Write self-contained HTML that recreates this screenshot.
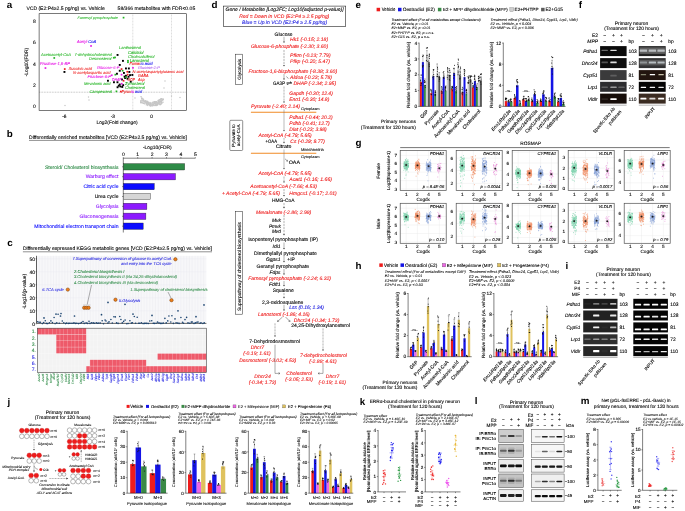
<!DOCTYPE html>
<html><head><meta charset="utf-8"><title>Figure</title>
<style>
html,body{margin:0;padding:0;background:#fff;}
body{width:685px;height:511px;overflow:hidden;}
svg{display:block;font-family:"Liberation Sans",sans-serif;}
text{white-space:pre;text-rendering:geometricPrecision;fill:currentColor;stroke:currentColor;stroke-width:.1px;}
.s{stroke-width:.06px;}
</style></head><body>
<svg width="685" height="511" viewBox="0 0 685 511">
<defs><filter id="bl" x="-10%" y="-100%" width="120%" height="300%"><feGaussianBlur stdDeviation="0.45"/></filter><filter id="bw" x="-10%" y="-100%" width="120%" height="300%"><feGaussianBlur stdDeviation="0.55 0.45"/></filter></defs>
<rect width="685" height="511" fill="#fff"/>
<text x="6.8" y="7.9" font-size="9.8" font-weight="bold" style="stroke:none">a</text>
<text x="26.4" y="10.1" font-size="5.04" textLength="78.4" lengthAdjust="spacingAndGlyphs">VCD (E2:P4≥2.5 pg/ng) vs. Vehicle</text>
<text x="117.6" y="10.1" font-size="5.05" textLength="77.6" lengthAdjust="spacingAndGlyphs">58/366 metabolites with FDR&lt;0.05</text>
<rect x="39.1" y="13.7" width="147.2" height="96.7" fill="#fff" stroke="#222" stroke-width="0.6"/>
<line x1="132.8" y1="13.7" x2="132.8" y2="110.4" stroke="#777" stroke-width="0.4" stroke-dasharray="0.6 0.9"/>
<line x1="171.5" y1="13.7" x2="171.5" y2="110.4" stroke="#777" stroke-width="0.4" stroke-dasharray="0.6 0.9"/>
<line x1="39.1" y1="92.2" x2="186.3" y2="92.2" stroke="#555" stroke-width="0.4" stroke-dasharray="0.8 0.8"/>
<text x="34.5" y="108.2" font-size="5.01" text-anchor="middle">0</text>
<text x="34.5" y="86.9" font-size="5.01" text-anchor="middle">2</text>
<text x="34.5" y="65.6" font-size="5.01" text-anchor="middle">4</text>
<text x="34.5" y="44.3" font-size="5.01" text-anchor="middle">6</text>
<text x="34.5" y="23" font-size="5.01" text-anchor="middle">8</text>
<text x="64.3" y="117.7" font-size="4.8" text-anchor="middle">-6</text>
<text x="112.8" y="117.7" font-size="4.8" text-anchor="middle">-3</text>
<text x="151.5" y="117.7" font-size="4.8" text-anchor="middle">0</text>
<text x="117" y="123.9" font-size="4.91" text-anchor="middle">Log2(Fold change)</text>
<text x="26.2" y="63.8" font-size="4.91" text-anchor="middle" transform="rotate(-90 26.2 62.1)">-Log10(FDR)</text>
<rect x="145.3" y="102.5" width="1.3" height="1.3" fill="#c6c6c6"/>
<rect x="148.4" y="103.6" width="1.3" height="1.3" fill="#c6c6c6"/>
<rect x="154.2" y="101.4" width="1.3" height="1.3" fill="#c6c6c6"/>
<rect x="140.2" y="101.3" width="1.3" height="1.3" fill="#c6c6c6"/>
<rect x="145.8" y="101.3" width="1.3" height="1.3" fill="#c6c6c6"/>
<rect x="162.7" y="98.5" width="1.3" height="1.3" fill="#c6c6c6"/>
<rect x="159.1" y="101.3" width="1.3" height="1.3" fill="#c6c6c6"/>
<rect x="154.5" y="101.7" width="1.3" height="1.3" fill="#c6c6c6"/>
<rect x="154.5" y="104.6" width="1.3" height="1.3" fill="#c6c6c6"/>
<rect x="151.9" y="104.3" width="1.3" height="1.3" fill="#c6c6c6"/>
<rect x="155.3" y="101.1" width="1.3" height="1.3" fill="#c6c6c6"/>
<rect x="157.3" y="102.8" width="1.3" height="1.3" fill="#c6c6c6"/>
<rect x="146.8" y="100.8" width="1.3" height="1.3" fill="#c6c6c6"/>
<rect x="159.8" y="100.9" width="1.3" height="1.3" fill="#c6c6c6"/>
<rect x="156.4" y="104.3" width="1.3" height="1.3" fill="#c6c6c6"/>
<rect x="156.3" y="104.5" width="1.3" height="1.3" fill="#c6c6c6"/>
<rect x="148.9" y="104.4" width="1.3" height="1.3" fill="#c6c6c6"/>
<rect x="150.1" y="105.1" width="1.3" height="1.3" fill="#c6c6c6"/>
<rect x="160.1" y="98.6" width="1.3" height="1.3" fill="#c6c6c6"/>
<rect x="143" y="99.5" width="1.3" height="1.3" fill="#c6c6c6"/>
<rect x="162.1" y="98.9" width="1.3" height="1.3" fill="#c6c6c6"/>
<rect x="154.3" y="102.3" width="1.3" height="1.3" fill="#c6c6c6"/>
<rect x="151.5" y="102.9" width="1.3" height="1.3" fill="#c6c6c6"/>
<rect x="147.9" y="103.4" width="1.3" height="1.3" fill="#c6c6c6"/>
<rect x="153.3" y="104.9" width="1.3" height="1.3" fill="#c6c6c6"/>
<rect x="155.5" y="104.7" width="1.3" height="1.3" fill="#c6c6c6"/>
<rect x="159.5" y="103.9" width="1.3" height="1.3" fill="#c6c6c6"/>
<rect x="155.3" y="101.5" width="1.3" height="1.3" fill="#c6c6c6"/>
<rect x="159.6" y="103.7" width="1.3" height="1.3" fill="#c6c6c6"/>
<rect x="160.7" y="100.9" width="1.3" height="1.3" fill="#c6c6c6"/>
<rect x="156.3" y="101.4" width="1.3" height="1.3" fill="#c6c6c6"/>
<rect x="159" y="101.9" width="1.3" height="1.3" fill="#c6c6c6"/>
<rect x="146.4" y="100.8" width="1.3" height="1.3" fill="#c6c6c6"/>
<rect x="159.5" y="103.9" width="1.3" height="1.3" fill="#c6c6c6"/>
<rect x="141.9" y="102.2" width="1.3" height="1.3" fill="#c6c6c6"/>
<rect x="149.3" y="101.9" width="1.3" height="1.3" fill="#c6c6c6"/>
<rect x="146.6" y="103.9" width="1.3" height="1.3" fill="#c6c6c6"/>
<rect x="159.9" y="98.4" width="1.3" height="1.3" fill="#c6c6c6"/>
<rect x="154" y="101.3" width="1.3" height="1.3" fill="#c6c6c6"/>
<rect x="156.4" y="101.9" width="1.3" height="1.3" fill="#c6c6c6"/>
<rect x="160.1" y="103.6" width="1.3" height="1.3" fill="#c6c6c6"/>
<rect x="151.5" y="105.3" width="1.3" height="1.3" fill="#c6c6c6"/>
<rect x="147" y="101" width="1.3" height="1.3" fill="#c6c6c6"/>
<rect x="153.6" y="101.3" width="1.3" height="1.3" fill="#c6c6c6"/>
<rect x="144.4" y="101.4" width="1.3" height="1.3" fill="#c6c6c6"/>
<rect x="153.9" y="101.8" width="1.3" height="1.3" fill="#c6c6c6"/>
<rect x="140.8" y="102" width="1.3" height="1.3" fill="#c6c6c6"/>
<rect x="147.1" y="104.8" width="1.3" height="1.3" fill="#c6c6c6"/>
<rect x="160.5" y="99.9" width="1.3" height="1.3" fill="#c6c6c6"/>
<rect x="150.4" y="103.4" width="1.3" height="1.3" fill="#c6c6c6"/>
<rect x="154.7" y="103.5" width="1.3" height="1.3" fill="#c6c6c6"/>
<rect x="152.7" y="103.8" width="1.3" height="1.3" fill="#c6c6c6"/>
<rect x="161.5" y="99.9" width="1.3" height="1.3" fill="#c6c6c6"/>
<rect x="149.8" y="104.2" width="1.3" height="1.3" fill="#c6c6c6"/>
<rect x="145.3" y="101.4" width="1.3" height="1.3" fill="#c6c6c6"/>
<rect x="162.3" y="99.2" width="1.3" height="1.3" fill="#c6c6c6"/>
<rect x="152.5" y="101.4" width="1.3" height="1.3" fill="#c6c6c6"/>
<rect x="149.4" y="103.6" width="1.3" height="1.3" fill="#c6c6c6"/>
<rect x="140.3" y="99.9" width="1.3" height="1.3" fill="#c6c6c6"/>
<rect x="154.4" y="101.3" width="1.3" height="1.3" fill="#c6c6c6"/>
<rect x="154.3" y="103" width="1.3" height="1.3" fill="#c6c6c6"/>
<rect x="155.5" y="102.3" width="1.3" height="1.3" fill="#c6c6c6"/>
<rect x="156.1" y="103.8" width="1.3" height="1.3" fill="#c6c6c6"/>
<rect x="140.4" y="96" width="1.3" height="1.3" fill="#c6c6c6"/>
<rect x="155.4" y="104.9" width="1.3" height="1.3" fill="#c6c6c6"/>
<rect x="145.6" y="102.2" width="1.3" height="1.3" fill="#c6c6c6"/>
<rect x="153.5" y="102.5" width="1.3" height="1.3" fill="#c6c6c6"/>
<rect x="148.2" y="102.4" width="1.3" height="1.3" fill="#c6c6c6"/>
<rect x="148.3" y="103.5" width="1.3" height="1.3" fill="#c6c6c6"/>
<rect x="146.8" y="102.3" width="1.3" height="1.3" fill="#c6c6c6"/>
<rect x="157.6" y="100" width="1.3" height="1.3" fill="#c6c6c6"/>
<rect x="152.9" y="104.2" width="1.3" height="1.3" fill="#c6c6c6"/>
<rect x="147" y="101.7" width="1.3" height="1.3" fill="#c6c6c6"/>
<rect x="158.3" y="100.6" width="1.3" height="1.3" fill="#c6c6c6"/>
<rect x="144.2" y="101.4" width="1.3" height="1.3" fill="#c6c6c6"/>
<rect x="155.9" y="101.1" width="1.3" height="1.3" fill="#c6c6c6"/>
<rect x="147.3" y="102.2" width="1.3" height="1.3" fill="#c6c6c6"/>
<rect x="159" y="101.2" width="1.3" height="1.3" fill="#c6c6c6"/>
<rect x="159.5" y="99.4" width="1.3" height="1.3" fill="#c6c6c6"/>
<rect x="147.6" y="103.6" width="1.3" height="1.3" fill="#c6c6c6"/>
<rect x="160.2" y="100.5" width="1.3" height="1.3" fill="#c6c6c6"/>
<rect x="145" y="100.4" width="1.3" height="1.3" fill="#c6c6c6"/>
<rect x="152" y="102.1" width="1.3" height="1.3" fill="#c6c6c6"/>
<rect x="158.4" y="103.5" width="1.3" height="1.3" fill="#c6c6c6"/>
<rect x="144.1" y="100.6" width="1.3" height="1.3" fill="#c6c6c6"/>
<rect x="158.4" y="102.5" width="1.3" height="1.3" fill="#c6c6c6"/>
<rect x="158.4" y="101.1" width="1.3" height="1.3" fill="#c6c6c6"/>
<rect x="142.8" y="99.8" width="1.3" height="1.3" fill="#c6c6c6"/>
<rect x="158.1" y="100.9" width="1.3" height="1.3" fill="#c6c6c6"/>
<rect x="147.8" y="102.7" width="1.3" height="1.3" fill="#c6c6c6"/>
<rect x="149.5" y="102.9" width="1.3" height="1.3" fill="#c6c6c6"/>
<rect x="161" y="98" width="1.3" height="1.3" fill="#c6c6c6"/>
<rect x="140" y="102" width="1.3" height="1.3" fill="#c6c6c6"/>
<rect x="160.1" y="103.6" width="1.3" height="1.3" fill="#c6c6c6"/>
<rect x="149.8" y="105.1" width="1.3" height="1.3" fill="#c6c6c6"/>
<rect x="161.2" y="98.3" width="1.3" height="1.3" fill="#c6c6c6"/>
<rect x="157" y="104" width="1.3" height="1.3" fill="#c6c6c6"/>
<rect x="155.1" y="103.1" width="1.3" height="1.3" fill="#c6c6c6"/>
<rect x="146.5" y="102" width="1.3" height="1.3" fill="#c6c6c6"/>
<rect x="145.1" y="100.2" width="1.3" height="1.3" fill="#c6c6c6"/>
<rect x="153.4" y="102.4" width="1.3" height="1.3" fill="#c6c6c6"/>
<rect x="158.5" y="99.5" width="1.3" height="1.3" fill="#c6c6c6"/>
<rect x="160.6" y="101.6" width="1.3" height="1.3" fill="#c6c6c6"/>
<rect x="161.1" y="102.6" width="1.3" height="1.3" fill="#c6c6c6"/>
<rect x="160.5" y="101" width="1.3" height="1.3" fill="#c6c6c6"/>
<rect x="140.2" y="100.7" width="1.3" height="1.3" fill="#c6c6c6"/>
<rect x="143.8" y="100.5" width="1.3" height="1.3" fill="#c6c6c6"/>
<rect x="155.1" y="103.1" width="1.3" height="1.3" fill="#c6c6c6"/>
<rect x="149.4" y="105" width="1.3" height="1.3" fill="#c6c6c6"/>
<rect x="153.9" y="102.6" width="1.3" height="1.3" fill="#c6c6c6"/>
<rect x="145.7" y="104.1" width="1.3" height="1.3" fill="#c6c6c6"/>
<rect x="150.8" y="104.5" width="1.3" height="1.3" fill="#c6c6c6"/>
<rect x="147.9" y="101.8" width="1.3" height="1.3" fill="#c6c6c6"/>
<rect x="152.1" y="104.6" width="1.3" height="1.3" fill="#c6c6c6"/>
<rect x="143.8" y="103.1" width="1.3" height="1.3" fill="#c6c6c6"/>
<rect x="161.1" y="102.1" width="1.3" height="1.3" fill="#c6c6c6"/>
<rect x="158.8" y="99.1" width="1.3" height="1.3" fill="#c6c6c6"/>
<rect x="154.3" y="104.6" width="1.3" height="1.3" fill="#c6c6c6"/>
<rect x="141" y="98.1" width="1.3" height="1.3" fill="#c6c6c6"/>
<rect x="146" y="102.7" width="1.3" height="1.3" fill="#c6c6c6"/>
<rect x="149.6" y="103.2" width="1.3" height="1.3" fill="#c6c6c6"/>
<rect x="157.7" y="99.8" width="1.3" height="1.3" fill="#c6c6c6"/>
<rect x="141.1" y="97.3" width="1.3" height="1.3" fill="#c6c6c6"/>
<rect x="142.7" y="98.5" width="1.3" height="1.3" fill="#c6c6c6"/>
<rect x="162.3" y="101.6" width="1.3" height="1.3" fill="#c6c6c6"/>
<rect x="141.8" y="100.3" width="1.3" height="1.3" fill="#c6c6c6"/>
<rect x="147.1" y="102.1" width="1.3" height="1.3" fill="#c6c6c6"/>
<rect x="147.9" y="103.7" width="1.3" height="1.3" fill="#c6c6c6"/>
<rect x="153.3" y="102.7" width="1.3" height="1.3" fill="#c6c6c6"/>
<rect x="144.2" y="100.9" width="1.3" height="1.3" fill="#c6c6c6"/>
<rect x="142.7" y="101.2" width="1.3" height="1.3" fill="#c6c6c6"/>
<rect x="156.3" y="102.2" width="1.3" height="1.3" fill="#c6c6c6"/>
<rect x="141.7" y="98.2" width="1.3" height="1.3" fill="#c6c6c6"/>
<rect x="148.4" y="103.6" width="1.3" height="1.3" fill="#c6c6c6"/>
<rect x="157.9" y="101.5" width="1.3" height="1.3" fill="#c6c6c6"/>
<rect x="158.3" y="102.5" width="1.3" height="1.3" fill="#c6c6c6"/>
<rect x="149.8" y="102.8" width="1.3" height="1.3" fill="#c6c6c6"/>
<rect x="151.3" y="104.2" width="1.3" height="1.3" fill="#c6c6c6"/>
<rect x="149.5" y="104.1" width="1.3" height="1.3" fill="#c6c6c6"/>
<rect x="150.4" y="102.3" width="1.3" height="1.3" fill="#c6c6c6"/>
<rect x="152.2" y="104.1" width="1.3" height="1.3" fill="#c6c6c6"/>
<rect x="141.5" y="99.6" width="1.3" height="1.3" fill="#c6c6c6"/>
<rect x="149.6" y="104.8" width="1.3" height="1.3" fill="#c6c6c6"/>
<rect x="161.4" y="99.1" width="1.3" height="1.3" fill="#c6c6c6"/>
<rect x="160.5" y="102.3" width="1.3" height="1.3" fill="#c6c6c6"/>
<rect x="145.9" y="102.3" width="1.3" height="1.3" fill="#c6c6c6"/>
<rect x="142.7" y="102.7" width="1.3" height="1.3" fill="#c6c6c6"/>
<rect x="155.1" y="104.6" width="1.3" height="1.3" fill="#c6c6c6"/>
<rect x="158.1" y="102.8" width="1.3" height="1.3" fill="#c6c6c6"/>
<rect x="156.7" y="102.8" width="1.3" height="1.3" fill="#c6c6c6"/>
<rect x="64.4" y="104.9" width="1.2" height="1.2" fill="#c2c2c2"/>
<rect x="87.9" y="96.4" width="1.2" height="1.2" fill="#c2c2c2"/>
<rect x="88.4" y="99.4" width="1.2" height="1.2" fill="#c2c2c2"/>
<rect x="164.4" y="80.4" width="1.2" height="1.2" fill="#c2c2c2"/>
<rect x="163.4" y="87.4" width="1.2" height="1.2" fill="#c2c2c2"/>
<rect x="170.9" y="95.4" width="1.2" height="1.2" fill="#c2c2c2"/>
<rect x="179.4" y="96.9" width="1.2" height="1.2" fill="#c2c2c2"/>
<rect x="134.4" y="97.4" width="1.2" height="1.2" fill="#c2c2c2"/>
<rect x="116.6" y="54" width="1.9" height="1.9" fill="#000"/>
<rect x="122" y="59.9" width="1.9" height="1.9" fill="#000"/>
<rect x="118.8" y="64" width="1.9" height="1.9" fill="#000"/>
<rect x="125" y="67.5" width="1.9" height="1.9" fill="#000"/>
<rect x="127.9" y="67.5" width="1.9" height="1.9" fill="#000"/>
<rect x="118.8" y="69.8" width="1.9" height="1.9" fill="#000"/>
<rect x="128.4" y="71" width="1.9" height="1.9" fill="#000"/>
<rect x="116" y="72.8" width="1.9" height="1.9" fill="#000"/>
<rect x="129.1" y="74.2" width="1.9" height="1.9" fill="#000"/>
<rect x="131.4" y="74" width="1.9" height="1.9" fill="#000"/>
<rect x="123.6" y="75.6" width="1.9" height="1.9" fill="#000"/>
<rect x="125" y="74.8" width="1.9" height="1.9" fill="#000"/>
<rect x="124.2" y="77.1" width="1.9" height="1.9" fill="#000"/>
<rect x="126.6" y="77.8" width="1.9" height="1.9" fill="#000"/>
<rect x="107" y="79.8" width="1.9" height="1.9" fill="#000"/>
<rect x="113" y="81.3" width="1.9" height="1.9" fill="#000"/>
<rect x="116.5" y="81.3" width="1.9" height="1.9" fill="#000"/>
<rect x="129.8" y="80.8" width="1.9" height="1.9" fill="#000"/>
<rect x="118.8" y="83.6" width="1.9" height="1.9" fill="#000"/>
<rect x="117.8" y="84.8" width="1.9" height="1.9" fill="#000"/>
<rect x="116.6" y="86.3" width="1.9" height="1.9" fill="#000"/>
<rect x="119.5" y="85.5" width="1.9" height="1.9" fill="#000"/>
<rect x="121.3" y="86" width="1.9" height="1.9" fill="#000"/>
<rect x="122.2" y="84.2" width="1.9" height="1.9" fill="#000"/>
<rect x="63.5" y="71" width="1.9" height="1.9" fill="#000"/>
<rect x="123" y="72" width="1.9" height="1.9" fill="#000"/>
<rect x="121" y="78.5" width="1.9" height="1.9" fill="#000"/>
<rect x="127.6" y="75.8" width="1.9" height="1.9" fill="#000"/>
<rect x="122.7" y="16.8" width="1.7" height="1.7" fill="#22b422"/>
<rect x="90.2" y="45.1" width="1.7" height="1.7" fill="#e619e6"/>
<rect x="53.4" y="57.1" width="1.7" height="1.7" fill="#22b422"/>
<rect x="44.6" y="67.2" width="1.7" height="1.7" fill="#e619e6"/>
<rect x="63.9" y="68.2" width="1.7" height="1.7" fill="#ee1c1c"/>
<rect x="112.9" y="56.9" width="1.7" height="1.7" fill="#22b422"/>
<rect x="114.2" y="56.6" width="1.7" height="1.7" fill="#22b422"/>
<rect x="127.1" y="59.9" width="1.7" height="1.7" fill="#22b422"/>
<rect x="127.1" y="61.4" width="1.7" height="1.7" fill="#22b422"/>
<rect x="120.7" y="68.2" width="1.7" height="1.7" fill="#ee1c1c"/>
<rect x="132.1" y="67" width="1.7" height="1.7" fill="#e619e6"/>
<rect x="110.9" y="74.4" width="1.7" height="1.7" fill="#e619e6"/>
<rect x="114.5" y="73.8" width="1.7" height="1.7" fill="#22b422"/>
<rect x="121.8" y="69.9" width="1.7" height="1.7" fill="#22b422"/>
<rect x="126.4" y="70.9" width="1.7" height="1.7" fill="#ee1c1c"/>
<rect x="126.8" y="73.8" width="1.7" height="1.7" fill="#ee1c1c"/>
<rect x="122.7" y="79.9" width="1.7" height="1.7" fill="#ee1c1c"/>
<rect x="120.9" y="82.9" width="1.7" height="1.7" fill="#e619e6"/>
<rect x="115.6" y="90.5" width="1.7" height="1.7" fill="#22b422"/>
<rect x="120" y="90.7" width="1.7" height="1.7" fill="#ee1c1c"/>
<rect x="125.2" y="76.5" width="1.7" height="1.7" fill="#22b422"/>
<rect x="120.7" y="73.8" width="1.7" height="1.7" fill="#e619e6"/>
<text x="77.5" y="18.9" font-size="3.77" color="#22b422" class="s" font-style="italic" textLength="40.5" lengthAdjust="spacingAndGlyphs">Farnesyl pyrophosphate</text>
<text x="77" y="43" font-size="4.25" color="#e619e6" font-style="italic" textLength="11.2" lengthAdjust="spacingAndGlyphs">Acetyl-</text>
<text x="88.2" y="43" font-size="4.25" color="#2222ee" font-style="italic" textLength="8" lengthAdjust="spacingAndGlyphs">CoA</text>
<text x="41" y="55.6" font-size="4.03" color="#22b422" class="s" font-style="italic" textLength="30" lengthAdjust="spacingAndGlyphs">Acetoacetyl-CoA</text>
<text x="40" y="65" font-size="4.12" color="#e619e6" font-style="italic" textLength="30" lengthAdjust="spacingAndGlyphs">Fructose-1,6-BP</text>
<text x="68.5" y="70.2" font-size="4.03" color="#ee1c1c" class="s" font-style="italic" textLength="23.5" lengthAdjust="spacingAndGlyphs">Succinic acid</text>
<text x="73" y="74" font-size="4.04" color="#ee1c1c" class="s" font-style="italic" textLength="37.5" lengthAdjust="spacingAndGlyphs">N-acetylaspartic acid</text>
<text x="74.5" y="55.9" font-size="4.02" color="#22b422" class="s" font-style="italic" textLength="37.5" lengthAdjust="spacingAndGlyphs">7-dehydrocholesterol</text>
<text x="89" y="59.8" font-size="4.01" color="#22b422" class="s" font-style="italic" textLength="22.5" lengthAdjust="spacingAndGlyphs">Desmosterol</text>
<text x="97" y="69.2" font-size="4.05" color="#e619e6" class="s" font-style="italic" textLength="22.5" lengthAdjust="spacingAndGlyphs">Glucose-6-P</text>
<text x="87.5" y="78.4" font-size="4.07" color="#e619e6" font-style="italic" textLength="23.5" lengthAdjust="spacingAndGlyphs">Fructose-6-P</text>
<text x="84" y="85" font-size="4.01" color="#22b422" class="s" font-style="italic" textLength="26.5" lengthAdjust="spacingAndGlyphs">Mevalonic acid</text>
<text x="89.5" y="92.6" font-size="3.97" color="#22b422" class="s" font-style="italic" textLength="22.5" lengthAdjust="spacingAndGlyphs">Campesterol</text>
<text x="112" y="81.1" font-size="4.25" color="#e619e6" font-style="italic" textLength="9.5" lengthAdjust="spacingAndGlyphs">DHAP</text>
<text x="119" y="49" font-size="4.0" color="#22b422" class="s" font-style="italic" textLength="22" lengthAdjust="spacingAndGlyphs">Lanthosterol</text>
<text x="128" y="53.5" font-size="4.25" color="#22b422" font-style="italic" textLength="15.5" lengthAdjust="spacingAndGlyphs">Calcitriol</text>
<text x="128" y="57.6" font-size="4.04" color="#22b422" class="s" font-style="italic" textLength="26.5" lengthAdjust="spacingAndGlyphs">Cholecalciferol</text>
<text x="130" y="61.5" font-size="4.25" color="#22b422" font-style="italic" textLength="19" lengthAdjust="spacingAndGlyphs">Lanosterol</text>
<text x="129.5" y="65.1" font-size="4.25" color="#ee1c1c" font-style="italic" textLength="11" lengthAdjust="spacingAndGlyphs">Fumar</text>
<text x="140.5" y="65.1" font-size="4.25" color="#2222ee" font-style="italic" textLength="12" lengthAdjust="spacingAndGlyphs">ic acid</text>
<text x="138" y="69" font-size="3.96" color="#b060f0" class="s" font-style="italic" textLength="22" lengthAdjust="spacingAndGlyphs">Glucose-1-P</text>
<text x="132.5" y="72.8" font-size="3.92" color="#ee1c1c" class="s" font-style="italic" textLength="51" lengthAdjust="spacingAndGlyphs">N-acetylaspartylglutamic acid</text>
<text x="138" y="76.9" font-size="4.25" color="#ee1c1c" font-style="italic" textLength="10.5" lengthAdjust="spacingAndGlyphs">GABA</text>
<text x="127.5" y="81.1" font-size="4.25" color="#ee1c1c" font-style="italic" textLength="7.5" lengthAdjust="spacingAndGlyphs">GDP</text>
<text x="138" y="81.1" font-size="4.25" color="#ee1c1c" font-style="italic" textLength="6.5" lengthAdjust="spacingAndGlyphs">Asp</text>
<text x="125" y="85.1" font-size="4.25" color="#22b422" font-style="italic" textLength="19.5" lengthAdjust="spacingAndGlyphs">Zymosterol</text>
<text x="125" y="88.8" font-size="3.95" color="#22b422" class="s" font-style="italic" textLength="20" lengthAdjust="spacingAndGlyphs">Cholesterol</text>
<text x="121.5" y="92.7" font-size="4.25" color="#ee1c1c" font-style="italic" textLength="9.5" lengthAdjust="spacingAndGlyphs">Pyruv</text>
<text x="131" y="92.7" font-size="4.25" color="#e619e6" font-style="italic" textLength="3" lengthAdjust="spacingAndGlyphs">ic</text>
<text x="135" y="92.7" font-size="4.25" color="#2222ee" font-style="italic" textLength="7" lengthAdjust="spacingAndGlyphs">acid</text>
<text x="6.8" y="137" font-size="9.8" font-weight="bold" style="stroke:none">b</text>
<text x="29" y="139" font-size="5.03" textLength="157.9" lengthAdjust="spacingAndGlyphs">Differentially enriched metabolites [VCD (E2:P4≥2.5 pg/ng) vs. Vehicle]</text>
<line x1="29" y1="140.4" x2="186.9" y2="140.4" stroke="#444" stroke-width="0.6"/>
<text x="157.3" y="149" font-size="4.91" text-anchor="middle">-Log10(FDR)</text>
<text x="123.3" y="156.1" font-size="5.07" text-anchor="middle">0</text>
<line x1="123.3" y1="157" x2="123.3" y2="158.4" stroke="#000" stroke-width="0.4"/>
<text x="137.7" y="156.1" font-size="5.07" text-anchor="middle">1</text>
<line x1="137.7" y1="157" x2="137.7" y2="158.4" stroke="#000" stroke-width="0.4"/>
<text x="152.1" y="156.1" font-size="5.07" text-anchor="middle">2</text>
<line x1="152.1" y1="157" x2="152.1" y2="158.4" stroke="#000" stroke-width="0.4"/>
<text x="166.5" y="156.1" font-size="5.07" text-anchor="middle">3</text>
<line x1="166.5" y1="157" x2="166.5" y2="158.4" stroke="#000" stroke-width="0.4"/>
<text x="180.9" y="156.1" font-size="5.07" text-anchor="middle">4</text>
<line x1="180.9" y1="157" x2="180.9" y2="158.4" stroke="#000" stroke-width="0.4"/>
<text x="195.3" y="156.1" font-size="5.07" text-anchor="middle">5</text>
<line x1="195.3" y1="157" x2="195.3" y2="158.4" stroke="#000" stroke-width="0.4"/>
<line x1="123.3" y1="158.2" x2="195.3" y2="158.2" stroke="#000" stroke-width="0.5"/>
<line x1="123.3" y1="158.2" x2="123.3" y2="232.5" stroke="#000" stroke-width="0.5"/>
<rect x="123.3" y="163.6" width="61.4" height="6.4" fill="#2e8b47" stroke="#222" stroke-width="0.35"/>
<line x1="122" y1="166.8" x2="123.3" y2="166.8" stroke="#000" stroke-width="0.4"/>
<text x="118.5" y="168.5" font-size="5.05" text-anchor="end" color="#2e8b47">Steroid/ Cholesterol biosynthesis</text>
<rect x="123.3" y="173.5" width="52.2" height="6.4" fill="#8c1aff" stroke="#222" stroke-width="0.35"/>
<line x1="122" y1="176.7" x2="123.3" y2="176.7" stroke="#000" stroke-width="0.4"/>
<text x="118.5" y="178.4" font-size="5.05" text-anchor="end" color="#8c1aff">Warburg effect</text>
<rect x="123.3" y="183.4" width="31" height="6.4" fill="#0b0bff" stroke="#222" stroke-width="0.35"/>
<line x1="122" y1="186.6" x2="123.3" y2="186.6" stroke="#000" stroke-width="0.4"/>
<text x="118.5" y="188.3" font-size="5.05" text-anchor="end" color="#0b0bff">Citric acid cycle</text>
<rect x="123.3" y="193.3" width="27.3" height="6.4" fill="#d6d6d6" stroke="#222" stroke-width="0.35"/>
<line x1="122" y1="196.5" x2="123.3" y2="196.5" stroke="#000" stroke-width="0.4"/>
<text x="118.5" y="198.2" font-size="5.05" text-anchor="end">Urea cycle</text>
<rect x="123.3" y="203.2" width="23.6" height="6.4" fill="#8c1aff" stroke="#222" stroke-width="0.35"/>
<line x1="122" y1="206.4" x2="123.3" y2="206.4" stroke="#000" stroke-width="0.4"/>
<text x="118.5" y="208.1" font-size="5.05" text-anchor="end" color="#8c1aff">Glycolysis</text>
<rect x="123.3" y="213.1" width="22.6" height="6.4" fill="#8c1aff" stroke="#222" stroke-width="0.35"/>
<line x1="122" y1="216.3" x2="123.3" y2="216.3" stroke="#000" stroke-width="0.4"/>
<text x="118.5" y="218" font-size="5.05" text-anchor="end" color="#8c1aff">Gluconeogenesis</text>
<rect x="123.3" y="223" width="19.9" height="6.4" fill="#0b0bff" stroke="#222" stroke-width="0.35"/>
<line x1="122" y1="226.2" x2="123.3" y2="226.2" stroke="#000" stroke-width="0.4"/>
<text x="118.5" y="227.9" font-size="5.05" text-anchor="end" color="#0b0bff">Mitochondrial electron transport chain</text>
<text x="7.2" y="245.8" font-size="9.8" font-weight="bold" style="stroke:none">c</text>
<text x="22.9" y="250.4" font-size="5.04" textLength="189" lengthAdjust="spacingAndGlyphs">Differentially expressed KEGG metabolic genes [VCD (E2:P4≥2.5 pg/ng) vs. Vehicle]</text>
<line x1="22.9" y1="251.8" x2="212" y2="251.8" stroke="#444" stroke-width="0.6"/>
<rect x="36.5" y="255.8" width="169.9" height="67.6" fill="#f7f7f9"/>
<line x1="39.3" y1="255.8" x2="39.3" y2="323.4" stroke="#e3e3ea" stroke-width="0.3"/>
<line x1="42.2" y1="255.8" x2="42.2" y2="323.4" stroke="#e3e3ea" stroke-width="0.3"/>
<line x1="45" y1="255.8" x2="45" y2="323.4" stroke="#e3e3ea" stroke-width="0.3"/>
<line x1="47.8" y1="255.8" x2="47.8" y2="323.4" stroke="#e3e3ea" stroke-width="0.3"/>
<line x1="50.7" y1="255.8" x2="50.7" y2="323.4" stroke="#e3e3ea" stroke-width="0.3"/>
<line x1="53.5" y1="255.8" x2="53.5" y2="323.4" stroke="#e3e3ea" stroke-width="0.3"/>
<line x1="56.3" y1="255.8" x2="56.3" y2="323.4" stroke="#e3e3ea" stroke-width="0.3"/>
<line x1="59.2" y1="255.8" x2="59.2" y2="323.4" stroke="#e3e3ea" stroke-width="0.3"/>
<line x1="62" y1="255.8" x2="62" y2="323.4" stroke="#e3e3ea" stroke-width="0.3"/>
<line x1="64.8" y1="255.8" x2="64.8" y2="323.4" stroke="#e3e3ea" stroke-width="0.3"/>
<line x1="67.6" y1="255.8" x2="67.6" y2="323.4" stroke="#e3e3ea" stroke-width="0.3"/>
<line x1="70.5" y1="255.8" x2="70.5" y2="323.4" stroke="#e3e3ea" stroke-width="0.3"/>
<line x1="73.3" y1="255.8" x2="73.3" y2="323.4" stroke="#e3e3ea" stroke-width="0.3"/>
<line x1="76.1" y1="255.8" x2="76.1" y2="323.4" stroke="#e3e3ea" stroke-width="0.3"/>
<line x1="79" y1="255.8" x2="79" y2="323.4" stroke="#e3e3ea" stroke-width="0.3"/>
<line x1="81.8" y1="255.8" x2="81.8" y2="323.4" stroke="#e3e3ea" stroke-width="0.3"/>
<line x1="84.6" y1="255.8" x2="84.6" y2="323.4" stroke="#e3e3ea" stroke-width="0.3"/>
<line x1="87.5" y1="255.8" x2="87.5" y2="323.4" stroke="#e3e3ea" stroke-width="0.3"/>
<line x1="90.3" y1="255.8" x2="90.3" y2="323.4" stroke="#e3e3ea" stroke-width="0.3"/>
<line x1="93.1" y1="255.8" x2="93.1" y2="323.4" stroke="#e3e3ea" stroke-width="0.3"/>
<line x1="96" y1="255.8" x2="96" y2="323.4" stroke="#e3e3ea" stroke-width="0.3"/>
<line x1="98.8" y1="255.8" x2="98.8" y2="323.4" stroke="#e3e3ea" stroke-width="0.3"/>
<line x1="101.6" y1="255.8" x2="101.6" y2="323.4" stroke="#e3e3ea" stroke-width="0.3"/>
<line x1="104.5" y1="255.8" x2="104.5" y2="323.4" stroke="#e3e3ea" stroke-width="0.3"/>
<line x1="107.3" y1="255.8" x2="107.3" y2="323.4" stroke="#e3e3ea" stroke-width="0.3"/>
<line x1="110.1" y1="255.8" x2="110.1" y2="323.4" stroke="#e3e3ea" stroke-width="0.3"/>
<line x1="113" y1="255.8" x2="113" y2="323.4" stroke="#e3e3ea" stroke-width="0.3"/>
<line x1="115.8" y1="255.8" x2="115.8" y2="323.4" stroke="#e3e3ea" stroke-width="0.3"/>
<line x1="118.6" y1="255.8" x2="118.6" y2="323.4" stroke="#e3e3ea" stroke-width="0.3"/>
<line x1="121.5" y1="255.8" x2="121.5" y2="323.4" stroke="#e3e3ea" stroke-width="0.3"/>
<line x1="124.3" y1="255.8" x2="124.3" y2="323.4" stroke="#e3e3ea" stroke-width="0.3"/>
<line x1="127.1" y1="255.8" x2="127.1" y2="323.4" stroke="#e3e3ea" stroke-width="0.3"/>
<line x1="129.9" y1="255.8" x2="129.9" y2="323.4" stroke="#e3e3ea" stroke-width="0.3"/>
<line x1="132.8" y1="255.8" x2="132.8" y2="323.4" stroke="#e3e3ea" stroke-width="0.3"/>
<line x1="135.6" y1="255.8" x2="135.6" y2="323.4" stroke="#e3e3ea" stroke-width="0.3"/>
<line x1="138.4" y1="255.8" x2="138.4" y2="323.4" stroke="#e3e3ea" stroke-width="0.3"/>
<line x1="141.3" y1="255.8" x2="141.3" y2="323.4" stroke="#e3e3ea" stroke-width="0.3"/>
<line x1="144.1" y1="255.8" x2="144.1" y2="323.4" stroke="#e3e3ea" stroke-width="0.3"/>
<line x1="146.9" y1="255.8" x2="146.9" y2="323.4" stroke="#e3e3ea" stroke-width="0.3"/>
<line x1="149.8" y1="255.8" x2="149.8" y2="323.4" stroke="#e3e3ea" stroke-width="0.3"/>
<line x1="152.6" y1="255.8" x2="152.6" y2="323.4" stroke="#e3e3ea" stroke-width="0.3"/>
<line x1="155.4" y1="255.8" x2="155.4" y2="323.4" stroke="#e3e3ea" stroke-width="0.3"/>
<line x1="158.3" y1="255.8" x2="158.3" y2="323.4" stroke="#e3e3ea" stroke-width="0.3"/>
<line x1="161.1" y1="255.8" x2="161.1" y2="323.4" stroke="#e3e3ea" stroke-width="0.3"/>
<line x1="163.9" y1="255.8" x2="163.9" y2="323.4" stroke="#e3e3ea" stroke-width="0.3"/>
<line x1="166.8" y1="255.8" x2="166.8" y2="323.4" stroke="#e3e3ea" stroke-width="0.3"/>
<line x1="169.6" y1="255.8" x2="169.6" y2="323.4" stroke="#e3e3ea" stroke-width="0.3"/>
<line x1="172.4" y1="255.8" x2="172.4" y2="323.4" stroke="#e3e3ea" stroke-width="0.3"/>
<line x1="175.3" y1="255.8" x2="175.3" y2="323.4" stroke="#e3e3ea" stroke-width="0.3"/>
<line x1="178.1" y1="255.8" x2="178.1" y2="323.4" stroke="#e3e3ea" stroke-width="0.3"/>
<line x1="180.9" y1="255.8" x2="180.9" y2="323.4" stroke="#e3e3ea" stroke-width="0.3"/>
<line x1="183.7" y1="255.8" x2="183.7" y2="323.4" stroke="#e3e3ea" stroke-width="0.3"/>
<line x1="186.6" y1="255.8" x2="186.6" y2="323.4" stroke="#e3e3ea" stroke-width="0.3"/>
<line x1="189.4" y1="255.8" x2="189.4" y2="323.4" stroke="#e3e3ea" stroke-width="0.3"/>
<line x1="192.2" y1="255.8" x2="192.2" y2="323.4" stroke="#e3e3ea" stroke-width="0.3"/>
<line x1="195.1" y1="255.8" x2="195.1" y2="323.4" stroke="#e3e3ea" stroke-width="0.3"/>
<line x1="197.9" y1="255.8" x2="197.9" y2="323.4" stroke="#e3e3ea" stroke-width="0.3"/>
<line x1="200.7" y1="255.8" x2="200.7" y2="323.4" stroke="#e3e3ea" stroke-width="0.3"/>
<line x1="203.6" y1="255.8" x2="203.6" y2="323.4" stroke="#e3e3ea" stroke-width="0.3"/>
<line x1="36.5" y1="310.8" x2="206.4" y2="310.8" stroke="#e6e6ee" stroke-width="0.3"/>
<line x1="36.5" y1="297.8" x2="206.4" y2="297.8" stroke="#e6e6ee" stroke-width="0.3"/>
<line x1="36.5" y1="284.8" x2="206.4" y2="284.8" stroke="#e6e6ee" stroke-width="0.3"/>
<line x1="36.5" y1="271.8" x2="206.4" y2="271.8" stroke="#e6e6ee" stroke-width="0.3"/>
<line x1="36.5" y1="258.8" x2="206.4" y2="258.8" stroke="#e6e6ee" stroke-width="0.3"/>
<line x1="36.5" y1="255.8" x2="36.5" y2="323.4" stroke="#000" stroke-width="0.6"/>
<line x1="36.5" y1="323.4" x2="206.4" y2="323.4" stroke="#000" stroke-width="0.6"/>
<text x="35" y="325.5" font-size="4.91" text-anchor="end">0</text>
<line x1="35.5" y1="323.8" x2="36.5" y2="323.8" stroke="#000" stroke-width="0.4"/>
<text x="35" y="312.5" font-size="4.91" text-anchor="end">10</text>
<line x1="35.5" y1="310.8" x2="36.5" y2="310.8" stroke="#000" stroke-width="0.4"/>
<text x="35" y="299.5" font-size="4.91" text-anchor="end">20</text>
<line x1="35.5" y1="297.8" x2="36.5" y2="297.8" stroke="#000" stroke-width="0.4"/>
<text x="35" y="286.5" font-size="4.91" text-anchor="end">30</text>
<line x1="35.5" y1="284.8" x2="36.5" y2="284.8" stroke="#000" stroke-width="0.4"/>
<text x="35" y="273.5" font-size="4.91" text-anchor="end">40</text>
<line x1="35.5" y1="271.8" x2="36.5" y2="271.8" stroke="#000" stroke-width="0.4"/>
<text x="35" y="260.5" font-size="4.91" text-anchor="end">50</text>
<line x1="35.5" y1="258.8" x2="36.5" y2="258.8" stroke="#000" stroke-width="0.4"/>
<line x1="36" y1="323.8" x2="36.5" y2="323.8" stroke="#000" stroke-width="0.2"/>
<line x1="36" y1="322.5" x2="36.5" y2="322.5" stroke="#000" stroke-width="0.2"/>
<line x1="36" y1="321.2" x2="36.5" y2="321.2" stroke="#000" stroke-width="0.2"/>
<line x1="36" y1="319.9" x2="36.5" y2="319.9" stroke="#000" stroke-width="0.2"/>
<line x1="36" y1="318.6" x2="36.5" y2="318.6" stroke="#000" stroke-width="0.2"/>
<line x1="36" y1="317.3" x2="36.5" y2="317.3" stroke="#000" stroke-width="0.2"/>
<line x1="36" y1="316" x2="36.5" y2="316" stroke="#000" stroke-width="0.2"/>
<line x1="36" y1="314.7" x2="36.5" y2="314.7" stroke="#000" stroke-width="0.2"/>
<line x1="36" y1="313.4" x2="36.5" y2="313.4" stroke="#000" stroke-width="0.2"/>
<line x1="36" y1="312.1" x2="36.5" y2="312.1" stroke="#000" stroke-width="0.2"/>
<line x1="36" y1="310.8" x2="36.5" y2="310.8" stroke="#000" stroke-width="0.2"/>
<line x1="36" y1="309.5" x2="36.5" y2="309.5" stroke="#000" stroke-width="0.2"/>
<line x1="36" y1="308.2" x2="36.5" y2="308.2" stroke="#000" stroke-width="0.2"/>
<line x1="36" y1="306.9" x2="36.5" y2="306.9" stroke="#000" stroke-width="0.2"/>
<line x1="36" y1="305.6" x2="36.5" y2="305.6" stroke="#000" stroke-width="0.2"/>
<line x1="36" y1="304.3" x2="36.5" y2="304.3" stroke="#000" stroke-width="0.2"/>
<line x1="36" y1="303" x2="36.5" y2="303" stroke="#000" stroke-width="0.2"/>
<line x1="36" y1="301.7" x2="36.5" y2="301.7" stroke="#000" stroke-width="0.2"/>
<line x1="36" y1="300.4" x2="36.5" y2="300.4" stroke="#000" stroke-width="0.2"/>
<line x1="36" y1="299.1" x2="36.5" y2="299.1" stroke="#000" stroke-width="0.2"/>
<line x1="36" y1="297.8" x2="36.5" y2="297.8" stroke="#000" stroke-width="0.2"/>
<line x1="36" y1="296.5" x2="36.5" y2="296.5" stroke="#000" stroke-width="0.2"/>
<line x1="36" y1="295.2" x2="36.5" y2="295.2" stroke="#000" stroke-width="0.2"/>
<line x1="36" y1="293.9" x2="36.5" y2="293.9" stroke="#000" stroke-width="0.2"/>
<line x1="36" y1="292.6" x2="36.5" y2="292.6" stroke="#000" stroke-width="0.2"/>
<line x1="36" y1="291.3" x2="36.5" y2="291.3" stroke="#000" stroke-width="0.2"/>
<line x1="36" y1="290" x2="36.5" y2="290" stroke="#000" stroke-width="0.2"/>
<line x1="36" y1="288.7" x2="36.5" y2="288.7" stroke="#000" stroke-width="0.2"/>
<line x1="36" y1="287.4" x2="36.5" y2="287.4" stroke="#000" stroke-width="0.2"/>
<line x1="36" y1="286.1" x2="36.5" y2="286.1" stroke="#000" stroke-width="0.2"/>
<line x1="36" y1="284.8" x2="36.5" y2="284.8" stroke="#000" stroke-width="0.2"/>
<line x1="36" y1="283.5" x2="36.5" y2="283.5" stroke="#000" stroke-width="0.2"/>
<line x1="36" y1="282.2" x2="36.5" y2="282.2" stroke="#000" stroke-width="0.2"/>
<line x1="36" y1="280.9" x2="36.5" y2="280.9" stroke="#000" stroke-width="0.2"/>
<line x1="36" y1="279.6" x2="36.5" y2="279.6" stroke="#000" stroke-width="0.2"/>
<line x1="36" y1="278.3" x2="36.5" y2="278.3" stroke="#000" stroke-width="0.2"/>
<line x1="36" y1="277" x2="36.5" y2="277" stroke="#000" stroke-width="0.2"/>
<line x1="36" y1="275.7" x2="36.5" y2="275.7" stroke="#000" stroke-width="0.2"/>
<line x1="36" y1="274.4" x2="36.5" y2="274.4" stroke="#000" stroke-width="0.2"/>
<line x1="36" y1="273.1" x2="36.5" y2="273.1" stroke="#000" stroke-width="0.2"/>
<line x1="36" y1="271.8" x2="36.5" y2="271.8" stroke="#000" stroke-width="0.2"/>
<line x1="36" y1="270.5" x2="36.5" y2="270.5" stroke="#000" stroke-width="0.2"/>
<line x1="36" y1="269.2" x2="36.5" y2="269.2" stroke="#000" stroke-width="0.2"/>
<line x1="36" y1="267.9" x2="36.5" y2="267.9" stroke="#000" stroke-width="0.2"/>
<line x1="36" y1="266.6" x2="36.5" y2="266.6" stroke="#000" stroke-width="0.2"/>
<line x1="36" y1="265.3" x2="36.5" y2="265.3" stroke="#000" stroke-width="0.2"/>
<line x1="36" y1="264" x2="36.5" y2="264" stroke="#000" stroke-width="0.2"/>
<line x1="36" y1="262.7" x2="36.5" y2="262.7" stroke="#000" stroke-width="0.2"/>
<line x1="36" y1="261.4" x2="36.5" y2="261.4" stroke="#000" stroke-width="0.2"/>
<line x1="36" y1="260.1" x2="36.5" y2="260.1" stroke="#000" stroke-width="0.2"/>
<line x1="36" y1="258.8" x2="36.5" y2="258.8" stroke="#000" stroke-width="0.2"/>
<text x="24.1" y="293.2" font-size="5.01" text-anchor="middle" transform="rotate(-90 24.1 291.4)">-Log10(p-value)</text>
<circle cx="37.7" cy="321.8" r="0.8" fill="#1b4470"/>
<circle cx="39.1" cy="322.2" r="0.8" fill="#1b4470"/>
<circle cx="40.4" cy="322.2" r="0.8" fill="#1b4470"/>
<circle cx="42.3" cy="323.6" r="0.8" fill="#1b4470"/>
<circle cx="43.7" cy="322.6" r="0.8" fill="#1b4470"/>
<circle cx="45.3" cy="320.7" r="0.8" fill="#1b4470"/>
<circle cx="46.3" cy="323.4" r="0.8" fill="#1b4470"/>
<circle cx="47.7" cy="323.6" r="0.8" fill="#1b4470"/>
<circle cx="49.4" cy="322.7" r="0.8" fill="#1b4470"/>
<circle cx="50.9" cy="320.9" r="0.8" fill="#1b4470"/>
<circle cx="52.4" cy="322.6" r="0.8" fill="#1b4470"/>
<circle cx="54.1" cy="317.5" r="0.8" fill="#1b4470"/>
<circle cx="55.1" cy="323.6" r="0.8" fill="#1b4470"/>
<circle cx="56.8" cy="322.9" r="0.8" fill="#1b4470"/>
<circle cx="58.1" cy="314.3" r="0.8" fill="#1b4470"/>
<circle cx="59.3" cy="323.3" r="0.8" fill="#1b4470"/>
<circle cx="61" cy="313.6" r="0.8" fill="#1b4470"/>
<circle cx="62.3" cy="321" r="0.8" fill="#1b4470"/>
<circle cx="63.8" cy="322.7" r="0.8" fill="#1b4470"/>
<circle cx="65.6" cy="323.6" r="0.8" fill="#1b4470"/>
<circle cx="66.6" cy="323.1" r="0.8" fill="#1b4470"/>
<circle cx="68.3" cy="323.4" r="0.8" fill="#1b4470"/>
<circle cx="69.6" cy="323.2" r="0.8" fill="#1b4470"/>
<circle cx="71.1" cy="323.3" r="0.8" fill="#1b4470"/>
<circle cx="72.9" cy="323.2" r="0.8" fill="#1b4470"/>
<circle cx="74" cy="322.9" r="0.8" fill="#1b4470"/>
<circle cx="75.7" cy="323.4" r="0.8" fill="#1b4470"/>
<circle cx="76.9" cy="323.3" r="0.8" fill="#1b4470"/>
<circle cx="78.5" cy="323.6" r="0.8" fill="#1b4470"/>
<circle cx="80.1" cy="323.3" r="0.8" fill="#1b4470"/>
<circle cx="81.4" cy="322.6" r="0.8" fill="#1b4470"/>
<circle cx="83" cy="321.6" r="0.8" fill="#1b4470"/>
<circle cx="84.2" cy="323.4" r="0.8" fill="#1b4470"/>
<circle cx="86.1" cy="322.9" r="0.8" fill="#1b4470"/>
<circle cx="87.6" cy="323.4" r="0.8" fill="#1b4470"/>
<circle cx="89" cy="321.3" r="0.8" fill="#1b4470"/>
<circle cx="90" cy="323.4" r="0.8" fill="#1b4470"/>
<circle cx="91.6" cy="322.8" r="0.8" fill="#1b4470"/>
<circle cx="93.2" cy="322.9" r="0.8" fill="#1b4470"/>
<circle cx="94.4" cy="323.3" r="0.8" fill="#1b4470"/>
<circle cx="96.3" cy="322.7" r="0.8" fill="#1b4470"/>
<circle cx="97.4" cy="323.2" r="0.8" fill="#1b4470"/>
<circle cx="98.8" cy="323.1" r="0.8" fill="#1b4470"/>
<circle cx="100.3" cy="323" r="0.8" fill="#1b4470"/>
<circle cx="102.2" cy="320.7" r="0.8" fill="#1b4470"/>
<circle cx="103.5" cy="323.7" r="0.8" fill="#1b4470"/>
<circle cx="105.1" cy="320.1" r="0.8" fill="#1b4470"/>
<circle cx="106" cy="321" r="0.8" fill="#1b4470"/>
<circle cx="107.9" cy="323.1" r="0.8" fill="#1b4470"/>
<circle cx="109" cy="321.9" r="0.8" fill="#1b4470"/>
<circle cx="110.9" cy="319.5" r="0.8" fill="#1b4470"/>
<circle cx="112.3" cy="323" r="0.8" fill="#1b4470"/>
<circle cx="113.9" cy="316.7" r="0.8" fill="#1b4470"/>
<circle cx="115.3" cy="316.9" r="0.8" fill="#1b4470"/>
<circle cx="116.6" cy="322.9" r="0.8" fill="#1b4470"/>
<circle cx="118.1" cy="323.4" r="0.8" fill="#1b4470"/>
<circle cx="119.8" cy="316.5" r="0.8" fill="#1b4470"/>
<circle cx="120.9" cy="319.5" r="0.8" fill="#1b4470"/>
<circle cx="122.3" cy="322.9" r="0.8" fill="#1b4470"/>
<circle cx="123.6" cy="321.4" r="0.8" fill="#1b4470"/>
<circle cx="125.1" cy="320.1" r="0.8" fill="#1b4470"/>
<circle cx="126.8" cy="323.7" r="0.8" fill="#1b4470"/>
<circle cx="128.1" cy="323.5" r="0.8" fill="#1b4470"/>
<circle cx="129.9" cy="320.7" r="0.8" fill="#1b4470"/>
<circle cx="131.4" cy="323.1" r="0.8" fill="#1b4470"/>
<circle cx="132.4" cy="322.7" r="0.8" fill="#1b4470"/>
<circle cx="134.3" cy="316.5" r="0.8" fill="#1b4470"/>
<circle cx="135.6" cy="323.2" r="0.8" fill="#1b4470"/>
<circle cx="137.2" cy="317.3" r="0.8" fill="#1b4470"/>
<circle cx="138.7" cy="323.2" r="0.8" fill="#1b4470"/>
<circle cx="139.8" cy="323.3" r="0.8" fill="#1b4470"/>
<circle cx="141.4" cy="322.8" r="0.8" fill="#1b4470"/>
<circle cx="143.1" cy="323.6" r="0.8" fill="#1b4470"/>
<circle cx="144.5" cy="323.4" r="0.8" fill="#1b4470"/>
<circle cx="145.8" cy="323.2" r="0.8" fill="#1b4470"/>
<circle cx="146.9" cy="323.4" r="0.8" fill="#1b4470"/>
<circle cx="148.4" cy="323.5" r="0.8" fill="#1b4470"/>
<circle cx="149.8" cy="321" r="0.8" fill="#1b4470"/>
<circle cx="151.7" cy="320.7" r="0.8" fill="#1b4470"/>
<circle cx="153.3" cy="323.2" r="0.8" fill="#1b4470"/>
<circle cx="154.3" cy="323.4" r="0.8" fill="#1b4470"/>
<circle cx="156.1" cy="323.3" r="0.8" fill="#1b4470"/>
<circle cx="157.5" cy="322.1" r="0.8" fill="#1b4470"/>
<circle cx="159" cy="322.9" r="0.8" fill="#1b4470"/>
<circle cx="160.6" cy="323.4" r="0.8" fill="#1b4470"/>
<circle cx="161.9" cy="323.4" r="0.8" fill="#1b4470"/>
<circle cx="163.3" cy="323.1" r="0.8" fill="#1b4470"/>
<circle cx="164.9" cy="318.4" r="0.8" fill="#1b4470"/>
<circle cx="166.2" cy="322.9" r="0.8" fill="#1b4470"/>
<circle cx="167.8" cy="320.9" r="0.8" fill="#1b4470"/>
<circle cx="168.9" cy="316" r="0.8" fill="#1b4470"/>
<circle cx="170.8" cy="322" r="0.8" fill="#1b4470"/>
<circle cx="171.9" cy="315.7" r="0.8" fill="#1b4470"/>
<circle cx="173.4" cy="323.4" r="0.8" fill="#1b4470"/>
<circle cx="175" cy="318.9" r="0.8" fill="#1b4470"/>
<circle cx="176.1" cy="322.8" r="0.8" fill="#1b4470"/>
<circle cx="177.7" cy="323.1" r="0.8" fill="#1b4470"/>
<circle cx="179.1" cy="323.4" r="0.8" fill="#1b4470"/>
<circle cx="180.9" cy="317.5" r="0.8" fill="#1b4470"/>
<circle cx="182.5" cy="322.3" r="0.8" fill="#1b4470"/>
<circle cx="183.5" cy="323.3" r="0.8" fill="#1b4470"/>
<circle cx="185" cy="319.6" r="0.8" fill="#1b4470"/>
<circle cx="186.6" cy="317.4" r="0.8" fill="#1b4470"/>
<circle cx="188" cy="322.9" r="0.8" fill="#1b4470"/>
<circle cx="189.8" cy="323.3" r="0.8" fill="#1b4470"/>
<circle cx="191.3" cy="322.1" r="0.8" fill="#1b4470"/>
<circle cx="192.3" cy="322" r="0.8" fill="#1b4470"/>
<circle cx="194" cy="323.4" r="0.8" fill="#1b4470"/>
<circle cx="195.4" cy="322.9" r="0.8" fill="#1b4470"/>
<circle cx="196.9" cy="322.3" r="0.8" fill="#1b4470"/>
<circle cx="198" cy="322" r="0.8" fill="#1b4470"/>
<circle cx="200" cy="323.2" r="0.8" fill="#1b4470"/>
<circle cx="201" cy="322.7" r="0.8" fill="#1b4470"/>
<circle cx="202.9" cy="323.5" r="0.8" fill="#1b4470"/>
<circle cx="204.2" cy="322.9" r="0.8" fill="#1b4470"/>
<circle cx="108" cy="302.4" r="0.85" fill="#1b4470"/>
<circle cx="125" cy="304.3" r="0.85" fill="#1b4470"/>
<circle cx="204" cy="304.9" r="0.85" fill="#1b4470"/>
<circle cx="178" cy="310.8" r="0.85" fill="#1b4470"/>
<circle cx="133" cy="314.1" r="0.85" fill="#1b4470"/>
<circle cx="56" cy="314.1" r="0.85" fill="#1b4470"/>
<circle cx="60.5" cy="316" r="0.85" fill="#1b4470"/>
<circle cx="101.5" cy="314.7" r="0.85" fill="#1b4470"/>
<circle cx="74.5" cy="316" r="0.85" fill="#1b4470"/>
<circle cx="44" cy="317.9" r="0.85" fill="#1b4470"/>
<circle cx="152" cy="315.4" r="0.85" fill="#1b4470"/>
<circle cx="196" cy="316.7" r="0.85" fill="#1b4470"/>
<circle cx="67.8" cy="289.6" r="1.7" fill="#ee7f1a" stroke="#6a3508" stroke-width="0.45"/>
<circle cx="84.2" cy="307.8" r="1.7" fill="#ee7f1a" stroke="#6a3508" stroke-width="0.45"/>
<circle cx="86.4" cy="307.8" r="1.7" fill="#ee7f1a" stroke="#6a3508" stroke-width="0.45"/>
<circle cx="88.6" cy="307.8" r="1.7" fill="#ee7f1a" stroke="#6a3508" stroke-width="0.45"/>
<circle cx="115.5" cy="299.7" r="1.7" fill="#ee7f1a" stroke="#6a3508" stroke-width="0.45"/>
<circle cx="171.5" cy="300.2" r="1.7" fill="#ee7f1a" stroke="#6a3508" stroke-width="0.45"/>
<circle cx="175.4" cy="259.3" r="1.7" fill="#ee7f1a" stroke="#6a3508" stroke-width="0.45"/>
<line x1="91.5" y1="285" x2="87.2" y2="304.5" stroke="#333" stroke-width="0.4"/>
<line x1="83" y1="305" x2="90.5" y2="305" stroke="#999" stroke-width="0.4"/>
<line x1="168" y1="292" x2="171" y2="298" stroke="#333" stroke-width="0.4"/>
<text x="171.4" y="259.8" font-size="4.04" text-anchor="end" color="#2020e0" class="s" font-style="italic" textLength="99" lengthAdjust="spacingAndGlyphs">7.Superpathway of conversion of glucose to acetyl CoA</text>
<text x="171.4" y="265.4" font-size="4.03" text-anchor="end" color="#2020e0" class="s" font-style="italic" textLength="50.5" lengthAdjust="spacingAndGlyphs">and entry into the TCA cycle</text>
<text x="74" y="272.9" font-size="4.13" color="#2e8b47" font-style="italic" textLength="50.5" lengthAdjust="spacingAndGlyphs">2.Cholesterol biosynthesis I</text>
<text x="74" y="278.3" font-size="4.05" color="#2e8b47" class="s" font-style="italic" textLength="103" lengthAdjust="spacingAndGlyphs">3.Cholesterol biosynthesis II (via 24,25-dihydrolanosterol)</text>
<text x="74" y="283.7" font-size="4.05" color="#2e8b47" class="s" font-style="italic" textLength="84" lengthAdjust="spacingAndGlyphs">4.Cholesterol biosynthesis III (via desmosterol)</text>
<text x="130.3" y="291.2" font-size="4.01" color="#2e8b47" class="s" font-style="italic" textLength="77.2" lengthAdjust="spacingAndGlyphs">1.Superpathway of cholesterol biosynthesis</text>
<text x="118.9" y="301.8" font-size="4.03" color="#2020e0" class="s" font-style="italic" textLength="21.5" lengthAdjust="spacingAndGlyphs">5.Glycolysis</text>
<text x="42.3" y="291" font-size="4.02" color="#2020e0" class="s" font-style="italic" textLength="21.5" lengthAdjust="spacingAndGlyphs">6.TCA cycle</text>
<rect x="37.4" y="328.2" width="168.9" height="44.2" fill="#f3f3f3"/>
<rect x="37.4" y="328.2" width="48.79" height="6.31" fill="#ee5a6a"/>
<rect x="56.2" y="334.5" width="30.03" height="6.31" fill="#ee5a6a"/>
<rect x="56.2" y="340.8" width="30.03" height="6.31" fill="#ee5a6a"/>
<rect x="56.2" y="347.1" width="30.03" height="6.31" fill="#ee5a6a"/>
<rect x="157.5" y="353.5" width="48.79" height="6.31" fill="#ee5a6a"/>
<rect x="89.9" y="359.8" width="56.3" height="6.31" fill="#ee5a6a"/>
<rect x="86.2" y="366.1" width="120.11" height="6.31" fill="#ee5a6a"/>
<line x1="41.2" y1="328.2" x2="41.2" y2="372.4" stroke="#fff" stroke-width="0.3" opacity="0.75"/>
<line x1="44.9" y1="328.2" x2="44.9" y2="372.4" stroke="#fff" stroke-width="0.3" opacity="0.75"/>
<line x1="48.7" y1="328.2" x2="48.7" y2="372.4" stroke="#fff" stroke-width="0.3" opacity="0.75"/>
<line x1="52.4" y1="328.2" x2="52.4" y2="372.4" stroke="#fff" stroke-width="0.3" opacity="0.75"/>
<line x1="56.2" y1="328.2" x2="56.2" y2="372.4" stroke="#fff" stroke-width="0.3" opacity="0.75"/>
<line x1="59.9" y1="328.2" x2="59.9" y2="372.4" stroke="#fff" stroke-width="0.3" opacity="0.75"/>
<line x1="63.7" y1="328.2" x2="63.7" y2="372.4" stroke="#fff" stroke-width="0.3" opacity="0.75"/>
<line x1="67.4" y1="328.2" x2="67.4" y2="372.4" stroke="#fff" stroke-width="0.3" opacity="0.75"/>
<line x1="71.2" y1="328.2" x2="71.2" y2="372.4" stroke="#fff" stroke-width="0.3" opacity="0.75"/>
<line x1="74.9" y1="328.2" x2="74.9" y2="372.4" stroke="#fff" stroke-width="0.3" opacity="0.75"/>
<line x1="78.7" y1="328.2" x2="78.7" y2="372.4" stroke="#fff" stroke-width="0.3" opacity="0.75"/>
<line x1="82.4" y1="328.2" x2="82.4" y2="372.4" stroke="#fff" stroke-width="0.3" opacity="0.75"/>
<line x1="86.2" y1="328.2" x2="86.2" y2="372.4" stroke="#fff" stroke-width="0.3" opacity="0.75"/>
<line x1="89.9" y1="328.2" x2="89.9" y2="372.4" stroke="#fff" stroke-width="0.3" opacity="0.75"/>
<line x1="93.7" y1="328.2" x2="93.7" y2="372.4" stroke="#fff" stroke-width="0.3" opacity="0.75"/>
<line x1="97.5" y1="328.2" x2="97.5" y2="372.4" stroke="#fff" stroke-width="0.3" opacity="0.75"/>
<line x1="101.2" y1="328.2" x2="101.2" y2="372.4" stroke="#fff" stroke-width="0.3" opacity="0.75"/>
<line x1="105" y1="328.2" x2="105" y2="372.4" stroke="#fff" stroke-width="0.3" opacity="0.75"/>
<line x1="108.7" y1="328.2" x2="108.7" y2="372.4" stroke="#fff" stroke-width="0.3" opacity="0.75"/>
<line x1="112.5" y1="328.2" x2="112.5" y2="372.4" stroke="#fff" stroke-width="0.3" opacity="0.75"/>
<line x1="116.2" y1="328.2" x2="116.2" y2="372.4" stroke="#fff" stroke-width="0.3" opacity="0.75"/>
<line x1="120" y1="328.2" x2="120" y2="372.4" stroke="#fff" stroke-width="0.3" opacity="0.75"/>
<line x1="123.7" y1="328.2" x2="123.7" y2="372.4" stroke="#fff" stroke-width="0.3" opacity="0.75"/>
<line x1="127.5" y1="328.2" x2="127.5" y2="372.4" stroke="#fff" stroke-width="0.3" opacity="0.75"/>
<line x1="131.2" y1="328.2" x2="131.2" y2="372.4" stroke="#fff" stroke-width="0.3" opacity="0.75"/>
<line x1="135" y1="328.2" x2="135" y2="372.4" stroke="#fff" stroke-width="0.3" opacity="0.75"/>
<line x1="138.7" y1="328.2" x2="138.7" y2="372.4" stroke="#fff" stroke-width="0.3" opacity="0.75"/>
<line x1="142.5" y1="328.2" x2="142.5" y2="372.4" stroke="#fff" stroke-width="0.3" opacity="0.75"/>
<line x1="146.2" y1="328.2" x2="146.2" y2="372.4" stroke="#fff" stroke-width="0.3" opacity="0.75"/>
<line x1="150" y1="328.2" x2="150" y2="372.4" stroke="#fff" stroke-width="0.3" opacity="0.75"/>
<line x1="153.8" y1="328.2" x2="153.8" y2="372.4" stroke="#fff" stroke-width="0.3" opacity="0.75"/>
<line x1="157.5" y1="328.2" x2="157.5" y2="372.4" stroke="#fff" stroke-width="0.3" opacity="0.75"/>
<line x1="161.3" y1="328.2" x2="161.3" y2="372.4" stroke="#fff" stroke-width="0.3" opacity="0.75"/>
<line x1="165" y1="328.2" x2="165" y2="372.4" stroke="#fff" stroke-width="0.3" opacity="0.75"/>
<line x1="168.8" y1="328.2" x2="168.8" y2="372.4" stroke="#fff" stroke-width="0.3" opacity="0.75"/>
<line x1="172.5" y1="328.2" x2="172.5" y2="372.4" stroke="#fff" stroke-width="0.3" opacity="0.75"/>
<line x1="176.3" y1="328.2" x2="176.3" y2="372.4" stroke="#fff" stroke-width="0.3" opacity="0.75"/>
<line x1="180" y1="328.2" x2="180" y2="372.4" stroke="#fff" stroke-width="0.3" opacity="0.75"/>
<line x1="183.8" y1="328.2" x2="183.8" y2="372.4" stroke="#fff" stroke-width="0.3" opacity="0.75"/>
<line x1="187.5" y1="328.2" x2="187.5" y2="372.4" stroke="#fff" stroke-width="0.3" opacity="0.75"/>
<line x1="191.3" y1="328.2" x2="191.3" y2="372.4" stroke="#fff" stroke-width="0.3" opacity="0.75"/>
<line x1="195" y1="328.2" x2="195" y2="372.4" stroke="#fff" stroke-width="0.3" opacity="0.75"/>
<line x1="198.8" y1="328.2" x2="198.8" y2="372.4" stroke="#fff" stroke-width="0.3" opacity="0.75"/>
<line x1="202.5" y1="328.2" x2="202.5" y2="372.4" stroke="#fff" stroke-width="0.3" opacity="0.75"/>
<line x1="37.4" y1="334.5" x2="206.3" y2="334.5" stroke="#fff" stroke-width="0.3" opacity="0.75"/>
<line x1="37.4" y1="340.8" x2="206.3" y2="340.8" stroke="#fff" stroke-width="0.3" opacity="0.75"/>
<line x1="37.4" y1="347.1" x2="206.3" y2="347.1" stroke="#fff" stroke-width="0.3" opacity="0.75"/>
<line x1="37.4" y1="353.5" x2="206.3" y2="353.5" stroke="#fff" stroke-width="0.3" opacity="0.75"/>
<line x1="37.4" y1="359.8" x2="206.3" y2="359.8" stroke="#fff" stroke-width="0.3" opacity="0.75"/>
<line x1="37.4" y1="366.1" x2="206.3" y2="366.1" stroke="#fff" stroke-width="0.3" opacity="0.75"/>
<rect x="37.4" y="328.2" width="168.9" height="44.2" fill="none" stroke="#444" stroke-width="0.6"/>
<text x="36" y="333.3" font-size="5.01" text-anchor="end" color="#2e8b47">1.</text>
<text x="36" y="339.6" font-size="5.01" text-anchor="end" color="#2e8b47">2.</text>
<text x="36" y="345.9" font-size="5.01" text-anchor="end" color="#2e8b47">3.</text>
<text x="36" y="352.3" font-size="5.01" text-anchor="end" color="#2e8b47">4.</text>
<text x="36" y="358.6" font-size="5.01" text-anchor="end" color="#2020e0">5.</text>
<text x="36" y="364.9" font-size="5.01" text-anchor="end" color="#2020e0">6.</text>
<text x="36" y="371.2" font-size="5.01" text-anchor="end" color="#2020e0">7.</text>
<text x="39.3" y="374.7" font-size="3.16" text-anchor="end" color="#2e8b47" class="s" font-style="italic" transform="rotate(-90 39.3 373.6)">Acat2</text>
<text x="43" y="374.7" font-size="3.16" text-anchor="end" color="#2e8b47" class="s" font-style="italic" transform="rotate(-90 43 373.6)">Acat1</text>
<text x="46.8" y="374.7" font-size="3.16" text-anchor="end" color="#2e8b47" class="s" font-style="italic" transform="rotate(-90 46.8 373.6)">Hmgcs1</text>
<text x="50.5" y="374.7" font-size="3.16" text-anchor="end" color="#2e8b47" class="s" font-style="italic" transform="rotate(-90 50.5 373.6)">Hmgcr</text>
<text x="54.3" y="374.7" font-size="3.16" text-anchor="end" color="#2e8b47" class="s" font-style="italic" transform="rotate(-90 54.3 373.6)">Mvd</text>
<text x="58" y="374.7" font-size="3.16" text-anchor="end" color="#2e8b47" class="s" font-style="italic" transform="rotate(-90 58 373.6)">Hsd17b7</text>
<text x="61.8" y="374.7" font-size="3.16" text-anchor="end" color="#2e8b47" class="s" font-style="italic" transform="rotate(-90 61.8 373.6)">Cyp51</text>
<text x="65.5" y="374.7" font-size="3.16" text-anchor="end" color="#2e8b47" class="s" font-style="italic" transform="rotate(-90 65.5 373.6)">Nsdhl</text>
<text x="69.3" y="374.7" font-size="3.16" text-anchor="end" color="#2e8b47" class="s" font-style="italic" transform="rotate(-90 69.3 373.6)">Msmo1</text>
<text x="73.1" y="374.7" font-size="3.16" text-anchor="end" color="#2e8b47" class="s" font-style="italic" transform="rotate(-90 73.1 373.6)">Tm7sf2</text>
<text x="76.8" y="374.7" font-size="3.16" text-anchor="end" color="#2e8b47" class="s" font-style="italic" transform="rotate(-90 76.8 373.6)">Idi1</text>
<text x="80.6" y="374.7" font-size="3.16" text-anchor="end" color="#2e8b47" class="s" font-style="italic" transform="rotate(-90 80.6 373.6)">Dhcr24</text>
<text x="84.3" y="374.7" font-size="3.16" text-anchor="end" color="#2e8b47" class="s" font-style="italic" transform="rotate(-90 84.3 373.6)">Fdft1</text>
<text x="88.1" y="374.7" font-size="3.16" text-anchor="end" color="#2020e0" class="s" font-style="italic" transform="rotate(-90 88.1 373.6)">Hk1</text>
<text x="91.8" y="374.7" font-size="3.16" text-anchor="end" color="#2020e0" class="s" font-style="italic" transform="rotate(-90 91.8 373.6)">Gpi1</text>
<text x="95.6" y="374.7" font-size="3.16" text-anchor="end" color="#2020e0" class="s" font-style="italic" transform="rotate(-90 95.6 373.6)">Pfkm</text>
<text x="99.3" y="374.7" font-size="3.16" text-anchor="end" color="#2020e0" class="s" font-style="italic" transform="rotate(-90 99.3 373.6)">Pfkp</text>
<text x="103.1" y="374.7" font-size="3.16" text-anchor="end" color="#2020e0" class="s" font-style="italic" transform="rotate(-90 103.1 373.6)">Aldoa</text>
<text x="106.8" y="374.7" font-size="3.16" text-anchor="end" color="#2020e0" class="s" font-style="italic" transform="rotate(-90 106.8 373.6)">Tpi1</text>
<text x="110.6" y="374.7" font-size="3.16" text-anchor="end" color="#2020e0" class="s" font-style="italic" transform="rotate(-90 110.6 373.6)">Gapdh</text>
<text x="114.3" y="374.7" font-size="3.16" text-anchor="end" color="#2020e0" class="s" font-style="italic" transform="rotate(-90 114.3 373.6)">Pgk1</text>
<text x="118.1" y="374.7" font-size="3.16" text-anchor="end" color="#2020e0" class="s" font-style="italic" transform="rotate(-90 118.1 373.6)">Pgam1</text>
<text x="121.8" y="374.7" font-size="3.16" text-anchor="end" color="#2020e0" class="s" font-style="italic" transform="rotate(-90 121.8 373.6)">Eno1</text>
<text x="125.6" y="374.7" font-size="3.16" text-anchor="end" color="#2020e0" class="s" font-style="italic" transform="rotate(-90 125.6 373.6)">Eno2</text>
<text x="129.4" y="374.7" font-size="3.16" text-anchor="end" color="#2020e0" class="s" font-style="italic" transform="rotate(-90 129.4 373.6)">Pkm</text>
<text x="133.1" y="374.7" font-size="3.16" text-anchor="end" color="#2020e0" class="s" font-style="italic" transform="rotate(-90 133.1 373.6)">Pdha1</text>
<text x="136.9" y="374.7" font-size="3.16" text-anchor="end" color="#2020e0" class="s" font-style="italic" transform="rotate(-90 136.9 373.6)">Pdhb</text>
<text x="140.6" y="374.7" font-size="3.16" text-anchor="end" color="#2020e0" class="s" font-style="italic" transform="rotate(-90 140.6 373.6)">Dlat</text>
<text x="144.4" y="374.7" font-size="3.16" text-anchor="end" color="#2020e0" class="s" font-style="italic" transform="rotate(-90 144.4 373.6)">Dld</text>
<text x="148.1" y="374.7" font-size="3.16" text-anchor="end" color="#2020e0" class="s" font-style="italic" transform="rotate(-90 148.1 373.6)">Cs</text>
<text x="151.9" y="374.7" font-size="3.16" text-anchor="end" color="#2020e0" class="s" font-style="italic" transform="rotate(-90 151.9 373.6)">Aco2</text>
<text x="155.6" y="374.7" font-size="3.16" text-anchor="end" color="#2020e0" class="s" font-style="italic" transform="rotate(-90 155.6 373.6)">Idh3a</text>
<text x="159.4" y="374.7" font-size="3.16" text-anchor="end" color="#2020e0" class="s" font-style="italic" transform="rotate(-90 159.4 373.6)">Idh3b</text>
<text x="163.1" y="374.7" font-size="3.16" text-anchor="end" color="#2020e0" class="s" font-style="italic" transform="rotate(-90 163.1 373.6)">Idh3g</text>
<text x="166.9" y="374.7" font-size="3.16" text-anchor="end" color="#2020e0" class="s" font-style="italic" transform="rotate(-90 166.9 373.6)">Ogdh</text>
<text x="170.6" y="374.7" font-size="3.16" text-anchor="end" color="#2020e0" class="s" font-style="italic" transform="rotate(-90 170.6 373.6)">Dlst</text>
<text x="174.4" y="374.7" font-size="3.16" text-anchor="end" color="#2020e0" class="s" font-style="italic" transform="rotate(-90 174.4 373.6)">Sucla2</text>
<text x="178.2" y="374.7" font-size="3.16" text-anchor="end" color="#2020e0" class="s" font-style="italic" transform="rotate(-90 178.2 373.6)">Suclg1</text>
<text x="181.9" y="374.7" font-size="3.16" text-anchor="end" color="#2020e0" class="s" font-style="italic" transform="rotate(-90 181.9 373.6)">Sdha</text>
<text x="185.7" y="374.7" font-size="3.16" text-anchor="end" color="#2020e0" class="s" font-style="italic" transform="rotate(-90 185.7 373.6)">Sdhb</text>
<text x="189.4" y="374.7" font-size="3.16" text-anchor="end" color="#2020e0" class="s" font-style="italic" transform="rotate(-90 189.4 373.6)">Sdhc</text>
<text x="193.2" y="374.7" font-size="3.16" text-anchor="end" color="#2020e0" class="s" font-style="italic" transform="rotate(-90 193.2 373.6)">Sdhd</text>
<text x="196.9" y="374.7" font-size="3.16" text-anchor="end" color="#2020e0" class="s" font-style="italic" transform="rotate(-90 196.9 373.6)">Fh1</text>
<text x="200.7" y="374.7" font-size="3.16" text-anchor="end" color="#2020e0" class="s" font-style="italic" transform="rotate(-90 200.7 373.6)">Mdh2</text>
<text x="204.4" y="374.7" font-size="3.16" text-anchor="end" color="#2020e0" class="s" font-style="italic" transform="rotate(-90 204.4 373.6)">Mdh1</text>
<text x="211.6" y="8.2" font-size="9.8" font-weight="bold" style="stroke:none">d</text>
<rect x="223.3" y="6.1" width="122.4" height="20.5" fill="#fff" stroke="#222" stroke-width="0.6"/>
<text x="284.6" y="11.4" font-size="4.99" text-anchor="middle" font-style="italic" textLength="118" lengthAdjust="spacingAndGlyphs">Gene / Metabolite [Log2FC; Log10(adjusted p-value)]</text>
<text x="284.2" y="17.6" font-size="5.02" text-anchor="middle" color="#ee1c1c" font-style="italic" textLength="90" lengthAdjust="spacingAndGlyphs">Red = Down in VCD (E2:P4 ≥ 2.5 pg/ng)</text>
<text x="284.6" y="23.6" font-size="5.06" text-anchor="middle" color="#2020e0" font-style="italic" textLength="85" lengthAdjust="spacingAndGlyphs">Blue = Up in VCD (E2:P4 ≥ 2.5 pg/ng)</text>
<text x="283.6" y="35.5" font-size="5.01" text-anchor="middle" textLength="18" lengthAdjust="spacingAndGlyphs">Glucose</text>
<line x1="284" y1="36.8" x2="284" y2="42.4" stroke="#555" stroke-width="0.45"/>
<path d="M283 41.4 L284 43 L285 41.4 Z" fill="#555" stroke="none" stroke-width="0"/>
<text x="290.1" y="41.2" font-size="5.06" color="#ee1c1c" font-style="italic" textLength="38" lengthAdjust="spacingAndGlyphs">Hk1 (-0.15; 2.18)</text>
<text x="250.9" y="48.2" font-size="5.05" color="#ee1c1c" font-style="italic" textLength="77.2" lengthAdjust="spacingAndGlyphs">Glucose-6-phosphate (-2.30; 3.60)</text>
<line x1="284" y1="50" x2="284" y2="65.9" stroke="#555" stroke-width="0.45" stroke-dasharray="2.2 0.8"/>
<path d="M283 64.9 L284 66.5 L285 64.9 Z" fill="#555" stroke="none" stroke-width="0"/>
<text x="290.1" y="57.4" font-size="5.06" color="#ee1c1c" font-style="italic" textLength="40.5" lengthAdjust="spacingAndGlyphs">Pfkm (-0.23; 7.79)</text>
<text x="290.1" y="63.3" font-size="5.18" color="#ee1c1c" font-style="italic" textLength="40" lengthAdjust="spacingAndGlyphs">Pfkp (-0.20; 5.47)</text>
<text x="248.4" y="72.7" font-size="5.03" color="#ee1c1c" font-style="italic" textLength="88.7" lengthAdjust="spacingAndGlyphs">Fructose-1,6-bisphosphate (-8.38; 3.60)</text>
<line x1="284" y1="74" x2="284" y2="79.4" stroke="#555" stroke-width="0.45"/>
<path d="M283 78.4 L284 80 L285 78.4 Z" fill="#555" stroke="none" stroke-width="0"/>
<path d="M286.5 76.5 L288.3 78.6" fill="none" stroke="#333" stroke-width="0.5"/>
<text x="290.1" y="78.8" font-size="5.06" color="#ee1c1c" font-style="italic" textLength="41.9" lengthAdjust="spacingAndGlyphs">Aldoa (-0.23; 5.78)</text>
<text x="273" y="85" font-size="5.01" textLength="12" lengthAdjust="spacingAndGlyphs">GA3P</text>
<text x="286.3" y="84.9" font-size="5.45" textLength="6" lengthAdjust="spacingAndGlyphs">⇌</text>
<text x="293.4" y="85" font-size="5.04" color="#ee1c1c" font-style="italic" textLength="42.7" lengthAdjust="spacingAndGlyphs">DHAP (-2.34; 2.95)</text>
<line x1="284" y1="86.5" x2="284" y2="102.4" stroke="#555" stroke-width="0.45" stroke-dasharray="2.2 0.8"/>
<path d="M283 101.4 L284 103 L285 101.4 Z" fill="#555" stroke="none" stroke-width="0"/>
<text x="289.3" y="95" font-size="4.98" color="#ee1c1c" font-style="italic" textLength="43.5" lengthAdjust="spacingAndGlyphs">Gapdh (-0.30; 12.4)</text>
<text x="289.3" y="101.1" font-size="4.96" color="#ee1c1c" font-style="italic" textLength="40" lengthAdjust="spacingAndGlyphs">Eno1 (-0.30; 14.8)</text>
<text x="250.9" y="108" font-size="5.07" color="#ee1c1c" font-style="italic" textLength="49" lengthAdjust="spacingAndGlyphs">Pyruvate (-2.40; 2.14)</text>
<text x="300.9" y="110.3" font-size="3.6" class="s" textLength="18.8" lengthAdjust="spacingAndGlyphs">Cytoplasm</text>
<line x1="250.9" y1="112.3" x2="316.3" y2="112.3" stroke="#f08a24" stroke-width="1.1"/>
<line x1="284" y1="109.5" x2="284" y2="130.9" stroke="#666" stroke-width="0.45"/>
<path d="M283 129.9 L284 131.5 L285 129.9 Z" fill="#666" stroke="none" stroke-width="0"/>
<text x="289.3" y="118.8" font-size="5.05" color="#ee1c1c" font-style="italic" textLength="43.5" lengthAdjust="spacingAndGlyphs">Pdha1 (-0.44; 20.2)</text>
<text x="289.3" y="124.7" font-size="5.02" color="#ee1c1c" font-style="italic" textLength="40.5" lengthAdjust="spacingAndGlyphs">Pdhb (-0.41; 12.7)</text>
<text x="289.3" y="130.8" font-size="5.0" color="#ee1c1c" font-style="italic" textLength="37.5" lengthAdjust="spacingAndGlyphs">Dlat (-0.23; 3.98)</text>
<text x="258.4" y="136.7" font-size="4.98" color="#ee1c1c" font-style="italic" textLength="53.2" lengthAdjust="spacingAndGlyphs">Acetyl-CoA (-4.79; 5.65)</text>
<text x="265.6" y="142.7" font-size="5.01" textLength="11.4" lengthAdjust="spacingAndGlyphs">+OAA</text>
<line x1="284" y1="138" x2="284" y2="142.9" stroke="#555" stroke-width="0.45" stroke-dasharray="1.8 0.7"/>
<path d="M283 141.9 L284 143.5 L285 141.9 Z" fill="#555" stroke="none" stroke-width="0"/>
<text x="290.3" y="142.6" font-size="4.98" color="#ee1c1c" font-style="italic" textLength="34.6" lengthAdjust="spacingAndGlyphs">Cs (-0.29; 9.77)</text>
<text x="283.6" y="148.2" font-size="5.01" text-anchor="middle" textLength="15.8" lengthAdjust="spacingAndGlyphs">Citrate</text>
<text x="301" y="150.9" font-size="3.98" class="s" textLength="22.8" lengthAdjust="spacingAndGlyphs">Mitochondria</text>
<line x1="250.9" y1="153.2" x2="316.3" y2="153.2" stroke="#f08a24" stroke-width="1.1"/>
<text x="300.9" y="157.9" font-size="3.6" class="s" textLength="18.8" lengthAdjust="spacingAndGlyphs">Cytoplasm</text>
<line x1="284" y1="149.5" x2="284" y2="168.9" stroke="#666" stroke-width="0.45"/>
<path d="M283 167.9 L284 169.5 L285 167.9 Z" fill="#666" stroke="none" stroke-width="0"/>
<path d="M285 158.8 L287.6 161.2 M287.6 161.2 l-1.4 -0.2 M287.6 161.2 l-0.2 -1.4" fill="none" stroke="#333" stroke-width="0.45"/>
<text x="288.7" y="164.2" font-size="5.01" textLength="11.3" lengthAdjust="spacingAndGlyphs">OAA</text>
<text x="258.4" y="175.2" font-size="4.98" color="#ee1c1c" font-style="italic" textLength="53.2" lengthAdjust="spacingAndGlyphs">Acetyl-CoA (-4.79; 5.65)</text>
<line x1="284" y1="176.5" x2="284" y2="182.4" stroke="#555" stroke-width="0.45" stroke-dasharray="2.2 0.8"/>
<path d="M283 181.4 L284 183 L285 181.4 Z" fill="#555" stroke="none" stroke-width="0"/>
<text x="289.3" y="181.4" font-size="5.16" color="#ee1c1c" font-style="italic" textLength="42.7" lengthAdjust="spacingAndGlyphs">Acat1 (-0.16; 1.66)</text>
<text x="250.3" y="187.8" font-size="5.07" color="#ee1c1c" font-style="italic" textLength="66.6" lengthAdjust="spacingAndGlyphs">Acetoacetyl-CoA (-7.66; 4.53)</text>
<text x="221.9" y="194.5" font-size="5.04" color="#ee1c1c" font-style="italic" textLength="58" lengthAdjust="spacingAndGlyphs">+ Acetyl-CoA (-4.79; 5.65)</text>
<line x1="284" y1="189" x2="284" y2="195.9" stroke="#555" stroke-width="0.45" stroke-dasharray="2.2 0.8"/>
<path d="M283 194.9 L284 196.5 L285 194.9 Z" fill="#555" stroke="none" stroke-width="0"/>
<text x="289.3" y="194.5" font-size="5.05" color="#ee1c1c" font-style="italic" textLength="47.4" lengthAdjust="spacingAndGlyphs">Hmgcs1 (-0.17; 2.01)</text>
<text x="283.2" y="201.6" font-size="4.88" text-anchor="middle" textLength="22.5" lengthAdjust="spacingAndGlyphs">HMG-CoA</text>
<line x1="284" y1="203" x2="284" y2="207.9" stroke="#555" stroke-width="0.45" stroke-dasharray="2.2 0.8"/>
<path d="M283 206.9 L284 208.5 L285 206.9 Z" fill="#555" stroke="none" stroke-width="0"/>
<text x="256" y="213.7" font-size="5.07" color="#ee1c1c" font-style="italic" textLength="55.2" lengthAdjust="spacingAndGlyphs">Mevalonate (-2.86; 2.98)</text>
<line x1="284" y1="215" x2="284" y2="234.9" stroke="#555" stroke-width="0.45" stroke-dasharray="2.2 0.8"/>
<path d="M283 233.9 L284 235.5 L285 233.9 Z" fill="#555" stroke="none" stroke-width="0"/>
<text x="280.9" y="222.2" font-size="4.91" text-anchor="end" font-style="italic" textLength="9" lengthAdjust="spacingAndGlyphs">Mvk</text>
<text x="280.9" y="227.7" font-size="4.91" text-anchor="end" font-style="italic" textLength="12" lengthAdjust="spacingAndGlyphs">Pmvk</text>
<text x="280.9" y="232.6" font-size="4.91" text-anchor="end" font-style="italic" textLength="9" lengthAdjust="spacingAndGlyphs">Mvd</text>
<text x="248.2" y="241.1" font-size="5.02" textLength="69.7" lengthAdjust="spacingAndGlyphs">Isopentenyl pyrophosphate (IP)</text>
<line x1="284" y1="242.5" x2="284" y2="248.9" stroke="#555" stroke-width="0.45"/>
<path d="M283 247.9 L284 249.5 L285 247.9 Z" fill="#555" stroke="none" stroke-width="0"/>
<text x="280.5" y="247.8" font-size="4.91" text-anchor="end" font-style="italic" textLength="8" lengthAdjust="spacingAndGlyphs">Idi1</text>
<text x="253.9" y="254.7" font-size="5.02" textLength="62.8" lengthAdjust="spacingAndGlyphs">Dimethylallyl pyrophosphate</text>
<line x1="284" y1="256" x2="284" y2="261.9" stroke="#555" stroke-width="0.45"/>
<path d="M283 260.9 L284 262.5 L285 260.9 Z" fill="#555" stroke="none" stroke-width="0"/>
<text x="280.5" y="261.1" font-size="4.91" text-anchor="end" font-style="italic" textLength="14.5" lengthAdjust="spacingAndGlyphs">Ggps1</text>
<text x="287.3" y="261.2" font-size="5.01" textLength="7.5" lengthAdjust="spacingAndGlyphs">+IP</text>
<text x="256.6" y="267.8" font-size="5.05" textLength="52.5" lengthAdjust="spacingAndGlyphs">Geranyl pyrophosphate</text>
<line x1="284" y1="269" x2="284" y2="274.4" stroke="#555" stroke-width="0.45"/>
<path d="M283 273.4 L284 275 L285 273.4 Z" fill="#555" stroke="none" stroke-width="0"/>
<text x="280.5" y="273.8" font-size="4.91" text-anchor="end" font-style="italic" textLength="11" lengthAdjust="spacingAndGlyphs">Fdps</text>
<text x="248.2" y="279.8" font-size="5.03" color="#ee1c1c" font-style="italic" textLength="82.8" lengthAdjust="spacingAndGlyphs">Farnesyl pyrophosphate (-2.24; 6.32)</text>
<line x1="284" y1="281" x2="284" y2="285.9" stroke="#555" stroke-width="0.45"/>
<path d="M283 284.9 L284 286.5 L285 284.9 Z" fill="#555" stroke="none" stroke-width="0"/>
<text x="280.5" y="285.6" font-size="4.91" text-anchor="end" font-style="italic" textLength="11.5" lengthAdjust="spacingAndGlyphs">Fdft1</text>
<text x="283.2" y="291.6" font-size="4.97" text-anchor="middle" textLength="21" lengthAdjust="spacingAndGlyphs">Squalene</text>
<line x1="284" y1="293" x2="284" y2="297.9" stroke="#555" stroke-width="0.45" stroke-dasharray="2.2 0.8"/>
<path d="M283 296.9 L284 298.5 L285 296.9 Z" fill="#555" stroke="none" stroke-width="0"/>
<text x="262.1" y="303.5" font-size="5.05" textLength="41.3" lengthAdjust="spacingAndGlyphs">2,3-oxidosqualene</text>
<line x1="284" y1="304.8" x2="284" y2="310.4" stroke="#555" stroke-width="0.45"/>
<path d="M283 309.4 L284 311 L285 309.4 Z" fill="#555" stroke="none" stroke-width="0"/>
<text x="289.3" y="309.3" font-size="4.99" color="#2020e0" font-style="italic" textLength="34.7" lengthAdjust="spacingAndGlyphs">Lss (0.16; 1.34)</text>
<text x="258" y="315.5" font-size="4.97" color="#ee1c1c" font-style="italic" textLength="51.7" lengthAdjust="spacingAndGlyphs">Lanosterol (-1.86; 4.16)</text>
<text x="293.8" y="321.5" font-size="5.1" color="#ee1c1c" font-style="italic" textLength="45.6" lengthAdjust="spacingAndGlyphs">Dhcr24 (-0.34; 1.73)</text>
<text x="291.3" y="326.8" font-size="5.05" textLength="58.7" lengthAdjust="spacingAndGlyphs">24,25-Dihydroxylanosterol</text>
<path d="M282.5 317 L277.5 321.5 M277.5 321.5 l0.3 -1.6 M277.5 321.5 l1.6 -0.2" fill="none" stroke="#333" stroke-width="0.45"/>
<path d="M285.5 317 L290 321.5 M290 321.5 l-0.3 -1.6 M290 321.5 l-1.6 -0.2" fill="none" stroke="#333" stroke-width="0.45"/>
<line x1="275" y1="323.3" x2="275" y2="336.4" stroke="#555" stroke-width="0.45" stroke-dasharray="2.2 0.8"/>
<path d="M274 335.4 L275 337 L276 335.4 Z" fill="#555" stroke="none" stroke-width="0"/>
<line x1="323" y1="328.4" x2="323" y2="350.4" stroke="#555" stroke-width="0.45" stroke-dasharray="2.2 0.8"/>
<path d="M322 349.4 L323 351 L324 349.4 Z" fill="#555" stroke="none" stroke-width="0"/>
<text x="249.2" y="342.9" font-size="5.01" textLength="50.7" lengthAdjust="spacingAndGlyphs">7-Dehydrodesmosterol</text>
<text x="257.4" y="348.9" font-size="4.91" text-anchor="middle" color="#ee1c1c" font-style="italic" textLength="13.5" lengthAdjust="spacingAndGlyphs">Dhcr7</text>
<text x="257" y="354.9" font-size="5.05" text-anchor="middle" color="#ee1c1c" font-style="italic" textLength="27.5" lengthAdjust="spacingAndGlyphs">(-0.19; 1.61)</text>
<text x="239.2" y="362.3" font-size="5.03" color="#ee1c1c" font-style="italic" textLength="57" lengthAdjust="spacingAndGlyphs">Desmosterol (-3.02; 4.53)</text>
<text x="299.9" y="356.6" font-size="5.03" color="#ee1c1c" font-style="italic" textLength="47" lengthAdjust="spacingAndGlyphs">7-dehydrocholesterol</text>
<text x="323" y="362.5" font-size="5.05" text-anchor="middle" color="#ee1c1c" font-style="italic" textLength="27.5" lengthAdjust="spacingAndGlyphs">(-2.88; 4.61)</text>
<path d="M275 344.7 L275 373.4 L280 373.4 M280 373.4 l-1.5 -0.9 M280 373.4 l-1.5 0.9" fill="none" stroke="#444" stroke-width="0.45"/>
<path d="M323 363.8 L323 373.4 L318 373.4 M318 373.4 l1.5 -0.9 M318 373.4 l1.5 0.9" fill="none" stroke="#444" stroke-width="0.45"/>
<text x="299.1" y="375.2" font-size="5.04" text-anchor="middle" color="#ee1c1c" font-style="italic" textLength="25.5" lengthAdjust="spacingAndGlyphs">Cholesterol</text>
<text x="299.1" y="380.9" font-size="5.05" text-anchor="middle" color="#ee1c1c" font-style="italic" textLength="27.5" lengthAdjust="spacingAndGlyphs">(-3.05; 2.53)</text>
<text x="262.5" y="378.1" font-size="4.91" text-anchor="middle" color="#ee1c1c" font-style="italic" textLength="16.5" lengthAdjust="spacingAndGlyphs">Dhcr24</text>
<text x="262.5" y="384.1" font-size="5.05" text-anchor="middle" color="#ee1c1c" font-style="italic" textLength="27.5" lengthAdjust="spacingAndGlyphs">(-0.34; 1.73)</text>
<text x="332.6" y="378.1" font-size="4.91" text-anchor="middle" color="#ee1c1c" font-style="italic" textLength="13.5" lengthAdjust="spacingAndGlyphs">Dhcr7</text>
<text x="332.2" y="384.1" font-size="5.05" text-anchor="middle" color="#ee1c1c" font-style="italic" textLength="27.5" lengthAdjust="spacingAndGlyphs">(-0.19; 1.61)</text>
<rect x="235.5" y="54.2" width="7.2" height="30.2" fill="#fff" stroke="#222" stroke-width="0.5"/>
<text x="239.1" y="70.9" font-size="4.67" text-anchor="middle" textLength="21" lengthAdjust="spacingAndGlyphs" transform="rotate(-90 239.1 69.3)">Glycolysis</text>
<rect x="229.8" y="120.3" width="12.9" height="30.2" fill="#fff" stroke="#222" stroke-width="0.5" rx="1"/>
<text x="233.6" y="137" font-size="4.45" text-anchor="middle" textLength="22.5" lengthAdjust="spacingAndGlyphs" transform="rotate(-90 233.6 135.4)">Pyruvate to</text>
<text x="238.9" y="136.9" font-size="4.4" text-anchor="middle" textLength="21.5" lengthAdjust="spacingAndGlyphs" transform="rotate(-90 238.9 135.4)">acetyl-CoA</text>
<rect x="235.5" y="211.7" width="6.8" height="102.5" fill="#fff" stroke="#222" stroke-width="0.5"/>
<text x="238.9" y="268.2" font-size="4.84" text-anchor="middle" textLength="89" lengthAdjust="spacingAndGlyphs" transform="rotate(-90 238.9 266.5)">Superpathway of cholesterol biosynthesis</text>
<text x="355.4" y="8" font-size="9.8" font-weight="bold" style="stroke:none">e</text>
<rect x="376.6" y="7.8" width="3.5" height="3.5" fill="#ee1c1c"/>
<text x="381.7" y="11.3" font-size="4.91" textLength="13.7" lengthAdjust="spacingAndGlyphs">Vehicle</text>
<rect x="398" y="7.8" width="3.5" height="3.5" fill="#1414e6"/>
<text x="402.7" y="11.3" font-size="4.77" textLength="32.1" lengthAdjust="spacingAndGlyphs">Oestradiol (E2)</text>
<rect x="437.9" y="7.8" width="3.5" height="3.5" fill="#3a8a46"/>
<text x="443" y="11.1" font-size="4.41" textLength="64.8" lengthAdjust="spacingAndGlyphs">E2 + MPP dihydrochloride (MPP)</text>
<rect x="509.9" y="7.8" width="3.5" height="3.5" fill="#cfcfcf" stroke="#333" stroke-width="0.25"/>
<text x="514.6" y="11.2" font-size="4.65" textLength="23.9" lengthAdjust="spacingAndGlyphs">E2+PHTPP</text>
<rect x="541.1" y="7.8" width="3.5" height="3.5" fill="#5a5a5a"/>
<text x="545.4" y="11.3" font-size="4.91" textLength="17.6" lengthAdjust="spacingAndGlyphs">E2+G15</text>
<text x="391.4" y="20.8" font-size="3.59" class="s" font-style="italic" textLength="89.3" lengthAdjust="spacingAndGlyphs">Treatment effect (For all metabolites except Cholesterol)</text>
<text x="391.4" y="25" font-size="3.52" class="s" font-style="italic" textLength="37" lengthAdjust="spacingAndGlyphs">E2 vs. Vehicle, p &lt; 0.01</text>
<text x="391.4" y="29.3" font-size="3.52" class="s" font-style="italic" textLength="39" lengthAdjust="spacingAndGlyphs">E2+MMP vs. E2, p &lt;0.01</text>
<text x="391.4" y="33.7" font-size="3.58" class="s" font-style="italic" textLength="43" lengthAdjust="spacingAndGlyphs">E2+PHTPP vs. E2, p = n.s.</text>
<text x="391.4" y="37.9" font-size="3.63" class="s" font-style="italic" textLength="38.5" lengthAdjust="spacingAndGlyphs">E2+G15 vs. E2, p = n.s.</text>
<text x="490.4" y="20.8" font-size="3.73" class="s" font-style="italic" textLength="87.3" lengthAdjust="spacingAndGlyphs">Treatment effect (Pdha1, Dhcr24, Cyp51, Lrp1, Vldlr)</text>
<text x="490.4" y="25.1" font-size="3.71" class="s" font-style="italic" textLength="41" lengthAdjust="spacingAndGlyphs">E2 vs. Vehicle, p &lt; 0.004</text>
<text x="490.4" y="29.4" font-size="3.65" class="s" font-style="italic" textLength="43.5" lengthAdjust="spacingAndGlyphs">E2+MMP vs. E2, p &lt; 0.006</text>
<rect x="419.9" y="81.9" width="2" height="24.53" fill="#ee1c1c"/>
<line x1="420.9" y1="77.6" x2="420.9" y2="84.4" stroke="#222" stroke-width="0.3"/>
<line x1="420.1" y1="77.6" x2="421.7" y2="77.6" stroke="#222" stroke-width="0.35"/>
<path d="M421.2 83.8h0M421.4 83.2h0M421.4 75.1h0M420.9 85.5h0M421.1 85h0M420.5 80.1h0M420.6 81h0M421 74.9h0" stroke="#111" stroke-width="1.05" stroke-linecap="round" fill="none"/>
<rect x="421.9" y="62.1" width="2" height="44.31" fill="#1414e6"/>
<line x1="422.9" y1="56.5" x2="422.9" y2="65.4" stroke="#222" stroke-width="0.3"/>
<line x1="422.1" y1="56.5" x2="423.7" y2="56.5" stroke="#222" stroke-width="0.35"/>
<path d="M422.7 66.5h0M423.2 55.6h0M423.2 55.3h0M423 55.1h0M422.4 65.8h0M422.6 56.4h0M423.4 65.8h0M422.7 67.1h0" stroke="#111" stroke-width="1.05" stroke-linecap="round" fill="none"/>
<rect x="423.9" y="85" width="2" height="21.36" fill="#3a8a46"/>
<line x1="424.9" y1="81.5" x2="424.9" y2="87.1" stroke="#222" stroke-width="0.3"/>
<line x1="424.1" y1="81.5" x2="425.7" y2="81.5" stroke="#222" stroke-width="0.35"/>
<path d="M425.1 80.9h0M425.4 85.6h0M425.4 87.5h0M424.7 82.4h0M424.5 80.4h0M424.4 81.9h0M425 79h0M425.1 82.2h0" stroke="#111" stroke-width="1.05" stroke-linecap="round" fill="none"/>
<rect x="425.9" y="57.3" width="2" height="49.06" fill="#cfcfcf"/>
<line x1="426.9" y1="50.6" x2="426.9" y2="61.4" stroke="#222" stroke-width="0.3"/>
<line x1="426.1" y1="50.6" x2="427.7" y2="50.6" stroke="#222" stroke-width="0.35"/>
<path d="M427.3 55.3h0M426.7 55.3h0M427.1 48.1h0M427.4 47.5h0M427.2 61.4h0M426.4 60.5h0M426.8 56.9h0M426.4 47.9h0" stroke="#111" stroke-width="1.05" stroke-linecap="round" fill="none"/>
<rect x="427.9" y="62.1" width="2" height="44.31" fill="#5a5a5a"/>
<line x1="428.9" y1="56.7" x2="428.9" y2="65.3" stroke="#222" stroke-width="0.3"/>
<line x1="428.1" y1="56.7" x2="429.7" y2="56.7" stroke="#222" stroke-width="0.35"/>
<path d="M429.4 56.3h0M429.2 66.5h0M429.4 58.4h0M428.7 60.9h0M429.2 55.1h0M429.2 64.7h0M429.3 54.1h0M429.4 54.8h0" stroke="#111" stroke-width="1.05" stroke-linecap="round" fill="none"/>
<rect x="430.3" y="92.9" width="2" height="13.45" fill="#ee1c1c"/>
<line x1="431.3" y1="91.1" x2="431.3" y2="94.1" stroke="#222" stroke-width="0.3"/>
<line x1="430.5" y1="91.1" x2="432.1" y2="91.1" stroke="#222" stroke-width="0.35"/>
<path d="M431.4 94.4h0M431.1 94.4h0M431.3 90.8h0M431.1 90h0M430.8 89.9h0M431.5 94.8h0M430.9 89.3h0M431.8 92.1h0" stroke="#111" stroke-width="1.05" stroke-linecap="round" fill="none"/>
<rect x="432.3" y="76.3" width="2" height="30.07" fill="#1414e6"/>
<line x1="433.3" y1="71.9" x2="433.3" y2="79" stroke="#222" stroke-width="0.3"/>
<line x1="432.5" y1="71.9" x2="434.1" y2="71.9" stroke="#222" stroke-width="0.35"/>
<path d="M433 76h0M433.7 74.4h0M433.2 69.7h0M433.8 69.4h0M433.3 78.9h0M432.9 77.6h0M433.8 76.4h0M433.6 70.3h0" stroke="#111" stroke-width="1.05" stroke-linecap="round" fill="none"/>
<rect x="434.3" y="93.7" width="2" height="12.66" fill="#3a8a46"/>
<line x1="435.3" y1="91.8" x2="435.3" y2="94.9" stroke="#222" stroke-width="0.3"/>
<line x1="434.5" y1="91.8" x2="436.1" y2="91.8" stroke="#222" stroke-width="0.35"/>
<path d="M434.9 94.7h0M435.1 92.4h0M435.8 94.8h0M435.8 92.4h0M435.3 94.1h0M435.3 91.5h0M435.2 90.6h0M435.2 95.6h0" stroke="#111" stroke-width="1.05" stroke-linecap="round" fill="none"/>
<rect x="436.3" y="73.2" width="2" height="33.23" fill="#cfcfcf"/>
<line x1="437.3" y1="66" x2="437.3" y2="77.5" stroke="#222" stroke-width="0.3"/>
<line x1="436.5" y1="66" x2="438.1" y2="66" stroke="#222" stroke-width="0.35"/>
<path d="M437.4 71.3h0M437.1 64h0M437 76.4h0M437.7 68.9h0M437.6 76.3h0M437.5 74.3h0M437.6 68.9h0M437.5 67.4h0" stroke="#111" stroke-width="1.05" stroke-linecap="round" fill="none"/>
<rect x="438.3" y="77.1" width="2" height="29.28" fill="#5a5a5a"/>
<line x1="439.3" y1="72.5" x2="439.3" y2="79.9" stroke="#222" stroke-width="0.3"/>
<line x1="438.5" y1="72.5" x2="440.1" y2="72.5" stroke="#222" stroke-width="0.35"/>
<path d="M439.6 78h0M439.1 81.1h0M439.5 76.7h0M438.8 76.2h0M439 77.8h0M439.3 79.5h0M439.5 79.3h0M439.1 77.4h0" stroke="#111" stroke-width="1.05" stroke-linecap="round" fill="none"/>
<rect x="440.7" y="90.6" width="2" height="15.83" fill="#ee1c1c"/>
<line x1="441.7" y1="87.6" x2="441.7" y2="92.4" stroke="#222" stroke-width="0.3"/>
<line x1="440.9" y1="87.6" x2="442.5" y2="87.6" stroke="#222" stroke-width="0.35"/>
<path d="M442.1 88.1h0M442.1 92.5h0M441.9 93.4h0M442.2 89.5h0M441.7 86.6h0M442.1 93h0M441.7 91h0M441.9 91.3h0" stroke="#111" stroke-width="1.05" stroke-linecap="round" fill="none"/>
<rect x="442.7" y="77.1" width="2" height="29.28" fill="#1414e6"/>
<line x1="443.7" y1="73.6" x2="443.7" y2="79.2" stroke="#222" stroke-width="0.3"/>
<line x1="442.9" y1="73.6" x2="444.5" y2="73.6" stroke="#222" stroke-width="0.35"/>
<path d="M444 76.6h0M443.9 75.1h0M443.8 78.5h0M443.9 78h0M443.2 72.6h0M443.6 77.3h0M443.4 77.6h0M443.8 71.4h0" stroke="#111" stroke-width="1.05" stroke-linecap="round" fill="none"/>
<rect x="444.7" y="90.6" width="2" height="15.83" fill="#3a8a46"/>
<line x1="445.7" y1="88.1" x2="445.7" y2="92.1" stroke="#222" stroke-width="0.3"/>
<line x1="444.9" y1="88.1" x2="446.5" y2="88.1" stroke="#222" stroke-width="0.35"/>
<path d="M445.4 86.2h0M445.3 88.1h0M445.3 87.2h0M445.2 89.2h0M445.6 90.3h0M445.8 87.6h0M446.1 85.9h0M445.6 87.9h0" stroke="#111" stroke-width="1.05" stroke-linecap="round" fill="none"/>
<rect x="446.7" y="74.8" width="2" height="31.65" fill="#cfcfcf"/>
<line x1="447.7" y1="70" x2="447.7" y2="77.6" stroke="#222" stroke-width="0.3"/>
<line x1="446.9" y1="70" x2="448.5" y2="70" stroke="#222" stroke-width="0.35"/>
<path d="M447.3 77.4h0M447.6 67.6h0M447.8 68.3h0M447.7 71.3h0M447.8 79h0M448.1 72.3h0M448 75.1h0M447.6 68.9h0" stroke="#111" stroke-width="1.05" stroke-linecap="round" fill="none"/>
<rect x="448.7" y="75.5" width="2" height="30.86" fill="#5a5a5a"/>
<line x1="449.7" y1="70.2" x2="449.7" y2="78.7" stroke="#222" stroke-width="0.3"/>
<line x1="448.9" y1="70.2" x2="450.5" y2="70.2" stroke="#222" stroke-width="0.35"/>
<path d="M449.8 80.2h0M450.2 75.5h0M449.5 79.4h0M449.2 68.6h0M449.8 75.6h0M449.3 75.8h0M450.1 72.3h0M449.6 70.3h0" stroke="#111" stroke-width="1.05" stroke-linecap="round" fill="none"/>
<rect x="451.1" y="89" width="2" height="17.41" fill="#ee1c1c"/>
<line x1="452.1" y1="86.6" x2="452.1" y2="90.4" stroke="#222" stroke-width="0.3"/>
<line x1="451.3" y1="86.6" x2="452.9" y2="86.6" stroke="#222" stroke-width="0.35"/>
<path d="M452.6 87.1h0M452.6 90.7h0M452.2 86.2h0M452.6 87.9h0M452 86.6h0M452.6 87.8h0M451.9 87.7h0M451.7 88.7h0" stroke="#111" stroke-width="1.05" stroke-linecap="round" fill="none"/>
<rect x="453.1" y="73.2" width="2" height="33.23" fill="#1414e6"/>
<line x1="454.1" y1="68.1" x2="454.1" y2="76.2" stroke="#222" stroke-width="0.3"/>
<line x1="453.3" y1="68.1" x2="454.9" y2="68.1" stroke="#222" stroke-width="0.35"/>
<path d="M453.9 75.4h0M454.5 65.2h0M454.1 68.7h0M454.6 75.4h0M453.8 68.6h0M453.7 78.1h0M453.9 73.1h0M454.1 73.6h0" stroke="#111" stroke-width="1.05" stroke-linecap="round" fill="none"/>
<rect x="455.1" y="90.6" width="2" height="15.83" fill="#3a8a46"/>
<line x1="456.1" y1="87.8" x2="456.1" y2="92.2" stroke="#222" stroke-width="0.3"/>
<line x1="455.3" y1="87.8" x2="456.9" y2="87.8" stroke="#222" stroke-width="0.35"/>
<path d="M456.4 86.4h0M456.4 87.9h0M456.1 88.1h0M455.9 89.6h0M456.1 88.3h0M456.4 90.1h0M455.6 87.5h0M456.1 92.7h0" stroke="#111" stroke-width="1.05" stroke-linecap="round" fill="none"/>
<rect x="457.1" y="70" width="2" height="36.4" fill="#cfcfcf"/>
<line x1="458.1" y1="62.5" x2="458.1" y2="74.5" stroke="#222" stroke-width="0.3"/>
<line x1="457.3" y1="62.5" x2="458.9" y2="62.5" stroke="#222" stroke-width="0.35"/>
<path d="M458.2 59h0M458.4 66.8h0M458.2 72h0M458.2 67.8h0M458.6 66h0M458 74.7h0M457.8 64.3h0M458.5 60h0" stroke="#111" stroke-width="1.05" stroke-linecap="round" fill="none"/>
<rect x="459.1" y="75.5" width="2" height="30.86" fill="#5a5a5a"/>
<line x1="460.1" y1="69.4" x2="460.1" y2="79.3" stroke="#222" stroke-width="0.3"/>
<line x1="459.3" y1="69.4" x2="460.9" y2="69.4" stroke="#222" stroke-width="0.35"/>
<path d="M460.3 72.8h0M459.9 78.3h0M460.6 68.2h0M460.1 74.6h0M460.1 71.2h0M459.7 75.2h0M460.4 67.1h0M459.8 78.9h0" stroke="#111" stroke-width="1.05" stroke-linecap="round" fill="none"/>
<rect x="461.5" y="92.2" width="2" height="14.24" fill="#ee1c1c"/>
<line x1="462.5" y1="89.4" x2="462.5" y2="93.8" stroke="#222" stroke-width="0.3"/>
<line x1="461.7" y1="89.4" x2="463.3" y2="89.4" stroke="#222" stroke-width="0.35"/>
<path d="M462.7 87.2h0M462.7 94.8h0M463 92.6h0M462 93.7h0M462.2 92.1h0M463 92.7h0M462.1 89.4h0M463 88.2h0" stroke="#111" stroke-width="1.05" stroke-linecap="round" fill="none"/>
<rect x="463.5" y="77.1" width="2" height="29.28" fill="#1414e6"/>
<line x1="464.5" y1="72.1" x2="464.5" y2="80.2" stroke="#222" stroke-width="0.3"/>
<line x1="463.7" y1="72.1" x2="465.3" y2="72.1" stroke="#222" stroke-width="0.35"/>
<path d="M464.4 71.2h0M464.6 69.6h0M464.1 74h0M464 69.8h0M464.6 78.8h0M464.9 70.8h0M464.4 73.2h0M464.6 75.5h0" stroke="#111" stroke-width="1.05" stroke-linecap="round" fill="none"/>
<rect x="465.5" y="93.7" width="2" height="12.66" fill="#3a8a46"/>
<line x1="466.5" y1="91" x2="466.5" y2="95.4" stroke="#222" stroke-width="0.3"/>
<line x1="465.7" y1="91" x2="467.3" y2="91" stroke="#222" stroke-width="0.35"/>
<path d="M466.4 89.2h0M466.7 89.9h0M466.6 92.6h0M467 93h0M466.6 90.8h0M466.6 90.7h0M466.8 92.7h0M466.1 90.5h0" stroke="#111" stroke-width="1.05" stroke-linecap="round" fill="none"/>
<rect x="467.5" y="81.9" width="2" height="24.53" fill="#cfcfcf"/>
<line x1="468.5" y1="78.3" x2="468.5" y2="84" stroke="#222" stroke-width="0.3"/>
<line x1="467.7" y1="78.3" x2="469.3" y2="78.3" stroke="#222" stroke-width="0.35"/>
<path d="M468.8 77.5h0M468.7 82.1h0M468 82.2h0M468.1 77h0M468.6 78.1h0M468.9 80.4h0M468.3 83.5h0M468 82.8h0" stroke="#111" stroke-width="1.05" stroke-linecap="round" fill="none"/>
<rect x="469.5" y="79.5" width="2" height="26.9" fill="#5a5a5a"/>
<line x1="470.5" y1="76.6" x2="470.5" y2="81.2" stroke="#222" stroke-width="0.3"/>
<line x1="469.7" y1="76.6" x2="471.3" y2="76.6" stroke="#222" stroke-width="0.35"/>
<path d="M470.1 82h0M470.7 76.1h0M470.1 82.1h0M470.7 80.9h0M470.1 79.3h0M470.3 76.2h0M470.3 79.2h0M470.3 77.4h0" stroke="#111" stroke-width="1.05" stroke-linecap="round" fill="none"/>
<rect x="471.9" y="87.4" width="2" height="18.99" fill="#ee1c1c"/>
<line x1="472.9" y1="85.2" x2="472.9" y2="88.7" stroke="#222" stroke-width="0.3"/>
<line x1="472.1" y1="85.2" x2="473.7" y2="85.2" stroke="#222" stroke-width="0.35"/>
<path d="M473.3 87.3h0M473.2 85.9h0M473.3 86.4h0M473 86.8h0M473.2 85.6h0M472.5 83.3h0M472.6 83.3h0M473.3 86.2h0" stroke="#111" stroke-width="1.05" stroke-linecap="round" fill="none"/>
<rect x="473.9" y="81.1" width="2" height="25.32" fill="#1414e6"/>
<line x1="474.9" y1="76.2" x2="474.9" y2="84" stroke="#222" stroke-width="0.3"/>
<line x1="474.1" y1="76.2" x2="475.7" y2="76.2" stroke="#222" stroke-width="0.35"/>
<path d="M474.4 79.2h0M475.3 81.1h0M474.8 79.2h0M474.5 75.2h0M474.5 78h0M474.8 84.4h0M474.5 76.5h0M474.7 75.3h0" stroke="#111" stroke-width="1.05" stroke-linecap="round" fill="none"/>
<rect x="475.9" y="87.4" width="2" height="18.99" fill="#3a8a46"/>
<line x1="476.9" y1="84.9" x2="476.9" y2="88.9" stroke="#222" stroke-width="0.3"/>
<line x1="476.1" y1="84.9" x2="477.7" y2="84.9" stroke="#222" stroke-width="0.35"/>
<path d="M476.6 86.1h0M476.4 89.4h0M476.8 89.5h0M477.1 87.6h0M476.9 89.6h0M476.5 87.5h0M476.7 87.6h0M477.2 83.8h0" stroke="#111" stroke-width="1.05" stroke-linecap="round" fill="none"/>
<rect x="477.9" y="80.3" width="2" height="26.11" fill="#cfcfcf"/>
<line x1="478.9" y1="77" x2="478.9" y2="82.2" stroke="#222" stroke-width="0.3"/>
<line x1="478.1" y1="77" x2="479.7" y2="77" stroke="#222" stroke-width="0.35"/>
<path d="M478.4 76.6h0M478.4 78.2h0M479.4 77.8h0M478.7 78.8h0M478.7 81.1h0M479.1 76h0M478.6 80.6h0M479.4 80.4h0" stroke="#111" stroke-width="1.05" stroke-linecap="round" fill="none"/>
<rect x="479.9" y="80.3" width="2" height="26.11" fill="#5a5a5a"/>
<line x1="480.9" y1="76.3" x2="480.9" y2="82.7" stroke="#222" stroke-width="0.3"/>
<line x1="480.1" y1="76.3" x2="481.7" y2="76.3" stroke="#222" stroke-width="0.35"/>
<path d="M481.4 73.7h0M480.4 81.9h0M480.8 74.1h0M481 84.1h0M480.9 77.4h0M480.5 74.4h0M481.3 78.9h0M481.4 74.2h0" stroke="#111" stroke-width="1.05" stroke-linecap="round" fill="none"/>
<line x1="419.1" y1="42.6" x2="419.1" y2="106.4" stroke="#000" stroke-width="0.5"/>
<line x1="419.1" y1="106.4" x2="481.8" y2="106.4" stroke="#000" stroke-width="0.5"/>
<line x1="417.8" y1="106.4" x2="419.1" y2="106.4" stroke="#000" stroke-width="0.4"/>
<text x="417.1" y="108.1" font-size="4.8" text-anchor="end">0</text>
<line x1="417.8" y1="90.6" x2="419.1" y2="90.6" stroke="#000" stroke-width="0.4"/>
<text x="417.1" y="92.3" font-size="4.8" text-anchor="end">1</text>
<line x1="417.8" y1="74.8" x2="419.1" y2="74.8" stroke="#000" stroke-width="0.4"/>
<text x="417.1" y="76.4" font-size="4.8" text-anchor="end">2</text>
<line x1="417.8" y1="58.9" x2="419.1" y2="58.9" stroke="#000" stroke-width="0.4"/>
<text x="417.1" y="60.6" font-size="4.8" text-anchor="end">3</text>
<line x1="417.8" y1="43.1" x2="419.1" y2="43.1" stroke="#000" stroke-width="0.4"/>
<text x="417.1" y="44.8" font-size="4.8" text-anchor="end">4</text>
<text x="408.7" y="76.3" font-size="4.5" text-anchor="middle" textLength="66" lengthAdjust="spacingAndGlyphs" transform="rotate(-90 408.7 74.8)">Relative fold change (vs. vehicle)</text>
<text x="427.5" y="112.1" font-size="4.8" text-anchor="end" transform="rotate(-48 427.5 110.4)">G6P</text>
<text x="437.9" y="112.1" font-size="4.8" text-anchor="end" transform="rotate(-48 437.9 110.4)">Pyruvate</text>
<text x="448.3" y="112.1" font-size="4.8" text-anchor="end" transform="rotate(-48 448.3 110.4)">Acetyl-CoA</text>
<text x="458.7" y="112.1" font-size="4.8" text-anchor="end" transform="rotate(-48 458.7 110.4)">Acetoacetyl-CoA</text>
<text x="469.1" y="112.1" font-size="4.8" text-anchor="end" transform="rotate(-48 469.1 110.4)">Mevalonic acid</text>
<text x="479.5" y="112.1" font-size="4.8" text-anchor="end" transform="rotate(-48 479.5 110.4)">Cholesterol</text>
<text x="415.8" y="123.4" font-size="4.74" text-anchor="end" textLength="34.8" lengthAdjust="spacingAndGlyphs">Primary neruons</text>
<text x="415.8" y="128.7" font-size="4.84" text-anchor="end" textLength="55" lengthAdjust="spacingAndGlyphs">(Treatment for 120 hours)</text>
<text x="470.3" y="77.1" font-size="3.27" text-anchor="middle" class="s">–ns–</text>
<rect x="504.8" y="101.1" width="2.55" height="5.28" fill="#ee1c1c"/>
<line x1="506.1" y1="100.4" x2="506.1" y2="101.5" stroke="#222" stroke-width="0.3"/>
<line x1="505.3" y1="100.4" x2="506.9" y2="100.4" stroke="#222" stroke-width="0.35"/>
<path d="M505.4 99.4h0M505.5 98.8h0M505.9 99h0M505.4 97.9h0M506.7 98.5h0M506.1 99.4h0M506.1 98.1h0M505.8 98.2h0" stroke="#111" stroke-width="1.05" stroke-linecap="round" fill="none"/>
<rect x="507.4" y="102.2" width="2.55" height="4.22" fill="#1414e6"/>
<line x1="508.6" y1="101.5" x2="508.6" y2="102.6" stroke="#222" stroke-width="0.3"/>
<line x1="507.8" y1="101.5" x2="509.4" y2="101.5" stroke="#222" stroke-width="0.35"/>
<path d="M509.2 101.2h0M509.1 99.7h0M507.9 101h0M508.6 101.1h0M508.5 101.3h0M508.9 102.5h0M508.4 100.6h0M509.1 99.7h0" stroke="#111" stroke-width="1.05" stroke-linecap="round" fill="none"/>
<rect x="509.9" y="101.7" width="2.55" height="4.75" fill="#3a8a46"/>
<line x1="511.2" y1="101.1" x2="511.2" y2="102" stroke="#222" stroke-width="0.3"/>
<line x1="510.4" y1="101.1" x2="512" y2="101.1" stroke="#222" stroke-width="0.35"/>
<path d="M510.9 98.7h0M511.6 101.6h0M510.9 98.9h0M510.6 99.3h0M510.6 100h0M511.3 99.3h0M510.6 101.1h0M510.5 99.1h0" stroke="#111" stroke-width="1.05" stroke-linecap="round" fill="none"/>
<rect x="513.5" y="98" width="2.55" height="8.44" fill="#ee1c1c"/>
<line x1="514.8" y1="96.8" x2="514.8" y2="98.6" stroke="#222" stroke-width="0.3"/>
<line x1="514" y1="96.8" x2="515.6" y2="96.8" stroke="#222" stroke-width="0.35"/>
<path d="M514.6 94.5h0M514.7 95.6h0M515.1 96.8h0M515.3 97.3h0M515.1 96.9h0M514.7 98.2h0M515 98.9h0M515.1 97.6h0" stroke="#111" stroke-width="1.05" stroke-linecap="round" fill="none"/>
<rect x="516" y="85.3" width="2.55" height="21.1" fill="#1414e6"/>
<line x1="517.3" y1="82.5" x2="517.3" y2="87" stroke="#222" stroke-width="0.3"/>
<line x1="516.5" y1="82.5" x2="518.1" y2="82.5" stroke="#222" stroke-width="0.35"/>
<path d="M517.8 82.6h0M516.8 79.8h0M516.9 81.5h0M517.6 81.7h0M516.7 86h0M517.4 79.4h0M516.7 80.3h0M517.1 86.8h0" stroke="#111" stroke-width="1.05" stroke-linecap="round" fill="none"/>
<rect x="518.6" y="103.8" width="2.55" height="2.64" fill="#3a8a46"/>
<line x1="519.9" y1="103.2" x2="519.9" y2="104.1" stroke="#222" stroke-width="0.3"/>
<line x1="519.1" y1="103.2" x2="520.7" y2="103.2" stroke="#222" stroke-width="0.35"/>
<path d="M520 101.4h0M519.8 101.9h0M519.6 100.5h0M520 103.7h0M520.2 100.9h0M519.9 101.1h0M520.2 102.2h0M520.5 103.6h0" stroke="#111" stroke-width="1.05" stroke-linecap="round" fill="none"/>
<rect x="522.2" y="99.5" width="2.55" height="6.86" fill="#ee1c1c"/>
<line x1="523.5" y1="98.8" x2="523.5" y2="100" stroke="#222" stroke-width="0.3"/>
<line x1="522.7" y1="98.8" x2="524.3" y2="98.8" stroke="#222" stroke-width="0.35"/>
<path d="M523.2 100h0M523.4 97.9h0M523.4 99.3h0M524.1 98.3h0M524.1 98.6h0M522.9 99.5h0M523.4 96.2h0M524.1 96.2h0" stroke="#111" stroke-width="1.05" stroke-linecap="round" fill="none"/>
<rect x="524.8" y="101.1" width="2.55" height="5.28" fill="#1414e6"/>
<line x1="526" y1="100.2" x2="526" y2="101.7" stroke="#222" stroke-width="0.3"/>
<line x1="525.2" y1="100.2" x2="526.8" y2="100.2" stroke="#222" stroke-width="0.35"/>
<path d="M526 101.5h0M525.9 98.4h0M525.7 98.4h0M526.1 99.1h0M526.4 98.6h0M525.8 98.6h0M526.7 101.3h0M526.5 100.3h0" stroke="#111" stroke-width="1.05" stroke-linecap="round" fill="none"/>
<rect x="527.3" y="100.1" width="2.55" height="6.33" fill="#3a8a46"/>
<line x1="528.6" y1="99.1" x2="528.6" y2="100.6" stroke="#222" stroke-width="0.3"/>
<line x1="527.8" y1="99.1" x2="529.4" y2="99.1" stroke="#222" stroke-width="0.35"/>
<path d="M528.1 100.2h0M528.6 96.5h0M528.1 96.8h0M528.9 100.5h0M528.2 100.1h0M528.3 99.5h0M529.1 99.3h0M529 98.1h0" stroke="#111" stroke-width="1.05" stroke-linecap="round" fill="none"/>
<rect x="530.9" y="101.1" width="2.55" height="5.28" fill="#ee1c1c"/>
<line x1="532.2" y1="100.5" x2="532.2" y2="101.5" stroke="#222" stroke-width="0.3"/>
<line x1="531.4" y1="100.5" x2="533" y2="100.5" stroke="#222" stroke-width="0.35"/>
<path d="M532.2 100.1h0M531.7 99.4h0M531.9 97.9h0M531.9 99.3h0M532.1 100.6h0M532 101.7h0M532.6 101.4h0M532.4 100.4h0" stroke="#111" stroke-width="1.05" stroke-linecap="round" fill="none"/>
<rect x="533.4" y="94.3" width="2.55" height="12.13" fill="#1414e6"/>
<line x1="534.7" y1="92.3" x2="534.7" y2="95.5" stroke="#222" stroke-width="0.3"/>
<line x1="533.9" y1="92.3" x2="535.5" y2="92.3" stroke="#222" stroke-width="0.35"/>
<path d="M535.1 91.7h0M534.9 94h0M534.8 91.2h0M534.1 89.8h0M534.5 93.3h0M535.1 94.2h0M534.5 95.8h0M534.4 94.2h0" stroke="#111" stroke-width="1.05" stroke-linecap="round" fill="none"/>
<rect x="536" y="102.7" width="2.55" height="3.69" fill="#3a8a46"/>
<line x1="537.3" y1="102.1" x2="537.3" y2="103.1" stroke="#222" stroke-width="0.3"/>
<line x1="536.5" y1="102.1" x2="538.1" y2="102.1" stroke="#222" stroke-width="0.35"/>
<path d="M537.6 102h0M537.9 102.9h0M537.5 102.7h0M537.6 101.8h0M536.9 101.4h0M537.8 100.4h0M537.9 101.5h0M537.1 99.4h0" stroke="#111" stroke-width="1.05" stroke-linecap="round" fill="none"/>
<rect x="539.6" y="101.1" width="2.55" height="5.28" fill="#ee1c1c"/>
<line x1="540.9" y1="100.4" x2="540.9" y2="101.6" stroke="#222" stroke-width="0.3"/>
<line x1="540.1" y1="100.4" x2="541.7" y2="100.4" stroke="#222" stroke-width="0.35"/>
<path d="M540.4 100.4h0M541.4 101.5h0M541 99.3h0M540.3 100.6h0M540.9 100.7h0M540.7 101.4h0M540.5 98.9h0M540.5 100.3h0" stroke="#111" stroke-width="1.05" stroke-linecap="round" fill="none"/>
<rect x="542.1" y="94.3" width="2.55" height="12.13" fill="#1414e6"/>
<line x1="543.4" y1="91.7" x2="543.4" y2="95.8" stroke="#222" stroke-width="0.3"/>
<line x1="542.6" y1="91.7" x2="544.2" y2="91.7" stroke="#222" stroke-width="0.35"/>
<path d="M543 93.7h0M543.8 90.4h0M542.8 93.2h0M543.9 95.8h0M543.7 91.9h0M543.3 92.9h0M544 91h0M543.1 93.5h0" stroke="#111" stroke-width="1.05" stroke-linecap="round" fill="none"/>
<rect x="544.7" y="101.1" width="2.55" height="5.28" fill="#3a8a46"/>
<line x1="546" y1="100" x2="546" y2="101.8" stroke="#222" stroke-width="0.3"/>
<line x1="545.2" y1="100" x2="546.8" y2="100" stroke="#222" stroke-width="0.35"/>
<path d="M545.5 97.3h0M545.4 100h0M546.1 98.1h0M545.5 100.2h0M546.2 100.7h0M546.3 97.5h0M546 101.4h0M546.6 98.8h0" stroke="#111" stroke-width="1.05" stroke-linecap="round" fill="none"/>
<rect x="548.3" y="101.1" width="2.55" height="5.28" fill="#ee1c1c"/>
<line x1="549.6" y1="100.1" x2="549.6" y2="101.8" stroke="#222" stroke-width="0.3"/>
<line x1="548.8" y1="100.1" x2="550.4" y2="100.1" stroke="#222" stroke-width="0.35"/>
<path d="M549.8 101.8h0M549.2 100.7h0M550.1 99.6h0M549 98.2h0M549.1 97.7h0M549.1 100.3h0M549 101h0M549.9 101.3h0" stroke="#111" stroke-width="1.05" stroke-linecap="round" fill="none"/>
<rect x="550.8" y="67.9" width="2.55" height="38.51" fill="#1414e6"/>
<line x1="552.1" y1="60.3" x2="552.1" y2="72.4" stroke="#222" stroke-width="0.3"/>
<line x1="551.3" y1="60.3" x2="552.9" y2="60.3" stroke="#222" stroke-width="0.35"/>
<path d="M552.4 73.9h0M552.8 68h0M552.8 57.6h0M551.6 56.8h0M551.7 63h0M552.1 69.1h0M552.5 57.2h0M552 66.4h0" stroke="#111" stroke-width="1.05" stroke-linecap="round" fill="none"/>
<rect x="553.4" y="96.9" width="2.55" height="9.5" fill="#3a8a46"/>
<line x1="554.7" y1="95.5" x2="554.7" y2="97.7" stroke="#222" stroke-width="0.3"/>
<line x1="553.9" y1="95.5" x2="555.5" y2="95.5" stroke="#222" stroke-width="0.35"/>
<path d="M554.1 96h0M554.5 96.5h0M554.7 98.1h0M555.3 93h0M555 96.7h0M554.4 93.3h0M554.6 94.6h0M555 97.8h0" stroke="#111" stroke-width="1.05" stroke-linecap="round" fill="none"/>
<rect x="557" y="101.7" width="2.55" height="4.75" fill="#ee1c1c"/>
<line x1="558.3" y1="101" x2="558.3" y2="102.1" stroke="#222" stroke-width="0.3"/>
<line x1="557.5" y1="101" x2="559.1" y2="101" stroke="#222" stroke-width="0.35"/>
<path d="M558 100.3h0M558.6 101.5h0M558.4 99.5h0M558 101.7h0M558.3 98.5h0M558.2 99.2h0M558.5 98.6h0M558 98.6h0" stroke="#111" stroke-width="1.05" stroke-linecap="round" fill="none"/>
<rect x="559.5" y="98" width="2.55" height="8.44" fill="#1414e6"/>
<line x1="560.8" y1="96.6" x2="560.8" y2="98.8" stroke="#222" stroke-width="0.3"/>
<line x1="560" y1="96.6" x2="561.6" y2="96.6" stroke="#222" stroke-width="0.35"/>
<path d="M561.5 96.7h0M560.7 98.9h0M560.3 95.7h0M561.3 93.8h0M561.2 95.7h0M560.1 95.1h0M560.8 95.9h0M560.8 94h0" stroke="#111" stroke-width="1.05" stroke-linecap="round" fill="none"/>
<rect x="562.1" y="103.8" width="2.55" height="2.64" fill="#3a8a46"/>
<line x1="563.4" y1="103.2" x2="563.4" y2="104.1" stroke="#222" stroke-width="0.3"/>
<line x1="562.6" y1="103.2" x2="564.2" y2="103.2" stroke="#222" stroke-width="0.35"/>
<path d="M564 102.2h0M563.3 100.8h0M563.1 104.2h0M563.6 102.5h0M562.7 102h0M563.8 102.2h0M563.5 104h0M563.6 102.9h0" stroke="#111" stroke-width="1.05" stroke-linecap="round" fill="none"/>
<line x1="503.3" y1="42.6" x2="503.3" y2="106.4" stroke="#000" stroke-width="0.5"/>
<line x1="503.3" y1="106.4" x2="565.6" y2="106.4" stroke="#000" stroke-width="0.5"/>
<line x1="502" y1="106.4" x2="503.3" y2="106.4" stroke="#000" stroke-width="0.4"/>
<text x="501.3" y="108.1" font-size="4.8" text-anchor="end">0</text>
<line x1="502" y1="85.3" x2="503.3" y2="85.3" stroke="#000" stroke-width="0.4"/>
<text x="501.3" y="87" font-size="4.8" text-anchor="end">4</text>
<line x1="502" y1="64.2" x2="503.3" y2="64.2" stroke="#000" stroke-width="0.4"/>
<text x="501.3" y="65.9" font-size="4.8" text-anchor="end">8</text>
<line x1="502" y1="43.1" x2="503.3" y2="43.1" stroke="#000" stroke-width="0.4"/>
<text x="501.3" y="44.8" font-size="4.8" text-anchor="end">12</text>
<text x="492" y="76.3" font-size="4.5" text-anchor="middle" textLength="66" lengthAdjust="spacingAndGlyphs" transform="rotate(-90 492 74.8)">Relative fold change (vs. vehicle)</text>
<text x="509.9" y="111.9" font-size="4.63" text-anchor="end" font-style="italic" transform="rotate(-48 509.9 110.3)">Eno1/Rpl13a</text>
<text x="518.8" y="111.9" font-size="4.63" text-anchor="end" font-style="italic" transform="rotate(-48 518.8 110.3)">Pdha1/Rpl13a</text>
<text x="527.7" y="111.9" font-size="4.63" text-anchor="end" font-style="italic" transform="rotate(-48 527.7 110.3)">Gapdh/Rpl13a</text>
<text x="536.5" y="111.9" font-size="4.63" text-anchor="end" font-style="italic" transform="rotate(-48 536.5 110.3)">Dhcr24/Rpl13a</text>
<text x="545.4" y="111.9" font-size="4.63" text-anchor="end" font-style="italic" transform="rotate(-48 545.4 110.3)">Cyp51/Rpl13a</text>
<text x="554.3" y="111.9" font-size="4.63" text-anchor="end" font-style="italic" transform="rotate(-48 554.3 110.3)">Lrp1/Rpl13a</text>
<text x="563.2" y="111.9" font-size="4.63" text-anchor="end" font-style="italic" transform="rotate(-48 563.2 110.3)">Vldlr/Rpl13a</text>
<text x="508.5" y="91.6" font-size="3.27" text-anchor="middle" class="s">–ns–</text>
<text x="526" y="91.6" font-size="3.27" text-anchor="middle" class="s">–ns–</text>
<text x="578.8" y="8" font-size="9.8" font-weight="bold" style="stroke:none">f</text>
<text x="631.5" y="24.7" font-size="4.9" text-anchor="middle" textLength="33.5" lengthAdjust="spacingAndGlyphs">Primary neuron</text>
<text x="631.6" y="30.1" font-size="4.83" text-anchor="middle" textLength="54.8" lengthAdjust="spacingAndGlyphs">(Treatment for 120 hours)</text>
<text x="598" y="37" font-size="4.91" text-anchor="end">E2</text>
<text x="598" y="43.1" font-size="4.91" text-anchor="end" font-style="italic">MPP</text>
<text x="604.7" y="36.9" font-size="5.01" text-anchor="middle">−</text>
<text x="613.5" y="36.9" font-size="5.01" text-anchor="middle">+</text>
<text x="621.5" y="36.9" font-size="5.01" text-anchor="middle">+</text>
<text x="604.7" y="43" font-size="5.01" text-anchor="middle">−</text>
<text x="613.5" y="43" font-size="5.01" text-anchor="middle">−</text>
<text x="621.5" y="43" font-size="5.01" text-anchor="middle">+</text>
<text x="643.4" y="36.9" font-size="5.01" text-anchor="middle">−</text>
<text x="652.4" y="36.9" font-size="5.01" text-anchor="middle">+</text>
<text x="661.1" y="36.9" font-size="5.01" text-anchor="middle">+</text>
<text x="643.4" y="43" font-size="5.01" text-anchor="middle">−</text>
<text x="652.4" y="43" font-size="5.01" text-anchor="middle">−</text>
<text x="661.1" y="43" font-size="5.01" text-anchor="middle">+</text>
<text x="628.6" y="43.1" font-size="4.91">bp</text>
<text x="668.3" y="43.1" font-size="4.91">bp</text>
<rect x="600.1" y="46.1" width="26.5" height="10" fill="#0b0b0b"/>
<g filter="url(#bl)">
<rect x="601.5" y="49.8" width="6.4" height="1.3" fill="#f2f2f2" rx="0.5" opacity="0.4"/>
<rect x="610.3" y="49.8" width="6.4" height="1.3" fill="#f2f2f2" rx="0.5" opacity="0.9"/>
</g>
<rect x="638.8" y="46.1" width="26.9" height="10" fill="#242424"/>
<g filter="url(#bl)">
<rect x="639.6" y="47.4" width="25.3" height="6.5" fill="#8a8a8a" opacity="0.6"/>
<rect x="639.7" y="49.5" width="7.4" height="2.2" fill="#dfe6ea" rx="0.5" opacity="0.7"/>
<rect x="648.7" y="49.5" width="7.4" height="2.2" fill="#dfe6ea" rx="0.5" opacity="0.7"/>
<rect x="657.4" y="49.5" width="7.4" height="2.2" fill="#dfe6ea" rx="0.5" opacity="0.7"/>
</g>
<text x="597.5" y="53" font-size="4.91" text-anchor="end" font-style="italic">Pdha1</text>
<text x="628.6" y="53" font-size="4.91">103</text>
<text x="668.2" y="53" font-size="4.91">103</text>
<rect x="600.1" y="58.1" width="26.5" height="10" fill="#0e0e0e"/>
<g filter="url(#bl)">
<rect x="601.5" y="61.5" width="6.4" height="1.8" fill="#f2f2f2" rx="0.5" opacity="0.3"/>
<rect x="610.3" y="61.5" width="6.4" height="1.8" fill="#f2f2f2" rx="0.5" opacity="0.9"/>
</g>
<rect x="638.8" y="58.1" width="26.9" height="10" fill="#333334"/>
<g filter="url(#bl)">
<rect x="639.6" y="59.9" width="25.3" height="5.5" fill="#7a7a7a" opacity="0.5"/>
<rect x="639.8" y="61.6" width="7.2" height="2" fill="#d8e0e4" rx="0.5" opacity="0.45"/>
<rect x="648.8" y="61.6" width="7.2" height="2" fill="#e0e8ec" rx="0.5" opacity="0.7"/>
<rect x="657.5" y="61.6" width="7.2" height="2" fill="#e0e8ec" rx="0.5" opacity="0.7"/>
</g>
<text x="597.5" y="65" font-size="4.91" text-anchor="end" font-style="italic">Dhcr24</text>
<text x="628.6" y="65" font-size="4.91">128</text>
<text x="668.2" y="65" font-size="4.91">128</text>
<rect x="600.1" y="70.1" width="26.5" height="10" fill="#3a3a3b"/>
<g filter="url(#bl)">
<rect x="610.3" y="74.8" width="6.4" height="1.6" fill="#f2f2f2" rx="0.5" opacity="0.2"/>
</g>
<rect x="638.8" y="70.1" width="26.9" height="10" fill="#22150f"/>
<g filter="url(#bl)">
<rect x="640.7" y="73.9" width="5.4" height="1.25" fill="#c8d0b0" rx="0.5" opacity="0.6"/>
<rect x="649.7" y="73.9" width="5.4" height="1.25" fill="#fff" rx="0.5" opacity="1"/>
<rect x="658.4" y="73.9" width="5.4" height="1.25" fill="#f0ecd0" rx="0.5" opacity="0.8"/>
</g>
<text x="597.5" y="77" font-size="4.91" text-anchor="end" font-style="italic">Cyp51</text>
<text x="628.6" y="77" font-size="4.91">81</text>
<text x="668.2" y="77" font-size="4.91">81</text>
<rect x="600.1" y="81.8" width="26.5" height="10" fill="#2c2c2f"/>
<g filter="url(#bl)">
<rect x="601.5" y="86.5" width="6.4" height="1.5" fill="#f2f2f2" rx="0.5" opacity="0.25"/>
<rect x="610.3" y="86.5" width="6.4" height="1.5" fill="#f2f2f2" rx="0.5" opacity="0.55"/>
<rect x="618.3" y="86.5" width="6.4" height="1.5" fill="#f2f2f2" rx="0.5" opacity="0.25"/>
</g>
<rect x="638.8" y="81.8" width="26.9" height="10" fill="#040404"/>
<g filter="url(#bl)">
<rect x="640.7" y="86.8" width="5.4" height="1.25" fill="#fff" rx="0.5" opacity="1"/>
<rect x="649.7" y="86.8" width="5.4" height="1.25" fill="#fff" rx="0.5" opacity="0.95"/>
<rect x="658.4" y="86.8" width="5.4" height="1.25" fill="#fff" rx="0.5" opacity="0.9"/>
</g>
<text x="597.5" y="88.7" font-size="4.91" text-anchor="end" font-style="italic">Lrp1</text>
<text x="628.6" y="88.7" font-size="4.91">72</text>
<text x="668.2" y="88.7" font-size="4.91">72</text>
<rect x="600.1" y="93.6" width="26.5" height="10" fill="#160d09"/>
<g filter="url(#bl)">
<rect x="601.5" y="98.2" width="6.4" height="1.8" fill="#f2f2f2" rx="0.5" opacity="0.1"/>
<rect x="610.3" y="98.2" width="6.4" height="1.8" fill="#fff" rx="0.5" opacity="1"/>
</g>
<rect x="638.8" y="93.6" width="26.9" height="10" fill="#3a2b22"/>
<g filter="url(#bl)">
<rect x="639.6" y="97.1" width="25.3" height="3" fill="#5a4638" opacity="0.5"/>
<rect x="640.4" y="97.8" width="6" height="1.6" fill="#fff" rx="0.5" opacity="1"/>
<rect x="649.4" y="97.8" width="6" height="1.6" fill="#f4f4f4" rx="0.5" opacity="0.85"/>
<rect x="658.1" y="97.8" width="6" height="1.6" fill="#fff" rx="0.5" opacity="1"/>
</g>
<text x="597.5" y="100.5" font-size="4.91" text-anchor="end" font-style="italic">Vldlr</text>
<text x="628.6" y="100.5" font-size="4.91">110</text>
<text x="668.2" y="100.5" font-size="4.91">110</text>
<line x1="600.1" y1="105.2" x2="626.6" y2="105.2" stroke="#888" stroke-width="0.6"/>
<line x1="638.8" y1="105.2" x2="665.7" y2="105.2" stroke="#888" stroke-width="0.6"/>
<text x="614.3" y="109.5" font-size="4.41" text-anchor="end" transform="rotate(-50 614.3 108)">Specific ERα Ab</text>
<text x="620.4" y="112.4" font-size="4.41" text-anchor="end" transform="rotate(-50 620.4 110.9)">pulldown</text>
<text x="654" y="109.3" font-size="4.41" text-anchor="end" transform="rotate(-50 654 107.8)">INPUT</text>
<text x="355.6" y="145.8" font-size="9.8" font-weight="bold" style="stroke:none">g</text>
<text x="530.7" y="145.1" font-size="4.8" text-anchor="middle">ROSMAP</text>
<line x1="400.2" y1="147.6" x2="669.7" y2="147.6" stroke="#777" stroke-width="1.0"/>
<text x="378.8" y="172.5" font-size="4.69" text-anchor="middle" transform="rotate(-90 378.8 170.9)">Female</text>
<text x="388.1" y="172.1" font-size="4.34" text-anchor="middle" textLength="39" lengthAdjust="spacingAndGlyphs" transform="rotate(-90 388.1 170.6)">Log2(Expression+1)</text>
<rect x="400.2" y="150.4" width="46" height="40" fill="#fff"/>
<line x1="400.2" y1="155.3" x2="446.2" y2="155.3" stroke="#e6e6e6" stroke-width="0.35"/>
<text x="397.2" y="156.9" font-size="4.69" text-anchor="end">7</text>
<line x1="400.2" y1="163.6" x2="446.2" y2="163.6" stroke="#e6e6e6" stroke-width="0.35"/>
<text x="397.2" y="165.2" font-size="4.69" text-anchor="end">6</text>
<line x1="400.2" y1="172.1" x2="446.2" y2="172.1" stroke="#e6e6e6" stroke-width="0.35"/>
<text x="397.2" y="173.7" font-size="4.69" text-anchor="end">5</text>
<line x1="400.2" y1="180.6" x2="446.2" y2="180.6" stroke="#e6e6e6" stroke-width="0.35"/>
<text x="397.2" y="182.2" font-size="4.69" text-anchor="end">4</text>
<line x1="400.2" y1="189" x2="446.2" y2="189" stroke="#e6e6e6" stroke-width="0.35"/>
<text x="397.2" y="190.6" font-size="4.69" text-anchor="end">3</text>
<line x1="406.2" y1="150.4" x2="406.2" y2="190.4" stroke="#e6e6e6" stroke-width="0.35"/>
<line x1="417.4" y1="150.4" x2="417.4" y2="190.4" stroke="#e6e6e6" stroke-width="0.35"/>
<line x1="428.6" y1="150.4" x2="428.6" y2="190.4" stroke="#e6e6e6" stroke-width="0.35"/>
<line x1="439.3" y1="150.4" x2="439.3" y2="190.4" stroke="#e6e6e6" stroke-width="0.35"/>
<path d="M406.1 166.9h0M407.6 168.2h0M404.9 166h0M405.6 170.9h0M404.9 164.2h0M404 164.5h0M406.7 168.9h0M405.4 165.1h0M405.5 163.8h0M407.7 165h0M406.4 168.9h0M406.1 168.9h0M404.9 165.3h0M404.8 165.6h0M407.4 170h0M407.3 164h0M404.7 167h0M408 166.9h0M405.6 163.1h0M405.6 166.2h0M408.5 166h0M406.1 165.2h0M406.7 161.2h0M406.8 163.8h0M408.2 165.6h0M406.6 166.3h0M407.7 165.9h0M405.6 166.1h0M408.4 163.5h0M408.5 161.7h0M406.1 168.1h0M405 164.2h0M407.6 167.2h0M406.1 164h0M405.2 165.4h0M404.6 164.3h0M408.5 167h0M406.1 165.9h0M407.3 164.9h0M404.8 178.3h0M406.7 167.3h0M406.6 161.4h0M405.1 166.2h0M403.8 163.3h0M406.6 170.2h0M407.9 159.5h0M408.4 163.4h0M404.4 164.1h0M405.9 166.9h0M407.9 165.6h0M405.3 164.3h0M404.8 164h0M407.2 165.8h0M404 166.3h0M407.6 163.8h0M406 175.4h0M407.2 168.8h0M407.1 166.6h0M405.3 164.7h0M405.2 165.6h0M404.3 162h0M406.2 164.9h0M407.1 164.4h0M406.5 158.8h0M405.5 169.1h0M408.5 166.7h0M407.7 166.6h0M405.9 165.6h0M405.9 164.7h0M405.6 164.7h0M405.9 168.1h0M407.2 166h0M404.9 166.6h0M406.1 161.5h0M406.1 174.2h0M407.2 160.5h0M407.4 168.2h0M407.9 162.3h0M408.2 163.9h0M406.7 161.5h0M403.8 167.8h0M405.3 159.5h0M404.2 164h0M408.3 165.8h0M408.4 165.3h0M404.8 162.3h0M405 163.2h0M405.3 168h0M407 164.9h0M406.7 169.6h0M406 164.6h0M406.7 167.3h0M405.1 164.7h0M408.4 166.5h0M407.2 169.3h0M406.2 167.1h0M404.9 168.2h0M406.4 166.8h0M408.1 166.7h0M404.4 166.2h0M404 166.2h0M405.7 160.7h0M407.8 163.4h0M408 164.5h0M408.1 171.9h0M407.4 165.3h0M406.7 165.3h0M406 165.8h0M405.5 165.7h0M406.8 162.9h0M406.2 166.6h0M404.7 164.4h0M406.2 165.2h0M406.9 165.8h0M406.4 165.6h0M407.1 165.9h0M407.8 165.9h0M404 162.1h0M404.6 163.2h0M406.2 167.4h0M408.1 167.5h0M404.8 169h0M408.1 165.9h0M405.7 159.9h0M403.8 170.3h0M406.7 163h0M404.6 161.9h0M406.4 162.5h0M406.4 166.2h0M407.3 163.9h0M405.7 168.7h0M406.4 163.5h0M403.9 165.9h0M406.6 162.9h0M404.3 168.5h0M406.3 165.6h0M404.9 167.3h0M406.9 163.2h0M405 165.5h0M405.6 161h0M406 163.1h0M407.7 165.3h0M407.3 161.3h0M405.6 162.8h0M406.6 164.8h0M408.6 165.1h0M407.7 165.6h0M404 166.6h0M406 161.9h0M406.8 168.3h0M407.4 162h0M405 162.9h0M404.7 165.8h0M408.1 160.8h0M404.5 166.8h0M405.1 166h0M404.8 164.2h0M407.2 163.2h0M406.9 165.7h0M404.7 168.6h0M405.8 165.5h0M408 165.6h0M406.6 164.7h0M406.2 164.6h0M406.8 167.3h0M405.4 164.5h0M406.2 165.1h0M407.6 161.6h0M404.8 168.4h0M406.6 165.4h0" stroke="#7fd4ae" stroke-width="0.95" stroke-linecap="round" fill="none" opacity="0.8"/>
<line x1="406.2" y1="163.7" x2="406.2" y2="166.3" stroke="#222" stroke-width="0.35"/>
<rect x="405.3" y="164.3" width="1.8" height="1.4" fill="#1a1a1a"/>
<path d="M418.9 167.8h0M416.6 166.8h0M415.8 165.6h0M419.1 166.1h0M415.6 165.6h0M418.7 166.5h0M415.5 166.5h0M417.9 169h0M419 166.7h0M418.2 166.3h0M419.4 167.4h0M418.8 165.5h0M418.8 168.2h0M415.9 166h0M418.8 166.3h0M417.6 165h0M418.2 166.5h0M418.9 167.3h0M416.6 169.5h0M418.7 166.1h0M418.2 168.1h0M416.2 167.1h0M418.4 162h0M417.3 168.8h0M417.4 163.3h0M416.6 164.6h0M416 167.5h0M416.1 176.2h0M416.2 166.9h0M417.2 163.8h0M416.4 165.1h0M419 162.5h0M419.3 164.4h0M415.7 162.8h0M419.7 163.6h0M416.2 161.7h0M419.7 167.5h0M416.9 165.4h0M418.9 164.1h0M418.6 164h0M419 166.6h0M417.4 160.7h0M418.2 164.5h0M418.2 162.6h0M415.7 165h0M415.5 168.1h0M418.1 174h0M417.5 167.9h0M417 164.7h0M418.5 167.9h0M419.1 167.1h0M416.3 166.9h0M419.1 163.9h0M416.7 163.9h0M419 167.5h0M418.8 164.5h0M416.7 167.6h0M415.2 165.4h0M417.7 165.9h0M419.1 164h0M415.5 164.3h0M416.5 164.4h0M418.8 165.4h0M418.6 167.1h0M416.5 165.2h0M419.2 163.6h0M419.5 166.4h0M418.4 165.4h0M419.8 165.7h0M419.4 163.9h0M419.4 168.7h0M417.7 167.3h0M415.2 168.5h0M415.7 168.4h0M419.6 170.3h0M417.2 162.9h0M417 163.4h0M418.6 164.4h0M416.1 166.2h0M419.4 169.5h0M416.3 166.7h0M417.6 167.5h0M415.4 170.3h0M416.2 167.4h0M418.2 164.3h0M418.8 167.1h0M418.6 164.6h0M418.7 163.5h0M418.3 161.7h0M417.6 161.3h0M416.3 166.3h0M417.1 164.8h0M419.2 163.6h0M418.1 165h0M416 166.9h0M418.4 166.7h0M418.8 162.4h0M417.1 165.2h0M416.3 162.2h0M417.1 167.2h0M416 167.4h0M419.8 165.6h0M417.4 168.5h0M419.3 164h0M416.7 167.5h0M415.3 166.2h0M415.9 162.8h0M418.9 160h0M417.9 166h0M418.3 169.5h0M417.4 170.6h0M417.9 168.4h0M417.3 166.6h0M415.8 170h0M417.2 166.6h0M419.7 168.3h0M417.5 163.4h0M415.6 168.4h0M418.2 164.8h0M418.9 166.4h0M417 164.4h0M419.7 165.5h0M417.4 163.6h0M415.5 165.1h0M418.7 162.6h0M418.9 167.5h0M418.9 171.8h0M416.3 167.2h0M417.1 163.5h0M419.5 165.7h0M419.6 165.8h0M416 163.1h0M416.4 162.7h0M419.7 168.6h0M419.4 167h0M417.3 166.4h0M416.1 167h0M418.8 159.2h0M416 167.3h0M417.6 167.7h0M419.4 168.2h0M415.7 164.8h0M419.7 166.2h0M417 163.1h0M415.9 165.7h0M415.3 167.3h0M417.8 162.8h0M416.4 163.5h0M419.8 168h0M418.4 167.2h0M416.9 166.3h0M416.8 163.8h0M417.6 173h0M419.7 165.9h0M418.4 162.4h0M419.4 164.4h0M415.3 163.7h0M416.5 164.5h0M415.9 165.2h0M416.3 168.2h0" stroke="#f0936b" stroke-width="0.95" stroke-linecap="round" fill="none" opacity="0.8"/>
<line x1="417.4" y1="164.1" x2="417.4" y2="166.7" stroke="#222" stroke-width="0.35"/>
<rect x="416.6" y="164.7" width="1.8" height="1.4" fill="#1a1a1a"/>
<path d="M430 167.6h0M427.4 164.3h0M427.8 164.8h0M429.9 162.3h0M430.3 166.2h0M429.4 169h0M429.3 166.5h0M430.7 167.6h0M427.4 167.7h0M426.9 168.7h0M429.3 166.2h0M430.6 166.9h0M430.3 165.1h0M430.3 165h0M430.8 167.7h0M428 167.8h0M430.3 167.4h0M428.8 170.5h0M429.2 167.5h0M428.1 164.9h0M426.2 164.9h0M428.9 164.5h0M428.4 166.6h0M430.2 164.9h0M426.9 163.7h0M428.7 165.9h0M430.9 168.9h0M427.5 166.9h0M427.4 170.2h0M429.4 165.4h0M427.8 168.2h0M429.6 167.1h0M430.1 162.8h0M430.9 167.6h0M429.1 167.7h0M426.5 162.7h0M430.3 169.5h0M431 163.3h0M428 180.8h0M430.1 167.3h0M429.4 162h0M429.1 165.6h0M427.6 173.9h0M429.8 167.2h0M427.2 170.3h0M430.6 169.5h0M429.2 169.2h0M426.3 169.4h0M429.1 170.6h0M429.5 168.6h0M430.3 167.5h0M428.9 165.3h0M427.7 164.8h0M429.2 164.5h0M427 175.5h0M428.1 165.9h0M428.4 165.8h0M429.3 164.4h0M430.5 160.1h0M428.4 168.9h0M427.9 169.3h0M428.7 167.8h0M428.5 170.2h0M430.4 168.8h0M426.9 167.6h0M428.3 164.4h0M430.1 168.8h0M428.3 163.3h0M429.7 168h0M430.6 167.5h0M428.3 170.8h0M426.9 164.7h0M427.6 168.4h0M427.5 165.9h0M429.1 166.8h0M427.7 165.5h0M428.3 165.3h0M428.2 166.3h0M428.8 163.2h0M429.1 168h0M430 162.8h0M427.3 165.4h0M428.4 168.7h0M430.8 165.5h0M427.2 167.7h0M429.6 164.3h0M427.8 166.4h0M428.4 166.4h0M429.1 169.8h0M426.8 168.7h0M428.3 167.1h0M429.2 170.3h0M430.9 171.7h0M426.3 164.2h0M428.4 167.1h0M428.3 164.6h0M430.1 167.3h0M430.8 167.4h0M430.3 163.5h0M426.3 169h0M430.1 161.8h0M427.9 164.5h0M430.8 165.1h0M429.9 167.5h0M428 167.2h0M430.3 170.8h0M427.6 168.6h0M427.8 168.8h0M427.4 159.7h0M427.5 164.4h0M426.3 170.4h0M430.6 162.9h0M428.7 168.2h0M427.7 171.8h0M427.5 169h0M426.5 166.8h0M426.3 167.4h0M428.4 166.4h0M430.1 164.5h0M428.3 165.1h0M429.2 167.4h0M428.7 165.5h0M427.9 165.3h0M426.6 165.6h0M428.1 165.6h0M427.4 163.8h0M426.8 163.7h0M428.4 166h0M430.9 165h0M430.8 168.9h0M428.6 171.8h0M426.2 165.7h0M429.1 166.4h0M426.7 162h0M428.7 164.2h0M430.6 165.9h0M430.5 170.5h0M428.4 166.4h0M430.8 167.2h0M430.6 170.8h0" stroke="#8ea6d9" stroke-width="0.95" stroke-linecap="round" fill="none" opacity="0.8"/>
<line x1="428.6" y1="164.9" x2="428.6" y2="167.5" stroke="#222" stroke-width="0.35"/>
<rect x="427.7" y="165.5" width="1.8" height="1.4" fill="#1a1a1a"/>
<path d="M439.7 171h0M440.4 166h0M440.2 163.6h0M438.7 166.6h0M438.6 170.1h0M437.9 169.3h0M438.4 172.9h0M439.1 165.5h0M437.8 177h0M437.6 164.5h0M439.2 169.4h0M440.5 167.2h0M440.3 169.3h0M438.6 166h0M438.7 171.6h0M437.9 164.6h0M437.6 168.6h0M441.1 167.5h0M440 169.9h0M438.1 169h0M437.7 166.4h0M440.9 163.4h0M440.2 169.4h0M437.7 168.7h0M437.7 170.5h0M437.9 167.9h0M438.9 163.8h0M439.5 168.9h0M440.4 169.2h0M437.6 171h0" stroke="#e78ad6" stroke-width="0.95" stroke-linecap="round" fill="none" opacity="0.8"/>
<line x1="439.3" y1="166.9" x2="439.3" y2="169.5" stroke="#222" stroke-width="0.35"/>
<rect x="438.4" y="167.5" width="1.8" height="1.4" fill="#1a1a1a"/>
<rect x="400.2" y="150.4" width="46" height="40" fill="none" stroke="#505050" stroke-width="0.7"/>
<text x="444.2" y="155.3" font-size="4.25" text-anchor="end" font-style="italic">PDHA1</text>
<text x="444.2" y="188.4" font-size="4.14" text-anchor="end" font-style="italic">p = 8.4E-06</text>
<text x="406.2" y="196" font-size="4.69" text-anchor="middle">1</text>
<text x="417.4" y="196" font-size="4.69" text-anchor="middle">2</text>
<text x="428.6" y="196" font-size="4.69" text-anchor="middle">4</text>
<text x="439.3" y="196" font-size="4.69" text-anchor="middle">5</text>
<text x="423.2" y="200.7" font-size="4.69" text-anchor="middle">Cogdx</text>
<rect x="456.2" y="150.4" width="46" height="40" fill="#fff"/>
<line x1="456.2" y1="158.1" x2="502.2" y2="158.1" stroke="#e6e6e6" stroke-width="0.35"/>
<text x="453.2" y="159.7" font-size="4.69" text-anchor="end">6</text>
<line x1="456.2" y1="170.5" x2="502.2" y2="170.5" stroke="#e6e6e6" stroke-width="0.35"/>
<text x="453.2" y="172.1" font-size="4.69" text-anchor="end">4</text>
<line x1="456.2" y1="183.4" x2="502.2" y2="183.4" stroke="#e6e6e6" stroke-width="0.35"/>
<text x="453.2" y="185" font-size="4.69" text-anchor="end">2</text>
<line x1="462.2" y1="150.4" x2="462.2" y2="190.4" stroke="#e6e6e6" stroke-width="0.35"/>
<line x1="473.4" y1="150.4" x2="473.4" y2="190.4" stroke="#e6e6e6" stroke-width="0.35"/>
<line x1="484.6" y1="150.4" x2="484.6" y2="190.4" stroke="#e6e6e6" stroke-width="0.35"/>
<line x1="495.3" y1="150.4" x2="495.3" y2="190.4" stroke="#e6e6e6" stroke-width="0.35"/>
<path d="M464.4 175.3h0M462.4 167.3h0M460.5 168.6h0M463.3 162.7h0M461.5 163.1h0M461.3 166.1h0M464.3 166.6h0M461.8 163.8h0M460.8 175.9h0M462.7 168.4h0M464.3 166.5h0M463.7 166.7h0M460.4 185.9h0M464.4 163.3h0M460.2 166.8h0M460.5 170.5h0M460.5 162.2h0M463.6 163.8h0M460.4 161.8h0M461.9 169.5h0M461.1 182.7h0M463.3 167.2h0M464.6 166.8h0M461.8 171.8h0M463 166.6h0M461.9 161.4h0M463.8 164h0M464.4 167h0M464.2 162.8h0M461.8 169.1h0M463.7 163.6h0M461.3 166.2h0M464.5 169.6h0M464.2 167.4h0M460.1 166.9h0M462.8 169.7h0M460.6 168.3h0M461.8 166.1h0M464 159.3h0M462.4 170.8h0M461 168.5h0M460.7 167.7h0M462.6 164.9h0M463.6 178.9h0M461.3 157.1h0M462.5 161.2h0M462.4 163.8h0M463.9 160.2h0M463.9 165h0M460.4 163.3h0M463.1 169.9h0M462.5 160.8h0M462.9 176h0M464.2 164h0M462.1 165.9h0M460.6 186.6h0M464.1 174.3h0M462 168.4h0M461.7 164.8h0M461.3 166.4h0M460.2 163.2h0M463.8 165.3h0M463.6 159.7h0M462.2 167.6h0M461.4 167.9h0M462.2 166.3h0M464.6 165h0M460.5 168h0M462.8 163.2h0M462.1 158.9h0M462.5 164.9h0M462.8 163.3h0M463.2 167.6h0M464.4 161.7h0M460.5 163.9h0M461.2 169.9h0M464.5 158.2h0M460.7 166.6h0M460.8 171.4h0M464.5 168.1h0M462.3 165.8h0M463.5 155.6h0M463.3 165.9h0M461.7 167.1h0M462.2 167.3h0M463.3 167.3h0M462.3 158.4h0M462.2 162h0M461.9 165.6h0M461.7 171.1h0M462.7 166.9h0M463.8 166.9h0M461.1 163.3h0M461.4 164h0M460.2 166.9h0M463.1 167.1h0M460.7 165.5h0M462 163.7h0M462.6 168.9h0M462.9 164.5h0M462.6 168.9h0M459.8 167.6h0M460.1 173.7h0M460.8 167.9h0M462.9 164.4h0M462.6 165.3h0M461.1 165.8h0M460.7 169.6h0M461.1 157.2h0M461.1 166.8h0M463.1 165.6h0M462.3 161.8h0M460 164.4h0M460.7 171.6h0M463 168.4h0M462.6 167h0M463.9 161.7h0M461.9 169h0M463.8 162h0M460.3 164.3h0M461.8 170.8h0M460.3 164.1h0M463.8 159.1h0M461.4 157.4h0M464.6 165.7h0M462.5 169.4h0M460.3 157.3h0M460.5 180.4h0M460.7 163.9h0M463.2 166.2h0M461.6 159.1h0M463.9 169h0M462.8 168.5h0M463.3 162.8h0M460.7 176.8h0M460.3 159.7h0M463.7 158.3h0M463.7 166.3h0M462.6 169.5h0M463.1 167.6h0M463.8 158.1h0M461.6 169.9h0M461.8 166.6h0M462.3 160.3h0M460.6 161.4h0M462.5 165.1h0M462.2 169.8h0M463.5 168.6h0M464.3 166.9h0M460.2 164.8h0M462.2 164.6h0M462.7 165.8h0M460.1 167.1h0M464.2 171.3h0M461.3 166.8h0M462 165.6h0M463.9 171h0M462.8 169.3h0M462.2 167.7h0M460.5 165.3h0M460.4 167.9h0M460.3 167.3h0M461.7 168.4h0M461.8 159.3h0M460 160.5h0M460.9 160.1h0M461.1 166.5h0M460.2 170.2h0M461.9 168.7h0M462.4 158.5h0" stroke="#7fd4ae" stroke-width="0.95" stroke-linecap="round" fill="none" opacity="0.8"/>
<line x1="462.2" y1="164.3" x2="462.2" y2="166.9" stroke="#222" stroke-width="0.35"/>
<rect x="461.3" y="164.9" width="1.8" height="1.4" fill="#1a1a1a"/>
<path d="M472.1 165h0M475.7 165.5h0M471.4 163.4h0M471.3 163.3h0M473.4 172.3h0M473 164.3h0M474.9 165.8h0M472.4 160.8h0M472.8 165.2h0M472.4 178.6h0M474.9 162.7h0M475.5 166.7h0M474.4 168.7h0M473.4 164.5h0M471.6 170.3h0M471.7 163.3h0M472.7 165h0M472.5 161.4h0M472.1 178.1h0M474.2 166h0M475.4 160.4h0M473.5 162.2h0M472.4 159.3h0M473.5 162.7h0M475.2 170.3h0M474.4 167.3h0M473.6 164.7h0M474 166.9h0M474.6 169.2h0M475.4 165.3h0M472.6 181h0M474.9 167.6h0M474.2 169.7h0M472.8 173h0M472.4 164.6h0M472 166.2h0M472.6 161.8h0M474.5 170.1h0M471.7 167.9h0M473.9 167.4h0M471.7 168.2h0M475.4 159.3h0M473.3 177h0M472.5 157.1h0M473.1 163.9h0M472.3 168.6h0M472.2 156.6h0M474.5 165.8h0M472.5 168.1h0M474.6 184.7h0M474.9 163.7h0M474 162.4h0M474.5 163.6h0M473.6 167h0M471.5 177.5h0M472.1 158h0M474.1 161.5h0M474 163.8h0M474.6 172.8h0M475.5 162.7h0M475.4 171h0M473.5 165.9h0M474.1 160.5h0M471.4 161.6h0M471.7 168h0M474.3 167h0M475.2 163.9h0M474.4 167.5h0M472.7 160.1h0M474.3 170.8h0M474.8 167.2h0M473.6 166.3h0M472.8 169.4h0M473.9 169.9h0M473.7 168.2h0M474.4 161.5h0M471.3 176.2h0M474.7 166.5h0M474.6 173.8h0M474.9 169.8h0M471.1 156.9h0M472.6 169h0M474.2 166.8h0M475.5 168.7h0M473.9 162.9h0M473.1 169.5h0M474.3 173.4h0M473.8 166.2h0M471.9 163.9h0M472.6 161h0M472.6 163.1h0M475.2 166.5h0M474.2 168.4h0M471.7 166.1h0M475.6 162.3h0M471.5 159.1h0M471.2 166.8h0M473.5 175h0M471.4 163.9h0M475.5 163.3h0M473.1 172.2h0M473.7 169.8h0M473.3 171.8h0M473.7 162.8h0M473.2 169.4h0M475.1 161.4h0M472.3 159.9h0M472.4 165.2h0M474.4 166.1h0M473.8 162.4h0M473.2 171.8h0M473.3 164.2h0M472.9 166.5h0M471.7 168.4h0M474.9 171h0M473.4 172.8h0M472 163.5h0M471.8 169.4h0M471.9 169.7h0M472.7 167h0M471.6 167.3h0M475.4 173.7h0M472.6 174.7h0M473.2 166.1h0M471.4 167.6h0M473.3 172h0M472.9 165.4h0M475.7 159.2h0M473.1 160.6h0M473.4 164h0M471.5 167.5h0M472.7 169.2h0M475.3 168.7h0M474.3 165.1h0M471.1 166.4h0M473.8 161.9h0M473.9 168h0M471.1 174.8h0M472.8 163.7h0M472.6 174.8h0M472.9 156.9h0M474.3 173.4h0M473.9 174.5h0M473.5 165.8h0M474.8 164.4h0M472.8 164.8h0M472 168.2h0M472.7 160.2h0M472.7 170h0M473.6 159h0M474.7 164.5h0M475 162.8h0M475.2 166.5h0M475.4 168.2h0M472.7 166.8h0M473.9 166h0M471.6 170.3h0M474.5 163.6h0M475.3 155.8h0" stroke="#f0936b" stroke-width="0.95" stroke-linecap="round" fill="none" opacity="0.8"/>
<line x1="473.4" y1="164.5" x2="473.4" y2="167.1" stroke="#222" stroke-width="0.35"/>
<rect x="472.6" y="165.1" width="1.8" height="1.4" fill="#1a1a1a"/>
<path d="M482.9 164.8h0M486.8 170.6h0M484.5 163.2h0M482.7 169.1h0M486.3 162.5h0M483.7 167.6h0M482.3 167.2h0M485.3 166.6h0M484.1 164h0M483.5 161.5h0M486 161.6h0M483.8 165.4h0M485.7 168.2h0M484 158.2h0M486 162.1h0M486.3 160.9h0M485 160.5h0M484.1 167.5h0M486.2 167.3h0M482.3 165.8h0M485.3 167.7h0M482.9 178.5h0M484.3 164.3h0M482.8 161h0M484.6 169.6h0M483.7 169.5h0M483 167.2h0M483.5 168.4h0M485.2 168.4h0M482.3 158.8h0M486.6 161.5h0M485.6 158.1h0M486.9 169.6h0M482.9 166.5h0M483.4 165.1h0M485 163.4h0M483.3 161.1h0M482.6 169h0M482.2 172.2h0M486.3 173.1h0M486.5 164.7h0M483.1 171h0M484.5 163.5h0M484 160.4h0M486.5 169.3h0M485.4 162.1h0M484.5 170.4h0M485.4 168.4h0M483.5 160.5h0M482.8 164.4h0M482.4 162.5h0M485.2 168.9h0M484.7 168h0M486.5 162.2h0M483.6 168.1h0M482.5 173.7h0M484.9 168.5h0M486.8 172.8h0M483.9 167.5h0M482.5 159.2h0M483.8 167.8h0M484.5 167.3h0M486 168.5h0M485.7 163.3h0M486.2 175h0M483.3 165h0M483.2 170.5h0M484.4 171.7h0M482.8 171.3h0M484.3 166h0M486.4 167.4h0M486.6 170.7h0M486.5 166.9h0M486.8 162.7h0M483.1 163.4h0M485.4 160.3h0M483.2 169.6h0M483.2 172h0M483.5 163.6h0M486.6 167.9h0M484.8 169.9h0M483.2 160.7h0M483.7 165.3h0M483.9 168.3h0M484.2 163.6h0M482.8 162.3h0M486.5 164.5h0M482.7 163.8h0M485.1 163.7h0M486.5 163.8h0M483.4 164.4h0M482.9 182h0M483.3 158.7h0M486 165h0M484.8 171.1h0M483.2 164.3h0M486.4 173.2h0M482.2 171.4h0M485.5 175.8h0M486.5 180.7h0M485 170.1h0M483 170.9h0M482.4 179.2h0M482.8 165.6h0M486.3 165.1h0M483.5 168h0M482.5 167.9h0M486.9 167.8h0M482.9 174.3h0M484.7 181.3h0M486 172.1h0M484.7 161h0M484 165.8h0M483.8 170.1h0M484.9 170.4h0M484.4 167.6h0M483.5 164.4h0M483.3 167.6h0M484.5 174.1h0M486.2 172h0M482.8 171h0M485.6 172h0M486.7 169.7h0M485.5 166.5h0M483.1 169h0M483.9 171.7h0M484.7 163.6h0M485.7 162.9h0M483.9 165.7h0M485.5 168.2h0M486.3 168.9h0M484.8 168.2h0M482.5 163.7h0M483.4 165.6h0M483 173.6h0M486.6 161.9h0M483.9 169.5h0M484.3 167.7h0M483.9 177.7h0M483.1 163.7h0" stroke="#8ea6d9" stroke-width="0.95" stroke-linecap="round" fill="none" opacity="0.8"/>
<line x1="484.6" y1="165.3" x2="484.6" y2="167.9" stroke="#222" stroke-width="0.35"/>
<rect x="483.7" y="165.9" width="1.8" height="1.4" fill="#1a1a1a"/>
<path d="M495.5 168.9h0M494.6 171.4h0M494.1 174.3h0M496 165.9h0M493.6 167.1h0M496.5 164.6h0M496.3 165h0M493.9 165.3h0M493.6 164.8h0M496.8 164.3h0M496.5 174.4h0M496 170.3h0M496.1 170.1h0M493.9 165.9h0M495.2 175.1h0M494.5 174h0M493.7 172.7h0M493.5 172.3h0M494.8 167.2h0M495.8 166.4h0M496.9 171.7h0M496.4 170.3h0M494 171.4h0M494.3 162.5h0M496.9 164.4h0M493.8 168.8h0M494.5 169h0M495.8 165.8h0M495.9 170.1h0M493.7 165.2h0" stroke="#e78ad6" stroke-width="0.95" stroke-linecap="round" fill="none" opacity="0.8"/>
<line x1="495.3" y1="167.3" x2="495.3" y2="169.9" stroke="#222" stroke-width="0.35"/>
<rect x="494.4" y="167.9" width="1.8" height="1.4" fill="#1a1a1a"/>
<rect x="456.2" y="150.4" width="46" height="40" fill="none" stroke="#505050" stroke-width="0.7"/>
<text x="500.2" y="155.3" font-size="4.25" text-anchor="end" font-style="italic">DHCR24</text>
<text x="500.2" y="188.4" font-size="4.14" text-anchor="end" font-style="italic">p = 0.0044</text>
<text x="462.2" y="196" font-size="4.69" text-anchor="middle">1</text>
<text x="473.4" y="196" font-size="4.69" text-anchor="middle">2</text>
<text x="484.6" y="196" font-size="4.69" text-anchor="middle">4</text>
<text x="495.3" y="196" font-size="4.69" text-anchor="middle">5</text>
<text x="479.2" y="200.7" font-size="4.69" text-anchor="middle">Cogdx</text>
<rect x="512.2" y="150.4" width="46" height="40" fill="#fff"/>
<line x1="512.2" y1="152.2" x2="558.2" y2="152.2" stroke="#e6e6e6" stroke-width="0.35"/>
<text x="509.2" y="153.8" font-size="4.69" text-anchor="end">8</text>
<line x1="512.2" y1="163" x2="558.2" y2="163" stroke="#e6e6e6" stroke-width="0.35"/>
<text x="509.2" y="164.6" font-size="4.69" text-anchor="end">6</text>
<line x1="512.2" y1="174" x2="558.2" y2="174" stroke="#e6e6e6" stroke-width="0.35"/>
<text x="509.2" y="175.6" font-size="4.69" text-anchor="end">4</text>
<line x1="512.2" y1="184.6" x2="558.2" y2="184.6" stroke="#e6e6e6" stroke-width="0.35"/>
<text x="509.2" y="186.2" font-size="4.69" text-anchor="end">2</text>
<line x1="518.2" y1="150.4" x2="518.2" y2="190.4" stroke="#e6e6e6" stroke-width="0.35"/>
<line x1="529.5" y1="150.4" x2="529.5" y2="190.4" stroke="#e6e6e6" stroke-width="0.35"/>
<line x1="540.6" y1="150.4" x2="540.6" y2="190.4" stroke="#e6e6e6" stroke-width="0.35"/>
<line x1="551.3" y1="150.4" x2="551.3" y2="190.4" stroke="#e6e6e6" stroke-width="0.35"/>
<path d="M517.8 182.5h0M516.1 173.7h0M520.1 169.7h0M515.9 170.7h0M516.9 171.7h0M520.3 170.8h0M519.2 170.3h0M516.9 178.5h0M517.3 179.4h0M518.7 168.8h0M520.5 174h0M519.3 168.6h0M519.6 170.1h0M517.4 174.1h0M518.4 172.6h0M520.5 175.1h0M517.4 172.8h0M516.8 178h0M518.6 176.7h0M520.1 171.2h0M516.2 172.9h0M519.6 172.5h0M518.5 175.3h0M517.1 168.9h0M516.8 174.3h0M518.1 172.6h0M516.3 176.8h0M519.9 174.2h0M516 172.3h0M519.5 172.3h0M517.6 174.3h0M517.7 168.2h0M518.1 169.6h0M515.9 172.7h0M519.3 174.4h0M517.5 172.1h0M517.3 176h0M518.5 174.9h0M516.4 176.1h0M516.7 172.4h0M517.3 174.3h0M519.3 176.5h0M518 175.7h0M517.2 177.7h0M518.3 174.8h0M519.9 174.9h0M518.7 173.5h0M519.5 170.7h0M517.9 174.3h0M517.9 170.9h0M516 173.7h0M519.4 172.1h0M517.9 174.5h0M516.6 174.1h0M516.1 169.4h0M515.8 174h0M520.1 176.4h0M520.3 174.1h0M519.5 176.2h0M517.7 173.2h0M518.6 170.9h0M516.1 175.1h0M516.3 172h0M520.2 170.8h0M520.1 175h0M517.3 172.5h0M520.2 172.5h0M520.4 171.2h0M517.8 174.9h0M516.5 171h0M517.6 175.4h0M517.5 173.1h0M518.4 173.2h0M518.2 169.1h0M517.1 180.5h0M518.2 174h0M518 176.8h0M518.1 173.5h0M517.5 172.2h0M519.8 173.7h0M517.7 175.1h0M520.4 174.7h0M520.1 171.2h0M520.5 174.4h0M520.2 170.5h0M518.3 176h0M516.3 172.6h0M519.3 175.7h0M515.8 172.8h0M519.3 174.9h0M519.7 170.2h0M519.1 172.7h0M515.8 173.6h0M519.4 173h0M516.3 171.8h0M519 172.7h0M516.4 174.3h0M518.5 169.8h0M519.4 171.1h0M516.8 172.9h0M520.3 178.2h0M520.2 171h0M520 173.2h0M518.2 174.5h0M520.2 176.9h0M516.7 173.4h0M518.7 172.2h0M519.2 170.4h0M516 172.6h0M515.8 170.9h0M518.9 170.5h0M520.4 170.8h0M517.4 176.7h0M518.5 177.4h0M518.4 169.3h0M518.3 176.4h0M515.9 174.2h0M517.2 168.6h0M516.7 174.8h0M519 173.5h0M518.1 170.8h0M519.2 172.5h0M517.9 172.9h0M519.6 178.4h0M519.9 172.7h0M519.9 174.8h0M519.2 173.9h0M520.4 173.3h0M519.6 173.2h0M517.7 182.7h0M517.1 187.6h0M519.9 171.4h0M516.5 166.9h0M516.7 173.6h0M520.5 173.8h0M517.5 174.6h0M519.1 171.1h0M517.7 174.4h0M515.9 172.8h0M519.1 174.6h0M516.9 170.2h0M520.4 177.4h0M516.9 169.6h0M520 177h0M519.6 175h0M519.6 178.1h0M519.6 175h0M517 174.7h0M518.6 174.1h0M516.8 171.5h0M516.5 172.2h0M519.5 175h0M518.5 175.7h0M518.8 172.8h0M518.2 172.4h0M516 170.7h0M520.3 172.3h0M520.1 172.1h0M515.9 174h0M519 174.7h0M516.9 176.3h0M518.9 173.1h0M516.8 174.7h0M516.4 173.3h0M516.2 170.7h0M517.4 170.1h0M516.2 172.2h0M520.2 176.5h0M517.7 171.6h0M518.5 171.7h0" stroke="#7fd4ae" stroke-width="0.95" stroke-linecap="round" fill="none" opacity="0.8"/>
<line x1="518.2" y1="171.7" x2="518.2" y2="174.3" stroke="#222" stroke-width="0.35"/>
<rect x="517.3" y="172.3" width="1.8" height="1.4" fill="#1a1a1a"/>
<path d="M530.1 174.1h0M530.3 172.6h0M529.6 177.9h0M527.4 171.9h0M529.9 175.4h0M528.4 171.1h0M528.2 172.2h0M529.5 171.5h0M530.9 170.8h0M530.8 175h0M529.1 177h0M531 174.8h0M529.4 168.3h0M530.2 172.8h0M527.7 172.4h0M530.3 174.6h0M530.1 176h0M530.3 170.9h0M528.4 172.7h0M527.2 170.8h0M530.2 169.9h0M527.3 174.9h0M531 175.4h0M531.1 184h0M527.2 171.4h0M527.2 171.9h0M531.6 173.5h0M530.7 172.4h0M529.4 171.9h0M529.4 174h0M530.9 175.2h0M529.6 172.2h0M531.7 174.8h0M528 173.6h0M531.3 171.9h0M530.7 174.4h0M529.1 170.6h0M528.7 173.7h0M528.1 174.3h0M530.5 175.1h0M528.8 174.4h0M531.7 175h0M530.8 171.1h0M527.1 178.3h0M529.5 173.3h0M528.3 174.1h0M530.4 173.8h0M528.9 172.4h0M528.6 171.8h0M528 180.8h0M527.9 171.2h0M530 172.5h0M529.1 176.6h0M528.3 173.7h0M529 172.5h0M529.9 170h0M529.7 177.6h0M527.5 172.9h0M530.4 175.5h0M531.4 173.5h0M527.4 172.7h0M528.6 174h0M529.5 171h0M527.1 174.1h0M527.6 174.8h0M527.8 172.1h0M531 174.3h0M528.3 171.2h0M527.2 173.4h0M530.3 171.3h0M528.3 173.1h0M527.9 180h0M528 174.8h0M530.9 173.4h0M527.5 175.8h0M530.2 174.2h0M531.4 169.8h0M528.4 177h0M527.5 173.6h0M528 173.7h0M527.5 172.9h0M529.4 172.8h0M531 171.7h0M530.1 173.3h0M528.5 170.7h0M529.8 175.7h0M531.4 171.3h0M527.5 175.7h0M530 171.5h0M528.6 172.1h0M530 173.5h0M530.5 172h0M529.9 171.3h0M531 172.3h0M529.6 172.4h0M528.4 175.7h0M528.7 175h0M531 176.9h0M527.5 175h0M530.9 170.5h0M528.8 172h0M527.3 174.7h0M531.3 171.8h0M529.3 173.4h0M527.1 174.3h0M528.2 184.6h0M530.3 173.9h0M530.5 177.4h0M527.5 178.2h0M530.2 173.6h0M529.6 171.1h0M530.8 176.2h0M531 174.1h0M530.4 171.3h0M530.6 170.5h0M527.2 174.4h0M528.8 171.3h0M529.5 172.7h0M531.3 174.4h0M530.1 169.7h0M531.5 172.5h0M529.1 171h0M529.6 175.9h0M527.2 178.3h0M529.1 173.8h0M529 173.7h0M530.6 173.5h0M528.5 172.7h0M529.7 177.1h0M531 175.5h0M529.5 174.3h0M528.5 174.7h0M527.6 180.2h0M531.1 175.2h0M530.4 174.5h0M529.3 174.9h0M529.5 173.8h0M527.7 173.7h0M531.6 170.7h0M527.8 170.4h0M529.5 173.2h0M527.6 175.6h0M529 173.5h0M527.4 173.7h0M529.2 175.5h0M527.9 180.4h0M528.1 171.8h0M531.4 176.1h0M530.8 173.7h0M530.9 171.4h0M528.3 177.1h0M528.8 173.9h0M530.9 173.6h0M530.9 172.1h0M529.8 172.1h0M529.4 171.9h0M530.4 175h0M529.1 174.1h0M530.7 171.3h0M528.4 172.5h0" stroke="#f0936b" stroke-width="0.95" stroke-linecap="round" fill="none" opacity="0.8"/>
<line x1="529.5" y1="171.9" x2="529.5" y2="174.5" stroke="#222" stroke-width="0.35"/>
<rect x="528.6" y="172.5" width="1.8" height="1.4" fill="#1a1a1a"/>
<path d="M538.5 171.4h0M539.8 169.3h0M541.5 174.6h0M542.8 173.5h0M539.3 168.6h0M540.1 172.2h0M538.7 177.2h0M541 172.4h0M541.6 169.3h0M541.3 174.2h0M540.4 173.7h0M539.4 172.5h0M542.5 173.1h0M540.3 177.1h0M541.8 175.3h0M540.9 175.8h0M538.5 174.4h0M541.1 173.7h0M540.3 174.2h0M538.9 173.1h0M540.4 172.4h0M538.9 173.8h0M539 173.8h0M538.9 179.6h0M540 171.5h0M539.5 175.7h0M539.1 173.6h0M542.8 170.6h0M539.2 174.6h0M541.6 175h0M541.1 175.8h0M542.2 174.5h0M542.6 172.3h0M542 173.5h0M538.9 173.1h0M541.8 171.1h0M539.9 175.7h0M540.4 171.3h0M540.7 171.8h0M542.5 174.5h0M541 173.7h0M538.7 170.2h0M539 174.5h0M540.1 173.2h0M540.8 177.4h0M539.8 171.8h0M542 172.9h0M542.8 174.5h0M541.8 173.9h0M539.2 173.2h0M541 175.2h0M538.3 177.3h0M540.2 171.9h0M540 170.2h0M540.4 166.4h0M538.2 175.3h0M540.3 172.3h0M542.5 174.4h0M540.5 173.6h0M542.8 174.6h0M540.1 174.6h0M540.7 167.1h0M542.9 175.3h0M541.7 172.8h0M540.4 183.5h0M540.9 170.6h0M542.1 169.8h0M541.9 176.2h0M539.8 173.7h0M542.3 172.3h0M539.5 173h0M542.4 172.7h0M538.3 172.5h0M538.5 175.9h0M541.1 175.4h0M540.2 173h0M541.3 175.1h0M541.7 173.7h0M540.4 170.3h0M538.4 171.8h0M538.4 173.1h0M538.3 174.2h0M540.2 175.2h0M539.4 170.9h0M539.8 170.8h0M542 170.2h0M539.9 179.6h0M539.8 171.8h0M539.9 177.6h0M538.6 174.2h0M538.7 173.5h0M539.9 171.9h0M541.5 172.7h0M538.4 172.7h0M541.9 175.7h0M542.8 172.3h0M540.2 173.6h0M540.4 174.8h0M538.2 174.5h0M542.3 171.3h0M539.8 172.8h0M541 175.2h0M538.3 175.8h0M541 170.2h0M539.2 173.8h0M539.7 173.9h0M539.4 176.6h0M541.1 178.7h0M540.1 171.8h0M538.9 169.9h0M538.9 172.6h0M541.9 172.3h0M541.7 175.7h0M538.3 175.9h0M541.6 174.4h0M538.7 172h0M539.2 176.9h0M541.3 177h0M540.2 176.3h0M539.2 174.7h0M541.3 173.6h0M539.1 179.7h0M542.5 174.5h0M539.5 170.5h0M541.9 172.3h0M539.8 175h0M541.3 171.8h0M538.6 174.2h0M538.4 176.7h0M540.9 172.2h0M540.9 173.5h0M540.6 172.8h0M540.2 175.5h0M540.8 173.6h0M542.3 172.4h0M540 173.3h0M539.1 180.5h0M539.7 176.1h0M542.9 173.1h0M543 175.3h0" stroke="#8ea6d9" stroke-width="0.95" stroke-linecap="round" fill="none" opacity="0.8"/>
<line x1="540.6" y1="172.1" x2="540.6" y2="174.7" stroke="#222" stroke-width="0.35"/>
<rect x="539.7" y="172.7" width="1.8" height="1.4" fill="#1a1a1a"/>
<path d="M550.9 173.5h0M551.7 174.6h0M551.7 177.7h0M550 172.2h0M551.1 170.6h0M550.7 173.4h0M550 175.3h0M553 176.6h0M552.4 173.7h0M552.8 172.8h0M550.9 172.6h0M550.7 174.1h0M550.3 173.3h0M549.8 180.5h0M551.2 183.3h0M550.4 170.6h0M552 175.1h0M551 173.9h0M552.6 175.1h0M551.1 173.3h0M551.2 171.3h0M550.6 173h0M551.6 183.7h0M552.1 176.2h0M550.9 173.6h0M552.6 175.7h0M551.8 174.7h0M551.2 177.9h0M550.3 176h0M551 174.6h0" stroke="#e78ad6" stroke-width="0.95" stroke-linecap="round" fill="none" opacity="0.8"/>
<line x1="551.3" y1="172.9" x2="551.3" y2="175.5" stroke="#222" stroke-width="0.35"/>
<rect x="550.4" y="173.5" width="1.8" height="1.4" fill="#1a1a1a"/>
<rect x="512.2" y="150.4" width="46" height="40" fill="none" stroke="#505050" stroke-width="0.7"/>
<text x="556.2" y="155.3" font-size="4.25" text-anchor="end" font-style="italic">CYP51A1</text>
<text x="556.2" y="188.4" font-size="4.14" text-anchor="end" font-style="italic">p = 0.025</text>
<text x="518.2" y="196" font-size="4.69" text-anchor="middle">1</text>
<text x="529.5" y="196" font-size="4.69" text-anchor="middle">2</text>
<text x="540.6" y="196" font-size="4.69" text-anchor="middle">4</text>
<text x="551.3" y="196" font-size="4.69" text-anchor="middle">5</text>
<text x="535.2" y="200.7" font-size="4.69" text-anchor="middle">Cogdx</text>
<rect x="568.2" y="150.4" width="46" height="40" fill="#fff"/>
<line x1="568.2" y1="157.6" x2="614.2" y2="157.6" stroke="#e6e6e6" stroke-width="0.35"/>
<text x="565.2" y="159.2" font-size="4.69" text-anchor="end">3</text>
<line x1="568.2" y1="168.2" x2="614.2" y2="168.2" stroke="#e6e6e6" stroke-width="0.35"/>
<text x="565.2" y="169.8" font-size="4.69" text-anchor="end">2</text>
<line x1="568.2" y1="178.3" x2="614.2" y2="178.3" stroke="#e6e6e6" stroke-width="0.35"/>
<text x="565.2" y="179.9" font-size="4.69" text-anchor="end">1</text>
<line x1="568.2" y1="188.6" x2="614.2" y2="188.6" stroke="#e6e6e6" stroke-width="0.35"/>
<text x="565.2" y="190.2" font-size="4.69" text-anchor="end">0</text>
<line x1="574.2" y1="150.4" x2="574.2" y2="190.4" stroke="#e6e6e6" stroke-width="0.35"/>
<line x1="585.5" y1="150.4" x2="585.5" y2="190.4" stroke="#e6e6e6" stroke-width="0.35"/>
<line x1="596.6" y1="150.4" x2="596.6" y2="190.4" stroke="#e6e6e6" stroke-width="0.35"/>
<line x1="607.3" y1="150.4" x2="607.3" y2="190.4" stroke="#e6e6e6" stroke-width="0.35"/>
<path d="M575.4 170.9h0M572.5 174.8h0M571.9 163.5h0M574 171.3h0M573.8 164.2h0M575.6 172h0M574.4 166.4h0M573.5 167.5h0M574.9 171.5h0M575.8 164.8h0M574.6 168h0M573 163.8h0M572.5 169.6h0M573.6 168.5h0M573.7 171.8h0M572.3 171h0M575.8 163.6h0M571.9 173.5h0M576 165.1h0M575.5 169.3h0M573.7 170.5h0M571.9 171h0M575 165.1h0M573.9 165.4h0M572.6 167.9h0M573.7 167.1h0M574.8 166h0M576 168.8h0M575 161.7h0M575.3 164.5h0M572.3 176.1h0M576.3 164.2h0M572.8 165.2h0M573.4 169.4h0M574.3 163.9h0M572 166.9h0M574.9 168.7h0M574.5 167.3h0M573.7 168.9h0M573.5 171.2h0M573.9 166.7h0M573.2 168.8h0M572 169.9h0M572.9 168.2h0M575.5 166.3h0M573 165.9h0M573 173h0M571.9 171.2h0M574.9 171.8h0M576.1 164.5h0M575.3 166.6h0M574.7 170.8h0M575 165.6h0M573 171.6h0M572.9 169.7h0M572.9 170.3h0M576.1 172.2h0M573.6 174.8h0M572.4 162h0M574.7 162.9h0M572.4 172.6h0M574.6 176.4h0M574.2 172.9h0M574.2 165.7h0M576.4 170h0M573 168.8h0M572.1 166.6h0M572.5 166.8h0M572.6 163.2h0M574 174.8h0M572 170.9h0M573.2 172.4h0M573.7 170.4h0M575.7 165.5h0M575.9 165.2h0M576.4 168.5h0M572.2 179.8h0M575.3 170.1h0M572.5 171.5h0M574.6 169.5h0M573.1 169h0M574 166.3h0M574 166.4h0M573.3 168.5h0M573.2 165.6h0M575.2 168.1h0M574.4 177.5h0M576 168.3h0M574.3 167.1h0M574.1 164.1h0M572 171.9h0M572.4 166.6h0M574.4 168.5h0M572.4 172.3h0M573.9 171h0M573 165.1h0M575.8 164.6h0M575.5 163.2h0M575 167.9h0M575.1 167.5h0M573.1 166.5h0M573.5 168h0M575.5 169.3h0M574.4 163.4h0M576.4 165.7h0M573.5 167.6h0M576.4 168.1h0M572 167.7h0M572 170.2h0M572.2 174.4h0M576 166.1h0M574 166.2h0M576 165.7h0M575.7 165.3h0M574.5 181.1h0M573.6 168.5h0M572.1 171.3h0M573.9 167h0M575.9 173.1h0M573.1 180.4h0M576.4 167.4h0M571.9 167h0M572.5 169.5h0M574.5 162.2h0M572.1 171.8h0M575.9 168.5h0M574.3 171.3h0M574.8 168.1h0M573.1 168.5h0M574.1 169.7h0M574.4 173h0M576 166.7h0M576.2 170.8h0M572.9 167.3h0M573.5 166.9h0M574.9 171.6h0M574.5 169.1h0M573.4 175.1h0M574.2 168.5h0M572.4 167.9h0M575.1 166.4h0M574 170.9h0M572.1 167.9h0M574.2 169.7h0M573.4 169.7h0M576.4 170.7h0M575.6 160.8h0M574 172.2h0M574.7 166h0M573.3 168.8h0M573.5 165.3h0M572.9 173.9h0M576 171.2h0M572.7 163.5h0M573.2 167.3h0M575.6 175h0M576.4 162.9h0M572.1 169.3h0M576.2 166.2h0M572.3 174.5h0M575.3 169.8h0M575.9 165.5h0M572.5 166.9h0M572.1 170.8h0M572.6 166.6h0M573.2 170.3h0M572.2 165.1h0M575.3 166.9h0M575.3 170.9h0M575.5 165.6h0" stroke="#7fd4ae" stroke-width="0.95" stroke-linecap="round" fill="none" opacity="0.8"/>
<line x1="574.2" y1="166.5" x2="574.2" y2="169.1" stroke="#222" stroke-width="0.35"/>
<rect x="573.3" y="167.1" width="1.8" height="1.4" fill="#1a1a1a"/>
<path d="M587.2 169.2h0M586.9 164.1h0M587 173.7h0M587.1 166.7h0M585.9 171.3h0M585.3 175.2h0M583.8 165.6h0M587.2 169.2h0M583.1 170.8h0M583.3 167.3h0M587.4 182.4h0M583.3 172.5h0M583.3 169.2h0M585.5 174.9h0M587.3 171.3h0M586.4 170.4h0M587 169.7h0M584.3 164.5h0M585.2 169.5h0M587.3 163.5h0M587.6 166.9h0M586.1 163.5h0M585.1 169.3h0M583.5 162.5h0M587.7 170.3h0M587.1 173.1h0M586.9 167.7h0M587.5 164.3h0M585.2 168.7h0M584.5 171.1h0M587.1 168.4h0M584.5 162.7h0M586.8 175.6h0M583.4 173.4h0M583.5 170.7h0M587.7 174.2h0M586.4 171.7h0M583.1 170.3h0M583.6 165.9h0M585.5 169.3h0M587.8 168.1h0M586.9 159.4h0M586.4 169.2h0M584.8 165.2h0M584.8 170.5h0M587.1 167.8h0M584.3 170.5h0M583.6 174.1h0M587.3 166.8h0M583.9 170.5h0M587.5 165.8h0M586.2 165.4h0M585.5 172.8h0M586 165.6h0M583.3 174.6h0M586.6 171h0M587.2 165.9h0M587.1 166.4h0M587.8 170.8h0M583.1 167.4h0M585.9 171.6h0M585.4 173.5h0M584 170.7h0M584.4 168.2h0M583.9 169.3h0M584.1 174.8h0M585.2 180h0M583.8 169.5h0M584.1 170.7h0M586.9 169.8h0M586.7 166.6h0M585.5 171.3h0M584.2 168.1h0M583.1 173.9h0M584.7 172.3h0M586.9 170.3h0M587.2 170h0M587.6 167.5h0M583.1 167.3h0M587.6 168h0M584.8 165.6h0M583.7 169h0M583.7 177.3h0M585.9 167.6h0M585.5 170.4h0M583.7 170.7h0M584.7 168.6h0M585 162.2h0M585.1 172h0M584.8 169.1h0M584.8 167.8h0M583.1 172.3h0M587 172.3h0M587.5 169.5h0M586.9 168.1h0M585.8 174h0M585.2 167.7h0M586.8 179.8h0M584.3 179.7h0M587.2 177.3h0M587 170.2h0M584.8 171.9h0M584.7 168.2h0M585.6 165.8h0M586.2 163.1h0M584.1 173.2h0M585.4 176.2h0M584.1 164h0M587.7 177.4h0M584.9 167.5h0M585 172h0M585.7 161.1h0M585.7 168.5h0M585.7 164.2h0M587.5 170.6h0M584.6 165.8h0M587.5 167.7h0M585.1 175.3h0M587.2 166h0M586 174.2h0M584.7 174.7h0M583.8 166.7h0M584.9 174.8h0M583.4 165.8h0M584.1 168.1h0M587 167.6h0M586.1 166.1h0M587.6 169h0M586.7 172.8h0M583.4 169.2h0M584.9 173.7h0M587.7 165.4h0M585.7 169.3h0M583.1 173.3h0M583.3 171.2h0M583.4 171.2h0M584.6 174.5h0M583.2 169.1h0M587.1 175.8h0M584.1 160.3h0M586.4 166.6h0M586.5 165.9h0M586.5 173.2h0M584.1 178.5h0M587.2 171.9h0M587.3 171.2h0M583.5 166.7h0M587.7 174h0M584.5 171.8h0M586.2 178.6h0M586 165.4h0M584.4 165.3h0M587.7 175.9h0M583.1 168h0M585.4 168h0M585 169.8h0M583.8 170h0M585.8 169.1h0M587.8 164.2h0M583.2 161.2h0" stroke="#f0936b" stroke-width="0.95" stroke-linecap="round" fill="none" opacity="0.8"/>
<line x1="585.5" y1="167.7" x2="585.5" y2="170.3" stroke="#222" stroke-width="0.35"/>
<rect x="584.6" y="168.3" width="1.8" height="1.4" fill="#1a1a1a"/>
<path d="M594.3 165.8h0M596.2 166h0M594.6 173.3h0M597.1 166.9h0M594.8 184.3h0M596.8 172.9h0M594.4 169.6h0M597.2 174.3h0M598.8 172.4h0M598.1 168.5h0M595.6 166.2h0M595.7 171.6h0M597.5 173.7h0M594.8 170.8h0M594.8 166.5h0M595.4 169.9h0M596.5 174.9h0M595.8 172.7h0M597.2 167h0M598.7 175.9h0M596 173.6h0M597.8 169.8h0M596.9 171.5h0M599 173.2h0M598.5 166.9h0M594.5 172.8h0M598.5 180.6h0M596.7 165.9h0M594.7 166.8h0M597.3 170.4h0M596.4 175.3h0M598.5 168.5h0M595.8 173.8h0M597.8 171.1h0M594.7 182.2h0M595.3 170.7h0M595.6 169.9h0M596.9 174.7h0M595.3 165.7h0M597.5 171h0M594.7 171.4h0M596.2 175.5h0M594.6 173.2h0M597.2 166.1h0M597.2 164.4h0M597.6 181.5h0M597.5 167.5h0M595.1 172.3h0M598.4 174.7h0M596.9 166.9h0M594.3 168.4h0M594.5 169.5h0M596.3 171.1h0M598.6 186.6h0M596.2 167.4h0M596.1 168.3h0M597.9 168.1h0M598.6 172.1h0M595.7 164.6h0M597.7 177.7h0M594.6 172.8h0M596 172.1h0M595.9 184.6h0M596.5 166.6h0M598.3 170.9h0M595 166.9h0M597.9 170.7h0M595.4 169.8h0M598 166.1h0M597.1 176.9h0M594.3 173.2h0M596.4 174.8h0M597 168.4h0M595.8 172.3h0M598.6 170.5h0M594.4 167.4h0M595 170.1h0M595 164.2h0M598.3 169.2h0M594.5 169.5h0M595.5 166.3h0M598.8 172.8h0M596 166.9h0M596.6 167.7h0M597.8 167.5h0M596 172h0M595.8 172.5h0M597.1 164.8h0M598.9 171.6h0M597.6 169.8h0M597.1 170.9h0M594.9 173.6h0M595.3 174.7h0M594.6 173.4h0M595.6 170.1h0M595.2 171.3h0M596.8 173.8h0M595 167.5h0M597.2 174.5h0M598.1 169.2h0M596.9 174.4h0M598.8 175.6h0M598.5 167.7h0M594.5 168.5h0M598.7 169.2h0M595.1 171.9h0M598.9 172.6h0M596.5 173.1h0M596.5 169.3h0M597.3 169.2h0M595.4 172.1h0M596.1 173.5h0M594.8 174.9h0M597.2 176.9h0M595.9 169.9h0M594.8 169.9h0M594.7 173.2h0M596.1 172.3h0M597.1 175.8h0M594.2 173.3h0M597.7 166.2h0M597.7 173.5h0M597.3 170.8h0M597.8 168.5h0M598.9 170.3h0M596.6 169.7h0M598.9 176.1h0M594.8 185.2h0M596.9 172.2h0M598.4 172h0M595.5 171.6h0M597.8 169.5h0M598.9 167.4h0M597.8 172.1h0M598.6 162.5h0M597.2 171.1h0M597.8 167.5h0M595 170.1h0M598.6 167.8h0M598.4 170h0" stroke="#8ea6d9" stroke-width="0.95" stroke-linecap="round" fill="none" opacity="0.8"/>
<line x1="596.6" y1="168.5" x2="596.6" y2="171.1" stroke="#222" stroke-width="0.35"/>
<rect x="595.7" y="169.1" width="1.8" height="1.4" fill="#1a1a1a"/>
<path d="M606.7 165.5h0M608.2 171.3h0M608.7 173h0M606.4 177h0M606.6 169.7h0M606 174.8h0M608.5 174.8h0M605.6 170h0M607.5 163h0M606.8 169.4h0M606.5 167.5h0M607.9 172.7h0M605.9 166.2h0M606.4 169.1h0M607 177.7h0M608.6 169h0M607.4 172.5h0M606.4 173.3h0M607.8 170.7h0M606.9 173.9h0M607.7 177.1h0M606.6 177.5h0M608.9 175.6h0M606.8 168.7h0M608.6 170.5h0M608.7 168.6h0M607.3 170.2h0M606.1 175.1h0M608 170h0M608.7 173.5h0" stroke="#e78ad6" stroke-width="0.95" stroke-linecap="round" fill="none" opacity="0.8"/>
<line x1="607.3" y1="169.7" x2="607.3" y2="172.3" stroke="#222" stroke-width="0.35"/>
<rect x="606.4" y="170.3" width="1.8" height="1.4" fill="#1a1a1a"/>
<rect x="568.2" y="150.4" width="46" height="40" fill="none" stroke="#505050" stroke-width="0.7"/>
<text x="612.2" y="155.3" font-size="4.25" text-anchor="end" font-style="italic">VLDLR</text>
<text x="612.2" y="188.4" font-size="4.14" text-anchor="end" font-style="italic">p = 0.0017</text>
<text x="574.2" y="196" font-size="4.69" text-anchor="middle">1</text>
<text x="585.5" y="196" font-size="4.69" text-anchor="middle">2</text>
<text x="596.6" y="196" font-size="4.69" text-anchor="middle">4</text>
<text x="607.3" y="196" font-size="4.69" text-anchor="middle">5</text>
<text x="591.2" y="200.7" font-size="4.69" text-anchor="middle">Cogdx</text>
<rect x="624.2" y="150.4" width="46" height="40" fill="#fff"/>
<line x1="624.2" y1="160" x2="670.2" y2="160" stroke="#e6e6e6" stroke-width="0.35"/>
<text x="621.2" y="161.6" font-size="4.69" text-anchor="end">6</text>
<line x1="624.2" y1="171.3" x2="670.2" y2="171.3" stroke="#e6e6e6" stroke-width="0.35"/>
<text x="621.2" y="172.9" font-size="4.69" text-anchor="end">5</text>
<line x1="624.2" y1="182.8" x2="670.2" y2="182.8" stroke="#e6e6e6" stroke-width="0.35"/>
<text x="621.2" y="184.4" font-size="4.69" text-anchor="end">4</text>
<line x1="630.2" y1="150.4" x2="630.2" y2="190.4" stroke="#e6e6e6" stroke-width="0.35"/>
<line x1="641.5" y1="150.4" x2="641.5" y2="190.4" stroke="#e6e6e6" stroke-width="0.35"/>
<line x1="652.6" y1="150.4" x2="652.6" y2="190.4" stroke="#e6e6e6" stroke-width="0.35"/>
<line x1="663.3" y1="150.4" x2="663.3" y2="190.4" stroke="#e6e6e6" stroke-width="0.35"/>
<path d="M631.5 165.6h0M630.9 166.8h0M632.4 169.4h0M630.1 160.1h0M631.4 165.1h0M629.7 160.9h0M630.5 159.3h0M630.7 164.1h0M629.4 167.4h0M630.5 165.4h0M631.1 163.1h0M629.1 160.9h0M628.6 166.5h0M631 166h0M629.4 170.8h0M629.4 163.9h0M631 163.6h0M632.4 160.6h0M631.8 165.6h0M630.7 160.2h0M631.1 167.9h0M631.7 161.1h0M631.3 165.2h0M628.5 165.1h0M629.9 163.8h0M629.5 164.3h0M631 162.6h0M632.5 163.1h0M631.5 163.7h0M628.6 165.6h0M629.8 168h0M630.8 161.4h0M632.2 165.8h0M631 165.7h0M632.2 163.7h0M631.2 166.6h0M628.2 164.9h0M627.8 165.3h0M629.4 163.3h0M631.3 163.9h0M628.9 167.4h0M631.4 160h0M630.3 168.1h0M628.2 163.1h0M631.9 164.1h0M631.8 167.6h0M629.1 164.2h0M630.1 159.9h0M629.4 167.1h0M632.2 163.6h0M628.2 166.5h0M631.8 165.8h0M632.2 160.7h0M629.8 162.5h0M628 164.7h0M630 162.9h0M630.6 164.8h0M628.6 165.5h0M630.6 165h0M631 165.2h0M630.7 164.7h0M628.5 163.6h0M629.3 163.4h0M631.9 164.8h0M628.7 162.1h0M629.1 163.3h0M628.1 165.3h0M627.9 163.3h0M632.2 160.2h0M630.6 166h0M627.8 159.8h0M631 161.4h0M629 161.6h0M630 164h0M629.7 167h0M632 165.1h0M629.2 164.6h0M631 165.1h0M630.9 167h0M630.5 165.7h0M632.5 162.8h0M628.6 162.1h0M628.8 167.3h0M631.6 163.6h0M630.4 164h0M630.9 163.8h0M632.1 164.2h0M628.9 169.2h0M628.9 167.4h0M630.9 164.9h0M628.4 163.7h0M628.4 159.9h0M627.8 166.2h0M629.7 162.8h0M628 173.1h0M630.9 165.9h0M630.6 167.2h0M629.6 166h0M629.8 163.7h0M631.5 164.4h0M630.3 163.7h0M628.3 160.2h0M632.1 168.7h0M631.7 166.2h0M629.5 168.1h0M628 167.1h0M631.1 175.3h0M628.9 167.7h0M629 164.5h0M629.7 162.7h0M629.3 165.4h0M629.9 164.4h0M630 168.3h0M632.1 161.9h0M630 162.6h0M631.4 164.6h0M632.3 164.2h0M629.5 163.1h0M632.2 164.8h0M630.1 161.1h0M632.2 163.7h0M628 164.4h0M629.6 164.5h0M632.2 162.5h0M627.8 161.4h0M631.6 165.1h0M632 162.1h0M629.7 162.9h0M630.6 162.5h0M629.9 163.7h0M631.6 168.4h0M631.2 168.2h0M632.5 166.7h0M630 165.8h0M631.2 158.3h0M630.9 159.7h0M631.7 166.8h0M630 161.4h0M629.4 165.5h0M630.8 163.5h0M631 172.9h0M632.3 164.8h0M631.3 163.7h0M628.7 165.4h0M629.8 167h0M631 161.3h0M630.5 166.3h0M632.3 164.3h0M627.8 168.4h0M629.9 162.2h0M631.8 162.8h0M629.9 164.6h0M627.8 159.9h0M628.1 161.9h0M630.6 160.8h0M631.5 166.4h0M631.1 162.9h0M631.9 162.8h0M632.6 165.8h0M629.2 163.2h0M630.8 166.7h0M628 162.9h0M631.8 158.8h0M632.2 165.1h0M631 161.6h0M630.9 160.1h0M630.7 166.3h0M632.2 163h0M628.5 167.6h0M629.2 163.9h0" stroke="#7fd4ae" stroke-width="0.95" stroke-linecap="round" fill="none" opacity="0.8"/>
<line x1="630.2" y1="162.3" x2="630.2" y2="164.9" stroke="#222" stroke-width="0.35"/>
<rect x="629.3" y="162.9" width="1.8" height="1.4" fill="#1a1a1a"/>
<path d="M642.3 165.9h0M639.2 167.5h0M642.2 165.2h0M642.3 162.9h0M639.1 162.8h0M639.4 167.6h0M643.1 163.8h0M639.3 162.8h0M643.3 162.8h0M639.9 168.3h0M642.3 165.9h0M640.2 164.1h0M642 163.5h0M642.5 165.8h0M640.2 162h0M640.9 160h0M639.1 164.3h0M642.6 161.8h0M643.7 163.2h0M639.1 163.8h0M641.3 162.3h0M640.7 171.2h0M639.7 165.8h0M642 164.1h0M639.2 163.6h0M639.8 166.4h0M639.7 164h0M639.5 163.3h0M643.5 168.6h0M639.1 165.8h0M640.2 164.9h0M641.3 163h0M643.8 161.3h0M643.3 159.2h0M643.3 167.7h0M640.5 169.2h0M639.2 161.5h0M640 163.2h0M641.5 159.7h0M642.7 166.1h0M642.1 163.8h0M643 166.1h0M641.3 164.7h0M641.8 163.1h0M639.3 163.6h0M643 164.9h0M639.8 162.6h0M640.4 164.7h0M639.4 172.9h0M640.8 167.6h0M641.7 164.1h0M641.6 164.1h0M641.1 166.8h0M642.6 163.5h0M640.7 167.8h0M643.1 174.3h0M640.9 165.1h0M640 157h0M643.2 161.8h0M642.5 164.1h0M640.9 162.4h0M640.6 170.1h0M642.3 161.9h0M641.9 166.6h0M640.8 161.4h0M642.4 166.1h0M639.2 166.8h0M642.5 159.9h0M642.1 164.5h0M640.2 172.8h0M640.9 163.7h0M641.8 163.6h0M639.6 159.1h0M642.9 162.1h0M643.4 161.6h0M643.5 165.1h0M641.3 163.8h0M639.5 161.3h0M643.4 166h0M639.3 162h0M643.1 165.2h0M642.8 162.2h0M639.1 163.6h0M643.2 164.3h0M641.8 159.2h0M641.1 164.8h0M640.1 162.8h0M640.7 162.7h0M639.9 162.9h0M641.1 166.6h0M641.4 163.2h0M641 162.9h0M641.8 164.7h0M642.1 163.1h0M640.2 167.4h0M641.2 158.6h0M643.3 163.3h0M640.2 168.7h0M641.3 163.6h0M640.8 170.9h0M642.9 161.9h0M641.4 166.9h0M641.2 165.3h0M640.8 164.9h0M640.6 161.9h0M639.5 164.1h0M643 156.3h0M640.5 166h0M642.8 158.2h0M643.5 166.1h0M639.3 162.4h0M640.3 163.9h0M643.5 165.4h0M641.1 160.4h0M639.5 162.8h0M643.8 161.9h0M640.2 163.6h0M640.4 164.9h0M643.7 161.6h0M642.4 162.8h0M643.3 162.2h0M641.5 172.1h0M639.6 165.4h0M640.6 163.7h0M643.6 168.8h0M642.6 161.6h0M639.8 163.3h0M640.5 167.1h0M643.5 164.7h0M642.5 162.9h0M641.2 156.5h0M642.4 161.3h0M643.6 160.5h0M641.8 164.1h0M642.6 164.8h0M642 162.1h0M639.2 162.6h0M640 164.9h0M639.8 164.6h0M642.7 165.1h0M641.4 163.3h0M641 163h0M643.1 166.9h0M642.2 162.9h0M639.7 167.7h0M641.8 164.1h0M641.9 164.1h0M643.2 167.4h0M640.8 163.3h0M642.4 170.9h0M639.6 165.9h0M641.8 169.3h0M643.5 164.2h0M640 164h0M641.8 162.6h0M643.8 159h0M642 164.7h0M641.2 163.1h0M643.3 164.4h0M640.1 163.6h0" stroke="#f0936b" stroke-width="0.95" stroke-linecap="round" fill="none" opacity="0.8"/>
<line x1="641.5" y1="162.7" x2="641.5" y2="165.3" stroke="#222" stroke-width="0.35"/>
<rect x="640.6" y="163.3" width="1.8" height="1.4" fill="#1a1a1a"/>
<path d="M654.1 160.4h0M654.9 163h0M652 163.8h0M650.8 160h0M653.5 168.1h0M653.2 165.7h0M654.6 160.7h0M653.9 165.9h0M653.7 163.2h0M654 162.7h0M651 165.8h0M651.3 163.4h0M653.4 160.4h0M651.8 165.1h0M650.3 166.5h0M651.2 163.8h0M653.4 169.5h0M654.3 159.7h0M653.9 163h0M653.6 160.2h0M654.3 167.2h0M650.9 162.5h0M652.7 162.1h0M652.3 162.3h0M654.6 162.8h0M654.2 162.7h0M650.4 162.3h0M651.4 165.8h0M652.7 164.7h0M653.4 163.1h0M654.6 160.9h0M652.2 157.1h0M651.3 162.6h0M654.7 165.1h0M651.2 160.4h0M652.9 161.3h0M651.5 160h0M653.3 164.7h0M650.8 166.1h0M650.5 163.3h0M651.1 159.7h0M653.4 164.2h0M651.7 162.1h0M654.9 168.5h0M653.4 165.1h0M654.4 158.7h0M651.7 164.4h0M651.2 165.6h0M654.2 163.1h0M651.7 161.6h0M652.7 163.5h0M654.5 162.9h0M650.4 164.9h0M654.4 162.5h0M650.4 159.3h0M654.8 161h0M651.6 166.9h0M651.1 162.9h0M654.6 164h0M651.4 167h0M653.7 160.4h0M654.4 167.5h0M650.7 162.8h0M653 159.7h0M650.3 168.1h0M654.4 162.7h0M651.5 163.2h0M653.3 167.8h0M653.9 155.3h0M654.8 173.8h0M651.8 164.3h0M652.9 164.7h0M654.9 173.9h0M653.1 163.5h0M651.2 159.1h0M652.2 165h0M652.5 159.4h0M654.4 164h0M651.9 159.7h0M653.9 164.7h0M654.4 163.8h0M650.6 163.9h0M652.5 162h0M654.8 162.2h0M654.6 161.2h0M650.2 165.6h0M650.8 162.1h0M652.1 160.3h0M652.1 160.4h0M650.4 161.7h0M652.4 165.5h0M654.2 164.9h0M651.4 158.9h0M652.9 163.5h0M651.8 163.5h0M650.8 158.5h0M651.5 158.8h0M651.6 161.7h0M652.4 160h0M652.3 163.1h0M654.2 166.9h0M652.3 166.7h0M650.8 166.5h0M650.4 160.8h0M653.2 160.1h0M652.6 163.4h0M652.2 163.5h0M653.6 163.2h0M651.8 159.3h0M651.9 158.3h0M654.4 161h0M651.6 158.8h0M651.3 164h0M653.8 165.8h0M650.7 167.4h0M654.1 162.7h0M653.2 158.2h0M653.6 161.7h0M653.7 168.5h0M654.4 169.9h0M650.6 161.4h0M652.5 163h0M652.5 160h0M652.7 161.5h0M651.3 164h0M650.6 162.2h0M652.9 166.2h0M651.2 159.4h0M653.6 170.9h0M651.9 165.4h0M653.5 178.2h0M653.1 166.6h0M653 164.3h0M653.8 165.4h0M653.3 167.3h0M653.1 162.7h0M653.7 163.5h0M653.8 165.8h0M654.5 161h0M651.7 163.2h0" stroke="#8ea6d9" stroke-width="0.95" stroke-linecap="round" fill="none" opacity="0.8"/>
<line x1="652.6" y1="162.3" x2="652.6" y2="164.9" stroke="#222" stroke-width="0.35"/>
<rect x="651.7" y="162.9" width="1.8" height="1.4" fill="#1a1a1a"/>
<path d="M662.2 166.5h0M663.6 164.1h0M662.6 165h0M663.2 166.8h0M663.6 163.6h0M663.8 166.3h0M664.6 164.8h0M664 165.7h0M662.4 176.3h0M664.5 165h0M662.4 163.7h0M662.6 165.8h0M665 161.2h0M661.9 167.8h0M662.4 165.2h0M663.6 165.1h0M663.1 164.5h0M663 165h0M663.5 165h0M662 163h0M662.4 169.2h0M664.8 168.7h0M663.9 161.5h0M663.1 166.9h0M662.3 164.2h0M663.5 163.1h0M663.1 162.1h0M661.6 166.5h0M662.2 164.4h0M662.6 163.7h0" stroke="#e78ad6" stroke-width="0.95" stroke-linecap="round" fill="none" opacity="0.8"/>
<line x1="663.3" y1="163.7" x2="663.3" y2="166.3" stroke="#222" stroke-width="0.35"/>
<rect x="662.4" y="164.3" width="1.8" height="1.4" fill="#1a1a1a"/>
<rect x="624.2" y="150.4" width="46" height="40" fill="none" stroke="#505050" stroke-width="0.7"/>
<text x="668.2" y="155.3" font-size="4.25" text-anchor="end" font-style="italic">LRP1</text>
<text x="668.2" y="188.4" font-size="4.14" text-anchor="end" font-style="italic">p = 0.56</text>
<text x="630.2" y="196" font-size="4.69" text-anchor="middle">1</text>
<text x="641.5" y="196" font-size="4.69" text-anchor="middle">2</text>
<text x="652.6" y="196" font-size="4.69" text-anchor="middle">4</text>
<text x="663.3" y="196" font-size="4.69" text-anchor="middle">5</text>
<text x="647.2" y="200.7" font-size="4.69" text-anchor="middle">Cogdx</text>
<text x="378.8" y="225.4" font-size="4.69" text-anchor="middle" transform="rotate(-90 378.8 223.8)">Male</text>
<text x="388.1" y="225" font-size="4.34" text-anchor="middle" textLength="39" lengthAdjust="spacingAndGlyphs" transform="rotate(-90 388.1 223.5)">Log2(Expression+1)</text>
<rect x="400.2" y="203.3" width="46" height="40" fill="#fff"/>
<line x1="400.2" y1="208.2" x2="446.2" y2="208.2" stroke="#e6e6e6" stroke-width="0.35"/>
<text x="397.2" y="209.8" font-size="4.69" text-anchor="end">7</text>
<line x1="400.2" y1="216.5" x2="446.2" y2="216.5" stroke="#e6e6e6" stroke-width="0.35"/>
<text x="397.2" y="218.1" font-size="4.69" text-anchor="end">6</text>
<line x1="400.2" y1="225" x2="446.2" y2="225" stroke="#e6e6e6" stroke-width="0.35"/>
<text x="397.2" y="226.6" font-size="4.69" text-anchor="end">5</text>
<line x1="400.2" y1="233.5" x2="446.2" y2="233.5" stroke="#e6e6e6" stroke-width="0.35"/>
<text x="397.2" y="235.1" font-size="4.69" text-anchor="end">4</text>
<line x1="400.2" y1="241.9" x2="446.2" y2="241.9" stroke="#e6e6e6" stroke-width="0.35"/>
<text x="397.2" y="243.5" font-size="4.69" text-anchor="end">3</text>
<line x1="406.2" y1="203.3" x2="406.2" y2="243.3" stroke="#e6e6e6" stroke-width="0.35"/>
<line x1="417.4" y1="203.3" x2="417.4" y2="243.3" stroke="#e6e6e6" stroke-width="0.35"/>
<line x1="428.6" y1="203.3" x2="428.6" y2="243.3" stroke="#e6e6e6" stroke-width="0.35"/>
<line x1="439.3" y1="203.3" x2="439.3" y2="243.3" stroke="#e6e6e6" stroke-width="0.35"/>
<path d="M407.7 218.6h0M404.5 215.1h0M406.4 219.4h0M406 219.1h0M404.4 217.9h0M407.5 217.9h0M407.4 216.5h0M404.1 214.9h0M407.8 217.2h0M406 218.1h0M405.1 220.9h0M408.2 216.9h0M406.7 218.7h0M406.4 214.7h0M405.3 217.8h0M407.5 219.5h0M408.3 220.7h0M404.9 213.7h0M403.9 213.4h0M407.9 217.9h0M404.8 217.7h0M406.9 216.8h0M405.2 216.8h0M405.9 214.5h0M405.6 219.6h0M408.5 217.7h0M403.8 213h0M407.3 216.1h0M407.2 215.9h0M404 219.3h0M407.1 216.1h0M405.2 219h0M406.1 217.2h0M408.3 215.9h0M405.5 217.2h0M407.7 219.8h0M406.9 214.4h0M404.1 220h0M406 221h0M407.9 216.8h0M407.3 215.5h0M406.4 215.3h0M404.9 217.3h0M407.2 212.1h0M407.3 219.3h0M407.9 216.2h0M404.6 218.5h0M406.6 216.3h0M407.5 217.1h0M405.7 218.1h0M406.4 215.5h0M405.8 217.4h0M404 215.4h0M405.3 214.3h0M404.9 215.5h0M404.3 216.8h0M405.2 218.8h0M407.9 216.9h0M407.1 216.5h0M407.8 217.1h0M407.7 216.2h0M404.6 221.6h0M405.2 219.4h0M406.8 214.7h0M408.5 219.5h0M405.7 216.4h0M407 217.8h0M404.7 217h0M405.6 218.9h0M405.5 217.3h0M405.1 217.3h0M405.6 217.5h0M406.5 217.7h0M407.4 215.6h0M405.2 218.7h0M407.3 213h0M408.3 215.3h0M407.3 218.8h0M406.1 218.5h0M404.2 217.4h0M408.5 217.4h0M407.7 217h0M405 224.8h0M405.2 216.3h0M405.4 217.4h0M406 218.5h0M404.5 219.2h0M404.7 213.6h0M408.6 216.2h0M405.3 214h0M408.2 227.3h0M406.3 213h0M405.1 216.9h0M406.2 215.3h0M404.4 216.4h0M408.1 219.8h0M406.3 214.9h0M407.9 216.2h0M404.2 213.9h0M405.9 218h0M405.2 215.6h0M406 213.8h0M407.7 219.9h0M405.2 215.4h0M404.5 217.4h0M405.2 216.8h0M404.5 221.8h0M408.1 218h0M405.9 217.6h0M403.9 216.1h0M404.3 217.5h0M405.5 217.3h0M406.7 214.3h0M404.9 216h0M406.5 217.6h0M405.6 218.6h0M407.4 217.4h0M407.3 215.4h0M407.7 215.6h0M406.1 220.9h0M407.4 217.7h0M407.4 214.4h0M404 215.3h0M405.4 214h0M404.1 218.8h0M407.1 220.1h0M404.3 217.6h0M404.5 214.7h0M408.3 218.3h0M406.4 218.3h0M404 216.2h0M407.7 215.4h0M407.1 220.7h0M408.2 217.6h0M406.5 217.5h0M407.7 216.3h0" stroke="#7fd4ae" stroke-width="0.95" stroke-linecap="round" fill="none" opacity="0.8"/>
<line x1="406.2" y1="215.6" x2="406.2" y2="218.2" stroke="#222" stroke-width="0.35"/>
<rect x="405.3" y="216.2" width="1.8" height="1.4" fill="#1a1a1a"/>
<path d="M416.8 212.9h0M417.2 214.4h0M419.1 217.7h0M415.8 214.2h0M419.5 215h0M416.8 216.3h0M415.9 221h0M417.5 215.6h0M417.9 213.4h0M419.5 212.3h0M418.9 216.1h0M419.7 215.8h0M415.9 218.2h0M416.7 215.6h0M415.8 214h0M418.2 217.6h0M419.8 215.2h0M418.3 222.9h0M419.4 218.5h0M417.7 214.9h0M419 217.8h0M419.1 217.4h0M416.1 221.6h0M417 217.5h0M415.4 214.8h0M419.1 212.7h0M415.6 216.7h0M416.4 215.8h0M417.4 218.9h0M419.4 217.3h0M415.7 217.6h0M417 215.4h0M417.9 216.8h0M416.6 215.1h0M416.9 217.9h0M418.9 216.7h0M415.7 215h0M419.6 217.3h0M417.9 216.4h0M415.7 214.2h0M418.3 219h0M417.6 211.4h0M417.6 217.2h0M415.1 217.1h0M419.1 216.2h0M416 214.2h0M419.2 219.9h0M416 219.6h0M419.2 223.6h0M415.1 216.8h0M417.8 215h0M415.7 213.3h0M419.3 217.8h0M417.5 213.2h0M415.3 215.4h0M417.3 215.2h0M419.1 216.1h0M417.3 211.6h0M417.7 218.8h0M416.3 217.9h0M417.8 215.8h0M417.2 215.5h0M417.3 213.6h0M417.2 211.8h0M416.5 214.5h0M416.2 217.7h0M416.2 213.8h0M416.4 216.8h0M416 216.4h0M418.9 211.6h0M415.4 214h0M419 219.4h0M419.5 218.5h0M419.8 214.2h0M416.6 214.4h0M418.1 217.2h0M416.4 214h0M416.6 216.6h0M416 217.1h0M415.4 219.8h0M417 212.3h0M418.8 215.3h0M415.7 215.9h0M415.1 217.2h0M419.5 219.8h0M419.8 213.2h0M416 213.7h0M418.5 210.9h0M415.2 217.6h0M417.4 215.5h0M415.5 216.7h0M417.8 215h0M416.7 220.8h0M416.3 214.9h0M416.2 213.5h0M416 216.8h0M418.9 215.1h0M418.7 219.3h0M419.8 216.6h0M416.9 218.9h0M418.4 218.2h0M418.7 215.6h0M419.2 214.3h0M415.2 209.4h0M416.2 215.5h0M418.4 220.3h0M415.3 217.7h0M416.1 215.7h0M418.9 213.5h0M418.9 217.3h0M415.6 215.4h0M416.8 215.3h0M416.2 214.6h0M416.2 215.9h0M416 213.6h0M416 212.3h0M416 216.7h0M417.6 214.6h0M419 215.4h0M418.3 219.8h0M419.6 212.2h0M416.1 216.1h0M417.5 216.5h0M416.8 216.7h0M419.5 218.9h0M418.7 217.2h0M415.8 216.9h0M417.6 217.6h0" stroke="#f0936b" stroke-width="0.95" stroke-linecap="round" fill="none" opacity="0.8"/>
<line x1="417.4" y1="214.6" x2="417.4" y2="217.2" stroke="#222" stroke-width="0.35"/>
<rect x="416.6" y="215.2" width="1.8" height="1.4" fill="#1a1a1a"/>
<path d="M428.5 218.8h0M427 216.7h0M427.8 213.6h0M428.1 217.6h0M427.1 216.7h0M429.4 215.8h0M429.5 217.6h0M430.6 215.8h0M427.2 215.1h0M429.8 216.4h0M430.8 216.2h0M427.4 214.4h0M430.4 220.3h0M429.7 218.8h0M428.6 215.4h0M426.5 217.8h0M428.2 222.8h0M428 221.5h0M427.9 219.1h0M430.5 211.5h0M427.3 220.8h0M427.5 220.5h0M429.3 215.6h0M426.6 216.6h0M428.9 215.2h0M427.2 218.4h0M430.6 217.6h0M426.2 215.6h0M430.8 216h0M428.8 217.4h0M429.5 217.5h0M430.2 217.8h0M426.2 218.6h0M426.5 218.9h0M426.4 217h0M426.9 215.4h0M426.8 216.7h0M428.9 217.4h0M427.1 216.2h0M431 212.7h0M427.1 215.8h0M427.6 217.3h0M429.2 217.3h0M428 217.6h0M426.6 220.7h0M427.9 222.5h0M430.2 214.1h0M427.8 217.7h0M426.5 216.5h0M430.4 220.2h0M429.9 215.4h0M428.4 218.5h0M430.4 217.7h0M431 215.5h0M428.2 222.2h0M430.5 216.9h0M428.1 218.9h0M426.5 217.4h0M427.6 219.5h0M426.7 214.7h0M427.6 222.1h0M429.3 215.7h0M427.7 215.9h0M427 218.7h0M426.9 217.2h0M428.4 217.9h0M429 215.9h0M426.6 218.7h0M427.9 216.8h0M428.6 218.2h0M430.3 215.5h0M430.2 216.2h0M430.8 220.2h0M429.9 213.3h0M429.2 214.5h0M427.6 216.3h0M426.8 221h0M427.9 219.5h0M426.6 216.7h0M430.3 218.2h0M430.8 216.1h0M427.6 218.9h0M429.4 213.8h0M426.6 213.2h0M426.2 218.9h0M427.2 218.2h0M430.9 217.3h0M430.7 219h0M428.7 216.4h0M426.7 215.2h0M428 216.2h0M429 217.5h0M429.8 214.8h0M429.4 215h0M426.6 218.2h0M428.7 219.3h0M430.6 219.3h0M427.4 218h0M429 214.4h0M429 219.8h0M430.9 215.7h0M430 216.9h0M427 215.6h0M426.6 215.7h0M426.7 215.5h0M429.8 215.1h0M428.3 218.5h0M429.6 212.5h0M426.3 221.7h0M428 223.6h0M428.6 215.2h0M429.8 214.5h0" stroke="#8ea6d9" stroke-width="0.95" stroke-linecap="round" fill="none" opacity="0.8"/>
<line x1="428.6" y1="215" x2="428.6" y2="217.6" stroke="#222" stroke-width="0.35"/>
<rect x="427.7" y="215.6" width="1.8" height="1.4" fill="#1a1a1a"/>
<path d="M438.3 216.3h0M439.9 215.5h0M437.9 212.4h0M440.7 215.9h0M438.6 217.1h0M439 214.2h0M438.6 213.8h0M440.7 216h0M440.2 217.7h0M440.6 214.9h0M439.2 217.3h0M439.8 216.6h0M440 217.7h0M438.7 217.6h0M438.5 215.4h0M438.6 218.9h0M439.5 215.9h0M437.6 217.1h0M440.4 218.5h0M440.6 216.5h0M439.7 217.1h0M439.3 217.3h0M437.8 217.2h0M438.7 215.3h0" stroke="#e78ad6" stroke-width="0.95" stroke-linecap="round" fill="none" opacity="0.8"/>
<line x1="439.3" y1="214.8" x2="439.3" y2="217.4" stroke="#222" stroke-width="0.35"/>
<rect x="438.4" y="215.4" width="1.8" height="1.4" fill="#1a1a1a"/>
<rect x="400.2" y="203.3" width="46" height="40" fill="none" stroke="#505050" stroke-width="0.7"/>
<text x="444.2" y="208.2" font-size="4.25" text-anchor="end" font-style="italic">PDHA1</text>
<text x="444.2" y="241.3" font-size="4.14" text-anchor="end" font-style="italic">p = 0.10</text>
<text x="406.2" y="248.3" font-size="4.69" text-anchor="middle">1</text>
<text x="417.4" y="248.3" font-size="4.69" text-anchor="middle">2</text>
<text x="428.6" y="248.3" font-size="4.69" text-anchor="middle">4</text>
<text x="439.3" y="248.3" font-size="4.69" text-anchor="middle">5</text>
<text x="423.2" y="253.1" font-size="4.69" text-anchor="middle">Cogdx</text>
<rect x="456.2" y="203.3" width="46" height="40" fill="#fff"/>
<line x1="456.2" y1="211" x2="502.2" y2="211" stroke="#e6e6e6" stroke-width="0.35"/>
<text x="453.2" y="212.6" font-size="4.69" text-anchor="end">6</text>
<line x1="456.2" y1="223.4" x2="502.2" y2="223.4" stroke="#e6e6e6" stroke-width="0.35"/>
<text x="453.2" y="225" font-size="4.69" text-anchor="end">4</text>
<line x1="456.2" y1="236.3" x2="502.2" y2="236.3" stroke="#e6e6e6" stroke-width="0.35"/>
<text x="453.2" y="237.9" font-size="4.69" text-anchor="end">2</text>
<line x1="462.2" y1="203.3" x2="462.2" y2="243.3" stroke="#e6e6e6" stroke-width="0.35"/>
<line x1="473.4" y1="203.3" x2="473.4" y2="243.3" stroke="#e6e6e6" stroke-width="0.35"/>
<line x1="484.6" y1="203.3" x2="484.6" y2="243.3" stroke="#e6e6e6" stroke-width="0.35"/>
<line x1="495.3" y1="203.3" x2="495.3" y2="243.3" stroke="#e6e6e6" stroke-width="0.35"/>
<path d="M461.5 233.1h0M462 228.4h0M462.3 221.9h0M460.2 216.7h0M461.8 220.3h0M460.2 221.6h0M461.8 217.2h0M460.5 216.8h0M461.3 215.4h0M463.9 219.7h0M463 217.6h0M460.2 211.9h0M462.5 220.4h0M463.3 212h0M463.9 216.9h0M460.4 214.4h0M462 214.8h0M460.4 219.6h0M462.1 218h0M464.2 218.5h0M459.8 218h0M462.8 216.2h0M464 218.6h0M464.3 217.8h0M463.7 213.6h0M460 221.3h0M461.1 214.3h0M460.2 219.4h0M462.2 218.8h0M462.6 219.5h0M461.5 218.4h0M461.8 218h0M461.2 223.1h0M464.4 220.1h0M462.1 218.7h0M460 214.6h0M462.1 219.1h0M463 217.8h0M464.5 217.4h0M463.9 213.2h0M462.1 217.3h0M461.8 223.2h0M460.3 222.7h0M461.5 222.6h0M462.1 218.3h0M464.4 220.5h0M461.4 221.4h0M460.9 221.5h0M463.4 221.2h0M463.3 214.4h0M463.1 224.8h0M463.5 229.5h0M462.7 214.6h0M460.1 228.1h0M459.8 213.8h0M460.4 217.9h0M463.3 217.9h0M460 222.5h0M462.2 218.1h0M461.8 220.3h0M459.8 219.8h0M461.3 211.4h0M462.6 217.4h0M461.9 220.3h0M460.6 216.2h0M464 215.2h0M461.4 218.4h0M464.3 214.3h0M460.2 222.4h0M462.7 213.4h0M461 219.2h0M461 221.8h0M461.9 211.8h0M464.2 220.3h0M460.6 217.9h0M463.5 223h0M461.6 221.7h0M463.2 218.2h0M460 216.2h0M460.9 231.1h0M460.5 219.3h0M460.4 223.7h0M461.6 220.1h0M462.6 217.4h0M460.9 215.1h0M464 216h0M463.9 218.7h0M460.5 217.3h0M460.6 213.9h0M461.1 220.2h0M461.4 225.3h0M459.8 215.8h0M460 218.1h0M461.5 216.1h0M461.1 215.9h0M464 217.9h0M463 214.7h0M464.2 217h0M460.9 222.4h0M460.2 223.4h0M462.8 220.2h0M464.5 212.5h0M464.1 214.7h0M463.7 216.2h0M464.3 221h0M460.1 218.8h0M460 217.9h0M463.6 217.7h0M460.3 223h0M461.1 219.3h0M461 220.8h0M464 221.3h0M461 216.8h0M460.1 224.2h0M463.8 218.7h0M463.9 220.2h0M460.6 219.5h0M461.9 218.3h0M462.1 220.2h0M460.1 216.8h0M463 218.3h0M461.4 219.7h0M464.2 220.2h0M461.8 220.1h0M464 223.1h0M460.9 217.2h0M462.2 217.9h0M460.3 221.4h0M463.6 216.8h0M462.9 218.9h0M461.8 218.4h0M464.1 220.1h0M459.8 225.3h0M460.9 219.5h0M461.8 216.3h0M464.4 215.9h0" stroke="#7fd4ae" stroke-width="0.95" stroke-linecap="round" fill="none" opacity="0.8"/>
<line x1="462.2" y1="217.4" x2="462.2" y2="220" stroke="#222" stroke-width="0.35"/>
<rect x="461.3" y="218" width="1.8" height="1.4" fill="#1a1a1a"/>
<path d="M471.5 223.1h0M474.7 213.9h0M471.5 217.2h0M475.8 222.2h0M475.4 219.5h0M472.4 219.5h0M473.4 219.8h0M471.4 222h0M475.3 218h0M473.8 218.2h0M472.7 212.8h0M471.6 218.1h0M474.3 217.1h0M471.6 214.5h0M473.8 221.2h0M473.4 219.4h0M471.7 222.6h0M471.7 219.9h0M475.1 221.4h0M472.1 222.5h0M473.8 220.2h0M473.1 223h0M474.4 221.9h0M474.4 218.8h0M472.8 222.2h0M472.9 220.5h0M473.4 215.6h0M472.7 218.8h0M471.1 218.4h0M473.9 221.5h0M473.4 224h0M475.2 217.6h0M474.4 216.6h0M474.7 215.6h0M474.6 220.1h0M475.2 220.7h0M473.3 225.3h0M473.4 219.1h0M472.4 219.4h0M472 224.7h0M475.5 215.7h0M475.7 227.9h0M474.7 216.2h0M474.7 221h0M475.8 223.8h0M475.8 217h0M474.5 220.3h0M474.9 237.2h0M471.3 225.7h0M474.7 225.1h0M474.3 223.2h0M471.4 222h0M475.2 220.7h0M471.4 211.1h0M474.8 216.7h0M474.7 218.8h0M473.2 216.3h0M474 220h0M471.5 224.5h0M471.7 220.3h0M474.6 220.6h0M474.9 220h0M473 222.7h0M474.3 222.2h0M474 218.9h0M472.7 218.9h0M475.8 213.4h0M474.9 214.8h0M471.2 219.5h0M475.6 214.5h0M472.7 214.9h0M474.8 220.6h0M471.6 221.9h0M475.1 219.4h0M471.6 224.5h0M472.6 226.9h0M475.8 215.2h0M474.4 215.1h0M471.7 223.9h0M473.2 217.3h0M472.9 221.9h0M475.6 219h0M474.9 225.9h0M474.4 223.3h0M473.2 220.3h0M474.4 222h0M473.2 218.1h0M473.6 222.7h0M473 211.4h0M473.2 220.7h0M472.2 220.3h0M472.4 223.3h0M474.4 225.3h0M472.6 213.5h0M471.8 222.3h0M472 221.6h0M472.2 219.9h0M474.5 224h0M474.8 222.9h0M471.6 220.7h0M471.7 219.8h0M474.4 221.4h0M474 216.6h0M473.5 220.1h0M475.7 217.1h0M472.9 222.5h0M474.7 217.9h0M473.8 221.9h0M473.3 225.3h0M472.9 218h0M472.9 222.9h0M475.4 224.4h0M472.6 221.2h0M472.8 214.8h0M472 221h0M473.5 220.3h0M472.1 216.6h0M473.4 215h0M471.1 224.1h0M472.3 217.9h0M472.7 221.3h0M473.7 222.2h0M472.1 218.7h0M475.7 226.5h0M471.5 223.2h0M475.8 220.3h0M473.8 215.8h0M471.5 214.8h0" stroke="#f0936b" stroke-width="0.95" stroke-linecap="round" fill="none" opacity="0.8"/>
<line x1="473.4" y1="218" x2="473.4" y2="220.6" stroke="#222" stroke-width="0.35"/>
<rect x="472.6" y="218.6" width="1.8" height="1.4" fill="#1a1a1a"/>
<path d="M485.3 227.3h0M483.2 216.5h0M484.6 218h0M484.2 216.2h0M482.7 221.4h0M484.3 222.1h0M484.6 208.9h0M484.7 215.4h0M483.9 220.1h0M482.4 222.2h0M483.9 217.1h0M484.2 217.5h0M482.6 213.8h0M483 226h0M482.6 218.7h0M482.8 218.2h0M482.3 216.4h0M485.5 221.2h0M485.3 215.2h0M483.4 218.2h0M482.4 215.6h0M486.2 220.8h0M485.4 217.6h0M483.7 216.5h0M486.6 217.1h0M483.2 219.3h0M484.3 210.9h0M482.5 230.7h0M485.3 220.9h0M485.9 215.1h0M486.7 215.3h0M486.3 224.1h0M484.4 218h0M484.8 216.1h0M486.9 217.3h0M483.3 217.9h0M483.2 212.6h0M487 213.4h0M485.4 209.9h0M484.9 214.6h0M483.2 218h0M484.8 213.6h0M486 216.4h0M482.8 219.3h0M483.1 224.4h0M484.2 221.4h0M482.6 209.3h0M484.2 214.7h0M485.4 221.4h0M486.9 215.3h0M486.4 218.4h0M483.8 217.4h0M483.2 223.1h0M485.7 220h0M485.3 217.1h0M485.4 217.7h0M484.2 216.6h0M484.4 222.1h0M484.9 218.2h0M485.5 215.2h0M486.8 223.9h0M485.1 222.5h0M485.6 219.6h0M486.1 215.6h0M485.5 213.1h0M485.9 220.2h0M486.2 214.2h0M484.5 221.4h0M485.1 219.4h0M485.2 213.2h0M486 215.8h0M484 224h0M486.8 217.7h0M485.4 210.8h0M486 229.5h0M484.8 219.7h0M485.9 218.4h0M485.3 213.5h0M485.6 218.7h0M484.3 213.5h0M485 213.6h0M482.9 216.2h0M484.2 216.6h0M482.9 216.4h0M486.3 228.3h0M483 217.7h0M483.9 216.5h0M484.1 216.4h0M486.8 221.5h0M485.3 214h0M484.1 221.3h0M485.5 222.2h0M485.4 230.2h0M484.4 217.3h0M483.3 214.9h0M486.6 220.7h0M484.3 221h0M482.4 218.4h0M483.7 217.8h0M485.5 219h0M487 216h0M485.6 219.9h0M486.3 221.8h0M484.1 218.1h0M484.5 215.6h0M483.5 216.6h0M485.8 211.8h0M485.8 223.2h0M486.1 210.2h0M486.1 220.5h0M485.7 219.8h0M483.7 218.6h0" stroke="#8ea6d9" stroke-width="0.95" stroke-linecap="round" fill="none" opacity="0.8"/>
<line x1="484.6" y1="216.4" x2="484.6" y2="219" stroke="#222" stroke-width="0.35"/>
<rect x="483.7" y="217" width="1.8" height="1.4" fill="#1a1a1a"/>
<path d="M494.2 221.3h0M495.9 222h0M494.8 219.4h0M496.2 210h0M495.6 223.5h0M494.9 219.3h0M494.3 218.8h0M495.4 223.1h0M495.1 221.9h0M496.1 223.4h0M496.3 216.8h0M494.4 220h0M496 217.6h0M495.8 214.7h0M494.9 232.3h0M496.3 224.6h0M495.8 219.8h0M495.2 224h0M495.6 231.8h0M494.7 216.7h0M496.9 217.8h0M495.6 220.7h0M493.7 218.6h0M495.9 218.8h0" stroke="#e78ad6" stroke-width="0.95" stroke-linecap="round" fill="none" opacity="0.8"/>
<line x1="495.3" y1="217.6" x2="495.3" y2="220.2" stroke="#222" stroke-width="0.35"/>
<rect x="494.4" y="218.2" width="1.8" height="1.4" fill="#1a1a1a"/>
<rect x="456.2" y="203.3" width="46" height="40" fill="none" stroke="#505050" stroke-width="0.7"/>
<text x="500.2" y="208.2" font-size="4.25" text-anchor="end" font-style="italic">DHCR24</text>
<text x="500.2" y="241.3" font-size="4.14" text-anchor="end" font-style="italic">p = 0.28</text>
<text x="462.2" y="248.3" font-size="4.69" text-anchor="middle">1</text>
<text x="473.4" y="248.3" font-size="4.69" text-anchor="middle">2</text>
<text x="484.6" y="248.3" font-size="4.69" text-anchor="middle">4</text>
<text x="495.3" y="248.3" font-size="4.69" text-anchor="middle">5</text>
<text x="479.2" y="253.1" font-size="4.69" text-anchor="middle">Cogdx</text>
<rect x="512.2" y="203.3" width="46" height="40" fill="#fff"/>
<line x1="512.2" y1="205.1" x2="558.2" y2="205.1" stroke="#e6e6e6" stroke-width="0.35"/>
<text x="509.2" y="206.7" font-size="4.69" text-anchor="end">8</text>
<line x1="512.2" y1="215.9" x2="558.2" y2="215.9" stroke="#e6e6e6" stroke-width="0.35"/>
<text x="509.2" y="217.5" font-size="4.69" text-anchor="end">6</text>
<line x1="512.2" y1="226.9" x2="558.2" y2="226.9" stroke="#e6e6e6" stroke-width="0.35"/>
<text x="509.2" y="228.5" font-size="4.69" text-anchor="end">4</text>
<line x1="512.2" y1="237.5" x2="558.2" y2="237.5" stroke="#e6e6e6" stroke-width="0.35"/>
<text x="509.2" y="239.1" font-size="4.69" text-anchor="end">2</text>
<line x1="518.2" y1="203.3" x2="518.2" y2="243.3" stroke="#e6e6e6" stroke-width="0.35"/>
<line x1="529.5" y1="203.3" x2="529.5" y2="243.3" stroke="#e6e6e6" stroke-width="0.35"/>
<line x1="540.6" y1="203.3" x2="540.6" y2="243.3" stroke="#e6e6e6" stroke-width="0.35"/>
<line x1="551.3" y1="203.3" x2="551.3" y2="243.3" stroke="#e6e6e6" stroke-width="0.35"/>
<path d="M519.8 224.9h0M517.3 226.8h0M517.9 225.5h0M517.2 226.6h0M516.4 225.2h0M515.9 227.3h0M518.3 224.3h0M517.2 226.9h0M518.5 223.8h0M520.2 220.9h0M519.9 226.5h0M518.4 222.9h0M520.3 227.1h0M516.7 229h0M518 227.2h0M520.5 224.8h0M519.7 230.6h0M516.2 227.3h0M516.9 225.4h0M518 227h0M517.8 223.9h0M516.5 228.3h0M520.2 227.4h0M517 229h0M516.8 224.6h0M518.9 228.7h0M520.2 223.5h0M518 226h0M518.8 229.5h0M517.6 224h0M517.8 226.6h0M516.9 226.6h0M518 224.3h0M517.5 227.3h0M518.9 227.4h0M518.8 226.2h0M519.7 225.3h0M520.4 233.7h0M516.3 227.9h0M518.2 230.6h0M518.4 225.1h0M518.3 224.8h0M516 232.3h0M515.9 226.7h0M519.9 225.7h0M519.7 225.3h0M515.9 226.6h0M517.9 227.8h0M519.8 224.5h0M516.4 225h0M520.5 226.7h0M518.9 230.6h0M518.6 225.7h0M515.8 226.9h0M519.9 226.3h0M517.2 228.7h0M517.5 229.5h0M518.6 223.9h0M518.5 228.1h0M519.7 225.9h0M520.4 223.6h0M516.7 224.5h0M519.6 226.2h0M520.6 226.7h0M520.5 224.5h0M518.2 229.6h0M517.1 228.6h0M519.2 221.4h0M519.1 224.2h0M516.5 226.4h0M517 229.1h0M520.2 227.7h0M520.4 223.3h0M517.7 228.1h0M517.1 224.9h0M518.7 225.9h0M518 227.4h0M519.3 232.5h0M520.3 231.7h0M516.5 228.8h0M519.3 227h0M518.3 225.4h0M520.6 228.5h0M520.2 226.1h0M518.2 223.6h0M519.9 224.6h0M517 227.9h0M516.4 224.4h0M518 225.9h0M518.7 227h0M518.2 224.7h0M518.2 226h0M518.9 224.2h0M518.4 225.3h0M519 221.7h0M517 225.2h0M518.8 226.1h0M520.4 226.2h0M517.3 229.4h0M516 224h0M519.8 227.1h0M519.6 225.2h0M517.5 228.3h0M519.9 227.7h0M517.9 223.9h0M518.1 225.3h0M519.5 227.1h0M519.1 226.5h0M516.6 227.1h0M516.2 224.2h0M517.8 223.2h0M519.1 224.5h0M519.6 228.1h0M516.1 226.3h0M519.3 225.3h0M518.4 226.2h0M519.3 227h0M517.8 237.9h0M517.3 225.6h0M516.8 227h0M516.4 226.1h0M518.4 230.9h0M520.5 222.7h0M517.6 226.6h0M517.3 226.5h0M516.1 224.9h0M516.9 225.7h0M520 225.6h0M520.6 224.9h0M518.4 225.7h0M518.8 227.8h0M519.7 225.5h0M516.5 226.3h0M519.1 224.7h0M519 225.8h0M520.1 229.1h0" stroke="#7fd4ae" stroke-width="0.95" stroke-linecap="round" fill="none" opacity="0.8"/>
<line x1="518.2" y1="224.8" x2="518.2" y2="227.4" stroke="#222" stroke-width="0.35"/>
<rect x="517.3" y="225.4" width="1.8" height="1.4" fill="#1a1a1a"/>
<path d="M528.2 224.1h0M527.1 225h0M527.3 226.1h0M527.3 223.2h0M530.8 226.9h0M531.3 226.1h0M531.8 223.7h0M527.6 221.4h0M530.3 227.8h0M528.6 229.3h0M527.8 227.8h0M527.4 225.3h0M527.2 223.5h0M528.8 224.2h0M531.5 229.3h0M529.7 226.3h0M530.4 225.1h0M529.5 224.2h0M527.7 224.3h0M527.7 229.7h0M530 224.7h0M531.4 226.2h0M530.6 224h0M530 224.1h0M529.8 225.3h0M529.7 225.3h0M531.1 224.7h0M528.1 227.4h0M528 230.1h0M528.3 226.9h0M531.7 227.5h0M529.4 224.6h0M531 227.2h0M531.7 227.3h0M530.6 225.4h0M529.3 228.1h0M529.2 228.5h0M527.6 224.2h0M531.8 225.2h0M530.2 229.1h0M527.2 229.3h0M529.9 224.2h0M528.5 226.3h0M531.4 228.1h0M527.7 229.3h0M527.1 226.1h0M527.1 227h0M529.9 231.3h0M528.8 227.4h0M527.6 225.9h0M531.6 226.7h0M531.5 225.1h0M530.8 224h0M531.4 228.2h0M530.3 225h0M531.6 226.2h0M529.6 225.3h0M528 223.7h0M531.7 226.5h0M527.2 227.1h0M527.6 225.5h0M527.2 225.9h0M529.7 226.9h0M531.1 228.3h0M527.1 227.9h0M530.9 229.4h0M527.4 224.9h0M527.1 225h0M527.2 228.7h0M528.3 224.4h0M530 226.1h0M530.1 226.2h0M530.2 229.5h0M527.3 232.5h0M531.6 224.7h0M527.4 226.6h0M531.7 224.8h0M529.7 229.6h0M531.4 225.3h0M531.2 227.5h0M531.7 228.8h0M531.4 224h0M529.5 224.2h0M528 227.4h0M529.8 228h0M530 226.9h0M530.5 228.6h0M531.2 227h0M529.3 226.4h0M531 226.8h0M530.8 228.3h0M531.3 222.8h0M530.4 229.8h0M529.2 226.6h0M529 225.5h0M527.6 225.6h0M530.2 225.2h0M530.5 233.2h0M530.9 227.3h0M529.6 227h0M529.7 225.9h0M527.7 225.2h0M530 228.4h0M530.2 227.3h0M531.6 227.3h0M531.4 229.8h0M531.8 227.5h0M529.9 227.8h0M530.1 226.4h0M528.9 228h0M531 227.4h0M531.8 224.5h0M529.6 225.4h0M530.4 225.5h0M530.2 222.5h0M530.2 226.4h0M530.4 226.8h0M531.5 223.5h0M529.9 227h0M527.7 227.4h0M529.6 222.8h0M528.8 227.1h0M529.6 228.1h0M529.7 229.7h0M530.5 223.4h0M528 221.9h0M528 223.1h0M527.7 226.9h0" stroke="#f0936b" stroke-width="0.95" stroke-linecap="round" fill="none" opacity="0.8"/>
<line x1="529.5" y1="225" x2="529.5" y2="227.6" stroke="#222" stroke-width="0.35"/>
<rect x="528.6" y="225.6" width="1.8" height="1.4" fill="#1a1a1a"/>
<path d="M538.2 226.3h0M542.8 225h0M541.7 224.1h0M538.6 227h0M539.3 226.7h0M542.5 227.3h0M538.6 227.8h0M541.4 224.4h0M541.6 223.8h0M540.7 235.2h0M539.7 226.1h0M541.4 227.9h0M538.6 230.7h0M542.5 228.2h0M539.2 227.4h0M538.4 224.5h0M539.2 226.1h0M542.5 224.1h0M542.1 221.5h0M539.5 226.7h0M538.8 228.3h0M540.5 226.5h0M541.4 225.4h0M541.2 225.6h0M542.5 224.4h0M542.2 227.6h0M542.5 226.9h0M538.2 225.4h0M541.3 221.4h0M540.2 225.4h0M539.2 227.7h0M539 227.3h0M542.7 226.2h0M540.2 227.8h0M540.3 226.3h0M542.4 226.3h0M539.1 226.3h0M538.9 226.3h0M541.7 227h0M542.1 228.3h0M539 226.2h0M542.9 225.2h0M538.2 227.3h0M541 222.4h0M541.9 228.4h0M542.7 227.6h0M539.8 226.9h0M538.7 223.3h0M541 228.3h0M539.6 223.9h0M538.3 222.6h0M540.6 227.6h0M540.8 224.6h0M540.4 226.3h0M541.1 224.5h0M541.4 225.1h0M539.6 224.2h0M541 226.8h0M542 225.2h0M540.4 227.6h0M539.5 228.4h0M540.4 225.4h0M539.5 226.6h0M540.3 224.8h0M538.8 223.8h0M539.1 227.7h0M538.4 222.1h0M540.7 225h0M540.8 224.6h0M540.7 222.6h0M540.4 225.6h0M539.5 225.8h0M540 226h0M541.3 226.8h0M541.5 226.3h0M541.9 228.7h0M539.6 226.5h0M539.3 224.5h0M539 225.8h0M541.2 226.2h0M538.2 224.9h0M540.4 224.1h0M540.5 225.5h0M538.3 222.4h0M541.5 223h0M542 225h0M540.4 226h0M541.9 224.8h0M538.2 224.5h0M538.7 228.5h0M538.8 227.5h0M538.8 230.2h0M540.6 224.2h0M542.4 228.2h0M542.4 226.9h0M542.4 226.9h0M539.9 228.7h0M542.6 228.9h0M540 225.3h0M538.8 225.6h0M541.8 234.5h0M541.6 229h0M541.4 223.6h0M542 223.7h0M538.3 225.9h0M538.6 224.2h0M541.8 227.3h0M540.3 227.8h0M541.9 224.1h0M542.2 223.4h0M538.2 223.9h0M540.8 228h0" stroke="#8ea6d9" stroke-width="0.95" stroke-linecap="round" fill="none" opacity="0.8"/>
<line x1="540.6" y1="224.6" x2="540.6" y2="227.2" stroke="#222" stroke-width="0.35"/>
<rect x="539.7" y="225.2" width="1.8" height="1.4" fill="#1a1a1a"/>
<path d="M550.5 223.4h0M551.1 230.1h0M551.5 226h0M550.6 229.4h0M550.7 228.3h0M550.1 226.6h0M549.9 225.5h0M549.8 224.5h0M552 228.6h0M549.6 229.1h0M549.6 223.4h0M549.8 227.6h0M551.6 222.8h0M550.3 228.7h0M551.6 228.1h0M550.5 230h0M552.3 231.5h0M550.1 228.8h0M551.3 229.2h0M552.6 237.5h0M549.9 228.6h0M550 227h0M550.1 230.9h0M550.6 230.2h0" stroke="#e78ad6" stroke-width="0.95" stroke-linecap="round" fill="none" opacity="0.8"/>
<line x1="551.3" y1="225.4" x2="551.3" y2="228" stroke="#222" stroke-width="0.35"/>
<rect x="550.4" y="226" width="1.8" height="1.4" fill="#1a1a1a"/>
<rect x="512.2" y="203.3" width="46" height="40" fill="none" stroke="#505050" stroke-width="0.7"/>
<text x="556.2" y="208.2" font-size="4.25" text-anchor="end" font-style="italic">CYP51A1</text>
<text x="556.2" y="241.3" font-size="4.14" text-anchor="end" font-style="italic">p = 0.025</text>
<text x="518.2" y="248.3" font-size="4.69" text-anchor="middle">1</text>
<text x="529.5" y="248.3" font-size="4.69" text-anchor="middle">2</text>
<text x="540.6" y="248.3" font-size="4.69" text-anchor="middle">4</text>
<text x="551.3" y="248.3" font-size="4.69" text-anchor="middle">5</text>
<text x="535.2" y="253.1" font-size="4.69" text-anchor="middle">Cogdx</text>
<rect x="568.2" y="203.3" width="46" height="40" fill="#fff"/>
<line x1="568.2" y1="210.5" x2="614.2" y2="210.5" stroke="#e6e6e6" stroke-width="0.35"/>
<text x="565.2" y="212.1" font-size="4.69" text-anchor="end">3</text>
<line x1="568.2" y1="221.1" x2="614.2" y2="221.1" stroke="#e6e6e6" stroke-width="0.35"/>
<text x="565.2" y="222.7" font-size="4.69" text-anchor="end">2</text>
<line x1="568.2" y1="231.2" x2="614.2" y2="231.2" stroke="#e6e6e6" stroke-width="0.35"/>
<text x="565.2" y="232.8" font-size="4.69" text-anchor="end">1</text>
<line x1="568.2" y1="241.5" x2="614.2" y2="241.5" stroke="#e6e6e6" stroke-width="0.35"/>
<text x="565.2" y="243.1" font-size="4.69" text-anchor="end">0</text>
<line x1="574.2" y1="203.3" x2="574.2" y2="243.3" stroke="#e6e6e6" stroke-width="0.35"/>
<line x1="585.5" y1="203.3" x2="585.5" y2="243.3" stroke="#e6e6e6" stroke-width="0.35"/>
<line x1="596.6" y1="203.3" x2="596.6" y2="243.3" stroke="#e6e6e6" stroke-width="0.35"/>
<line x1="607.3" y1="203.3" x2="607.3" y2="243.3" stroke="#e6e6e6" stroke-width="0.35"/>
<path d="M573.5 216.9h0M576.5 216.4h0M574.1 220.8h0M574.8 218.4h0M575 230.7h0M572.6 221.9h0M576.3 230.9h0M575.3 219.3h0M574.4 220.2h0M573.8 224.2h0M576.5 218.1h0M576.2 218.5h0M573.7 219.2h0M573.6 221.7h0M575.4 225h0M574.6 223.2h0M573.3 228h0M574.8 219.8h0M576.1 220.5h0M574.5 218.2h0M574.1 223.4h0M574 226.3h0M575.3 223.1h0M572.1 224.4h0M572.2 225.5h0M572.6 221.1h0M572.2 221.6h0M575.8 225.1h0M576.3 222.6h0M572.3 223.5h0M574.8 225.3h0M574.8 217.5h0M571.8 223.6h0M573.8 219.6h0M573.7 223.2h0M574.3 218.8h0M575 218.3h0M573 221.4h0M576.1 217.1h0M575.4 212.4h0M572.1 225.5h0M572.7 219.1h0M574.5 221.9h0M575.4 234.2h0M576.5 222h0M575.4 220.1h0M574.9 225.3h0M576 217h0M575.3 219h0M574.6 222.4h0M572.3 221.9h0M572 222.8h0M575.1 230.7h0M576.6 222.4h0M572.7 215.6h0M575.2 225.3h0M572.8 222h0M575.2 222.7h0M576.2 221.7h0M574.5 226.2h0M571.8 221.9h0M574.8 222.2h0M572.2 221.6h0M575.1 217.3h0M574.7 223.2h0M574.1 218.9h0M573.7 217.9h0M572.7 225.7h0M573.8 220.5h0M572.8 220.9h0M574.1 217.4h0M573.5 221.5h0M573.3 222h0M573.2 218.7h0M575 220.3h0M575.1 224.5h0M574.8 223.6h0M574.2 227h0M575.5 225.1h0M572.6 215.8h0M576.1 220.3h0M574.1 220.6h0M575.8 224h0M574.3 226.8h0M576.2 223.5h0M573.7 227.3h0M575.1 219.9h0M576 222.6h0M576.6 219.8h0M573.5 232.6h0M572.3 217.3h0M574.5 227.9h0M576.1 216.9h0M575.3 228h0M573.7 213.7h0M575.9 216.1h0M574 223.8h0M575.3 228.1h0M573.1 218h0M573.6 224h0M575.1 222.4h0M573.7 223.1h0M575.1 214.7h0M572.3 224.1h0M572.1 219.8h0M572 217.7h0M573.5 227.7h0M573.1 221.2h0M573.8 225.7h0M574.5 215h0M572.7 222.7h0M575.1 218.5h0M573.7 219.2h0M576.3 218.1h0M574.2 220.9h0M572.9 213.7h0M576.3 229.9h0M576 220.9h0M575.7 232h0M574.3 221.6h0M576.2 222.8h0M574.1 218.2h0M573.6 220.3h0M575.7 217.3h0M572.6 220.3h0M574.9 220h0M576.4 225.6h0M573.4 218.9h0M575.4 221.8h0M576.1 220.4h0M575.2 215.8h0M575.4 225.4h0M574.5 221.3h0M571.8 222h0M573.4 224.8h0M573.5 226.1h0" stroke="#7fd4ae" stroke-width="0.95" stroke-linecap="round" fill="none" opacity="0.8"/>
<line x1="574.2" y1="219.8" x2="574.2" y2="222.4" stroke="#222" stroke-width="0.35"/>
<rect x="573.3" y="220.4" width="1.8" height="1.4" fill="#1a1a1a"/>
<path d="M585.4 231.3h0M583.8 225.4h0M584.2 219.3h0M585 223.3h0M585.5 224.5h0M585.3 225.4h0M586 223.2h0M585.9 220.5h0M584.8 218.4h0M586.1 227.5h0M583.3 226.4h0M583.5 219.9h0M584.6 216.6h0M583.6 226.3h0M587.5 229.3h0M586.4 219.8h0M587.3 222.9h0M585 222.1h0M583.3 219.6h0M586.7 224.9h0M584.6 216.5h0M587.5 219.6h0M586.1 231.2h0M586.6 214.8h0M587.4 217.9h0M583.2 217.4h0M586.8 221.3h0M584.8 223.4h0M587.1 222.2h0M586.4 219.2h0M587.8 216.6h0M584 215.3h0M584.7 227.1h0M586.4 221.4h0M585.1 217.4h0M583.1 224.4h0M587.5 214h0M584.7 222.5h0M583.6 225.5h0M585.9 229.5h0M585.8 223.8h0M586.1 226.9h0M583.7 221.3h0M583.2 224.3h0M586.5 232.1h0M586.2 218.3h0M586.8 226.7h0M587.8 230h0M583.7 221.9h0M585.9 224.1h0M585.5 217.6h0M586.2 222.7h0M583.4 227.1h0M586.7 221.8h0M583.8 219h0M584.2 220.4h0M585.5 220.9h0M585.9 222.3h0M587.1 224.9h0M587.7 218.6h0M583.3 217.6h0M584.3 220.3h0M587.7 218.3h0M583.1 220.4h0M587.5 220.8h0M583.6 221.9h0M583.4 222.3h0M584 222.2h0M584.5 217.1h0M584.7 221.6h0M587.6 216.2h0M586.8 223.2h0M586.7 223.1h0M584.2 222h0M587.7 215.3h0M587.1 219.9h0M583.1 220.6h0M584.2 221.7h0M585.2 218h0M585.3 212.8h0M587.3 223.3h0M585.4 240.5h0M585.6 221.2h0M586.4 224.2h0M585.5 225.2h0M584.3 221.5h0M587.5 224.4h0M583.2 213.5h0M583.7 222.5h0M583.3 216.6h0M587.8 218.2h0M586 220.4h0M584.3 225.9h0M584.6 225.5h0M585 218.1h0M586.8 220.1h0M583.5 218.6h0M583.2 218.6h0M585.5 224.4h0M584.8 221.3h0M584.1 221.7h0M584.9 225.8h0M585.7 220h0M586.1 223.2h0M583.3 223.6h0M584.4 221.5h0M584.7 219.1h0M586.1 222.9h0M586.6 221.4h0M586.2 221.2h0M585.2 220.7h0M587 224.2h0M585.2 221h0M584 229h0M586.2 221.3h0M584.4 223.1h0M585.1 220.1h0M586.5 220.4h0M587.7 222.6h0M586.1 219.6h0M584.7 222.7h0M587.3 221.9h0M585.4 219.9h0M583.9 222.6h0M584.5 213.9h0M587.1 222.3h0M585.2 221.8h0M587.5 217h0" stroke="#f0936b" stroke-width="0.95" stroke-linecap="round" fill="none" opacity="0.8"/>
<line x1="585.5" y1="219.8" x2="585.5" y2="222.4" stroke="#222" stroke-width="0.35"/>
<rect x="584.6" y="220.4" width="1.8" height="1.4" fill="#1a1a1a"/>
<path d="M596.9 222.2h0M596.7 217.2h0M597 229h0M594.4 223.9h0M595.1 217.5h0M594.6 220.5h0M596.1 223.1h0M595.6 221.4h0M595.6 223.1h0M594.5 220h0M597.7 221.2h0M598.6 223.4h0M598.1 217.7h0M596.1 221.4h0M595.4 219.9h0M594.8 216.7h0M598.1 221h0M596.5 213.8h0M596.7 228.8h0M597.4 217.3h0M595 222.2h0M598.7 220h0M598.4 222.8h0M596.8 219.6h0M597.2 215.5h0M598.9 219.8h0M598.3 216.7h0M596.3 220.8h0M598.4 216.1h0M598.4 218h0M596.1 219h0M596.5 222.5h0M597.8 218.6h0M596.6 220.2h0M596.5 221.8h0M595.2 224.9h0M594.8 226.4h0M595.4 218h0M594.8 219.7h0M597.5 225.4h0M595.7 222.1h0M596.9 217.9h0M594.5 222.1h0M597.4 218.8h0M596.1 221.3h0M594.3 223.1h0M595.1 222.9h0M598 226.6h0M595.5 218.6h0M598 222.3h0M595 221.5h0M595.1 221.9h0M598.2 223.4h0M597.6 223.8h0M594.7 222.3h0M596.9 221.7h0M597.5 223.2h0M595.9 219.8h0M595.4 220.6h0M597 221h0M597.6 220.4h0M594.9 223.7h0M594.8 223.2h0M595.2 217.9h0M595.1 222.6h0M595 222.8h0M596.5 219.4h0M597.1 218.9h0M597.4 222.6h0M597.7 224.4h0M598.4 220.5h0M595.2 223.5h0M595.5 221.8h0M594.4 223.9h0M594.2 221.5h0M595.1 219h0M596.4 220h0M598.4 222.4h0M597.2 225.2h0M595.9 222.9h0M597.3 220h0M594.9 223h0M597.5 222.7h0M595.3 218.5h0M598.3 221h0M597.2 216.5h0M595.2 222.4h0M597.5 225.4h0M596.4 222.5h0M597.9 218.3h0M595.5 219.6h0M594.8 225.4h0M595.5 219.9h0M594.6 215.1h0M597.6 221.8h0M594.4 220h0M594.7 221.8h0M594.8 219.3h0M598 222.7h0M596.3 217.8h0M594.4 218.9h0M596.7 218.3h0M598.9 219h0M595.3 229.3h0M598.9 219.9h0M594.7 223.6h0M598 218h0M595.8 222.8h0M596.4 219h0M595.6 219.1h0M595.7 222.2h0M598.5 222h0" stroke="#8ea6d9" stroke-width="0.95" stroke-linecap="round" fill="none" opacity="0.8"/>
<line x1="596.6" y1="219.4" x2="596.6" y2="222" stroke="#222" stroke-width="0.35"/>
<rect x="595.7" y="220" width="1.8" height="1.4" fill="#1a1a1a"/>
<path d="M608.4 225.1h0M608.6 222.4h0M606.6 221.3h0M608 224.2h0M606.5 216.9h0M607.2 219h0M607.4 220.4h0M609.1 226.7h0M608.9 225.7h0M608.9 216.5h0M608.6 222.7h0M606.1 223h0M608.7 222.1h0M608.1 221.7h0M606.1 220.8h0M609.1 224.1h0M606.6 223.7h0M608.6 223.7h0M605.8 218.2h0M607.7 224.7h0M608.7 219.7h0M606.4 219h0M607.9 217.9h0M606.9 226.2h0" stroke="#e78ad6" stroke-width="0.95" stroke-linecap="round" fill="none" opacity="0.8"/>
<line x1="607.3" y1="220" x2="607.3" y2="222.6" stroke="#222" stroke-width="0.35"/>
<rect x="606.4" y="220.6" width="1.8" height="1.4" fill="#1a1a1a"/>
<rect x="568.2" y="203.3" width="46" height="40" fill="none" stroke="#505050" stroke-width="0.7"/>
<text x="612.2" y="208.2" font-size="4.25" text-anchor="end" font-style="italic">VLDLR</text>
<text x="612.2" y="241.3" font-size="4.14" text-anchor="end" font-style="italic">p = 0.92</text>
<text x="574.2" y="248.3" font-size="4.69" text-anchor="middle">1</text>
<text x="585.5" y="248.3" font-size="4.69" text-anchor="middle">2</text>
<text x="596.6" y="248.3" font-size="4.69" text-anchor="middle">4</text>
<text x="607.3" y="248.3" font-size="4.69" text-anchor="middle">5</text>
<text x="591.2" y="253.1" font-size="4.69" text-anchor="middle">Cogdx</text>
<rect x="624.2" y="203.3" width="46" height="40" fill="#fff"/>
<line x1="624.2" y1="212.9" x2="670.2" y2="212.9" stroke="#e6e6e6" stroke-width="0.35"/>
<text x="621.2" y="214.5" font-size="4.69" text-anchor="end">6</text>
<line x1="624.2" y1="224.2" x2="670.2" y2="224.2" stroke="#e6e6e6" stroke-width="0.35"/>
<text x="621.2" y="225.8" font-size="4.69" text-anchor="end">5</text>
<line x1="624.2" y1="235.7" x2="670.2" y2="235.7" stroke="#e6e6e6" stroke-width="0.35"/>
<text x="621.2" y="237.3" font-size="4.69" text-anchor="end">4</text>
<line x1="630.2" y1="203.3" x2="630.2" y2="243.3" stroke="#e6e6e6" stroke-width="0.35"/>
<line x1="641.5" y1="203.3" x2="641.5" y2="243.3" stroke="#e6e6e6" stroke-width="0.35"/>
<line x1="652.6" y1="203.3" x2="652.6" y2="243.3" stroke="#e6e6e6" stroke-width="0.35"/>
<line x1="663.3" y1="203.3" x2="663.3" y2="243.3" stroke="#e6e6e6" stroke-width="0.35"/>
<path d="M631.7 218.7h0M628.2 217.4h0M632.4 217.9h0M628 217.4h0M631.8 219.5h0M628.3 221.5h0M631.1 217.8h0M632.2 221.5h0M628.6 218.2h0M628.5 215.9h0M632.5 218.7h0M628 220.1h0M628.8 220.6h0M632.4 222.3h0M629.7 215h0M631.7 223.7h0M632.2 213.5h0M631 218.1h0M632.5 214.2h0M631.6 217.4h0M627.9 219.8h0M628.5 212.2h0M631.2 216.5h0M628.1 219.7h0M629.6 217.9h0M629.9 220.2h0M628.9 215.6h0M628.6 216.6h0M630.8 215.4h0M629.5 220h0M629.6 217.7h0M627.9 218.5h0M632.4 217h0M631.2 217.4h0M630.5 221.1h0M629.9 214.3h0M628.5 217.2h0M631.9 219.9h0M630 214.1h0M630.6 218.9h0M631.8 217.2h0M631.2 218.7h0M630 210h0M632.6 217.8h0M630 216.7h0M631.5 220.1h0M629.6 219.8h0M631.7 217.7h0M632.2 216.6h0M629.1 212.9h0M631.5 216.7h0M627.9 219.9h0M628.2 216.1h0M629.9 219.1h0M628.9 222.7h0M632.2 217.7h0M630.7 220.1h0M630.3 225.1h0M630.9 222.2h0M631.4 219.5h0M629.3 219.6h0M631.8 218.1h0M629.3 213h0M630 217.8h0M631.4 218.5h0M632.4 217.6h0M631.8 215.1h0M629.1 215.6h0M632.3 217.6h0M629.1 214.5h0M628.8 216.7h0M631.6 218h0M628.5 221.7h0M632.5 217h0M627.8 212.9h0M629.6 218.8h0M631.7 218.2h0M632.6 216h0M629.4 217h0M631.8 213.2h0M630.4 217.5h0M628.1 217.6h0M631.6 216.2h0M628.5 217.2h0M629.6 220.1h0M629.3 217.4h0M632.6 213.7h0M629.9 212.7h0M628 216h0M630.8 219h0M628.4 217.6h0M627.9 216.9h0M631.3 216.3h0M631.7 213.9h0M630.3 218.2h0M629.7 213.1h0M627.8 217.2h0M630 218.6h0M632 221.3h0M628.9 216.5h0M632.2 213.3h0M630.2 217.6h0M629.1 217.5h0M632.1 224h0M630 217.9h0M628.3 218.6h0M630.8 217.2h0M628.6 220.3h0M630.3 215.4h0M629 216h0M630.5 220h0M628.3 215.1h0M632.2 221.4h0M630.6 217.4h0M629.1 215.9h0M628.9 219.8h0M630.5 217.7h0M628.8 219.6h0M628.9 222.5h0M627.8 221.7h0M632.2 219.1h0M627.9 221.3h0M629.7 220.3h0M630.8 215.3h0M628.4 215.4h0M631.4 217h0M628.6 218.7h0M627.9 217.8h0M630.4 215h0M629 214.1h0M631.4 218.1h0M630.7 215.2h0M629 216.5h0M631.7 217.5h0M630 217.1h0M629.5 217.9h0" stroke="#7fd4ae" stroke-width="0.95" stroke-linecap="round" fill="none" opacity="0.8"/>
<line x1="630.2" y1="216" x2="630.2" y2="218.6" stroke="#222" stroke-width="0.35"/>
<rect x="629.3" y="216.6" width="1.8" height="1.4" fill="#1a1a1a"/>
<path d="M640.1 217.7h0M639.7 216.2h0M642.6 217.1h0M640.8 214.7h0M641.3 214.3h0M642.6 218.2h0M641.7 216.5h0M640.3 217.3h0M642.5 214.9h0M640.5 216.1h0M641.6 219.2h0M642.3 216.8h0M642.4 217.1h0M642.5 218.4h0M641.7 217.4h0M640.7 216.3h0M639.6 219.3h0M642.7 220.7h0M643.3 215.8h0M640.5 221.5h0M643 213.6h0M643.7 217.9h0M640.4 218.7h0M640.8 225.3h0M642.1 214.8h0M641.7 216.1h0M639.1 217.7h0M640.7 218.5h0M639.3 212.4h0M641.7 214.9h0M642.8 216.3h0M642.9 213.8h0M641.6 218.2h0M642.5 221.2h0M641.8 215.9h0M639.3 219.5h0M641.5 214.5h0M639.6 216.1h0M641.9 212.8h0M643.5 221.3h0M641.3 213.7h0M639.3 215.3h0M642.1 215.1h0M643.2 215.4h0M640.5 217.2h0M640.2 215.2h0M639.8 215.9h0M642.9 218h0M641.4 214.5h0M643.5 224.2h0M643.8 217.8h0M640.9 217.4h0M643.6 217.5h0M643.8 215.3h0M642.4 217.8h0M640.1 220.2h0M642.1 217.2h0M642 211.3h0M640.1 215.6h0M639.3 214.5h0M641.8 213.6h0M641.8 220h0M641.4 217.8h0M639.7 217.6h0M642 218.7h0M639.2 217.3h0M641 212.4h0M640.1 213.6h0M641.4 210.1h0M641.2 216.5h0M642.3 218.8h0M643.5 214.5h0M642.5 214.1h0M642.4 213.9h0M639.9 221.1h0M643.7 215.1h0M643.3 214h0M642.6 217.5h0M640.5 213h0M643 219.4h0M641.2 220.8h0M643.2 219.2h0M641.3 217.4h0M640.1 216.7h0M643 214h0M642.8 212.8h0M642 219.7h0M642.5 215.5h0M642.8 211.4h0M641.4 217.2h0M642.9 220.6h0M640.3 218.3h0M639.1 217h0M639.4 214.7h0M639.3 218.6h0M641.6 225.6h0M640.4 216.2h0M643.7 217.4h0M642.9 213.2h0M643.8 219.4h0M643.4 217h0M643.2 213.8h0M640.4 214.3h0M640.1 216.2h0M642 217.1h0M640.8 214.6h0M643.2 221.7h0M642.6 221.8h0M640.2 219.8h0M640.9 222.3h0M639.8 218.5h0M640.5 217.1h0M643.6 217.5h0M643.7 214.6h0M643.5 214.8h0M640.2 214.5h0M643.4 217.3h0M640.4 220.2h0M639.4 217.3h0M641.2 214.6h0M641.1 220.4h0M643.5 217.8h0M639.5 220.3h0M639.5 213.3h0M639.5 215.6h0M641.6 218.3h0M642.8 213.4h0M642.3 216.7h0" stroke="#f0936b" stroke-width="0.95" stroke-linecap="round" fill="none" opacity="0.8"/>
<line x1="641.5" y1="215.2" x2="641.5" y2="217.8" stroke="#222" stroke-width="0.35"/>
<rect x="640.6" y="215.8" width="1.8" height="1.4" fill="#1a1a1a"/>
<path d="M653.9 221.8h0M651.4 215.1h0M654.5 215.9h0M652.2 217.4h0M653.2 217.1h0M653.9 218.9h0M652.2 218.9h0M653.9 219.2h0M650.4 221h0M653.1 216h0M650.9 217.9h0M650.6 215.2h0M653.3 218.2h0M653.4 216.4h0M651.5 217.8h0M653.5 217.1h0M654.1 219.7h0M652.6 217.3h0M651.7 213.2h0M653 218.6h0M651.2 223.6h0M653 224h0M652.8 221.2h0M651.4 222.5h0M652.6 213.6h0M652.7 216.5h0M653.4 218.2h0M653 222.9h0M650.7 216.5h0M652.2 213.5h0M654.5 216.9h0M653.2 220.3h0M651.1 219.9h0M652.7 219.2h0M654.5 218.4h0M653.7 216.3h0M652 213h0M651.8 218h0M652.1 217.6h0M653.8 220.5h0M654.8 216.7h0M653.5 214h0M654.3 218.7h0M653.8 220.7h0M652.1 213.9h0M650.9 214.2h0M651.5 220.2h0M650.5 218.7h0M652.9 217.8h0M653.1 214.2h0M652.8 214h0M652.2 216h0M654.6 216.5h0M653 215.5h0M654.8 212.4h0M652.4 220h0M653.1 220.7h0M650.3 226.2h0M652.4 215.8h0M650.2 218.7h0M652.6 217.7h0M653 215.6h0M650.3 215.1h0M653.7 218.9h0M653.6 217.9h0M651 216.9h0M654 216.9h0M653.1 219.1h0M650.4 220h0M654.3 221.6h0M652.2 215.2h0M651.4 221.4h0M650.2 217.6h0M651.3 216.1h0M651.7 216.9h0M654.6 216.7h0M651.3 216.3h0M654.8 217.5h0M654.1 214.4h0M650.3 212.5h0M653.4 218.6h0M655 215.7h0M650.9 218.1h0M651.5 217.3h0M652.4 218.3h0M653.1 220.1h0M652.5 215.3h0M651.5 215.7h0M652.4 217.2h0M650.4 218.8h0M652.4 220h0M652.6 215.5h0M653.7 217.7h0M652 215.1h0M653.2 211.6h0M651.9 218h0M652.6 214.7h0M654.4 216.6h0M653.9 222.1h0M654.7 216.6h0M652 220h0M651.7 218.2h0M651.3 213.7h0M650.2 221.7h0M652 215.2h0M652.5 216.2h0M651.8 216.1h0M654.7 219.4h0M654.8 218.1h0M650.5 215.4h0M653 216.3h0M651.2 215.6h0" stroke="#8ea6d9" stroke-width="0.95" stroke-linecap="round" fill="none" opacity="0.8"/>
<line x1="652.6" y1="215.4" x2="652.6" y2="218" stroke="#222" stroke-width="0.35"/>
<rect x="651.7" y="216" width="1.8" height="1.4" fill="#1a1a1a"/>
<path d="M662.6 211.8h0M664.9 212.9h0M661.8 215.3h0M663.3 212.4h0M664.9 216.1h0M662 212.5h0M665.1 219.5h0M662.4 213.2h0M663.8 212.7h0M664.1 215.3h0M662.3 216.2h0M661.8 214.5h0M661.7 219.3h0M664.9 217h0M663.8 217.3h0M662.2 216.7h0M664.9 221.3h0M663.4 218.1h0M662.4 218.9h0M664.6 214.2h0M662.9 214.4h0M663.3 217.1h0M662 217.7h0M662.9 216.5h0" stroke="#e78ad6" stroke-width="0.95" stroke-linecap="round" fill="none" opacity="0.8"/>
<line x1="663.3" y1="214.8" x2="663.3" y2="217.4" stroke="#222" stroke-width="0.35"/>
<rect x="662.4" y="215.4" width="1.8" height="1.4" fill="#1a1a1a"/>
<rect x="624.2" y="203.3" width="46" height="40" fill="none" stroke="#505050" stroke-width="0.7"/>
<text x="668.2" y="208.2" font-size="4.25" text-anchor="end" font-style="italic">LRP1</text>
<text x="668.2" y="241.3" font-size="4.14" text-anchor="end" font-style="italic">p = 0.79</text>
<text x="630.2" y="248.3" font-size="4.69" text-anchor="middle">1</text>
<text x="641.5" y="248.3" font-size="4.69" text-anchor="middle">2</text>
<text x="652.6" y="248.3" font-size="4.69" text-anchor="middle">4</text>
<text x="663.3" y="248.3" font-size="4.69" text-anchor="middle">5</text>
<text x="647.2" y="253.1" font-size="4.69" text-anchor="middle">Cogdx</text>
<text x="355.6" y="268.6" font-size="9.8" font-weight="bold" style="stroke:none">h</text>
<rect x="379.3" y="263.4" width="3.5" height="3.5" fill="#ee1c1c"/>
<text x="384.1" y="266.9" font-size="4.91" textLength="14" lengthAdjust="spacingAndGlyphs">Vehicle</text>
<rect x="400.5" y="263.4" width="3.5" height="3.5" fill="#1414e6"/>
<text x="405" y="266.9" font-size="4.82" textLength="32.4" lengthAdjust="spacingAndGlyphs">Oestradiol (E2)</text>
<rect x="442.3" y="263.4" width="3.5" height="3.5" fill="#ee66e6" stroke="#333" stroke-width="0.25"/>
<text x="446.8" y="266.7" font-size="4.39" textLength="46" lengthAdjust="spacingAndGlyphs">E2 + Mifepristone (MIF)</text>
<rect x="497.4" y="263.4" width="3.5" height="3.5" fill="#dfc25e" stroke="#333" stroke-width="0.25"/>
<text x="502.3" y="266.8" font-size="4.43" textLength="46.7" lengthAdjust="spacingAndGlyphs">E2 + Progesterone (P4)</text>
<text x="384.8" y="273.2" font-size="3.71" class="s" font-style="italic" textLength="81" lengthAdjust="spacingAndGlyphs">Treatment effect (For all metabolites except G6P)</text>
<text x="384.8" y="277.4" font-size="3.57" class="s" font-style="italic" textLength="37.5" lengthAdjust="spacingAndGlyphs">E2 vs. Vehicle, p &lt; 0.01</text>
<text x="384.8" y="281.7" font-size="3.75" class="s" font-style="italic" textLength="44.5" lengthAdjust="spacingAndGlyphs">E2+MIF vs. E2, p &lt; 0.0007</text>
<text x="384.8" y="285.8" font-size="3.69" class="s" font-style="italic" textLength="38" lengthAdjust="spacingAndGlyphs">E2+P4 vs. E2, p &lt; 0.03</text>
<text x="469" y="273.2" font-size="3.85" class="s" font-style="italic" textLength="90" lengthAdjust="spacingAndGlyphs">Treatment effect (Pdha1, Dhcr24, Cyp51, Lrp1, Vldlr)</text>
<text x="469" y="277.5" font-size="3.8" class="s" font-style="italic" textLength="42" lengthAdjust="spacingAndGlyphs">E2 vs. Vehicle, p &lt; 0.023</text>
<text x="469" y="281.7" font-size="3.83" class="s" font-style="italic" textLength="45.5" lengthAdjust="spacingAndGlyphs">E2+MIF vs. E2, p &lt; 0.0009</text>
<text x="469" y="285.8" font-size="3.78" class="s" font-style="italic" textLength="41" lengthAdjust="spacingAndGlyphs">E2+P4 vs. E2, p &lt; 0.004</text>
<rect x="409.8" y="348.8" width="2.3" height="7.9" fill="#ee1c1c"/>
<line x1="410.9" y1="347.6" x2="410.9" y2="349.5" stroke="#222" stroke-width="0.3"/>
<line x1="410.1" y1="347.6" x2="411.8" y2="347.6" stroke="#222" stroke-width="0.35"/>
<path d="M410.8 347.6h0M411.4 347.2h0M411 349.7h0M410.4 348.8h0M411.1 347.3h0" stroke="#111" stroke-width="1.0" stroke-linecap="round" fill="none"/>
<rect x="412.1" y="344.6" width="2.3" height="12.11" fill="#1414e6"/>
<line x1="413.2" y1="342.8" x2="413.2" y2="345.6" stroke="#222" stroke-width="0.3"/>
<line x1="412.4" y1="342.8" x2="414.1" y2="342.8" stroke="#222" stroke-width="0.35"/>
<path d="M413.5 344.1h0M413.5 342.9h0M412.9 342.7h0M413.3 346h0M413.4 345.4h0" stroke="#111" stroke-width="1.0" stroke-linecap="round" fill="none"/>
<rect x="414.4" y="351.4" width="2.3" height="5.27" fill="#ee66e6"/>
<line x1="415.6" y1="350.7" x2="415.6" y2="351.9" stroke="#222" stroke-width="0.3"/>
<line x1="414.8" y1="350.7" x2="416.4" y2="350.7" stroke="#222" stroke-width="0.35"/>
<path d="M415.9 350.6h0M415.3 351.6h0M415.8 351.2h0M415 350.9h0M415.2 350.9h0" stroke="#111" stroke-width="1.0" stroke-linecap="round" fill="none"/>
<rect x="416.7" y="337.7" width="2.3" height="18.96" fill="#dfc25e"/>
<line x1="417.8" y1="334" x2="417.8" y2="340" stroke="#222" stroke-width="0.3"/>
<line x1="417" y1="334" x2="418.6" y2="334" stroke="#222" stroke-width="0.35"/>
<path d="M417.5 340.5h0M418.3 333.4h0M417.7 337.1h0M417.2 336.5h0M418.4 333.8h0" stroke="#111" stroke-width="1.0" stroke-linecap="round" fill="none"/>
<rect x="420.1" y="347.2" width="2.3" height="9.48" fill="#ee1c1c"/>
<line x1="421.2" y1="345.6" x2="421.2" y2="348.2" stroke="#222" stroke-width="0.3"/>
<line x1="420.4" y1="345.6" x2="422" y2="345.6" stroke="#222" stroke-width="0.35"/>
<path d="M420.7 347.3h0M421.7 345.9h0M420.6 345.4h0M421.3 345.2h0M420.7 347h0" stroke="#111" stroke-width="1.0" stroke-linecap="round" fill="none"/>
<rect x="422.4" y="332.5" width="2.3" height="24.23" fill="#1414e6"/>
<line x1="423.5" y1="327.4" x2="423.5" y2="335.5" stroke="#222" stroke-width="0.3"/>
<line x1="422.7" y1="327.4" x2="424.3" y2="327.4" stroke="#222" stroke-width="0.35"/>
<path d="M423.4 330.5h0M423.7 326.9h0M423.6 327.9h0M423.6 337.1h0M422.9 332.4h0" stroke="#111" stroke-width="1.0" stroke-linecap="round" fill="none"/>
<rect x="424.7" y="351.4" width="2.3" height="5.27" fill="#ee66e6"/>
<line x1="425.8" y1="350.5" x2="425.8" y2="352" stroke="#222" stroke-width="0.3"/>
<line x1="425" y1="350.5" x2="426.6" y2="350.5" stroke="#222" stroke-width="0.35"/>
<path d="M425.4 350.8h0M426.4 352.3h0M425.3 351.7h0M426.4 350.7h0M425.9 350.3h0" stroke="#111" stroke-width="1.0" stroke-linecap="round" fill="none"/>
<rect x="426.9" y="306.1" width="2.3" height="50.56" fill="#dfc25e"/>
<line x1="428.1" y1="298.9" x2="428.1" y2="310.5" stroke="#222" stroke-width="0.3"/>
<line x1="427.3" y1="298.9" x2="428.9" y2="298.9" stroke="#222" stroke-width="0.35"/>
<path d="M428.3 306.6h0M428.4 298.1h0M427.9 311.1h0M428.2 304.2h0M428 313.2h0" stroke="#111" stroke-width="1.0" stroke-linecap="round" fill="none"/>
<rect x="430.3" y="348.3" width="2.3" height="8.43" fill="#ee1c1c"/>
<line x1="431.4" y1="346.8" x2="431.4" y2="349.1" stroke="#222" stroke-width="0.3"/>
<line x1="430.6" y1="346.8" x2="432.2" y2="346.8" stroke="#222" stroke-width="0.35"/>
<path d="M430.8 349h0M431.2 347.8h0M431.1 347.9h0M431.2 346.7h0M431.6 346.8h0" stroke="#111" stroke-width="1.0" stroke-linecap="round" fill="none"/>
<rect x="432.6" y="343" width="2.3" height="13.69" fill="#1414e6"/>
<line x1="433.8" y1="340.3" x2="433.8" y2="344.6" stroke="#222" stroke-width="0.3"/>
<line x1="432.9" y1="340.3" x2="434.6" y2="340.3" stroke="#222" stroke-width="0.35"/>
<path d="M433.1 344.3h0M434.1 342.6h0M434 341.1h0M434.1 342.1h0M433.4 345.4h0" stroke="#111" stroke-width="1.0" stroke-linecap="round" fill="none"/>
<rect x="434.9" y="353.5" width="2.3" height="3.16" fill="#ee66e6"/>
<line x1="436.1" y1="352.9" x2="436.1" y2="353.9" stroke="#222" stroke-width="0.3"/>
<line x1="435.2" y1="352.9" x2="436.9" y2="352.9" stroke="#222" stroke-width="0.35"/>
<path d="M435.9 353.9h0M435.9 353.7h0M435.6 353.9h0M435.7 352.8h0M436.7 353h0" stroke="#111" stroke-width="1.0" stroke-linecap="round" fill="none"/>
<rect x="437.2" y="324" width="2.3" height="32.65" fill="#dfc25e"/>
<line x1="438.3" y1="317.1" x2="438.3" y2="328.2" stroke="#222" stroke-width="0.3"/>
<line x1="437.5" y1="317.1" x2="439.1" y2="317.1" stroke="#222" stroke-width="0.35"/>
<path d="M439 324.7h0M437.7 316h0M438 321.2h0M438.5 330.5h0M438.2 317.2h0" stroke="#111" stroke-width="1.0" stroke-linecap="round" fill="none"/>
<rect x="440.6" y="348.8" width="2.3" height="7.9" fill="#ee1c1c"/>
<line x1="441.7" y1="347.5" x2="441.7" y2="349.6" stroke="#222" stroke-width="0.3"/>
<line x1="440.9" y1="347.5" x2="442.5" y2="347.5" stroke="#222" stroke-width="0.35"/>
<path d="M441.2 347.3h0M441.8 349.2h0M441.2 348.5h0M442 349.4h0M441.6 349.8h0" stroke="#111" stroke-width="1.0" stroke-linecap="round" fill="none"/>
<rect x="442.9" y="334.6" width="2.3" height="22.12" fill="#1414e6"/>
<line x1="444" y1="331.9" x2="444" y2="336.2" stroke="#222" stroke-width="0.3"/>
<line x1="443.2" y1="331.9" x2="444.8" y2="331.9" stroke="#222" stroke-width="0.35"/>
<path d="M444.3 335.8h0M444.5 334.1h0M443.5 331.4h0M444 332.2h0M444.2 331.6h0" stroke="#111" stroke-width="1.0" stroke-linecap="round" fill="none"/>
<rect x="445.2" y="351.4" width="2.3" height="5.27" fill="#ee66e6"/>
<line x1="446.3" y1="350.4" x2="446.3" y2="352" stroke="#222" stroke-width="0.3"/>
<line x1="445.5" y1="350.4" x2="447.1" y2="350.4" stroke="#222" stroke-width="0.35"/>
<path d="M445.9 350.1h0M445.9 351.2h0M446.4 351h0M445.9 351.2h0M446.9 351.4h0" stroke="#111" stroke-width="1.0" stroke-linecap="round" fill="none"/>
<rect x="447.4" y="323" width="2.3" height="33.71" fill="#dfc25e"/>
<line x1="448.6" y1="315.8" x2="448.6" y2="327.3" stroke="#222" stroke-width="0.3"/>
<line x1="447.8" y1="315.8" x2="449.4" y2="315.8" stroke="#222" stroke-width="0.35"/>
<path d="M448 330.1h0M449.1 322.6h0M448.6 322.5h0M449.1 314.7h0M448.8 322.6h0" stroke="#111" stroke-width="1.0" stroke-linecap="round" fill="none"/>
<rect x="450.8" y="339.3" width="2.3" height="17.38" fill="#ee1c1c"/>
<line x1="451.9" y1="337" x2="451.9" y2="340.7" stroke="#222" stroke-width="0.3"/>
<line x1="451.1" y1="337" x2="452.8" y2="337" stroke="#222" stroke-width="0.35"/>
<path d="M452.2 340.2h0M451.4 340.1h0M451.9 338.9h0M452.1 336.5h0M452.1 338.3h0" stroke="#111" stroke-width="1.0" stroke-linecap="round" fill="none"/>
<rect x="453.1" y="325.6" width="2.3" height="31.07" fill="#1414e6"/>
<line x1="454.2" y1="319.2" x2="454.2" y2="329.5" stroke="#222" stroke-width="0.3"/>
<line x1="453.4" y1="319.2" x2="455.1" y2="319.2" stroke="#222" stroke-width="0.35"/>
<path d="M453.9 329.4h0M454.5 326.5h0M454.7 317.9h0M454.4 326.3h0M454.5 323.3h0" stroke="#111" stroke-width="1.0" stroke-linecap="round" fill="none"/>
<rect x="455.4" y="355.4" width="2.3" height="1.26" fill="#ee66e6"/>
<line x1="456.6" y1="354.8" x2="456.6" y2="355.8" stroke="#222" stroke-width="0.3"/>
<line x1="455.8" y1="354.8" x2="457.4" y2="354.8" stroke="#222" stroke-width="0.35"/>
<path d="M456.2 355.5h0M456.1 354.7h0M456.4 355.3h0M456.6 354.7h0M456.9 355.1h0" stroke="#111" stroke-width="1.0" stroke-linecap="round" fill="none"/>
<rect x="457.7" y="319.8" width="2.3" height="36.87" fill="#dfc25e"/>
<line x1="458.8" y1="312.7" x2="458.8" y2="324.1" stroke="#222" stroke-width="0.3"/>
<line x1="458" y1="312.7" x2="459.6" y2="312.7" stroke="#222" stroke-width="0.35"/>
<path d="M458.2 326.2h0M459 326.6h0M459.5 324.2h0M458.4 316.3h0M458.5 323.4h0" stroke="#111" stroke-width="1.0" stroke-linecap="round" fill="none"/>
<rect x="461.1" y="349.9" width="2.3" height="6.85" fill="#ee1c1c"/>
<line x1="462.2" y1="349" x2="462.2" y2="350.4" stroke="#222" stroke-width="0.3"/>
<line x1="461.4" y1="349" x2="463" y2="349" stroke="#222" stroke-width="0.35"/>
<path d="M461.8 349h0M461.7 350.6h0M462.8 349.5h0M462.5 349.7h0M462.2 349.5h0" stroke="#111" stroke-width="1.0" stroke-linecap="round" fill="none"/>
<rect x="463.4" y="338.3" width="2.3" height="18.43" fill="#1414e6"/>
<line x1="464.5" y1="335" x2="464.5" y2="340.2" stroke="#222" stroke-width="0.3"/>
<line x1="463.7" y1="335" x2="465.3" y2="335" stroke="#222" stroke-width="0.35"/>
<path d="M464.2 336h0M464.5 335.5h0M464.4 341.1h0M463.9 334.8h0M464.9 334.5h0" stroke="#111" stroke-width="1.0" stroke-linecap="round" fill="none"/>
<rect x="465.7" y="356.1" width="2.3" height="0.63" fill="#ee66e6"/>
<line x1="466.8" y1="355.5" x2="466.8" y2="356.4" stroke="#222" stroke-width="0.3"/>
<line x1="466" y1="355.5" x2="467.6" y2="355.5" stroke="#222" stroke-width="0.35"/>
<path d="M467.2 356.1h0M466.4 355.4h0M466.5 355.7h0M467.2 356.6h0M467.2 356.5h0" stroke="#111" stroke-width="1.0" stroke-linecap="round" fill="none"/>
<rect x="467.9" y="328.3" width="2.3" height="28.44" fill="#dfc25e"/>
<line x1="469.1" y1="322.2" x2="469.1" y2="331.9" stroke="#222" stroke-width="0.3"/>
<line x1="468.3" y1="322.2" x2="469.9" y2="322.2" stroke="#222" stroke-width="0.35"/>
<path d="M469.6 333.2h0M469.7 321.7h0M468.9 323.9h0M469.2 327.2h0M468.9 332h0" stroke="#111" stroke-width="1.0" stroke-linecap="round" fill="none"/>
<line x1="408.1" y1="293" x2="408.1" y2="356.7" stroke="#000" stroke-width="0.5"/>
<line x1="408.1" y1="356.7" x2="471.7" y2="356.7" stroke="#000" stroke-width="0.5"/>
<line x1="406.8" y1="356.7" x2="408.1" y2="356.7" stroke="#000" stroke-width="0.4"/>
<text x="406.1" y="358.4" font-size="4.8" text-anchor="end">0</text>
<line x1="406.8" y1="335.6" x2="408.1" y2="335.6" stroke="#000" stroke-width="0.4"/>
<text x="406.1" y="337.3" font-size="4.8" text-anchor="end">2</text>
<line x1="406.8" y1="314.6" x2="408.1" y2="314.6" stroke="#000" stroke-width="0.4"/>
<text x="406.1" y="316.2" font-size="4.8" text-anchor="end">4</text>
<line x1="406.8" y1="293.5" x2="408.1" y2="293.5" stroke="#000" stroke-width="0.4"/>
<text x="406.1" y="295.2" font-size="4.8" text-anchor="end">6</text>
<text x="397.6" y="326.7" font-size="4.5" text-anchor="middle" textLength="66" lengthAdjust="spacingAndGlyphs" transform="rotate(-90 397.6 325.1)">Relative fold change (vs. vehicle)</text>
<text x="416.8" y="362.9" font-size="4.8" text-anchor="end" transform="rotate(-48 416.8 361.2)">G6P</text>
<text x="427.1" y="362.9" font-size="4.8" text-anchor="end" transform="rotate(-48 427.1 361.2)">Pyruvate</text>
<text x="437.3" y="362.9" font-size="4.8" text-anchor="end" transform="rotate(-48 437.3 361.2)">Acetyl-CoA</text>
<text x="447.6" y="362.9" font-size="4.8" text-anchor="end" transform="rotate(-48 447.6 361.2)">Acetoacetyl-CoA</text>
<text x="457.8" y="362.9" font-size="4.8" text-anchor="end" transform="rotate(-48 457.8 361.2)">Mevalonic acid</text>
<text x="468.1" y="362.9" font-size="4.8" text-anchor="end" transform="rotate(-48 468.1 361.2)">Cholesterol</text>
<text x="414.2" y="331.1" font-size="3.27" text-anchor="middle" class="s">–ns–</text>
<text x="417.4" y="383.5" font-size="4.74" text-anchor="end" textLength="34.8" lengthAdjust="spacingAndGlyphs">Primary neruons</text>
<text x="417.4" y="388.8" font-size="4.84" text-anchor="end" textLength="55" lengthAdjust="spacingAndGlyphs">(Treatment for 120 hours)</text>
<rect x="495.6" y="351.4" width="2" height="5.27" fill="#ee1c1c"/>
<line x1="496.6" y1="350.7" x2="496.6" y2="351.9" stroke="#222" stroke-width="0.3"/>
<line x1="495.8" y1="350.7" x2="497.4" y2="350.7" stroke="#222" stroke-width="0.35"/>
<path d="M496.3 349.5h0M496.6 350.7h0M496.7 350.1h0M496.3 349.9h0M496.4 349.1h0M496.6 349.1h0M496.8 350.9h0" stroke="#111" stroke-width="1.05" stroke-linecap="round" fill="none"/>
<rect x="497.6" y="351.4" width="2" height="5.27" fill="#1414e6"/>
<line x1="498.6" y1="350.8" x2="498.6" y2="351.8" stroke="#222" stroke-width="0.3"/>
<line x1="497.8" y1="350.8" x2="499.4" y2="350.8" stroke="#222" stroke-width="0.35"/>
<path d="M498.7 349.8h0M498.5 350.7h0M498.9 351.6h0M498.9 349.4h0M498.6 349.8h0M498.1 350.5h0M498.6 351.6h0" stroke="#111" stroke-width="1.05" stroke-linecap="round" fill="none"/>
<rect x="499.6" y="352" width="2" height="4.74" fill="#ee66e6"/>
<line x1="500.6" y1="351.3" x2="500.6" y2="352.4" stroke="#222" stroke-width="0.3"/>
<line x1="499.8" y1="351.3" x2="501.4" y2="351.3" stroke="#222" stroke-width="0.35"/>
<path d="M501 350.9h0M500.2 351.6h0M500.4 351h0M500.1 349.1h0M501.1 349.3h0M500.2 349.7h0M500.2 352h0" stroke="#111" stroke-width="1.05" stroke-linecap="round" fill="none"/>
<rect x="501.6" y="351.4" width="2" height="5.27" fill="#dfc25e"/>
<line x1="502.6" y1="350.3" x2="502.6" y2="352.1" stroke="#222" stroke-width="0.3"/>
<line x1="501.8" y1="350.3" x2="503.4" y2="350.3" stroke="#222" stroke-width="0.35"/>
<path d="M502.8 349.8h0M503 350.3h0M502.2 351.1h0M502.4 349.2h0M502.4 349.7h0M502.3 350.8h0M503 350.6h0" stroke="#111" stroke-width="1.05" stroke-linecap="round" fill="none"/>
<rect x="504.5" y="352.5" width="2" height="4.21" fill="#ee1c1c"/>
<line x1="505.5" y1="351.9" x2="505.5" y2="352.8" stroke="#222" stroke-width="0.3"/>
<line x1="504.7" y1="351.9" x2="506.3" y2="351.9" stroke="#222" stroke-width="0.35"/>
<path d="M505.7 349.8h0M505.5 352.6h0M505.7 352.8h0M505.8 350.6h0M505.1 351.2h0M505.7 350.5h0M505.3 352.2h0" stroke="#111" stroke-width="1.05" stroke-linecap="round" fill="none"/>
<rect x="506.5" y="334.1" width="2" height="22.65" fill="#1414e6"/>
<line x1="507.5" y1="330.8" x2="507.5" y2="336" stroke="#222" stroke-width="0.3"/>
<line x1="506.7" y1="330.8" x2="508.3" y2="330.8" stroke="#222" stroke-width="0.35"/>
<path d="M507.6 333h0M508 328.1h0M507.2 335.2h0M507.7 328.8h0M507.1 329.9h0M507.5 336.3h0M507.2 329.8h0" stroke="#111" stroke-width="1.05" stroke-linecap="round" fill="none"/>
<rect x="508.5" y="354.9" width="2" height="1.84" fill="#ee66e6"/>
<line x1="509.5" y1="354.3" x2="509.5" y2="355.2" stroke="#222" stroke-width="0.3"/>
<line x1="508.7" y1="354.3" x2="510.3" y2="354.3" stroke="#222" stroke-width="0.35"/>
<path d="M509.4 354.9h0M510 355.2h0M509.7 353.8h0M509 354.8h0M509.4 353.6h0M509.6 355.3h0M509.6 355.2h0" stroke="#111" stroke-width="1.05" stroke-linecap="round" fill="none"/>
<rect x="510.5" y="319.8" width="2" height="36.87" fill="#dfc25e"/>
<line x1="511.5" y1="311.9" x2="511.5" y2="324.6" stroke="#222" stroke-width="0.3"/>
<line x1="510.7" y1="311.9" x2="512.3" y2="311.9" stroke="#222" stroke-width="0.35"/>
<path d="M511 314.7h0M511.9 323.1h0M512 311.3h0M511.5 326.4h0M511.5 321.1h0M512 311h0M511 324.8h0" stroke="#111" stroke-width="1.05" stroke-linecap="round" fill="none"/>
<rect x="513.4" y="352" width="2" height="4.74" fill="#ee1c1c"/>
<line x1="514.4" y1="351.2" x2="514.4" y2="352.4" stroke="#222" stroke-width="0.3"/>
<line x1="513.6" y1="351.2" x2="515.2" y2="351.2" stroke="#222" stroke-width="0.35"/>
<path d="M514.1 352.1h0M514.2 349.4h0M514.2 349.1h0M514.3 351.9h0M514.3 352.6h0M513.9 349.6h0M514 351.1h0" stroke="#111" stroke-width="1.05" stroke-linecap="round" fill="none"/>
<rect x="515.4" y="352.5" width="2" height="4.21" fill="#1414e6"/>
<line x1="516.4" y1="351.9" x2="516.4" y2="352.8" stroke="#222" stroke-width="0.3"/>
<line x1="515.6" y1="351.9" x2="517.2" y2="351.9" stroke="#222" stroke-width="0.35"/>
<path d="M516.6 351.5h0M516.5 352.6h0M516.7 352.8h0M516 351h0M516.9 351h0M516.2 351.3h0M516 352.6h0" stroke="#111" stroke-width="1.05" stroke-linecap="round" fill="none"/>
<rect x="517.4" y="352" width="2" height="4.74" fill="#ee66e6"/>
<line x1="518.4" y1="351.1" x2="518.4" y2="352.5" stroke="#222" stroke-width="0.3"/>
<line x1="517.6" y1="351.1" x2="519.2" y2="351.1" stroke="#222" stroke-width="0.35"/>
<path d="M518 352.7h0M518.4 349.9h0M518.5 352.6h0M518.2 348.9h0M518.1 349.1h0M518.4 350.1h0M518.8 349.7h0" stroke="#111" stroke-width="1.05" stroke-linecap="round" fill="none"/>
<rect x="519.4" y="351.4" width="2" height="5.27" fill="#dfc25e"/>
<line x1="520.4" y1="350.8" x2="520.4" y2="351.8" stroke="#222" stroke-width="0.3"/>
<line x1="519.6" y1="350.8" x2="521.2" y2="350.8" stroke="#222" stroke-width="0.35"/>
<path d="M520.4 349.1h0M520.2 349.4h0M520 350.8h0M520.9 349.9h0M520.6 349.7h0M520.9 350.5h0M519.9 351.2h0" stroke="#111" stroke-width="1.05" stroke-linecap="round" fill="none"/>
<rect x="522.3" y="352" width="2" height="4.74" fill="#ee1c1c"/>
<line x1="523.3" y1="351.4" x2="523.3" y2="352.3" stroke="#222" stroke-width="0.3"/>
<line x1="522.5" y1="351.4" x2="524.1" y2="351.4" stroke="#222" stroke-width="0.35"/>
<path d="M522.8 349.2h0M523.7 351.6h0M523.1 351.1h0M523.5 349.4h0M523.5 351.6h0M523.8 349.4h0M523.4 350.9h0" stroke="#111" stroke-width="1.05" stroke-linecap="round" fill="none"/>
<rect x="524.3" y="344.6" width="2" height="12.11" fill="#1414e6"/>
<line x1="525.3" y1="342.1" x2="525.3" y2="346.1" stroke="#222" stroke-width="0.3"/>
<line x1="524.5" y1="342.1" x2="526.1" y2="342.1" stroke="#222" stroke-width="0.35"/>
<path d="M525.2 344.5h0M525.7 342.1h0M525.3 346.2h0M524.8 346.8h0M525.1 342.9h0M525.1 345.5h0M525.3 345.1h0" stroke="#111" stroke-width="1.05" stroke-linecap="round" fill="none"/>
<rect x="526.3" y="354.1" width="2" height="2.63" fill="#ee66e6"/>
<line x1="527.3" y1="353.5" x2="527.3" y2="354.4" stroke="#222" stroke-width="0.3"/>
<line x1="526.5" y1="353.5" x2="528.1" y2="353.5" stroke="#222" stroke-width="0.35"/>
<path d="M527.7 354.1h0M527.5 352h0M527 352.8h0M526.8 354.5h0M527.2 354.5h0M527 353.5h0M527.6 353.5h0" stroke="#111" stroke-width="1.05" stroke-linecap="round" fill="none"/>
<rect x="528.3" y="328.8" width="2" height="27.91" fill="#dfc25e"/>
<line x1="529.3" y1="324.6" x2="529.3" y2="331.3" stroke="#222" stroke-width="0.3"/>
<line x1="528.5" y1="324.6" x2="530.1" y2="324.6" stroke="#222" stroke-width="0.35"/>
<path d="M528.8 326.4h0M529.2 332.4h0M529.8 332.5h0M529.8 323.3h0M528.8 324.7h0M528.8 322.7h0M529.4 323.7h0" stroke="#111" stroke-width="1.05" stroke-linecap="round" fill="none"/>
<rect x="531.2" y="353" width="2" height="3.69" fill="#ee1c1c"/>
<line x1="532.2" y1="352.4" x2="532.2" y2="353.4" stroke="#222" stroke-width="0.3"/>
<line x1="531.4" y1="352.4" x2="533" y2="352.4" stroke="#222" stroke-width="0.35"/>
<path d="M532.1 351.1h0M532.7 350.8h0M532.6 352h0M532.4 350.7h0M532.5 353.3h0M531.9 351.8h0M532.4 351.8h0" stroke="#111" stroke-width="1.05" stroke-linecap="round" fill="none"/>
<rect x="533.2" y="347.2" width="2" height="9.48" fill="#1414e6"/>
<line x1="534.2" y1="345.4" x2="534.2" y2="348.3" stroke="#222" stroke-width="0.3"/>
<line x1="533.4" y1="345.4" x2="535" y2="345.4" stroke="#222" stroke-width="0.35"/>
<path d="M534.4 344.8h0M534.4 347.6h0M534.2 346.5h0M534.3 345.8h0M533.7 345.4h0M534.5 347.3h0M533.7 345.8h0" stroke="#111" stroke-width="1.05" stroke-linecap="round" fill="none"/>
<rect x="535.2" y="354.6" width="2" height="2.11" fill="#ee66e6"/>
<line x1="536.2" y1="354" x2="536.2" y2="355" stroke="#222" stroke-width="0.3"/>
<line x1="535.4" y1="354" x2="537" y2="354" stroke="#222" stroke-width="0.35"/>
<path d="M536.2 352.3h0M536.4 354.2h0M536.2 355h0M536.3 351.9h0M536 354.2h0M535.7 355.1h0M536.4 354.4h0" stroke="#111" stroke-width="1.05" stroke-linecap="round" fill="none"/>
<rect x="537.2" y="342.5" width="2" height="14.22" fill="#dfc25e"/>
<line x1="538.2" y1="340.8" x2="538.2" y2="343.5" stroke="#222" stroke-width="0.3"/>
<line x1="537.4" y1="340.8" x2="539" y2="340.8" stroke="#222" stroke-width="0.35"/>
<path d="M537.7 343.4h0M538.2 340.9h0M538.2 342.8h0M538.1 342.8h0M537.8 344.1h0M538.4 340.1h0M538.2 343.5h0" stroke="#111" stroke-width="1.05" stroke-linecap="round" fill="none"/>
<rect x="540.1" y="352.5" width="2" height="4.21" fill="#ee1c1c"/>
<line x1="541.1" y1="351.9" x2="541.1" y2="352.8" stroke="#222" stroke-width="0.3"/>
<line x1="540.3" y1="351.9" x2="541.9" y2="351.9" stroke="#222" stroke-width="0.35"/>
<path d="M541.3 352.8h0M541.6 350.6h0M541.4 351.8h0M541.4 349.9h0M541 351.2h0M541.4 351.2h0M540.6 350.4h0" stroke="#111" stroke-width="1.05" stroke-linecap="round" fill="none"/>
<rect x="542.1" y="331.9" width="2" height="24.75" fill="#1414e6"/>
<line x1="543.1" y1="327" x2="543.1" y2="334.9" stroke="#222" stroke-width="0.3"/>
<line x1="542.3" y1="327" x2="543.9" y2="327" stroke="#222" stroke-width="0.35"/>
<path d="M543.5 331.2h0M542.6 333.9h0M543.5 327.4h0M543.1 327.4h0M542.6 333.3h0M542.7 324.7h0M543.6 324.8h0" stroke="#111" stroke-width="1.05" stroke-linecap="round" fill="none"/>
<rect x="544.1" y="354.1" width="2" height="2.63" fill="#ee66e6"/>
<line x1="545.1" y1="353.5" x2="545.1" y2="354.4" stroke="#222" stroke-width="0.3"/>
<line x1="544.3" y1="353.5" x2="545.9" y2="353.5" stroke="#222" stroke-width="0.35"/>
<path d="M545.4 352.1h0M545 352h0M545.3 354.6h0M545.4 353h0M545.1 352.7h0M545.3 352.2h0M544.8 353.6h0" stroke="#111" stroke-width="1.05" stroke-linecap="round" fill="none"/>
<rect x="546.1" y="315.1" width="2" height="41.61" fill="#dfc25e"/>
<line x1="547.1" y1="309.7" x2="547.1" y2="318.4" stroke="#222" stroke-width="0.3"/>
<line x1="546.3" y1="309.7" x2="547.9" y2="309.7" stroke="#222" stroke-width="0.35"/>
<path d="M547.6 316.6h0M546.8 306.3h0M547.2 308h0M547.1 314.7h0M547.4 311.7h0M547.2 317.8h0M546.7 310.9h0" stroke="#111" stroke-width="1.05" stroke-linecap="round" fill="none"/>
<rect x="549" y="350.9" width="2" height="5.79" fill="#ee1c1c"/>
<line x1="550" y1="349.8" x2="550" y2="351.6" stroke="#222" stroke-width="0.3"/>
<line x1="549.2" y1="349.8" x2="550.8" y2="349.8" stroke="#222" stroke-width="0.35"/>
<path d="M549.8 351.7h0M549.5 347.8h0M549.8 349.6h0M549.9 348.4h0M549.9 351.6h0M550.5 350.3h0M549.7 350.1h0" stroke="#111" stroke-width="1.05" stroke-linecap="round" fill="none"/>
<rect x="551" y="348.3" width="2" height="8.43" fill="#1414e6"/>
<line x1="552" y1="347.3" x2="552" y2="348.9" stroke="#222" stroke-width="0.3"/>
<line x1="551.2" y1="347.3" x2="552.8" y2="347.3" stroke="#222" stroke-width="0.35"/>
<path d="M551.5 348.4h0M551.7 345.7h0M552.4 345.5h0M551.7 345.6h0M552.4 347.9h0M551.6 345.3h0M552.4 345.5h0" stroke="#111" stroke-width="1.05" stroke-linecap="round" fill="none"/>
<rect x="553" y="353" width="2" height="3.69" fill="#ee66e6"/>
<line x1="554" y1="352.3" x2="554" y2="353.4" stroke="#222" stroke-width="0.3"/>
<line x1="553.2" y1="352.3" x2="554.8" y2="352.3" stroke="#222" stroke-width="0.35"/>
<path d="M554.2 352.2h0M554 351.6h0M553.8 352.4h0M553.6 351.8h0M553.7 351.4h0M554.4 352.2h0M554.2 352.4h0" stroke="#111" stroke-width="1.05" stroke-linecap="round" fill="none"/>
<rect x="555" y="339.3" width="2" height="17.38" fill="#dfc25e"/>
<line x1="556" y1="337.6" x2="556" y2="340.4" stroke="#222" stroke-width="0.3"/>
<line x1="555.2" y1="337.6" x2="556.8" y2="337.6" stroke="#222" stroke-width="0.35"/>
<path d="M556.3 340.3h0M556.3 338.2h0M556.4 340.7h0M555.8 336h0M555.8 335.2h0M555.7 335.6h0M555.5 337.5h0" stroke="#111" stroke-width="1.05" stroke-linecap="round" fill="none"/>
<line x1="493.9" y1="293" x2="493.9" y2="356.7" stroke="#000" stroke-width="0.5"/>
<line x1="493.9" y1="356.7" x2="558.1" y2="356.7" stroke="#000" stroke-width="0.5"/>
<line x1="492.6" y1="356.7" x2="493.9" y2="356.7" stroke="#000" stroke-width="0.4"/>
<text x="491.9" y="358.4" font-size="4.8" text-anchor="end">0</text>
<line x1="492.6" y1="335.6" x2="493.9" y2="335.6" stroke="#000" stroke-width="0.4"/>
<text x="491.9" y="337.3" font-size="4.8" text-anchor="end">4</text>
<line x1="492.6" y1="314.6" x2="493.9" y2="314.6" stroke="#000" stroke-width="0.4"/>
<text x="491.9" y="316.2" font-size="4.8" text-anchor="end">8</text>
<line x1="492.6" y1="293.5" x2="493.9" y2="293.5" stroke="#000" stroke-width="0.4"/>
<text x="491.9" y="295.2" font-size="4.8" text-anchor="end">12</text>
<text x="483.4" y="326.7" font-size="4.5" text-anchor="middle" textLength="66" lengthAdjust="spacingAndGlyphs" transform="rotate(-90 483.4 325.1)">Relative fold change (vs. vehicle)</text>
<text x="501.7" y="362.3" font-size="4.63" text-anchor="end" font-style="italic" transform="rotate(-48 501.7 360.7)">Eno1/Rpl13a</text>
<text x="510.5" y="362.3" font-size="4.63" text-anchor="end" font-style="italic" transform="rotate(-48 510.5 360.7)">Pdha1/Rpl13a</text>
<text x="519.3" y="362.3" font-size="4.63" text-anchor="end" font-style="italic" transform="rotate(-48 519.3 360.7)">Gapdh/Rpl13a</text>
<text x="528.2" y="362.3" font-size="4.63" text-anchor="end" font-style="italic" transform="rotate(-48 528.2 360.7)">Dhcr24/Rpl13a</text>
<text x="537" y="362.3" font-size="4.63" text-anchor="end" font-style="italic" transform="rotate(-48 537 360.7)">Cyp51/Rpl13a</text>
<text x="545.8" y="362.3" font-size="4.63" text-anchor="end" font-style="italic" transform="rotate(-48 545.8 360.7)">Lrp1/Rpl13a</text>
<text x="554.6" y="362.3" font-size="4.63" text-anchor="end" font-style="italic" transform="rotate(-48 554.6 360.7)">Vldlr/Rpl13a</text>
<text x="499.8" y="344.1" font-size="3.27" text-anchor="middle" class="s">–ns–</text>
<text x="517.6" y="344.1" font-size="3.27" text-anchor="middle" class="s">–ns–</text>
<text x="565.5" y="269.2" font-size="9.8" font-weight="bold" style="stroke:none">i</text>
<text x="623.3" y="271.3" font-size="4.9" text-anchor="middle" textLength="33.5" lengthAdjust="spacingAndGlyphs">Primary neuron</text>
<text x="623.4" y="276.2" font-size="4.82" text-anchor="middle" textLength="54.7" lengthAdjust="spacingAndGlyphs">(Treatment for 120 hours)</text>
<text x="580.1" y="284.4" font-size="4.8" text-anchor="end">E2</text>
<text x="580.1" y="290.3" font-size="4.8" text-anchor="end">P4</text>
<text x="580.1" y="296.1" font-size="4.8" text-anchor="end">MIF</text>
<text x="587.5" y="284.2" font-size="4.8" text-anchor="middle">−</text>
<text x="596.2" y="284.2" font-size="4.8" text-anchor="middle">+</text>
<text x="604.6" y="284.2" font-size="4.8" text-anchor="middle">+</text>
<text x="613.2" y="284.2" font-size="4.8" text-anchor="middle">+</text>
<text x="587.5" y="290.1" font-size="4.8" text-anchor="middle">−</text>
<text x="596.2" y="290.1" font-size="4.8" text-anchor="middle">−</text>
<text x="604.6" y="290.1" font-size="4.8" text-anchor="middle">−</text>
<text x="613.2" y="290.1" font-size="4.8" text-anchor="middle">+</text>
<text x="587.5" y="295.9" font-size="4.8" text-anchor="middle">−</text>
<text x="596.2" y="295.9" font-size="4.8" text-anchor="middle">−</text>
<text x="604.6" y="295.9" font-size="4.8" text-anchor="middle">+</text>
<text x="613.2" y="295.9" font-size="4.8" text-anchor="middle">−</text>
<text x="638" y="284.2" font-size="4.8" text-anchor="middle">−</text>
<text x="646.6" y="284.2" font-size="4.8" text-anchor="middle">+</text>
<text x="655.1" y="284.2" font-size="4.8" text-anchor="middle">+</text>
<text x="663.8" y="284.2" font-size="4.8" text-anchor="middle">+</text>
<text x="638" y="290.1" font-size="4.8" text-anchor="middle">−</text>
<text x="646.6" y="290.1" font-size="4.8" text-anchor="middle">−</text>
<text x="655.1" y="290.1" font-size="4.8" text-anchor="middle">−</text>
<text x="663.8" y="290.1" font-size="4.8" text-anchor="middle">+</text>
<text x="638" y="295.9" font-size="4.8" text-anchor="middle">−</text>
<text x="646.6" y="295.9" font-size="4.8" text-anchor="middle">−</text>
<text x="655.1" y="295.9" font-size="4.8" text-anchor="middle">+</text>
<text x="663.8" y="295.9" font-size="4.8" text-anchor="middle">−</text>
<text x="619.6" y="296.1" font-size="4.91">bp</text>
<text x="670.2" y="296.1" font-size="4.91">bp</text>
<rect x="583.2" y="298.8" width="34.3" height="10" fill="#1b1b1b"/>
<g filter="url(#bl)">
<rect x="584.4" y="303.2" width="6.2" height="1.2" fill="#f0f0f0" rx="0.5" opacity="0.05"/>
<rect x="593.1" y="303.2" width="6.2" height="1.2" fill="#f0f0f0" rx="0.5" opacity="0.6"/>
<rect x="601.5" y="303.2" width="6.2" height="1.2" fill="#f0f0f0" rx="0.5" opacity="0.25"/>
<rect x="610.1" y="303.2" width="6.2" height="1.2" fill="#fff" rx="0.5" opacity="0.95"/>
</g>
<rect x="633.3" y="298.8" width="34.6" height="10" fill="#040404"/>
<g filter="url(#bl)">
<rect x="634.9" y="303.8" width="6.2" height="1.7" fill="#fff" rx="0.5" opacity="1"/>
<rect x="643.5" y="303.8" width="6.2" height="1.7" fill="#fff" rx="0.5" opacity="1"/>
<rect x="652" y="303.8" width="6.2" height="1.7" fill="#fff" rx="0.5" opacity="1"/>
<rect x="660.7" y="303.8" width="6.2" height="1.7" fill="#fff" rx="0.5" opacity="1"/>
</g>
<text x="580.4" y="305.7" font-size="4.8" text-anchor="end" font-style="italic">Pdha1</text>
<text x="619.5" y="305.7" font-size="4.91">103</text>
<text x="670.2" y="305.7" font-size="4.91">103</text>
<rect x="583.2" y="310.5" width="34.3" height="10" fill="#212121"/>
<g filter="url(#bl)">
<rect x="593.1" y="314.5" width="6.2" height="2" fill="#fff" rx="0.5" opacity="0.95"/>
<rect x="610.1" y="314.5" width="6.2" height="2" fill="#fff" rx="0.5" opacity="0.9"/>
</g>
<rect x="633.3" y="310.5" width="34.6" height="10" fill="#040404"/>
<g filter="url(#bl)">
<rect x="634.9" y="315.8" width="6.2" height="1.7" fill="#fff" rx="0.5" opacity="1"/>
<rect x="643.5" y="315.8" width="6.2" height="1.7" fill="#fff" rx="0.5" opacity="1"/>
<rect x="652" y="315.8" width="6.2" height="1.7" fill="#fff" rx="0.5" opacity="0.9"/>
<rect x="660.7" y="315.8" width="6.2" height="1.7" fill="#fff" rx="0.5" opacity="1"/>
</g>
<text x="580.4" y="317.4" font-size="4.8" text-anchor="end" font-style="italic">Dhcr24</text>
<text x="619.5" y="317.4" font-size="4.91">128</text>
<text x="670.2" y="317.4" font-size="4.91">128</text>
<rect x="583.2" y="322.4" width="34.3" height="10" fill="#232323"/>
<g filter="url(#bl)">
<rect x="593.1" y="326.5" width="6.2" height="1.8" fill="#fff" rx="0.5" opacity="0.95"/>
<rect x="601.5" y="326.5" width="6.2" height="1.8" fill="#f0f0f0" rx="0.5" opacity="0.04"/>
<rect x="610.1" y="326.5" width="6.2" height="1.8" fill="#f0f0f0" rx="0.5" opacity="0.75"/>
</g>
<rect x="633.3" y="322.4" width="34.6" height="10" fill="#040404"/>
<g filter="url(#bl)">
<rect x="634.9" y="328.4" width="6.2" height="1.8" fill="#fff" rx="0.5" opacity="1"/>
<rect x="643.5" y="328.4" width="6.2" height="1.8" fill="#fff" rx="0.5" opacity="0.95"/>
<rect x="652" y="328.4" width="6.2" height="1.8" fill="#fff" rx="0.5" opacity="1"/>
<rect x="660.7" y="328.4" width="6.2" height="1.8" fill="#fff" rx="0.5" opacity="1"/>
</g>
<text x="580.4" y="329.3" font-size="4.8" text-anchor="end" font-style="italic">Cyp51</text>
<text x="619.5" y="329.3" font-size="4.91">81</text>
<text x="670.2" y="329.3" font-size="4.91">81</text>
<rect x="583.2" y="334.3" width="34.3" height="10" fill="#2f2f2f"/>
<g filter="url(#bl)">
<rect x="584.4" y="338.5" width="6.2" height="1.6" fill="#f0f0f0" rx="0.5" opacity="0.3"/>
<rect x="593.1" y="338.5" width="6.2" height="1.6" fill="#f0f0f0" rx="0.5" opacity="0.55"/>
<rect x="601.5" y="338.5" width="6.2" height="1.6" fill="#f0f0f0" rx="0.5" opacity="0.4"/>
<rect x="610.1" y="338.5" width="6.2" height="1.6" fill="#f0f0f0" rx="0.5" opacity="0.6"/>
</g>
<rect x="633.3" y="334.3" width="34.6" height="10" fill="#040404"/>
<g filter="url(#bl)">
<rect x="634.9" y="338.6" width="6.2" height="1.5" fill="#fff" rx="0.5" opacity="0.95"/>
<rect x="643.5" y="338.6" width="6.2" height="1.5" fill="#fff" rx="0.5" opacity="0.95"/>
<rect x="652" y="338.6" width="6.2" height="1.5" fill="#fff" rx="0.5" opacity="0.85"/>
<rect x="660.7" y="338.6" width="6.2" height="1.5" fill="#fff" rx="0.5" opacity="0.9"/>
</g>
<text x="580.4" y="341.2" font-size="4.8" text-anchor="end" font-style="italic">Lrp1</text>
<text x="619.5" y="341.2" font-size="4.91">72</text>
<text x="670.2" y="341.2" font-size="4.91">72</text>
<rect x="583.2" y="346.1" width="34.3" height="10" fill="#272727"/>
<g filter="url(#bl)">
<rect x="593.1" y="350" width="6.2" height="2.2" fill="#fff" rx="0.5" opacity="1"/>
<rect x="601.5" y="350" width="6.2" height="2.2" fill="#f0f0f0" rx="0.5" opacity="0.04"/>
<rect x="610.1" y="350" width="6.2" height="2.2" fill="#fff" rx="0.5" opacity="1"/>
</g>
<rect x="633.3" y="346.1" width="34.6" height="10" fill="#040404"/>
<g filter="url(#bl)">
<rect x="634.9" y="351" width="6.2" height="1.3" fill="#fff" rx="0.5" opacity="0.8"/>
<rect x="643.5" y="351" width="6.2" height="1.3" fill="#fff" rx="0.5" opacity="0.7"/>
<rect x="652" y="351" width="6.2" height="1.3" fill="#fff" rx="0.5" opacity="0.75"/>
<rect x="660.7" y="351" width="6.2" height="1.3" fill="#fff" rx="0.5" opacity="0.95"/>
</g>
<text x="580.4" y="353" font-size="4.8" text-anchor="end" font-style="italic">Vldlr</text>
<text x="619.5" y="353" font-size="4.91">110</text>
<text x="670.2" y="353" font-size="4.91">110</text>
<line x1="583.2" y1="357.3" x2="617.5" y2="357.3" stroke="#888" stroke-width="0.7"/>
<line x1="633.3" y1="357.3" x2="667.9" y2="357.3" stroke="#888" stroke-width="0.7"/>
<text x="599.2" y="361.8" font-size="4.41" text-anchor="end" transform="rotate(-50 599.2 360.3)">Specific ERα Ab</text>
<text x="605.5" y="364.7" font-size="4.41" text-anchor="end" transform="rotate(-50 605.5 363.2)">pulldown</text>
<text x="653.8" y="361.1" font-size="4.41" text-anchor="end" transform="rotate(-50 653.8 359.6)">INPUT</text>
<text x="7.6" y="405.4" font-size="9.8" font-weight="bold" style="stroke:none">j</text>
<text x="62.4" y="413.7" font-size="4.9" text-anchor="middle" textLength="33.5" lengthAdjust="spacingAndGlyphs">Primary neuron</text>
<text x="62.5" y="418.9" font-size="4.9" text-anchor="middle" textLength="55.6" lengthAdjust="spacingAndGlyphs">(Treatment for 120 hours)</text>
<text x="34.5" y="426.1" font-size="3.32" text-anchor="middle" class="s">Glucose</text>
<circle cx="21.8" cy="430.6" r="2.35" fill="#ee1c1c" stroke="#c41010" stroke-width="0.35"/>
<circle cx="26.8" cy="430.6" r="2.35" fill="#ee1c1c" stroke="#c41010" stroke-width="0.35"/>
<circle cx="31.9" cy="430.6" r="2.35" fill="#ee1c1c" stroke="#c41010" stroke-width="0.35"/>
<circle cx="36.9" cy="430.6" r="2.35" fill="#ee1c1c" stroke="#c41010" stroke-width="0.35"/>
<circle cx="41.9" cy="430.6" r="2.35" fill="#ee1c1c" stroke="#c41010" stroke-width="0.35"/>
<circle cx="47" cy="430.6" r="2.35" fill="#ee1c1c" stroke="#c41010" stroke-width="0.35"/>
<circle cx="21.8" cy="436.3" r="2.35" fill="#fff" stroke="#333" stroke-width="0.35"/>
<circle cx="26.8" cy="436.3" r="2.35" fill="#fff" stroke="#333" stroke-width="0.35"/>
<circle cx="31.9" cy="436.3" r="2.35" fill="#fff" stroke="#333" stroke-width="0.35"/>
<circle cx="36.9" cy="436.3" r="2.35" fill="#fff" stroke="#333" stroke-width="0.35"/>
<circle cx="41.9" cy="436.3" r="2.35" fill="#fff" stroke="#333" stroke-width="0.35"/>
<circle cx="47" cy="436.3" r="2.35" fill="#fff" stroke="#333" stroke-width="0.35"/>
<text x="50.6" y="431.8" font-size="3.32" class="s">m+6</text>
<text x="50.6" y="437.5" font-size="3.32" class="s">m+0</text>
<line x1="34" y1="439.6" x2="34" y2="450" stroke="#555" stroke-width="0.4" stroke-dasharray="1.6 0.7"/>
<path d="M33 449 L34 450.6 L35 449 Z" fill="#555" stroke="none" stroke-width="0"/>
<text x="38.1" y="444.7" font-size="3.32" class="s" font-style="italic">Glycolysis</text>
<circle cx="29.3" cy="455.3" r="2.35" fill="#ee1c1c" stroke="#c41010" stroke-width="0.35"/>
<circle cx="34.2" cy="455.3" r="2.35" fill="#ee1c1c" stroke="#c41010" stroke-width="0.35"/>
<circle cx="39.2" cy="455.3" r="2.35" fill="#ee1c1c" stroke="#c41010" stroke-width="0.35"/>
<circle cx="29.3" cy="461" r="2.35" fill="#fff" stroke="#333" stroke-width="0.35"/>
<circle cx="34.2" cy="461" r="2.35" fill="#fff" stroke="#333" stroke-width="0.35"/>
<circle cx="39.2" cy="461" r="2.35" fill="#fff" stroke="#333" stroke-width="0.35"/>
<text x="24.3" y="458.8" font-size="3.32" text-anchor="end" class="s">Pyruvate</text>
<text x="42.8" y="456.5" font-size="3.32" class="s">m+3</text>
<text x="42.8" y="462.2" font-size="3.32" class="s">m+0</text>
<text x="2.3" y="467.6" font-size="3.32" class="s" font-style="italic">Mitochondrial entry</text>
<text x="8.8" y="471.1" font-size="3.32" class="s" font-style="italic">PDH complex</text>
<line x1="34" y1="464.2" x2="34" y2="471.6" stroke="#555" stroke-width="0.4"/>
<path d="M33 470.6 L34 472.2 L35 470.6 Z" fill="#555" stroke="none" stroke-width="0"/>
<path d="M34 466 Q35.5 469.4 38 469.4" fill="none" stroke="#444" stroke-width="0.4"/>
<circle cx="40.8" cy="469.4" r="1.5" fill="#ee1c1c"/>
<text x="43" y="470.7" font-size="3.32" class="s">CO</text>
<text x="47.4" y="471.2" font-size="2.18" class="s">2</text>
<circle cx="31.1" cy="475.5" r="2.35" fill="#ee1c1c" stroke="#c41010" stroke-width="0.35"/>
<circle cx="36.3" cy="475.5" r="2.35" fill="#ee1c1c" stroke="#c41010" stroke-width="0.35"/>
<circle cx="31.1" cy="480.7" r="2.35" fill="#fff" stroke="#333" stroke-width="0.35"/>
<circle cx="36.3" cy="480.7" r="2.35" fill="#fff" stroke="#333" stroke-width="0.35"/>
<text x="24.3" y="479.4" font-size="3.32" text-anchor="end" class="s">Acetyl-CoA</text>
<text x="40.4" y="476.7" font-size="3.32" class="s">m+2</text>
<text x="40.4" y="481.9" font-size="3.32" class="s">m+0</text>
<line x1="49.4" y1="478.5" x2="67" y2="478.5" stroke="#333" stroke-width="0.4" stroke-dasharray="1.4 0.5 0.4 0.5"/>
<path d="M68.2 478.5 l-1.8 -0.9 l0 1.8 Z" fill="#333" stroke="none" stroke-width="0"/>
<text x="55.6" y="471.7" font-size="3.32" text-anchor="middle" class="s">+</text>
<circle cx="59.9" cy="470.3" r="1.85" fill="#ee1c1c" stroke="#c41010" stroke-width="0.35"/>
<circle cx="64" cy="470.3" r="1.85" fill="#ee1c1c" stroke="#c41010" stroke-width="0.35"/>
<circle cx="59.9" cy="474.4" r="1.85" fill="#fff" stroke="#333" stroke-width="0.35"/>
<circle cx="64" cy="474.4" r="1.85" fill="#fff" stroke="#333" stroke-width="0.35"/>
<text x="54.4" y="485.8" font-size="3.32" text-anchor="middle" class="s" font-style="italic">Conversion to citrate</text>
<text x="54.4" y="489.7" font-size="3.32" text-anchor="middle" class="s" font-style="italic">Mitochondrial exit</text>
<text x="54.4" y="493.5" font-size="3.32" text-anchor="middle" class="s" font-style="italic">ACLY and ACAT actions</text>
<text x="82.8" y="426.1" font-size="3.32" text-anchor="middle" class="s">Mevalonate</text>
<circle cx="69.6" cy="430.2" r="2.35" fill="#fff" stroke="#333" stroke-width="0.35"/>
<circle cx="74.6" cy="430.2" r="2.35" fill="#fff" stroke="#333" stroke-width="0.35"/>
<circle cx="79.6" cy="430.2" r="2.35" fill="#fff" stroke="#333" stroke-width="0.35"/>
<circle cx="84.6" cy="430.2" r="2.35" fill="#fff" stroke="#333" stroke-width="0.35"/>
<circle cx="89.6" cy="430.2" r="2.35" fill="#fff" stroke="#333" stroke-width="0.35"/>
<circle cx="94.6" cy="430.2" r="2.35" fill="#fff" stroke="#333" stroke-width="0.35"/>
<circle cx="69.6" cy="435.8" r="2.35" fill="#fff" stroke="#333" stroke-width="0.35"/>
<circle cx="74.6" cy="435.8" r="2.35" fill="#fff" stroke="#333" stroke-width="0.35"/>
<circle cx="79.6" cy="435.8" r="2.35" fill="#ee1c1c" stroke="#c41010" stroke-width="0.35"/>
<circle cx="84.6" cy="435.8" r="2.35" fill="#ee1c1c" stroke="#c41010" stroke-width="0.35"/>
<circle cx="89.6" cy="435.8" r="2.35" fill="#fff" stroke="#333" stroke-width="0.35"/>
<circle cx="94.6" cy="435.8" r="2.35" fill="#fff" stroke="#333" stroke-width="0.35"/>
<circle cx="69.6" cy="441.5" r="2.35" fill="#ee1c1c" stroke="#c41010" stroke-width="0.35"/>
<circle cx="74.6" cy="441.5" r="2.35" fill="#ee1c1c" stroke="#c41010" stroke-width="0.35"/>
<circle cx="79.6" cy="441.5" r="2.35" fill="#ee1c1c" stroke="#c41010" stroke-width="0.35"/>
<circle cx="84.6" cy="441.5" r="2.35" fill="#ee1c1c" stroke="#c41010" stroke-width="0.35"/>
<circle cx="89.6" cy="441.5" r="2.35" fill="#fff" stroke="#333" stroke-width="0.35"/>
<circle cx="94.6" cy="441.5" r="2.35" fill="#fff" stroke="#333" stroke-width="0.35"/>
<circle cx="69.6" cy="446.9" r="2.35" fill="#ee1c1c" stroke="#c41010" stroke-width="0.35"/>
<circle cx="74.6" cy="446.9" r="2.35" fill="#ee1c1c" stroke="#c41010" stroke-width="0.35"/>
<circle cx="79.6" cy="446.9" r="2.35" fill="#ee1c1c" stroke="#c41010" stroke-width="0.35"/>
<circle cx="84.6" cy="446.9" r="2.35" fill="#ee1c1c" stroke="#c41010" stroke-width="0.35"/>
<circle cx="89.6" cy="446.9" r="2.35" fill="#ee1c1c" stroke="#c41010" stroke-width="0.35"/>
<circle cx="94.6" cy="446.9" r="2.35" fill="#ee1c1c" stroke="#c41010" stroke-width="0.35"/>
<text x="98.6" y="431.4" font-size="3.32" class="s">m+0</text>
<text x="98.6" y="437" font-size="3.32" class="s">m+2</text>
<text x="98.6" y="442.7" font-size="3.32" class="s">m+4</text>
<text x="98.6" y="448.1" font-size="3.32" class="s">m+6</text>
<line x1="81.2" y1="451.2" x2="81.2" y2="462.2" stroke="#444" stroke-width="0.4" stroke-dasharray="1.6 0.7"/>
<path d="M81.2 449.8 l-0.9 1.7 l1.8 0 Z" fill="#444" stroke="none" stroke-width="0"/>
<text x="69.6" y="457.9" font-size="3.32" text-anchor="middle" class="s">+</text>
<circle cx="73.7" cy="454.4" r="1.8" fill="#ee1c1c" stroke="#c41010" stroke-width="0.35"/>
<circle cx="77.6" cy="454.4" r="1.8" fill="#ee1c1c" stroke="#c41010" stroke-width="0.35"/>
<circle cx="73.7" cy="458.5" r="1.8" fill="#fff" stroke="#333" stroke-width="0.35"/>
<circle cx="77.6" cy="458.5" r="1.8" fill="#fff" stroke="#333" stroke-width="0.35"/>
<text x="85" y="455.6" font-size="3.32" class="s">HMGCR</text>
<text x="85" y="460.4" font-size="3.32" class="s">HMGCS</text>
<text x="81.6" y="466.5" font-size="3.32" text-anchor="middle" class="s" font-style="italic">Acetoacetyl CoA</text>
<circle cx="73" cy="470.5" r="2.35" fill="#ee1c1c" stroke="#c41010" stroke-width="0.35"/>
<circle cx="78.2" cy="470.5" r="2.35" fill="#ee1c1c" stroke="#c41010" stroke-width="0.35"/>
<circle cx="83.3" cy="470.5" r="2.35" fill="#ee1c1c" stroke="#c41010" stroke-width="0.35"/>
<circle cx="88.5" cy="470.5" r="2.35" fill="#ee1c1c" stroke="#c41010" stroke-width="0.35"/>
<circle cx="73" cy="476.2" r="2.35" fill="#fff" stroke="#333" stroke-width="0.35"/>
<circle cx="78.2" cy="476.2" r="2.35" fill="#fff" stroke="#333" stroke-width="0.35"/>
<circle cx="83.3" cy="476.2" r="2.35" fill="#ee1c1c" stroke="#c41010" stroke-width="0.35"/>
<circle cx="88.5" cy="476.2" r="2.35" fill="#ee1c1c" stroke="#c41010" stroke-width="0.35"/>
<circle cx="73" cy="481.6" r="2.35" fill="#fff" stroke="#333" stroke-width="0.35"/>
<circle cx="78.2" cy="481.6" r="2.35" fill="#fff" stroke="#333" stroke-width="0.35"/>
<circle cx="83.3" cy="481.6" r="2.35" fill="#fff" stroke="#333" stroke-width="0.35"/>
<circle cx="88.5" cy="481.6" r="2.35" fill="#fff" stroke="#333" stroke-width="0.35"/>
<text x="93.2" y="471.7" font-size="3.32" class="s">m+4</text>
<text x="93.2" y="477.4" font-size="3.32" class="s">m+2</text>
<text x="93.2" y="482.8" font-size="3.32" class="s">m+0</text>
<rect x="126.6" y="404.9" width="3" height="3" fill="#ee1c1c"/>
<text x="130.2" y="408" font-size="4.58" textLength="12.9" lengthAdjust="spacingAndGlyphs">Vehicle</text>
<rect x="146" y="404.9" width="3" height="3" fill="#1414e6"/>
<text x="151" y="407.8" font-size="4.12" textLength="27.7" lengthAdjust="spacingAndGlyphs">Oestradiol (E2)</text>
<rect x="181.5" y="404.9" width="3" height="3" fill="#3a8a46"/>
<text x="185.1" y="407.8" font-size="4.09" textLength="45.1" lengthAdjust="spacingAndGlyphs">E2+MPP dihydrochloride</text>
<rect x="233" y="404.9" width="3" height="3" fill="#ee66e6" stroke="#333" stroke-width="0.25"/>
<text x="238.1" y="407.8" font-size="3.94" class="s" textLength="41.3" lengthAdjust="spacingAndGlyphs">E2 + Mifepristone (MIF)</text>
<rect x="282.6" y="404.9" width="3" height="3" fill="#dfc25e" stroke="#333" stroke-width="0.25"/>
<text x="288" y="407.8" font-size="4.1" textLength="43.2" lengthAdjust="spacingAndGlyphs">E2 + Progesterone (P4)</text>
<text x="112.9" y="418.2" font-size="3.3" class="s" font-style="italic" textLength="57.4" lengthAdjust="spacingAndGlyphs">Treatment effect (For all isotopologues)</text>
<text x="112.9" y="421.1" font-size="3.17" class="s" font-style="italic" textLength="35" lengthAdjust="spacingAndGlyphs">E2 vs. Vehicle, p = 0.008</text>
<text x="112.9" y="424" font-size="3.24" class="s" font-style="italic" textLength="43.5" lengthAdjust="spacingAndGlyphs">E2+MPP vs. E2, p = 0.000013</text>
<text x="178.3" y="414.5" font-size="3.3" class="s" font-style="italic" textLength="57.4" lengthAdjust="spacingAndGlyphs">Treatment effect (For all isotopologues)</text>
<text x="178.3" y="417.7" font-size="3.25" class="s" font-style="italic" textLength="41" lengthAdjust="spacingAndGlyphs">E2 vs. Vehicle, p &lt; 5.60E-08</text>
<text x="178.3" y="420.7" font-size="3.26" class="s" font-style="italic" textLength="42" lengthAdjust="spacingAndGlyphs">E2+MIF vs. E2, p = 1.74E-06</text>
<text x="178.3" y="424" font-size="3.04" class="s" font-style="italic" textLength="33" lengthAdjust="spacingAndGlyphs">E2+P4 vs. E2, p = 0.006</text>
<text x="239.3" y="418.2" font-size="3.3" class="s" font-style="italic" textLength="57.4" lengthAdjust="spacingAndGlyphs">Treatment effect (For all isotopologues)</text>
<text x="239.3" y="421.1" font-size="3.17" class="s" font-style="italic" textLength="35" lengthAdjust="spacingAndGlyphs">E2 vs. Vehicle, p = 0.002</text>
<text x="239.3" y="424" font-size="3.22" class="s" font-style="italic" textLength="36" lengthAdjust="spacingAndGlyphs">E2+MPP vs. E2, p &lt; 0.03</text>
<text x="299.9" y="414.5" font-size="3.3" class="s" font-style="italic" textLength="57.4" lengthAdjust="spacingAndGlyphs">Treatment effect (For all isotopologues)</text>
<text x="299.9" y="417.7" font-size="3.25" class="s" font-style="italic" textLength="41" lengthAdjust="spacingAndGlyphs">E2 vs. Vehicle, p &lt; 5.60E-08</text>
<text x="299.9" y="420.7" font-size="3.25" class="s" font-style="italic" textLength="35" lengthAdjust="spacingAndGlyphs">E2+MIF vs. E2, p = 0.02</text>
<text x="299.9" y="424" font-size="3.18" class="s" font-style="italic" textLength="38" lengthAdjust="spacingAndGlyphs">E2+P4 vs. E2, p = 0.00065</text>
<rect x="130.2" y="464.1" width="5.45" height="29.09" fill="#ee1c1c"/>
<line x1="132.9" y1="460.3" x2="132.9" y2="466.4" stroke="#222" stroke-width="0.3"/>
<line x1="132.1" y1="460.3" x2="133.7" y2="460.3" stroke="#222" stroke-width="0.35"/>
<path d="M133.3 465.1h0M133.5 460.8h0M132.5 460.4h0M132.4 465.6h0M132.3 463.8h0" stroke="#111" stroke-width="1.0" stroke-linecap="round" fill="none"/>
<rect x="135.6" y="447.5" width="5.45" height="45.65" fill="#1414e6"/>
<line x1="138.4" y1="441.8" x2="138.4" y2="451" stroke="#222" stroke-width="0.3"/>
<line x1="137.6" y1="441.8" x2="139.2" y2="441.8" stroke="#222" stroke-width="0.35"/>
<path d="M138 445.8h0M139 448.1h0M137.5 443.7h0M137.8 451.6h0M138.9 450.7h0" stroke="#111" stroke-width="1.0" stroke-linecap="round" fill="none"/>
<rect x="141.1" y="466.4" width="5.45" height="26.77" fill="#3a8a46"/>
<line x1="143.8" y1="461.1" x2="143.8" y2="469.6" stroke="#222" stroke-width="0.3"/>
<line x1="143" y1="461.1" x2="144.6" y2="461.1" stroke="#222" stroke-width="0.35"/>
<path d="M144.3 471.1h0M144.3 462.6h0M144.4 465.5h0M144.3 466.4h0M143.7 464h0" stroke="#111" stroke-width="1.0" stroke-linecap="round" fill="none"/>
<rect x="149.7" y="473.2" width="5.45" height="19.96" fill="#ee1c1c"/>
<line x1="152.4" y1="470.2" x2="152.4" y2="475.1" stroke="#222" stroke-width="0.3"/>
<line x1="151.6" y1="470.2" x2="153.2" y2="470.2" stroke="#222" stroke-width="0.35"/>
<path d="M152.1 470.1h0M153 474.9h0M153.3 474.1h0M152.5 474.5h0M151.8 474h0" stroke="#111" stroke-width="1.0" stroke-linecap="round" fill="none"/>
<rect x="155.1" y="464.6" width="5.45" height="28.63" fill="#1414e6"/>
<line x1="157.9" y1="460.2" x2="157.9" y2="467.2" stroke="#222" stroke-width="0.3"/>
<line x1="157.1" y1="460.2" x2="158.7" y2="460.2" stroke="#222" stroke-width="0.35"/>
<path d="M157.3 460.9h0M157.9 461.4h0M157.8 465h0M157.7 460.2h0M157.9 461.2h0" stroke="#111" stroke-width="1.0" stroke-linecap="round" fill="none"/>
<rect x="160.6" y="478.8" width="5.45" height="14.39" fill="#3a8a46"/>
<line x1="163.3" y1="477" x2="163.3" y2="479.9" stroke="#222" stroke-width="0.3"/>
<line x1="162.5" y1="477" x2="164.1" y2="477" stroke="#222" stroke-width="0.35"/>
<path d="M162.8 478h0M162.6 479.2h0M164.1 478.1h0M163.7 480.4h0M162.5 477h0" stroke="#111" stroke-width="1.0" stroke-linecap="round" fill="none"/>
<line x1="127.2" y1="430.8" x2="127.2" y2="493.2" stroke="#000" stroke-width="0.5"/>
<line x1="127.2" y1="493.2" x2="167.6" y2="493.2" stroke="#000" stroke-width="0.5"/>
<line x1="125.9" y1="493.2" x2="127.2" y2="493.2" stroke="#000" stroke-width="0.4"/>
<text x="125.2" y="494.8" font-size="4.47" text-anchor="end">0</text>
<line x1="125.9" y1="477.7" x2="127.2" y2="477.7" stroke="#000" stroke-width="0.4"/>
<text x="125.2" y="479.3" font-size="4.47" text-anchor="end">10</text>
<line x1="125.9" y1="462.2" x2="127.2" y2="462.2" stroke="#000" stroke-width="0.4"/>
<text x="125.2" y="463.8" font-size="4.47" text-anchor="end">20</text>
<line x1="125.9" y1="446.8" x2="127.2" y2="446.8" stroke="#000" stroke-width="0.4"/>
<text x="125.2" y="448.3" font-size="4.47" text-anchor="end">30</text>
<line x1="125.9" y1="431.3" x2="127.2" y2="431.3" stroke="#000" stroke-width="0.4"/>
<text x="125.2" y="432.9" font-size="4.47" text-anchor="end">40</text>
<text x="115.4" y="463.6" font-size="3.97" text-anchor="middle" class="s" textLength="50" lengthAdjust="spacingAndGlyphs" transform="rotate(-90 115.4 462.2)">Concentration (nM/10⁷ cells)</text>
<text x="138.4" y="499.1" font-size="4.36" text-anchor="middle">M+0</text>
<text x="157.9" y="499.1" font-size="4.36" text-anchor="middle">M+3</text>
<text x="147" y="504.7" font-size="4.04" text-anchor="middle" class="s" textLength="40" lengthAdjust="spacingAndGlyphs">Pyruvate isotopologue</text>
<rect x="188" y="474.4" width="4.35" height="18.78" fill="#ee1c1c"/>
<line x1="190.2" y1="470.7" x2="190.2" y2="476.6" stroke="#222" stroke-width="0.3"/>
<line x1="189.4" y1="470.7" x2="191" y2="470.7" stroke="#222" stroke-width="0.35"/>
<path d="M190.8 475.1h0M189.6 473.1h0M190.8 477.2h0M190.7 471.3h0M190.8 472.8h0" stroke="#111" stroke-width="1.0" stroke-linecap="round" fill="none"/>
<rect x="192.3" y="460.2" width="4.35" height="33.01" fill="#1414e6"/>
<line x1="194.5" y1="454" x2="194.5" y2="463.9" stroke="#222" stroke-width="0.3"/>
<line x1="193.7" y1="454" x2="195.3" y2="454" stroke="#222" stroke-width="0.35"/>
<path d="M193.9 465.9h0M194.7 462.4h0M194 460.9h0M194.7 460.6h0M194.3 462.5h0" stroke="#111" stroke-width="1.0" stroke-linecap="round" fill="none"/>
<rect x="196.7" y="481.9" width="4.35" height="11.35" fill="#ee66e6"/>
<line x1="198.9" y1="480.3" x2="198.9" y2="482.8" stroke="#222" stroke-width="0.3"/>
<line x1="198.1" y1="480.3" x2="199.7" y2="480.3" stroke="#222" stroke-width="0.35"/>
<path d="M198.5 480.4h0M199.2 480.2h0M198.4 480h0M199.1 481.8h0M199 479.9h0" stroke="#111" stroke-width="1.0" stroke-linecap="round" fill="none"/>
<rect x="201.1" y="453" width="4.35" height="40.23" fill="#dfc25e"/>
<line x1="203.2" y1="446.8" x2="203.2" y2="456.7" stroke="#222" stroke-width="0.3"/>
<line x1="202.4" y1="446.8" x2="204" y2="446.8" stroke="#222" stroke-width="0.35"/>
<path d="M202.9 446.3h0M202.4 459.1h0M202.6 449.2h0M202.8 453.4h0M202.5 451.6h0" stroke="#111" stroke-width="1.0" stroke-linecap="round" fill="none"/>
<rect x="207.8" y="482.9" width="4.35" height="10.32" fill="#ee1c1c"/>
<line x1="210" y1="481.4" x2="210" y2="483.8" stroke="#222" stroke-width="0.3"/>
<line x1="209.2" y1="481.4" x2="210.8" y2="481.4" stroke="#222" stroke-width="0.35"/>
<path d="M210.6 481h0M209.7 482.6h0M210.8 482.7h0M209.9 483.2h0M209.6 481.1h0" stroke="#111" stroke-width="1.0" stroke-linecap="round" fill="none"/>
<rect x="212.2" y="474.6" width="4.35" height="18.57" fill="#1414e6"/>
<line x1="214.3" y1="471.7" x2="214.3" y2="476.4" stroke="#222" stroke-width="0.3"/>
<line x1="213.5" y1="471.7" x2="215.1" y2="471.7" stroke="#222" stroke-width="0.35"/>
<path d="M215 475.8h0M213.9 475.4h0M214.9 472.5h0M214.5 473.2h0M213.9 472.7h0" stroke="#111" stroke-width="1.0" stroke-linecap="round" fill="none"/>
<rect x="216.5" y="484.9" width="4.35" height="8.25" fill="#ee66e6"/>
<line x1="218.7" y1="483.9" x2="218.7" y2="485.6" stroke="#222" stroke-width="0.3"/>
<line x1="217.9" y1="483.9" x2="219.5" y2="483.9" stroke="#222" stroke-width="0.35"/>
<path d="M218.4 483.7h0M218.5 483.8h0M219.1 485h0M217.8 485.4h0M218.1 484.7h0" stroke="#111" stroke-width="1.0" stroke-linecap="round" fill="none"/>
<rect x="220.9" y="466.4" width="4.35" height="26.82" fill="#dfc25e"/>
<line x1="223" y1="461.9" x2="223" y2="469.1" stroke="#222" stroke-width="0.3"/>
<line x1="222.2" y1="461.9" x2="223.8" y2="461.9" stroke="#222" stroke-width="0.35"/>
<path d="M222.7 463.5h0M222.9 462h0M223.7 461.7h0M223.6 462.8h0M222.7 464.6h0" stroke="#111" stroke-width="1.0" stroke-linecap="round" fill="none"/>
<line x1="185.8" y1="430.8" x2="185.8" y2="493.2" stroke="#000" stroke-width="0.5"/>
<line x1="185.8" y1="493.2" x2="226.5" y2="493.2" stroke="#000" stroke-width="0.5"/>
<line x1="184.5" y1="493.2" x2="185.8" y2="493.2" stroke="#000" stroke-width="0.4"/>
<text x="183.8" y="494.8" font-size="4.47" text-anchor="end">0</text>
<line x1="184.5" y1="472.6" x2="185.8" y2="472.6" stroke="#000" stroke-width="0.4"/>
<text x="183.8" y="474.1" font-size="4.47" text-anchor="end">20</text>
<line x1="184.5" y1="451.9" x2="185.8" y2="451.9" stroke="#000" stroke-width="0.4"/>
<text x="183.8" y="453.5" font-size="4.47" text-anchor="end">40</text>
<line x1="184.5" y1="431.3" x2="185.8" y2="431.3" stroke="#000" stroke-width="0.4"/>
<text x="183.8" y="432.9" font-size="4.47" text-anchor="end">60</text>
<text x="173.7" y="463.6" font-size="3.97" text-anchor="middle" class="s" textLength="50" lengthAdjust="spacingAndGlyphs" transform="rotate(-90 173.7 462.2)">Concentration (nM/10⁷ cells)</text>
<text x="196.6" y="499.1" font-size="4.36" text-anchor="middle">M+0</text>
<text x="216.5" y="499.1" font-size="4.36" text-anchor="middle">M+3</text>
<text x="206.2" y="504.7" font-size="4.04" text-anchor="middle" class="s" textLength="40" lengthAdjust="spacingAndGlyphs">Pyruvate isotopologue</text>
<rect x="250.2" y="467.4" width="2.8" height="25.79" fill="#ee1c1c"/>
<line x1="251.6" y1="464.7" x2="251.6" y2="469" stroke="#222" stroke-width="0.3"/>
<line x1="250.8" y1="464.7" x2="252.4" y2="464.7" stroke="#222" stroke-width="0.35"/>
<path d="M251 466.1h0M251.5 469.3h0M252.4 464.2h0M251.7 464.7h0M252.1 465.9h0" stroke="#111" stroke-width="1.0" stroke-linecap="round" fill="none"/>
<rect x="253" y="448.8" width="2.8" height="44.36" fill="#1414e6"/>
<line x1="254.4" y1="439.6" x2="254.4" y2="454.4" stroke="#222" stroke-width="0.3"/>
<line x1="253.6" y1="439.6" x2="255.2" y2="439.6" stroke="#222" stroke-width="0.35"/>
<path d="M254.5 439.5h0M253.6 442.1h0M255 440.1h0M254.4 444.7h0M254.2 453.8h0" stroke="#111" stroke-width="1.0" stroke-linecap="round" fill="none"/>
<rect x="255.8" y="458.6" width="2.8" height="34.56" fill="#3a8a46"/>
<line x1="257.2" y1="454.3" x2="257.2" y2="461.2" stroke="#222" stroke-width="0.3"/>
<line x1="256.4" y1="454.3" x2="258" y2="454.3" stroke="#222" stroke-width="0.35"/>
<path d="M257.5 459.7h0M257.9 458.2h0M257.8 457.4h0M257.3 459.2h0M257.7 462h0" stroke="#111" stroke-width="1.0" stroke-linecap="round" fill="none"/>
<rect x="260.1" y="477.2" width="2.8" height="15.99" fill="#ee1c1c"/>
<line x1="261.5" y1="475.4" x2="261.5" y2="478.3" stroke="#222" stroke-width="0.3"/>
<line x1="260.7" y1="475.4" x2="262.3" y2="475.4" stroke="#222" stroke-width="0.35"/>
<path d="M260.9 477.1h0M262 477.1h0M261.2 478.9h0M261.2 475.2h0M260.8 475h0" stroke="#111" stroke-width="1.0" stroke-linecap="round" fill="none"/>
<rect x="262.9" y="462.2" width="2.8" height="30.95" fill="#1414e6"/>
<line x1="264.3" y1="456.5" x2="264.3" y2="465.7" stroke="#222" stroke-width="0.3"/>
<line x1="263.5" y1="456.5" x2="265.1" y2="456.5" stroke="#222" stroke-width="0.35"/>
<path d="M263.7 464.3h0M264.9 468h0M264.8 460.4h0M264.5 465.8h0M264.6 458.6h0" stroke="#111" stroke-width="1.0" stroke-linecap="round" fill="none"/>
<rect x="265.7" y="475.1" width="2.8" height="18.05" fill="#3a8a46"/>
<line x1="267.1" y1="471.7" x2="267.1" y2="477.2" stroke="#222" stroke-width="0.3"/>
<line x1="266.3" y1="471.7" x2="267.9" y2="471.7" stroke="#222" stroke-width="0.35"/>
<path d="M266.5 473.1h0M267.9 474.4h0M266.7 476.9h0M267 470.7h0M266.4 472.7h0" stroke="#111" stroke-width="1.0" stroke-linecap="round" fill="none"/>
<rect x="270" y="480.5" width="2.8" height="12.69" fill="#ee1c1c"/>
<line x1="271.4" y1="478.7" x2="271.4" y2="481.6" stroke="#222" stroke-width="0.3"/>
<line x1="270.6" y1="478.7" x2="272.2" y2="478.7" stroke="#222" stroke-width="0.35"/>
<path d="M272.1 479.2h0M271.9 481.7h0M271.3 482.3h0M271.8 480.2h0M271 480.1h0" stroke="#111" stroke-width="1.0" stroke-linecap="round" fill="none"/>
<rect x="272.8" y="472.6" width="2.8" height="20.63" fill="#1414e6"/>
<line x1="274.2" y1="468.3" x2="274.2" y2="475.1" stroke="#222" stroke-width="0.3"/>
<line x1="273.4" y1="468.3" x2="275" y2="468.3" stroke="#222" stroke-width="0.35"/>
<path d="M274.3 468.9h0M274 471.7h0M273.7 472.6h0M273.5 475.1h0M273.7 468h0" stroke="#111" stroke-width="1.0" stroke-linecap="round" fill="none"/>
<rect x="275.6" y="477.4" width="2.8" height="15.78" fill="#3a8a46"/>
<line x1="277" y1="474.7" x2="277" y2="479" stroke="#222" stroke-width="0.3"/>
<line x1="276.2" y1="474.7" x2="277.8" y2="474.7" stroke="#222" stroke-width="0.35"/>
<path d="M276.7 479.4h0M277 477.1h0M277.5 475.2h0M277.4 477.9h0M276.9 479.9h0" stroke="#111" stroke-width="1.0" stroke-linecap="round" fill="none"/>
<rect x="279.9" y="481.9" width="2.8" height="11.35" fill="#ee1c1c"/>
<line x1="281.3" y1="480.7" x2="281.3" y2="482.6" stroke="#222" stroke-width="0.3"/>
<line x1="280.5" y1="480.7" x2="282.1" y2="480.7" stroke="#222" stroke-width="0.35"/>
<path d="M281.9 480.7h0M281.8 480.7h0M280.6 481.7h0M282 481h0M281.3 482h0" stroke="#111" stroke-width="1.0" stroke-linecap="round" fill="none"/>
<rect x="282.7" y="476" width="2.8" height="17.23" fill="#1414e6"/>
<line x1="284.1" y1="473.7" x2="284.1" y2="477.3" stroke="#222" stroke-width="0.3"/>
<line x1="283.3" y1="473.7" x2="284.9" y2="473.7" stroke="#222" stroke-width="0.35"/>
<path d="M284.1 473.1h0M284 477h0M283.9 474.2h0M283.4 476.7h0M284 477.8h0" stroke="#111" stroke-width="1.0" stroke-linecap="round" fill="none"/>
<rect x="285.5" y="482.9" width="2.8" height="10.32" fill="#3a8a46"/>
<line x1="286.9" y1="480.9" x2="286.9" y2="484.1" stroke="#222" stroke-width="0.3"/>
<line x1="286.1" y1="480.9" x2="287.7" y2="480.9" stroke="#222" stroke-width="0.35"/>
<path d="M286.3 484.4h0M287.6 484h0M287.4 483.4h0M287.2 483.3h0M287 481.5h0" stroke="#111" stroke-width="1.0" stroke-linecap="round" fill="none"/>
<line x1="248.4" y1="430.8" x2="248.4" y2="493.2" stroke="#000" stroke-width="0.5"/>
<line x1="248.4" y1="493.2" x2="289.4" y2="493.2" stroke="#000" stroke-width="0.5"/>
<line x1="247.1" y1="493.2" x2="248.4" y2="493.2" stroke="#000" stroke-width="0.4"/>
<text x="246.4" y="494.8" font-size="4.47" text-anchor="end">0</text>
<line x1="247.1" y1="472.6" x2="248.4" y2="472.6" stroke="#000" stroke-width="0.4"/>
<text x="246.4" y="474.1" font-size="4.47" text-anchor="end">20</text>
<line x1="247.1" y1="451.9" x2="248.4" y2="451.9" stroke="#000" stroke-width="0.4"/>
<text x="246.4" y="453.5" font-size="4.47" text-anchor="end">40</text>
<line x1="247.1" y1="431.3" x2="248.4" y2="431.3" stroke="#000" stroke-width="0.4"/>
<text x="246.4" y="432.9" font-size="4.47" text-anchor="end">60</text>
<text x="236.6" y="463.6" font-size="3.97" text-anchor="middle" class="s" textLength="50" lengthAdjust="spacingAndGlyphs" transform="rotate(-90 236.6 462.2)">Concentration (nM/10⁷ cells)</text>
<text x="254.5" y="498.9" font-size="3.82" text-anchor="middle" class="s">M+0</text>
<text x="264.4" y="498.9" font-size="3.82" text-anchor="middle" class="s">M+2</text>
<text x="274.2" y="498.9" font-size="3.82" text-anchor="middle" class="s">M+4</text>
<text x="284.1" y="498.9" font-size="3.82" text-anchor="middle" class="s">M+6</text>
<text x="268.8" y="504.7" font-size="4.0" text-anchor="middle" class="s" textLength="44.5" lengthAdjust="spacingAndGlyphs">Mevalonate isotopologue</text>
<rect x="311.4" y="471" width="2.5" height="22.21" fill="#ee1c1c"/>
<line x1="312.6" y1="468.4" x2="312.6" y2="472.5" stroke="#222" stroke-width="0.3"/>
<line x1="311.8" y1="468.4" x2="313.4" y2="468.4" stroke="#222" stroke-width="0.35"/>
<path d="M313 471.2h0M312 471.4h0M312.8 470.7h0M313 472.8h0M312.5 472.5h0" stroke="#111" stroke-width="1.0" stroke-linecap="round" fill="none"/>
<rect x="313.9" y="459.2" width="2.5" height="34.04" fill="#1414e6"/>
<line x1="315.1" y1="453.7" x2="315.1" y2="462.4" stroke="#222" stroke-width="0.3"/>
<line x1="314.3" y1="453.7" x2="315.9" y2="453.7" stroke="#222" stroke-width="0.35"/>
<path d="M315.2 457.3h0M315.7 457.6h0M315.8 456.3h0M315.4 463.5h0M315.4 456.8h0" stroke="#111" stroke-width="1.0" stroke-linecap="round" fill="none"/>
<rect x="316.4" y="483.9" width="2.5" height="9.28" fill="#ee66e6"/>
<line x1="317.6" y1="482.9" x2="317.6" y2="484.5" stroke="#222" stroke-width="0.3"/>
<line x1="316.8" y1="482.9" x2="318.4" y2="482.9" stroke="#222" stroke-width="0.35"/>
<path d="M317.6 483.6h0M318.1 484.4h0M318.3 483.6h0M317.5 483.9h0M318 482.8h0" stroke="#111" stroke-width="1.0" stroke-linecap="round" fill="none"/>
<rect x="318.9" y="450.6" width="2.5" height="42.56" fill="#dfc25e"/>
<line x1="320.1" y1="445.3" x2="320.1" y2="453.9" stroke="#222" stroke-width="0.3"/>
<line x1="319.3" y1="445.3" x2="320.9" y2="445.3" stroke="#222" stroke-width="0.35"/>
<path d="M319.7 447.7h0M319.9 455.6h0M319.7 455.2h0M319.9 446.2h0M320.8 444.8h0" stroke="#111" stroke-width="1.0" stroke-linecap="round" fill="none"/>
<rect x="321.7" y="480" width="2.5" height="13.15" fill="#ee1c1c"/>
<line x1="322.9" y1="478.6" x2="322.9" y2="480.9" stroke="#222" stroke-width="0.3"/>
<line x1="322.1" y1="478.6" x2="323.8" y2="478.6" stroke="#222" stroke-width="0.35"/>
<path d="M322.4 478.3h0M322.8 478.8h0M322.5 478.2h0M323.2 478.3h0M322.6 480h0" stroke="#111" stroke-width="1.0" stroke-linecap="round" fill="none"/>
<rect x="324.2" y="470.3" width="2.5" height="22.9" fill="#1414e6"/>
<line x1="325.4" y1="465.6" x2="325.4" y2="473.1" stroke="#222" stroke-width="0.3"/>
<line x1="324.6" y1="465.6" x2="326.2" y2="465.6" stroke="#222" stroke-width="0.35"/>
<path d="M325.7 471.9h0M325.7 472.8h0M325.9 465.8h0M324.8 470.9h0M325.5 469.8h0" stroke="#111" stroke-width="1.0" stroke-linecap="round" fill="none"/>
<rect x="326.7" y="481.2" width="2.5" height="11.99" fill="#ee66e6"/>
<line x1="327.9" y1="478.9" x2="327.9" y2="482.6" stroke="#222" stroke-width="0.3"/>
<line x1="327.1" y1="478.9" x2="328.8" y2="478.9" stroke="#222" stroke-width="0.35"/>
<path d="M327.5 482h0M327.8 480.4h0M327.6 479.7h0M328.1 481.1h0M328.5 479.7h0" stroke="#111" stroke-width="1.0" stroke-linecap="round" fill="none"/>
<rect x="329.2" y="459.6" width="2.5" height="33.58" fill="#dfc25e"/>
<line x1="330.4" y1="453.4" x2="330.4" y2="463.4" stroke="#222" stroke-width="0.3"/>
<line x1="329.6" y1="453.4" x2="331.2" y2="453.4" stroke="#222" stroke-width="0.35"/>
<path d="M329.9 460.9h0M330 463.8h0M331.1 455.2h0M330.9 454.7h0M330.2 453h0" stroke="#111" stroke-width="1.0" stroke-linecap="round" fill="none"/>
<rect x="332" y="487" width="2.5" height="6.19" fill="#ee1c1c"/>
<line x1="333.2" y1="486.1" x2="333.2" y2="487.6" stroke="#222" stroke-width="0.3"/>
<line x1="332.4" y1="486.1" x2="334.1" y2="486.1" stroke="#222" stroke-width="0.35"/>
<path d="M332.7 487.3h0M333.4 486.7h0M333.5 486.3h0M333 486.6h0M332.6 487.7h0" stroke="#111" stroke-width="1.0" stroke-linecap="round" fill="none"/>
<rect x="334.5" y="479.3" width="2.5" height="13.85" fill="#1414e6"/>
<line x1="335.8" y1="477.8" x2="335.8" y2="480.3" stroke="#222" stroke-width="0.3"/>
<line x1="334.9" y1="477.8" x2="336.6" y2="477.8" stroke="#222" stroke-width="0.35"/>
<path d="M335.2 480.2h0M336.2 478.9h0M335.6 477.8h0M335.1 479.2h0M335.4 477.9h0" stroke="#111" stroke-width="1.0" stroke-linecap="round" fill="none"/>
<rect x="337" y="485.7" width="2.5" height="7.51" fill="#ee66e6"/>
<line x1="338.2" y1="484.1" x2="338.2" y2="486.6" stroke="#222" stroke-width="0.3"/>
<line x1="337.4" y1="484.1" x2="339.1" y2="484.1" stroke="#222" stroke-width="0.35"/>
<path d="M337.6 485h0M338.6 486.3h0M337.7 486.3h0M338.3 485.9h0M338.9 486.5h0" stroke="#111" stroke-width="1.0" stroke-linecap="round" fill="none"/>
<rect x="339.5" y="473.2" width="2.5" height="19.96" fill="#dfc25e"/>
<line x1="340.8" y1="469.8" x2="340.8" y2="475.3" stroke="#222" stroke-width="0.3"/>
<line x1="339.9" y1="469.8" x2="341.6" y2="469.8" stroke="#222" stroke-width="0.35"/>
<path d="M341.1 472.7h0M340.8 475.2h0M340.9 471.7h0M340.1 475h0M340.5 472.2h0" stroke="#111" stroke-width="1.0" stroke-linecap="round" fill="none"/>
<rect x="342.3" y="488" width="2.5" height="5.18" fill="#ee1c1c"/>
<line x1="343.5" y1="487.3" x2="343.5" y2="488.4" stroke="#222" stroke-width="0.3"/>
<line x1="342.7" y1="487.3" x2="344.3" y2="487.3" stroke="#222" stroke-width="0.35"/>
<path d="M343.6 487.8h0M344 488.1h0M343.6 488.4h0M343.5 488h0M343.9 488.3h0" stroke="#111" stroke-width="1.0" stroke-linecap="round" fill="none"/>
<rect x="344.8" y="485" width="2.5" height="8.2" fill="#1414e6"/>
<line x1="346" y1="483.4" x2="346" y2="485.9" stroke="#222" stroke-width="0.3"/>
<line x1="345.2" y1="483.4" x2="346.8" y2="483.4" stroke="#222" stroke-width="0.35"/>
<path d="M346.6 485h0M346.1 483.7h0M345.7 484.5h0M346 486.2h0M345.4 484.2h0" stroke="#111" stroke-width="1.0" stroke-linecap="round" fill="none"/>
<rect x="347.3" y="487.6" width="2.5" height="5.65" fill="#ee66e6"/>
<line x1="348.5" y1="486.5" x2="348.5" y2="488.2" stroke="#222" stroke-width="0.3"/>
<line x1="347.7" y1="486.5" x2="349.3" y2="486.5" stroke="#222" stroke-width="0.35"/>
<path d="M348.5 488.2h0M348.1 488.1h0M348.5 487.6h0M347.9 487.2h0M349 488h0" stroke="#111" stroke-width="1.0" stroke-linecap="round" fill="none"/>
<rect x="349.8" y="479" width="2.5" height="14.24" fill="#dfc25e"/>
<line x1="351" y1="476.6" x2="351" y2="480.4" stroke="#222" stroke-width="0.3"/>
<line x1="350.2" y1="476.6" x2="351.8" y2="476.6" stroke="#222" stroke-width="0.35"/>
<path d="M350.9 476.1h0M351.3 478.3h0M351.4 479.2h0M350.9 480.7h0M350.5 481.1h0" stroke="#111" stroke-width="1.0" stroke-linecap="round" fill="none"/>
<line x1="309.2" y1="430.8" x2="309.2" y2="493.2" stroke="#000" stroke-width="0.5"/>
<line x1="309.2" y1="493.2" x2="353.3" y2="493.2" stroke="#000" stroke-width="0.5"/>
<line x1="307.9" y1="493.2" x2="309.2" y2="493.2" stroke="#000" stroke-width="0.4"/>
<text x="307.2" y="494.8" font-size="4.47" text-anchor="end">0</text>
<line x1="307.9" y1="477.7" x2="309.2" y2="477.7" stroke="#000" stroke-width="0.4"/>
<text x="307.2" y="479.3" font-size="4.47" text-anchor="end">20</text>
<line x1="307.9" y1="462.2" x2="309.2" y2="462.2" stroke="#000" stroke-width="0.4"/>
<text x="307.2" y="463.8" font-size="4.47" text-anchor="end">40</text>
<line x1="307.9" y1="446.8" x2="309.2" y2="446.8" stroke="#000" stroke-width="0.4"/>
<text x="307.2" y="448.3" font-size="4.47" text-anchor="end">60</text>
<line x1="307.9" y1="431.3" x2="309.2" y2="431.3" stroke="#000" stroke-width="0.4"/>
<text x="307.2" y="432.9" font-size="4.47" text-anchor="end">80</text>
<text x="299" y="463.6" font-size="3.97" text-anchor="middle" class="s" textLength="50" lengthAdjust="spacingAndGlyphs" transform="rotate(-90 299 462.2)">Concentration (nM/10⁷ cells)</text>
<text x="316.5" y="498.9" font-size="3.82" text-anchor="middle" class="s">M+0</text>
<text x="326.6" y="498.9" font-size="3.82" text-anchor="middle" class="s">M+2</text>
<text x="336.7" y="498.9" font-size="3.82" text-anchor="middle" class="s">M+4</text>
<text x="346.8" y="498.9" font-size="3.82" text-anchor="middle" class="s">M+6</text>
<text x="331" y="504.7" font-size="4.0" text-anchor="middle" class="s" textLength="44.5" lengthAdjust="spacingAndGlyphs">Mevalonate isotopologue</text>
<text x="359.8" y="404.5" font-size="9.8" font-weight="bold" style="stroke:none">k</text>
<text x="369.7" y="403.1" font-size="4.76" textLength="90.3" lengthAdjust="spacingAndGlyphs">ERRα-bound cholesterol in primary neuron</text>
<text x="415.1" y="407.6" font-size="4.75" text-anchor="middle" textLength="54" lengthAdjust="spacingAndGlyphs">(Treatment for 120 hours)</text>
<text x="363.6" y="416.5" font-size="3.26" class="s" font-style="italic" textLength="23.5" lengthAdjust="spacingAndGlyphs">Treatment effect</text>
<text x="363.6" y="419.7" font-size="3.29" class="s" font-style="italic" textLength="41.5" lengthAdjust="spacingAndGlyphs">E2 vs. Vehicle, p = 1.46E-10</text>
<text x="363.6" y="423.4" font-size="3.31" class="s" font-style="italic" textLength="44" lengthAdjust="spacingAndGlyphs">E2+MPP vs. E2, p = 1.23E-09</text>
<text x="415.8" y="416.2" font-size="3.3" class="s" font-style="italic" textLength="57.4" lengthAdjust="spacingAndGlyphs">Treatment effect (For all isotopologues)</text>
<text x="415.8" y="419" font-size="3.28" class="s" font-style="italic" textLength="43" lengthAdjust="spacingAndGlyphs">E2 vs. Vehicle, p = 2.116E-07</text>
<text x="415.8" y="422.2" font-size="3.3" class="s" font-style="italic" textLength="42.5" lengthAdjust="spacingAndGlyphs">E2+MIF vs. E2, p = 3.45E-12</text>
<text x="415.8" y="425.1" font-size="3.23" class="s" font-style="italic" textLength="40" lengthAdjust="spacingAndGlyphs">E2+P4 vs. E2, p = 3.88E-07</text>
<line x1="378.1" y1="430.1" x2="378.1" y2="491.9" stroke="#000" stroke-width="0.5"/>
<line x1="378.1" y1="491.9" x2="406" y2="491.9" stroke="#000" stroke-width="0.5"/>
<line x1="376.8" y1="491.9" x2="378.1" y2="491.9" stroke="#000" stroke-width="0.4"/>
<text x="376.1" y="493.5" font-size="4.58" text-anchor="end">0</text>
<line x1="376.8" y1="476.6" x2="378.1" y2="476.6" stroke="#000" stroke-width="0.4"/>
<text x="376.1" y="478.2" font-size="4.58" text-anchor="end">1</text>
<line x1="376.8" y1="461.2" x2="378.1" y2="461.2" stroke="#000" stroke-width="0.4"/>
<text x="376.1" y="462.9" font-size="4.58" text-anchor="end">2</text>
<line x1="376.8" y1="445.9" x2="378.1" y2="445.9" stroke="#000" stroke-width="0.4"/>
<text x="376.1" y="447.5" font-size="4.58" text-anchor="end">3</text>
<line x1="376.8" y1="430.6" x2="378.1" y2="430.6" stroke="#000" stroke-width="0.4"/>
<text x="376.1" y="432.2" font-size="4.58" text-anchor="end">4</text>
<line x1="384" y1="472.3" x2="384" y2="480.8" stroke="#ee2a2a" stroke-width="0.35"/>
<line x1="381.9" y1="476.6" x2="386.1" y2="476.6" stroke="#ee2a2a" stroke-width="0.4"/>
<line x1="382.8" y1="472.3" x2="385.2" y2="472.3" stroke="#ee2a2a" stroke-width="0.35"/>
<line x1="382.8" y1="480.8" x2="385.2" y2="480.8" stroke="#ee2a2a" stroke-width="0.35"/>
<circle cx="383.7" cy="476.9" r="0.68" fill="#ee2a2a"/>
<circle cx="384.7" cy="472.9" r="0.68" fill="#ee2a2a"/>
<circle cx="383.3" cy="470.7" r="0.68" fill="#ee2a2a"/>
<circle cx="384" cy="480.2" r="0.68" fill="#ee2a2a"/>
<circle cx="383.5" cy="473.4" r="0.68" fill="#ee2a2a"/>
<circle cx="385" cy="474.3" r="0.68" fill="#ee2a2a"/>
<circle cx="385.3" cy="474.9" r="0.68" fill="#ee2a2a"/>
<circle cx="383.7" cy="482.7" r="0.68" fill="#ee2a2a"/>
<circle cx="385.5" cy="483.9" r="0.68" fill="#ee2a2a"/>
<circle cx="382.7" cy="484.2" r="0.68" fill="#ee2a2a"/>
<circle cx="384.9" cy="470.1" r="0.68" fill="#ee2a2a"/>
<line x1="384" y1="491.9" x2="384" y2="493.1" stroke="#000" stroke-width="0.4"/>
<line x1="391.7" y1="447.4" x2="391.7" y2="458.2" stroke="#2222ee" stroke-width="0.35"/>
<line x1="389.6" y1="452.8" x2="393.8" y2="452.8" stroke="#2222ee" stroke-width="0.4"/>
<line x1="390.5" y1="447.4" x2="392.9" y2="447.4" stroke="#2222ee" stroke-width="0.35"/>
<line x1="390.5" y1="458.2" x2="392.9" y2="458.2" stroke="#2222ee" stroke-width="0.35"/>
<circle cx="391.1" cy="444.8" r="0.68" fill="#2222ee"/>
<circle cx="390.4" cy="457.8" r="0.68" fill="#2222ee"/>
<circle cx="393" cy="447.8" r="0.68" fill="#2222ee"/>
<circle cx="391.6" cy="450.5" r="0.68" fill="#2222ee"/>
<circle cx="393.2" cy="443.4" r="0.68" fill="#2222ee"/>
<circle cx="390.6" cy="456.7" r="0.68" fill="#2222ee"/>
<circle cx="392.6" cy="450.8" r="0.68" fill="#2222ee"/>
<circle cx="392.6" cy="444.7" r="0.68" fill="#2222ee"/>
<circle cx="393" cy="449" r="0.68" fill="#2222ee"/>
<circle cx="390.3" cy="460.5" r="0.68" fill="#2222ee"/>
<circle cx="391.3" cy="442.6" r="0.68" fill="#2222ee"/>
<line x1="391.7" y1="491.9" x2="391.7" y2="493.1" stroke="#000" stroke-width="0.4"/>
<line x1="399.2" y1="470" x2="399.2" y2="478.5" stroke="#2e9a46" stroke-width="0.35"/>
<line x1="397.1" y1="474.3" x2="401.3" y2="474.3" stroke="#2e9a46" stroke-width="0.4"/>
<line x1="398" y1="470" x2="400.4" y2="470" stroke="#2e9a46" stroke-width="0.35"/>
<line x1="398" y1="478.5" x2="400.4" y2="478.5" stroke="#2e9a46" stroke-width="0.35"/>
<circle cx="400.6" cy="480.4" r="0.68" fill="#2e9a46"/>
<circle cx="399.3" cy="470.6" r="0.68" fill="#2e9a46"/>
<circle cx="398.8" cy="476.2" r="0.68" fill="#2e9a46"/>
<circle cx="398.5" cy="467.6" r="0.68" fill="#2e9a46"/>
<circle cx="400.1" cy="475.9" r="0.68" fill="#2e9a46"/>
<circle cx="398.3" cy="470.3" r="0.68" fill="#2e9a46"/>
<circle cx="399.5" cy="468.9" r="0.68" fill="#2e9a46"/>
<circle cx="399.4" cy="477.8" r="0.68" fill="#2e9a46"/>
<circle cx="399.4" cy="473.3" r="0.68" fill="#2e9a46"/>
<circle cx="398.1" cy="481.2" r="0.68" fill="#2e9a46"/>
<circle cx="399.7" cy="467.1" r="0.68" fill="#2e9a46"/>
<line x1="399.2" y1="491.9" x2="399.2" y2="493.1" stroke="#000" stroke-width="0.4"/>
<text x="364.5" y="462.7" font-size="4.24" text-anchor="middle" textLength="37.5" lengthAdjust="spacingAndGlyphs" transform="rotate(-90 364.5 461.2)">Relative abundance</text>
<text x="368.6" y="462.7" font-size="4.27" text-anchor="middle" textLength="61.5" lengthAdjust="spacingAndGlyphs" transform="rotate(-90 368.6 461.2)">[Normalized against ERRα level]</text>
<text x="376.5" y="499.1" font-size="4.47" text-anchor="end">E2</text>
<text x="384" y="498.9" font-size="4.58" text-anchor="middle">−</text>
<text x="391.7" y="498.9" font-size="4.58" text-anchor="middle">+</text>
<text x="399.2" y="498.9" font-size="4.58" text-anchor="middle">+</text>
<text x="376.5" y="503" font-size="4.47" text-anchor="end">MPP</text>
<text x="384" y="502.8" font-size="4.58" text-anchor="middle">−</text>
<text x="391.7" y="502.8" font-size="4.58" text-anchor="middle">−</text>
<text x="399.2" y="502.8" font-size="4.58" text-anchor="middle">+</text>
<line x1="425.3" y1="430.1" x2="425.3" y2="491.9" stroke="#000" stroke-width="0.5"/>
<line x1="425.3" y1="491.9" x2="460.5" y2="491.9" stroke="#000" stroke-width="0.5"/>
<line x1="424" y1="491.9" x2="425.3" y2="491.9" stroke="#000" stroke-width="0.4"/>
<text x="423.3" y="493.5" font-size="4.58" text-anchor="end">0</text>
<line x1="424" y1="479.6" x2="425.3" y2="479.6" stroke="#000" stroke-width="0.4"/>
<text x="423.3" y="481.2" font-size="4.58" text-anchor="end">1</text>
<line x1="424" y1="467.4" x2="425.3" y2="467.4" stroke="#000" stroke-width="0.4"/>
<text x="423.3" y="469" font-size="4.58" text-anchor="end">2</text>
<line x1="424" y1="455.1" x2="425.3" y2="455.1" stroke="#000" stroke-width="0.4"/>
<text x="423.3" y="456.7" font-size="4.58" text-anchor="end">3</text>
<line x1="424" y1="442.9" x2="425.3" y2="442.9" stroke="#000" stroke-width="0.4"/>
<text x="423.3" y="444.5" font-size="4.58" text-anchor="end">4</text>
<line x1="424" y1="430.6" x2="425.3" y2="430.6" stroke="#000" stroke-width="0.4"/>
<text x="423.3" y="432.2" font-size="4.58" text-anchor="end">5</text>
<line x1="432.1" y1="470.6" x2="432.1" y2="478.9" stroke="#ee2a2a" stroke-width="0.35"/>
<line x1="430" y1="474.7" x2="434.2" y2="474.7" stroke="#ee2a2a" stroke-width="0.4"/>
<line x1="430.9" y1="470.6" x2="433.3" y2="470.6" stroke="#ee2a2a" stroke-width="0.35"/>
<line x1="430.9" y1="478.9" x2="433.3" y2="478.9" stroke="#ee2a2a" stroke-width="0.35"/>
<circle cx="431.4" cy="467.1" r="0.68" fill="#ee2a2a"/>
<circle cx="432.5" cy="475.3" r="0.68" fill="#ee2a2a"/>
<circle cx="432.8" cy="475.1" r="0.68" fill="#ee2a2a"/>
<circle cx="431.5" cy="467.2" r="0.68" fill="#ee2a2a"/>
<circle cx="430.8" cy="471.7" r="0.68" fill="#ee2a2a"/>
<circle cx="433.6" cy="475.9" r="0.68" fill="#ee2a2a"/>
<circle cx="433.3" cy="479.5" r="0.68" fill="#ee2a2a"/>
<circle cx="430.7" cy="469.3" r="0.68" fill="#ee2a2a"/>
<circle cx="432.3" cy="474.9" r="0.68" fill="#ee2a2a"/>
<circle cx="432.7" cy="473.2" r="0.68" fill="#ee2a2a"/>
<circle cx="431.8" cy="479.6" r="0.68" fill="#ee2a2a"/>
<circle cx="432.8" cy="465.9" r="0.68" fill="#ee2a2a"/>
<line x1="432.1" y1="491.9" x2="432.1" y2="493.1" stroke="#000" stroke-width="0.4"/>
<line x1="440" y1="456.7" x2="440" y2="463.3" stroke="#2222ee" stroke-width="0.35"/>
<line x1="437.9" y1="460" x2="442.1" y2="460" stroke="#2222ee" stroke-width="0.4"/>
<line x1="438.8" y1="456.7" x2="441.2" y2="456.7" stroke="#2222ee" stroke-width="0.35"/>
<line x1="438.8" y1="463.3" x2="441.2" y2="463.3" stroke="#2222ee" stroke-width="0.35"/>
<circle cx="440.9" cy="453.1" r="0.68" fill="#2222ee"/>
<circle cx="438.6" cy="457.2" r="0.68" fill="#2222ee"/>
<circle cx="441.3" cy="459.4" r="0.68" fill="#2222ee"/>
<circle cx="438.8" cy="461.5" r="0.68" fill="#2222ee"/>
<circle cx="440.8" cy="460.9" r="0.68" fill="#2222ee"/>
<circle cx="441" cy="462" r="0.68" fill="#2222ee"/>
<circle cx="440.5" cy="462.5" r="0.68" fill="#2222ee"/>
<circle cx="439.7" cy="461.4" r="0.68" fill="#2222ee"/>
<circle cx="438.7" cy="454.4" r="0.68" fill="#2222ee"/>
<circle cx="438.8" cy="457.8" r="0.68" fill="#2222ee"/>
<circle cx="440.4" cy="454.8" r="0.68" fill="#2222ee"/>
<circle cx="439.2" cy="453.5" r="0.68" fill="#2222ee"/>
<circle cx="440.1" cy="463.7" r="0.68" fill="#2222ee"/>
<circle cx="439.3" cy="452.7" r="0.68" fill="#2222ee"/>
<line x1="440" y1="491.9" x2="440" y2="493.1" stroke="#000" stroke-width="0.4"/>
<line x1="447.5" y1="480.1" x2="447.5" y2="485.3" stroke="#ee55ee" stroke-width="0.35"/>
<line x1="445.4" y1="482.7" x2="449.6" y2="482.7" stroke="#ee55ee" stroke-width="0.4"/>
<line x1="446.3" y1="480.1" x2="448.7" y2="480.1" stroke="#ee55ee" stroke-width="0.35"/>
<line x1="446.3" y1="485.3" x2="448.7" y2="485.3" stroke="#ee55ee" stroke-width="0.35"/>
<circle cx="448.9" cy="485.6" r="0.68" fill="#ee55ee"/>
<circle cx="448.3" cy="484.5" r="0.68" fill="#ee55ee"/>
<circle cx="446.7" cy="480.8" r="0.68" fill="#ee55ee"/>
<circle cx="447" cy="482.8" r="0.68" fill="#ee55ee"/>
<circle cx="446.6" cy="483.6" r="0.68" fill="#ee55ee"/>
<circle cx="447.1" cy="482.8" r="0.68" fill="#ee55ee"/>
<circle cx="446.1" cy="482.2" r="0.68" fill="#ee55ee"/>
<circle cx="448.2" cy="482.6" r="0.68" fill="#ee55ee"/>
<circle cx="447.7" cy="483.2" r="0.68" fill="#ee55ee"/>
<circle cx="447.3" cy="487" r="0.68" fill="#ee55ee"/>
<circle cx="448.7" cy="478.4" r="0.68" fill="#ee55ee"/>
<line x1="447.5" y1="491.9" x2="447.5" y2="493.1" stroke="#000" stroke-width="0.4"/>
<line x1="455.5" y1="439.1" x2="455.5" y2="451.6" stroke="#e8b838" stroke-width="0.35"/>
<line x1="453.4" y1="445.3" x2="457.6" y2="445.3" stroke="#e8b838" stroke-width="0.4"/>
<line x1="454.3" y1="439.1" x2="456.7" y2="439.1" stroke="#e8b838" stroke-width="0.35"/>
<line x1="454.3" y1="451.6" x2="456.7" y2="451.6" stroke="#e8b838" stroke-width="0.35"/>
<circle cx="454.9" cy="449.5" r="0.68" fill="#e8b838"/>
<circle cx="455.1" cy="444.3" r="0.68" fill="#e8b838"/>
<circle cx="455.8" cy="437" r="0.68" fill="#e8b838"/>
<circle cx="455.6" cy="444.8" r="0.68" fill="#e8b838"/>
<circle cx="455.6" cy="443.6" r="0.68" fill="#e8b838"/>
<circle cx="454.6" cy="448.7" r="0.68" fill="#e8b838"/>
<circle cx="455.7" cy="435.5" r="0.68" fill="#e8b838"/>
<circle cx="456.1" cy="440.6" r="0.68" fill="#e8b838"/>
<circle cx="456.3" cy="456.3" r="0.68" fill="#e8b838"/>
<circle cx="455.3" cy="435.5" r="0.68" fill="#e8b838"/>
<line x1="455.5" y1="491.9" x2="455.5" y2="493.1" stroke="#000" stroke-width="0.4"/>
<text x="412.1" y="462.7" font-size="4.24" text-anchor="middle" textLength="37.5" lengthAdjust="spacingAndGlyphs" transform="rotate(-90 412.1 461.2)">Relative abundance</text>
<text x="416.2" y="462.7" font-size="4.27" text-anchor="middle" textLength="61.5" lengthAdjust="spacingAndGlyphs" transform="rotate(-90 416.2 461.2)">[Normalized against ERRα level]</text>
<text x="423" y="499.1" font-size="4.47" text-anchor="end">E2</text>
<text x="432.1" y="498.9" font-size="4.58" text-anchor="middle">−</text>
<text x="440" y="498.9" font-size="4.58" text-anchor="middle">+</text>
<text x="447.5" y="498.9" font-size="4.58" text-anchor="middle">+</text>
<text x="455.5" y="498.9" font-size="4.58" text-anchor="middle">+</text>
<text x="423" y="503" font-size="4.47" text-anchor="end">P4</text>
<text x="432.1" y="502.8" font-size="4.58" text-anchor="middle">−</text>
<text x="440" y="502.8" font-size="4.58" text-anchor="middle">−</text>
<text x="447.5" y="502.8" font-size="4.58" text-anchor="middle">−</text>
<text x="455.5" y="502.8" font-size="4.58" text-anchor="middle">+</text>
<text x="423" y="507.2" font-size="4.47" text-anchor="end">MIF</text>
<text x="432.1" y="507" font-size="4.58" text-anchor="middle">−</text>
<text x="440" y="507" font-size="4.58" text-anchor="middle">−</text>
<text x="447.5" y="507" font-size="4.58" text-anchor="middle">+</text>
<text x="455.5" y="507" font-size="4.58" text-anchor="middle">−</text>
<text x="474.8" y="404.2" font-size="9.8" font-weight="bold" style="stroke:none">l</text>
<text x="526.5" y="403.5" font-size="4.9" text-anchor="middle" textLength="33.5" lengthAdjust="spacingAndGlyphs">Primary neuron</text>
<text x="526.4" y="408" font-size="4.84" text-anchor="middle" textLength="55" lengthAdjust="spacingAndGlyphs">(Treatment for 120 hours)</text>
<text x="496.5" y="421.6" font-size="4.58" text-anchor="end">E2</text>
<text x="496.5" y="426.8" font-size="4.58" text-anchor="end">MPP</text>
<text x="503.3" y="421.4" font-size="4.58" text-anchor="middle">−</text>
<text x="511.3" y="421.4" font-size="4.58" text-anchor="middle">+</text>
<text x="518.7" y="421.4" font-size="4.58" text-anchor="middle">+</text>
<text x="503.3" y="426.6" font-size="4.58" text-anchor="middle">−</text>
<text x="511.3" y="426.6" font-size="4.58" text-anchor="middle">−</text>
<text x="518.7" y="426.6" font-size="4.58" text-anchor="middle">+</text>
<text x="533.3" y="416.6" font-size="4.58" text-anchor="end">E2</text>
<text x="533.3" y="421.6" font-size="4.58" text-anchor="end">P4</text>
<text x="533.3" y="426.8" font-size="4.58" text-anchor="end">MIF</text>
<text x="537.8" y="416.4" font-size="4.58" text-anchor="middle">−</text>
<text x="544.8" y="416.4" font-size="4.58" text-anchor="middle">+</text>
<text x="552.1" y="416.4" font-size="4.58" text-anchor="middle">+</text>
<text x="559.3" y="416.4" font-size="4.58" text-anchor="middle">+</text>
<text x="537.8" y="421.4" font-size="4.58" text-anchor="middle">−</text>
<text x="544.8" y="421.4" font-size="4.58" text-anchor="middle">−</text>
<text x="552.1" y="421.4" font-size="4.58" text-anchor="middle">−</text>
<text x="559.3" y="421.4" font-size="4.58" text-anchor="middle">+</text>
<text x="537.8" y="426.6" font-size="4.58" text-anchor="middle">−</text>
<text x="544.8" y="426.6" font-size="4.58" text-anchor="middle">−</text>
<text x="552.1" y="426.6" font-size="4.58" text-anchor="middle">+</text>
<text x="559.3" y="426.6" font-size="4.58" text-anchor="middle">−</text>
<text x="566.2" y="426.7" font-size="4.36">kDa</text>
<rect x="498.8" y="429.5" width="24.5" height="13.1" fill="#cdcdcd" stroke="#333" stroke-width="0.45"/>
<g filter="url(#bl)">
<rect x="500" y="435.1" width="6.6" height="2" fill="#0a0a0a" rx="0.8" opacity="0.35"/>
<rect x="508" y="435.1" width="6.6" height="2" fill="#0a0a0a" rx="0.8" opacity="0.8"/>
<rect x="515.4" y="435.1" width="6.6" height="2" fill="#0a0a0a" rx="0.8" opacity="0.25"/>
</g>
<rect x="531.7" y="429.5" width="32.4" height="13.1" fill="#f6f6f6" stroke="#333" stroke-width="0.45"/>
<g filter="url(#bl)">
<rect x="534.8" y="435.9" width="6" height="1.6" fill="#0a0a0a" rx="0.8" opacity="0.25"/>
<rect x="541.8" y="435.9" width="6" height="1.6" fill="#0a0a0a" rx="0.8" opacity="0.9"/>
<rect x="549.1" y="435.9" width="6" height="1.6" fill="#0a0a0a" rx="0.8" opacity="0.55"/>
<rect x="556.3" y="435.9" width="6" height="1.6" fill="#0a0a0a" rx="0.8" opacity="1"/>
</g>
<text x="496" y="435.1" font-size="4.25" text-anchor="end">IP:ERRα</text>
<text x="496" y="440" font-size="4.25" text-anchor="end">IB: PGC1α</text>
<text x="564.8" y="437.9" font-size="4.36">−100</text>
<rect x="498.8" y="444.2" width="24.5" height="13.2" fill="#c9c9c9" stroke="#333" stroke-width="0.45"/>
<g filter="url(#bl)">
<rect x="500" y="447.6" width="6.6" height="6.4" fill="#444" rx="0.8" opacity="0.125"/>
<rect x="500" y="449.8" width="6.6" height="2" fill="#0a0a0a" rx="0.8" opacity="0.5"/>
<rect x="508" y="447.6" width="6.6" height="6.4" fill="#444" rx="0.8" opacity="0.1875"/>
<rect x="508" y="449.8" width="6.6" height="2" fill="#0a0a0a" rx="0.8" opacity="0.75"/>
<rect x="515.4" y="447.6" width="6.6" height="6.4" fill="#444" rx="0.8" opacity="0.05"/>
<rect x="515.4" y="449.8" width="6.6" height="2" fill="#0a0a0a" rx="0.8" opacity="0.2"/>
</g>
<rect x="531.7" y="444.2" width="32.4" height="13.2" fill="#f6f6f6" stroke="#333" stroke-width="0.45"/>
<g filter="url(#bl)">
<rect x="534.8" y="450.7" width="6" height="1.6" fill="#0a0a0a" rx="0.8" opacity="0.08"/>
<rect x="541.8" y="450.7" width="6" height="1.6" fill="#0a0a0a" rx="0.8" opacity="0.6"/>
<rect x="549.1" y="450.7" width="6" height="1.6" fill="#0a0a0a" rx="0.8" opacity="0.12"/>
<rect x="556.3" y="450.7" width="6" height="1.6" fill="#0a0a0a" rx="0.8" opacity="0.9"/>
</g>
<text x="496" y="449.9" font-size="4.25" text-anchor="end">IP: PGC1α</text>
<text x="496" y="454.8" font-size="4.25" text-anchor="end">IB:ERRα</text>
<text x="564.8" y="452.6" font-size="4.36">−50</text>
<rect x="498.8" y="459.7" width="24.5" height="12.4" fill="#ececec" stroke="#333" stroke-width="0.45"/>
<g filter="url(#bl)">
<rect x="500" y="464.5" width="6.6" height="2.8" fill="#0a0a0a" rx="0.8" opacity="1"/>
<rect x="508" y="464.5" width="6.6" height="2.8" fill="#0a0a0a" rx="0.8" opacity="0.95"/>
<rect x="515.4" y="464.5" width="6.6" height="2.8" fill="#0a0a0a" rx="0.8" opacity="1"/>
</g>
<rect x="531.7" y="459.7" width="32.4" height="12.4" fill="#f3f3f3" stroke="#333" stroke-width="0.45"/>
<g filter="url(#bl)">
<rect x="534.8" y="465.4" width="6" height="2.3" fill="#0a0a0a" rx="0.8" opacity="0.95"/>
<rect x="541.8" y="465.4" width="6" height="2.3" fill="#0a0a0a" rx="0.8" opacity="0.95"/>
<rect x="549.1" y="465.4" width="6" height="2.3" fill="#0a0a0a" rx="0.8" opacity="0.95"/>
<rect x="556.3" y="465.4" width="6" height="2.3" fill="#0a0a0a" rx="0.8" opacity="0.95"/>
</g>
<text x="496" y="465" font-size="4.25" text-anchor="end">INPUT</text>
<text x="496" y="469.9" font-size="4.25" text-anchor="end">ERRα</text>
<text x="564.8" y="467.7" font-size="4.36">−50</text>
<rect x="498.8" y="474" width="24.5" height="13.6" fill="#c4c4c4" stroke="#333" stroke-width="0.45"/>
<g filter="url(#bl)">
<rect x="500" y="477.6" width="6.6" height="6.4" fill="#444" rx="0.8" opacity="0.125"/>
<rect x="500" y="479.8" width="6.6" height="2" fill="#0a0a0a" rx="0.8" opacity="0.5"/>
<rect x="508" y="477.6" width="6.6" height="6.4" fill="#444" rx="0.8" opacity="0.2"/>
<rect x="508" y="479.8" width="6.6" height="2" fill="#0a0a0a" rx="0.8" opacity="0.8"/>
<rect x="515.4" y="477.6" width="6.6" height="6.4" fill="#444" rx="0.8" opacity="0.1"/>
<rect x="515.4" y="479.8" width="6.6" height="2" fill="#0a0a0a" rx="0.8" opacity="0.4"/>
</g>
<rect x="531.7" y="474" width="32.4" height="13.6" fill="#efefef" stroke="#333" stroke-width="0.45"/>
<g filter="url(#bl)">
<rect x="534.8" y="480.7" width="6" height="1.6" fill="#0a0a0a" rx="0.8" opacity="0.3"/>
<rect x="541.8" y="480.7" width="6" height="1.6" fill="#0a0a0a" rx="0.8" opacity="0.85"/>
<rect x="549.1" y="480.7" width="6" height="1.6" fill="#0a0a0a" rx="0.8" opacity="0.45"/>
<rect x="556.3" y="480.7" width="6" height="1.6" fill="#0a0a0a" rx="0.8" opacity="0.95"/>
</g>
<text x="496" y="479.9" font-size="4.25" text-anchor="end">INPUT</text>
<text x="496" y="484.8" font-size="4.25" text-anchor="end">PGC1α</text>
<text x="564.8" y="482.6" font-size="4.36">−100</text>
<rect x="498.8" y="489.8" width="24.5" height="11.4" fill="#efefef" stroke="#333" stroke-width="0.45"/>
<g filter="url(#bl)">
<rect x="500" y="494.1" width="6.6" height="2.8" fill="#0a0a0a" rx="0.8" opacity="0.95"/>
<rect x="508" y="494.1" width="6.6" height="2.8" fill="#0a0a0a" rx="0.8" opacity="0.9"/>
<rect x="515.4" y="494.1" width="6.6" height="2.8" fill="#0a0a0a" rx="0.8" opacity="0.95"/>
</g>
<rect x="531.7" y="489.8" width="32.4" height="11.4" fill="#f6f6f6" stroke="#333" stroke-width="0.45"/>
<g filter="url(#bl)">
<rect x="534.8" y="494.9" width="6" height="2.3" fill="#0a0a0a" rx="0.8" opacity="1"/>
<rect x="541.8" y="494.9" width="6" height="2.3" fill="#0a0a0a" rx="0.8" opacity="1"/>
<rect x="549.1" y="494.9" width="6" height="2.3" fill="#0a0a0a" rx="0.8" opacity="1"/>
<rect x="556.3" y="494.9" width="6" height="2.3" fill="#0a0a0a" rx="0.8" opacity="1"/>
</g>
<text x="496" y="494.6" font-size="4.25" text-anchor="end">INPUT</text>
<text x="496" y="499.5" font-size="4.25" text-anchor="end">ACTIN</text>
<text x="564.8" y="497.3" font-size="4.36">−45</text>
<text x="580.8" y="404" font-size="9.8" font-weight="bold" style="stroke:none">m</text>
<text x="636.1" y="402.4" font-size="4.55" text-anchor="middle" textLength="69" lengthAdjust="spacingAndGlyphs">Net (pGL-3xERRE - pGL-Basic) in</text>
<text x="636.2" y="407.5" font-size="4.8" text-anchor="middle" textLength="84.8" lengthAdjust="spacingAndGlyphs">primary neruon, treatment for 120 hours</text>
<text x="586.6" y="416.1" font-size="3.26" class="s" font-style="italic" textLength="23.5" lengthAdjust="spacingAndGlyphs">Treatment effect</text>
<text x="586.6" y="419.5" font-size="3.24" class="s" font-style="italic" textLength="34.5" lengthAdjust="spacingAndGlyphs">E2 vs vehicle, p = 0.005</text>
<text x="586.6" y="422.7" font-size="3.3" class="s" font-style="italic" textLength="42.5" lengthAdjust="spacingAndGlyphs">E2+MPP vs. E2, p = 0.00006</text>
<text x="643.3" y="416.1" font-size="3.26" class="s" font-style="italic" textLength="23.5" lengthAdjust="spacingAndGlyphs">Treatment effect</text>
<text x="643.3" y="419.5" font-size="3.19" class="s" font-style="italic" textLength="34.5" lengthAdjust="spacingAndGlyphs">E2 vs vehicle, p &lt; 1E-15</text>
<text x="643.3" y="422.6" font-size="3.26" class="s" font-style="italic" textLength="37.5" lengthAdjust="spacingAndGlyphs">E2+MIF vs. E2, p &lt; 1E-15</text>
<text x="643.3" y="425.8" font-size="3.35" class="s" font-style="italic" textLength="40" lengthAdjust="spacingAndGlyphs">E2+P4 vs. E2, p = 0.00002</text>
<line x1="597.9" y1="429" x2="597.9" y2="490.3" stroke="#000" stroke-width="0.5"/>
<line x1="597.9" y1="490.3" x2="621.7" y2="490.3" stroke="#000" stroke-width="0.5"/>
<line x1="596.6" y1="490.3" x2="597.9" y2="490.3" stroke="#000" stroke-width="0.4"/>
<text x="595.9" y="491.9" font-size="4.58" text-anchor="end">0</text>
<line x1="596.6" y1="475.1" x2="597.9" y2="475.1" stroke="#000" stroke-width="0.4"/>
<text x="595.9" y="476.7" font-size="4.58" text-anchor="end">2</text>
<line x1="596.6" y1="459.9" x2="597.9" y2="459.9" stroke="#000" stroke-width="0.4"/>
<text x="595.9" y="461.5" font-size="4.58" text-anchor="end">4</text>
<line x1="596.6" y1="444.7" x2="597.9" y2="444.7" stroke="#000" stroke-width="0.4"/>
<text x="595.9" y="446.3" font-size="4.58" text-anchor="end">6</text>
<line x1="596.6" y1="429.5" x2="597.9" y2="429.5" stroke="#000" stroke-width="0.4"/>
<text x="595.9" y="431.1" font-size="4.58" text-anchor="end">8</text>
<line x1="603.1" y1="481.4" x2="603.1" y2="485.5" stroke="#f06a6a" stroke-width="0.35"/>
<line x1="601" y1="483.5" x2="605.2" y2="483.5" stroke="#f06a6a" stroke-width="0.4"/>
<line x1="601.9" y1="481.4" x2="604.3" y2="481.4" stroke="#f06a6a" stroke-width="0.35"/>
<line x1="601.9" y1="485.5" x2="604.3" y2="485.5" stroke="#f06a6a" stroke-width="0.35"/>
<circle cx="602.4" cy="481.1" r="0.68" fill="#f06a6a"/>
<circle cx="602.4" cy="480.4" r="0.68" fill="#f06a6a"/>
<circle cx="602.6" cy="482.2" r="0.68" fill="#f06a6a"/>
<circle cx="602.4" cy="482.2" r="0.68" fill="#f06a6a"/>
<circle cx="601.9" cy="483" r="0.68" fill="#f06a6a"/>
<circle cx="602.6" cy="478.9" r="0.68" fill="#f06a6a"/>
<circle cx="602.5" cy="483.8" r="0.68" fill="#f06a6a"/>
<circle cx="603.3" cy="484.7" r="0.68" fill="#f06a6a"/>
<circle cx="602.2" cy="485.7" r="0.68" fill="#f06a6a"/>
<circle cx="601.8" cy="478.9" r="0.68" fill="#f06a6a"/>
<line x1="603.1" y1="490.3" x2="603.1" y2="491.5" stroke="#000" stroke-width="0.4"/>
<line x1="610.4" y1="447.2" x2="610.4" y2="469.6" stroke="#3a3aee" stroke-width="0.35"/>
<line x1="608.3" y1="458.4" x2="612.5" y2="458.4" stroke="#3a3aee" stroke-width="0.4"/>
<line x1="609.2" y1="447.2" x2="611.6" y2="447.2" stroke="#3a3aee" stroke-width="0.35"/>
<line x1="609.2" y1="469.6" x2="611.6" y2="469.6" stroke="#3a3aee" stroke-width="0.35"/>
<circle cx="610.1" cy="471.4" r="0.68" fill="#3a3aee"/>
<circle cx="610.9" cy="458.7" r="0.68" fill="#3a3aee"/>
<circle cx="609.8" cy="464.4" r="0.68" fill="#3a3aee"/>
<circle cx="611.6" cy="451.6" r="0.68" fill="#3a3aee"/>
<circle cx="611.4" cy="449" r="0.68" fill="#3a3aee"/>
<circle cx="611.3" cy="463.5" r="0.68" fill="#3a3aee"/>
<circle cx="611.8" cy="475.2" r="0.68" fill="#3a3aee"/>
<circle cx="609.6" cy="451.8" r="0.68" fill="#3a3aee"/>
<circle cx="610.5" cy="450.8" r="0.68" fill="#3a3aee"/>
<circle cx="611.1" cy="478.9" r="0.68" fill="#3a3aee"/>
<circle cx="611.3" cy="441.7" r="0.68" fill="#3a3aee"/>
<line x1="610.4" y1="490.3" x2="610.4" y2="491.5" stroke="#000" stroke-width="0.4"/>
<line x1="617.6" y1="481.6" x2="617.6" y2="487.6" stroke="#2e9a46" stroke-width="0.35"/>
<line x1="615.5" y1="484.6" x2="619.7" y2="484.6" stroke="#2e9a46" stroke-width="0.4"/>
<line x1="616.4" y1="481.6" x2="618.8" y2="481.6" stroke="#2e9a46" stroke-width="0.35"/>
<line x1="616.4" y1="487.6" x2="618.8" y2="487.6" stroke="#2e9a46" stroke-width="0.35"/>
<circle cx="617.5" cy="483.4" r="0.68" fill="#2e9a46"/>
<circle cx="616.5" cy="485.9" r="0.68" fill="#2e9a46"/>
<circle cx="617.5" cy="481.1" r="0.68" fill="#2e9a46"/>
<circle cx="617.6" cy="486.2" r="0.68" fill="#2e9a46"/>
<circle cx="617.2" cy="480.3" r="0.68" fill="#2e9a46"/>
<circle cx="618.8" cy="487.2" r="0.68" fill="#2e9a46"/>
<circle cx="618.7" cy="482.8" r="0.68" fill="#2e9a46"/>
<circle cx="618.8" cy="487.3" r="0.68" fill="#2e9a46"/>
<circle cx="616.8" cy="477.4" r="0.68" fill="#2e9a46"/>
<line x1="617.6" y1="490.3" x2="617.6" y2="491.5" stroke="#000" stroke-width="0.4"/>
<text x="587.7" y="461.3" font-size="4.12" text-anchor="middle" textLength="54" lengthAdjust="spacingAndGlyphs" transform="rotate(-90 587.7 459.9)">Luciferase assay (vs. vehicle)</text>
<text x="593.4" y="497.6" font-size="4.47" text-anchor="end">E2</text>
<text x="603.1" y="497.4" font-size="4.58" text-anchor="middle">−</text>
<text x="610.4" y="497.4" font-size="4.58" text-anchor="middle">+</text>
<text x="617.6" y="497.4" font-size="4.58" text-anchor="middle">+</text>
<text x="593.4" y="503" font-size="4.47" text-anchor="end">MPP</text>
<text x="603.1" y="502.8" font-size="4.58" text-anchor="middle">−</text>
<text x="610.4" y="502.8" font-size="4.58" text-anchor="middle">−</text>
<text x="617.6" y="502.8" font-size="4.58" text-anchor="middle">+</text>
<line x1="642.6" y1="429" x2="642.6" y2="490.3" stroke="#000" stroke-width="0.5"/>
<line x1="642.6" y1="490.3" x2="677.3" y2="490.3" stroke="#000" stroke-width="0.5"/>
<line x1="641.3" y1="490.3" x2="642.6" y2="490.3" stroke="#000" stroke-width="0.4"/>
<text x="640.6" y="491.9" font-size="4.58" text-anchor="end">0</text>
<line x1="641.3" y1="470" x2="642.6" y2="470" stroke="#000" stroke-width="0.4"/>
<text x="640.6" y="471.6" font-size="4.58" text-anchor="end">5</text>
<line x1="641.3" y1="449.8" x2="642.6" y2="449.8" stroke="#000" stroke-width="0.4"/>
<text x="640.6" y="451.4" font-size="4.58" text-anchor="end">10</text>
<line x1="641.3" y1="429.5" x2="642.6" y2="429.5" stroke="#000" stroke-width="0.4"/>
<text x="640.6" y="431.1" font-size="4.58" text-anchor="end">15</text>
<line x1="650.1" y1="484.7" x2="650.1" y2="486.2" stroke="#ee2a2a" stroke-width="0.35"/>
<line x1="648" y1="485.4" x2="652.2" y2="485.4" stroke="#ee2a2a" stroke-width="0.4"/>
<line x1="648.9" y1="484.7" x2="651.3" y2="484.7" stroke="#ee2a2a" stroke-width="0.35"/>
<line x1="648.9" y1="486.2" x2="651.3" y2="486.2" stroke="#ee2a2a" stroke-width="0.35"/>
<circle cx="649.5" cy="486.2" r="0.68" fill="#ee2a2a"/>
<circle cx="649.8" cy="485.3" r="0.68" fill="#ee2a2a"/>
<circle cx="650.8" cy="486" r="0.68" fill="#ee2a2a"/>
<circle cx="650" cy="484.5" r="0.68" fill="#ee2a2a"/>
<circle cx="649.5" cy="485.6" r="0.68" fill="#ee2a2a"/>
<circle cx="650.6" cy="485.9" r="0.68" fill="#ee2a2a"/>
<circle cx="648.7" cy="486.2" r="0.68" fill="#ee2a2a"/>
<circle cx="649.2" cy="483.8" r="0.68" fill="#ee2a2a"/>
<line x1="650.1" y1="490.3" x2="650.1" y2="491.5" stroke="#000" stroke-width="0.4"/>
<line x1="658" y1="458.4" x2="658" y2="466.2" stroke="#3a3aee" stroke-width="0.35"/>
<line x1="655.9" y1="462.3" x2="660.1" y2="462.3" stroke="#3a3aee" stroke-width="0.4"/>
<line x1="656.8" y1="458.4" x2="659.2" y2="458.4" stroke="#3a3aee" stroke-width="0.35"/>
<line x1="656.8" y1="466.2" x2="659.2" y2="466.2" stroke="#3a3aee" stroke-width="0.35"/>
<circle cx="657.3" cy="460.7" r="0.68" fill="#3a3aee"/>
<circle cx="656.8" cy="459.9" r="0.68" fill="#3a3aee"/>
<circle cx="657" cy="468.3" r="0.68" fill="#3a3aee"/>
<circle cx="657.4" cy="468.8" r="0.68" fill="#3a3aee"/>
<circle cx="657.9" cy="463.1" r="0.68" fill="#3a3aee"/>
<circle cx="656.8" cy="461.1" r="0.68" fill="#3a3aee"/>
<circle cx="658.4" cy="469.4" r="0.68" fill="#3a3aee"/>
<circle cx="659.1" cy="464" r="0.68" fill="#3a3aee"/>
<circle cx="658.6" cy="469.6" r="0.68" fill="#3a3aee"/>
<circle cx="656.7" cy="456.7" r="0.68" fill="#3a3aee"/>
<line x1="658" y1="490.3" x2="658" y2="491.5" stroke="#000" stroke-width="0.4"/>
<line x1="665.3" y1="488.5" x2="665.3" y2="489.7" stroke="#2e9a46" stroke-width="0.35"/>
<line x1="663.2" y1="489.1" x2="667.4" y2="489.1" stroke="#2e9a46" stroke-width="0.4"/>
<line x1="664.1" y1="488.5" x2="666.5" y2="488.5" stroke="#2e9a46" stroke-width="0.35"/>
<line x1="664.1" y1="489.7" x2="666.5" y2="489.7" stroke="#2e9a46" stroke-width="0.35"/>
<circle cx="666.6" cy="488.6" r="0.68" fill="#2e9a46"/>
<circle cx="665.5" cy="488.6" r="0.68" fill="#2e9a46"/>
<circle cx="665.6" cy="489.9" r="0.68" fill="#2e9a46"/>
<circle cx="666.7" cy="489.1" r="0.68" fill="#2e9a46"/>
<circle cx="664.4" cy="488.6" r="0.68" fill="#2e9a46"/>
<circle cx="665.3" cy="488" r="0.68" fill="#2e9a46"/>
<circle cx="664" cy="489.9" r="0.68" fill="#2e9a46"/>
<circle cx="666.1" cy="487.9" r="0.68" fill="#2e9a46"/>
<line x1="665.3" y1="490.3" x2="665.3" y2="491.5" stroke="#000" stroke-width="0.4"/>
<line x1="672.8" y1="450.5" x2="672.8" y2="458.8" stroke="#ee4a4a" stroke-width="0.35"/>
<line x1="670.7" y1="454.6" x2="674.9" y2="454.6" stroke="#ee4a4a" stroke-width="0.4"/>
<line x1="671.6" y1="450.5" x2="674" y2="450.5" stroke="#ee4a4a" stroke-width="0.35"/>
<line x1="671.6" y1="458.8" x2="674" y2="458.8" stroke="#ee4a4a" stroke-width="0.35"/>
<circle cx="672.8" cy="452.5" r="0.68" fill="#ee4a4a"/>
<circle cx="672.1" cy="458.6" r="0.68" fill="#ee4a4a"/>
<circle cx="674" cy="458.8" r="0.68" fill="#ee4a4a"/>
<circle cx="673.5" cy="454.3" r="0.68" fill="#ee4a4a"/>
<circle cx="674.2" cy="451.2" r="0.68" fill="#ee4a4a"/>
<circle cx="673.2" cy="459.6" r="0.68" fill="#ee4a4a"/>
<circle cx="673.3" cy="457.1" r="0.68" fill="#ee4a4a"/>
<circle cx="672.2" cy="461.5" r="0.68" fill="#ee4a4a"/>
<circle cx="672.8" cy="447.7" r="0.68" fill="#ee4a4a"/>
<line x1="672.8" y1="490.3" x2="672.8" y2="491.5" stroke="#000" stroke-width="0.4"/>
<text x="633" y="461.3" font-size="4.12" text-anchor="middle" textLength="54" lengthAdjust="spacingAndGlyphs" transform="rotate(-90 633 459.9)">Luciferase assay (vs. vehicle)</text>
<text x="640.5" y="497.6" font-size="4.47" text-anchor="end">E2</text>
<text x="650.1" y="497.4" font-size="4.58" text-anchor="middle">−</text>
<text x="658" y="497.4" font-size="4.58" text-anchor="middle">+</text>
<text x="665.3" y="497.4" font-size="4.58" text-anchor="middle">+</text>
<text x="672.8" y="497.4" font-size="4.58" text-anchor="middle">+</text>
<text x="640.5" y="503" font-size="4.47" text-anchor="end">P4</text>
<text x="650.1" y="502.8" font-size="4.58" text-anchor="middle">−</text>
<text x="658" y="502.8" font-size="4.58" text-anchor="middle">−</text>
<text x="665.3" y="502.8" font-size="4.58" text-anchor="middle">−</text>
<text x="672.8" y="502.8" font-size="4.58" text-anchor="middle">+</text>
<text x="640.5" y="508.9" font-size="4.47" text-anchor="end">MIF</text>
<text x="650.1" y="508.7" font-size="4.58" text-anchor="middle">−</text>
<text x="658" y="508.7" font-size="4.58" text-anchor="middle">−</text>
<text x="665.3" y="508.7" font-size="4.58" text-anchor="middle">+</text>
<text x="672.8" y="508.7" font-size="4.58" text-anchor="middle">−</text>
</svg>
</body></html>
